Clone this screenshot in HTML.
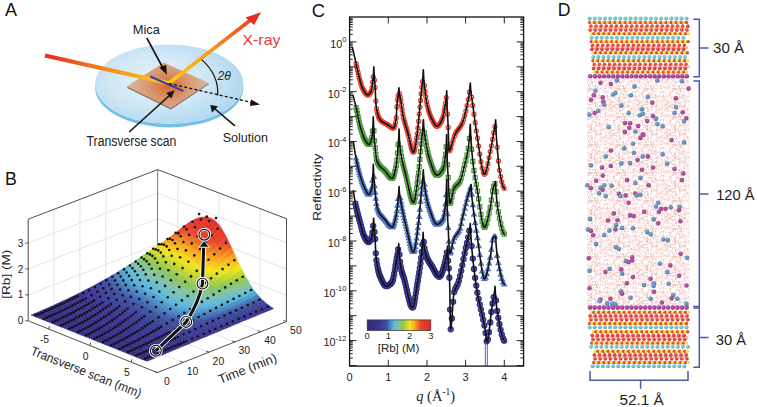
<!DOCTYPE html>
<html><head><meta charset="utf-8"><style>
html,body{margin:0;padding:0;background:#fff;width:757px;height:407px;overflow:hidden}
svg{display:block} .s path{fill:currentColor;stroke:currentColor}
text{font-family:"Liberation Sans",sans-serif}
</style></head><body>
<svg width="757" height="407" viewBox="0 0 757 407">
<rect width="757" height="407" fill="#fff"/>
<text x="5.0" y="16.2" font-size="18" fill="#111">A</text><defs>
<radialGradient id="discg" cx="0.42" cy="0.45" r="0.62">
<stop offset="0" stop-color="#e6f3fa"/><stop offset="0.55" stop-color="#cfe7f5"/><stop offset="1" stop-color="#acd6ef"/></radialGradient>
<radialGradient id="micag" gradientUnits="userSpaceOnUse" cx="168" cy="86" r="38" gradientTransform="translate(168 86) scale(1 0.75) translate(-168 -86)">
<stop offset="0" stop-color="#e0642c"/><stop offset="0.5" stop-color="#d8966e"/><stop offset="1" stop-color="#dcb49c"/></radialGradient>
<linearGradient id="beam1" gradientUnits="userSpaceOnUse" x1="45" y1="55" x2="169" y2="83">
<stop offset="0" stop-color="#e42b25"/><stop offset="0.55" stop-color="#f5921e"/><stop offset="1" stop-color="#fcd21a"/></linearGradient>
<linearGradient id="beam2" gradientUnits="userSpaceOnUse" x1="169" y1="83" x2="261" y2="12">
<stop offset="0" stop-color="#fcd21a"/><stop offset="0.5" stop-color="#f5921e"/><stop offset="1" stop-color="#e42b25"/></linearGradient>
</defs><ellipse cx="169.3" cy="87.4" rx="74.2" ry="40" fill="#78bfe8"/><ellipse cx="169.3" cy="84.5" rx="74" ry="39.6" fill="#d6ecf8"/><ellipse cx="169.3" cy="84" rx="74" ry="39.6" fill="url(#discg)"/><polygon points="126.8,86.6 163.6,62.5 209.1,82.9 171,108.2" fill="#7a6a62" transform="translate(0,1.2)"/><polygon points="126.8,86.6 163.6,62.5 209.1,82.9 171,108.2" fill="url(#micag)"/><line x1="45" y1="55.5" x2="169" y2="83.2" stroke="url(#beam1)" stroke-width="4.2"/><line x1="168" y1="84" x2="250" y2="20.5" stroke="url(#beam2)" stroke-width="3.6"/><polygon points="261,12.2 245.5,17.5 254,25" fill="#e42b25"/><line x1="150.2" y1="76.4" x2="183.4" y2="91.1" stroke="#3b3fa6" stroke-width="2.2"/><line x1="169" y1="83.5" x2="252" y2="102.5" stroke="#111" stroke-width="1.3" stroke-dasharray="3,2.2"/><polygon points="260,104.5 251,99.5 250,106" fill="#111"/><path d="M201.7,59.6 Q219,75 217.7,95.5" fill="none" stroke="#111" stroke-width="1.2"/><text x="217.5" y="80" font-size="12" font-style="italic" fill="#222" style="font-family:'Liberation Sans'">2θ</text><line x1="146.8" y1="38" x2="163.2" y2="68.5" stroke="#111" stroke-width="1.6"/><polygon points="166.8,74.8 159.3,67.6 166.2,64.8" fill="#111"/><line x1="129.2" y1="132" x2="170" y2="95" stroke="#111" stroke-width="1.6"/><polygon points="174.7,90.3 166.2,93 171.3,98.6" fill="#111"/><line x1="234.9" y1="125.9" x2="214.5" y2="108.5" stroke="#111" stroke-width="1.6"/><polygon points="210.3,105 212,112.6 218,106.2" fill="#111"/><text x="132.7" y="34.4" font-size="13.2" textLength="27.2" lengthAdjust="spacingAndGlyphs" fill="#222">Mica</text><text x="242.5" y="45.1" font-size="14.5" textLength="37.9" lengthAdjust="spacingAndGlyphs" fill="#e03a35">X-ray</text><text x="86.6" y="146" font-size="14" textLength="89.8" lengthAdjust="spacingAndGlyphs" fill="#222">Transverse scan</text><text x="222.7" y="142" font-size="13.6" textLength="45.4" lengthAdjust="spacingAndGlyphs" fill="#222">Solution</text><text x="5.0" y="184.9" font-size="17.8" fill="#111">B</text><line x1="54.0" y1="310.6" x2="54.1" y2="209.3" stroke="#dcdcdc" stroke-width="0.8"/><line x1="54.0" y1="310.6" x2="183.1" y2="362.4" stroke="#dcdcdc" stroke-width="0.8"/><line x1="79.8" y1="300.4" x2="80.0" y2="199.4" stroke="#dcdcdc" stroke-width="0.8"/><line x1="79.8" y1="300.4" x2="208.9" y2="352.2" stroke="#dcdcdc" stroke-width="0.8"/><line x1="105.7" y1="290.2" x2="105.9" y2="189.4" stroke="#dcdcdc" stroke-width="0.8"/><line x1="105.7" y1="290.2" x2="234.8" y2="342.0" stroke="#dcdcdc" stroke-width="0.8"/><line x1="131.5" y1="280.0" x2="131.8" y2="179.5" stroke="#dcdcdc" stroke-width="0.8"/><line x1="131.5" y1="280.0" x2="260.6" y2="331.8" stroke="#dcdcdc" stroke-width="0.8"/><polyline points="28.2,294.9 157.4,244.3 286.4,295.4" fill="none" stroke="#dcdcdc" stroke-width="0.8"/><polyline points="28.2,269.0 157.5,218.7 286.5,269.1" fill="none" stroke="#dcdcdc" stroke-width="0.8"/><polyline points="28.2,243.1 157.6,193.2 286.5,242.9" fill="none" stroke="#dcdcdc" stroke-width="0.8"/><line x1="177.6" y1="277.9" x2="177.9" y2="177.3" stroke="#dcdcdc" stroke-width="0.8"/><line x1="48.5" y1="328.9" x2="177.6" y2="277.9" stroke="#dcdcdc" stroke-width="0.8"/><line x1="218.8" y1="294.5" x2="219.1" y2="193.0" stroke="#dcdcdc" stroke-width="0.8"/><line x1="89.7" y1="345.5" x2="218.8" y2="294.5" stroke="#dcdcdc" stroke-width="0.8"/><line x1="260.0" y1="311.0" x2="260.2" y2="208.7" stroke="#dcdcdc" stroke-width="0.8"/><line x1="130.9" y1="362.0" x2="260.0" y2="311.0" stroke="#dcdcdc" stroke-width="0.8"/><polyline points="28.2,320.8 28.2,219.2 157.7,169.6 286.5,218.7 286.4,321.6" fill="none" stroke="#3a3a3a" stroke-width="0.9"/><polyline points="28.2,320.8 157.3,372.6 286.4,321.6" fill="none" stroke="#3a3a3a" stroke-width="0.9"/><line x1="157.3" y1="269.8" x2="157.7" y2="169.6" stroke="#555" stroke-width="0.8"/><g class="s" stroke-width="0.5" stroke-linejoin="round"><path color="#f6e01b" d="M154.5 247.5L157.2 246.2 160.3 243.7 157.7 245.1z"/><path color="#f6cd1c" d="M157.2 246.2L159.8 244.8 163.0 242.2 160.3 243.7z"/><path color="#dfdf23" d="M151.4 249.8L154.0 248.6 157.2 246.2 154.5 247.5z"/><path color="#f6ba1e" d="M159.8 244.8L162.4 243.2 165.6 240.4 163.0 242.2z"/><path color="#f6e41b" d="M154.0 248.6L156.6 247.3 159.8 244.8 157.2 246.2z"/><path color="#c5d82e" d="M148.2 252.0L150.8 251.0 154.0 248.6 151.4 249.8z"/><path color="#f6a81f" d="M162.4 243.2L165.1 241.5 168.2 238.6 165.6 240.4z"/><path color="#f6d21c" d="M156.6 247.3L159.3 245.8 162.4 243.2 159.8 244.8z"/><path color="#dade25" d="M150.8 251.0L153.5 249.8 156.6 247.3 154.0 248.6z"/><path color="#abd03f" d="M145.0 254.2L147.7 253.3 150.8 251.0 148.2 252.0z"/><path color="#f49321" d="M165.1 241.5L167.7 239.6 170.9 236.6 168.2 238.6z"/><path color="#f6c01d" d="M159.3 245.8L161.9 244.3 165.1 241.5 162.4 243.2z"/><path color="#f0e31d" d="M153.5 249.8L156.1 248.5 159.3 245.8 156.6 247.3z"/><path color="#c0d731" d="M147.7 253.3L150.3 252.2 153.5 249.8 150.8 251.0z"/><path color="#92c74f" d="M141.9 256.4L144.5 255.6 147.7 253.3 145.0 254.2z"/><path color="#f17e24" d="M167.7 239.6L170.3 237.7 173.5 234.6 170.9 236.6z"/><path color="#f6af1f" d="M161.9 244.3L164.5 242.6 167.7 239.6 165.1 241.5z"/><path color="#f6d81b" d="M156.1 248.5L158.7 247.0 161.9 244.3 159.3 245.8z"/><path color="#d5dc28" d="M150.3 252.2L152.9 251.1 156.1 248.5 153.5 249.8z"/><path color="#a6ce42" d="M144.5 255.6L147.1 254.7 150.3 252.2 147.7 253.3z"/><path color="#ee6926" d="M170.3 237.7L173.0 235.8 176.1 232.5 173.5 234.6z"/><path color="#89c46f" d="M138.7 258.6L141.3 257.9 144.5 255.6 141.9 256.4z"/><path color="#f59d20" d="M164.5 242.6L167.2 240.8 170.3 237.7 167.7 239.6z"/><path color="#f6c71d" d="M158.7 247.0L161.4 245.5 164.5 242.6 161.9 244.3z"/><path color="#e9e120" d="M152.9 251.1L155.6 249.7 158.7 247.0 156.1 248.5z"/><path color="#bad535" d="M147.1 254.7L149.8 253.6 152.9 251.1 150.3 252.2z"/><path color="#ec5628" d="M173.0 235.8L175.6 233.8 178.8 230.3 176.1 232.5z"/><path color="#8dc652" d="M141.3 257.9L144.0 257.0 147.1 254.7 144.5 255.6z"/><path color="#f38923" d="M167.2 240.8L169.8 239.0 173.0 235.8 170.3 237.7z"/><path color="#84c393" d="M135.5 260.7L138.2 260.1 141.3 257.9 138.7 258.6z"/><path color="#f6b71e" d="M161.4 245.5L164.0 243.8 167.2 240.8 164.5 242.6z"/><path color="#f6df1b" d="M155.6 249.7L158.2 248.3 161.4 245.5 158.7 247.0z"/><path color="#cedb2a" d="M149.8 253.6L152.4 252.4 155.6 249.7 152.9 251.1z"/><path color="#e9432a" d="M175.6 233.8L178.2 231.8 181.4 228.2 178.8 230.3z"/><path color="#a0cc46" d="M144.0 257.0L146.6 256.1 149.8 253.6 147.1 254.7z"/><path color="#f07625" d="M169.8 239.0L172.4 237.1 175.6 233.8 173.0 235.8z"/><path color="#88c477" d="M138.2 260.1L140.8 259.4 144.0 257.0 141.3 257.9z"/><path color="#f6a71f" d="M164.0 243.8L166.6 242.2 169.8 239.0 167.2 240.8z"/><path color="#7dc1ae" d="M132.4 262.8L135.0 262.3 138.2 260.1 135.5 260.7z"/><path color="#f6cf1c" d="M158.2 248.3L160.8 246.8 164.0 243.8 161.4 245.5z"/><path color="#e1df23" d="M152.4 252.4L155.0 251.1 158.2 248.3 155.6 249.7z"/><path color="#e83e2a" d="M178.2 231.8L180.9 229.9 184.0 226.2 181.4 228.2z"/><path color="#b3d239" d="M146.6 256.1L149.2 255.0 152.4 252.4 149.8 253.6z"/><path color="#ee6427" d="M172.4 237.1L175.1 235.3 178.2 231.8 175.6 233.8z"/><path color="#8bc55b" d="M140.8 259.4L143.4 258.5 146.6 256.1 144.0 257.0z"/><path color="#f49521" d="M166.6 242.2L169.3 240.4 172.4 237.1 169.8 239.0z"/><path color="#83c39a" d="M135.0 262.3L137.6 261.6 140.8 259.4 138.2 260.1z"/><path color="#f6c01d" d="M160.8 246.8L163.5 245.3 166.6 242.2 164.0 243.8z"/><path color="#71bebf" d="M129.2 264.8L131.8 264.4 135.0 262.3 132.4 262.8z"/><path color="#f3e41b" d="M155.0 251.1L157.7 249.7 160.8 246.8 158.2 248.3z"/><path color="#e73b2a" d="M180.9 229.9L183.5 228.0 186.7 224.2 184.0 226.2z"/><path color="#c5d82e" d="M149.2 255.0L151.9 253.8 155.0 251.1 152.4 252.4z"/><path color="#eb5328" d="M175.1 235.3L177.7 233.5 180.9 229.9 178.2 231.8z"/><path color="#99ca4a" d="M143.4 258.5L146.1 257.6 149.2 255.0 146.6 256.1z"/><path color="#f28423" d="M169.3 240.4L171.9 238.7 175.1 235.3 172.4 237.1z"/><path color="#87c47f" d="M137.6 261.6L140.3 260.9 143.4 258.5 140.8 259.4z"/><path color="#f6b11f" d="M163.5 245.3L166.1 243.7 169.3 240.4 166.6 242.2z"/><path color="#7ac1b2" d="M131.8 264.4L134.5 263.9 137.6 261.6 135.0 262.3z"/><path color="#f6d81c" d="M157.7 249.7L160.3 248.3 163.5 245.3 160.8 246.8z"/><path color="#65bbd0" d="M126.0 266.8L128.7 266.5 131.8 264.4 129.2 264.8z"/><path color="#e6392a" d="M183.5 228.0L186.1 226.3 189.3 222.4 186.7 224.2z"/><path color="#d7dd26" d="M151.9 253.8L154.5 252.6 157.7 249.7 155.0 251.1z"/><path color="#e9432a" d="M177.7 233.5L180.3 231.8 183.5 228.0 180.9 229.9z"/><path color="#abd03f" d="M146.1 257.6L148.7 256.5 151.9 253.8 149.2 255.0z"/><path color="#f07325" d="M171.9 238.7L174.5 237.0 177.7 233.5 175.1 235.3z"/><path color="#8ac565" d="M140.3 260.9L142.9 260.1 146.1 257.6 143.4 258.5z"/><path color="#f6a320" d="M166.1 243.7L168.7 242.1 171.9 238.7 169.3 240.4z"/><path color="#82c3a3" d="M134.5 263.9L137.1 263.3 140.3 260.9 137.6 261.6z"/><path color="#f6c91d" d="M160.3 248.3L162.9 246.8 166.1 243.7 163.5 245.3z"/><path color="#6ebec3" d="M128.7 266.5L131.3 266.1 134.5 263.9 131.8 264.4z"/><path color="#e5372a" d="M186.1 226.3L188.8 224.8 191.9 220.8 189.3 222.4z"/><path color="#e9e120" d="M154.5 252.6L157.1 251.3 160.3 248.3 157.7 249.7z"/><path color="#5ab9df" d="M122.9 268.8L125.5 268.6 128.7 266.5 126.0 266.8z"/><path color="#e83e2a" d="M180.3 231.8L183.0 230.2 186.1 226.3 183.5 228.0z"/><path color="#bcd533" d="M148.7 256.5L151.3 255.4 154.5 252.6 151.9 253.8z"/><path color="#ed6327" d="M174.5 237.0L177.2 235.4 180.3 231.8 177.7 233.5z"/><path color="#91c74f" d="M142.9 260.1L145.5 259.1 148.7 256.5 146.1 257.6z"/><path color="#f49321" d="M168.7 242.1L171.4 240.5 174.5 237.0 171.9 238.7z"/><path color="#85c48a" d="M137.1 263.3L139.7 262.5 142.9 260.1 140.3 260.9z"/><path color="#f6bc1e" d="M162.9 246.8L165.6 245.4 168.7 242.1 166.1 243.7z"/><path color="#77c0b7" d="M131.3 266.1L133.9 265.6 137.1 263.3 134.5 263.9z"/><path color="#e4352a" d="M188.8 224.8L191.4 223.5 194.6 219.4 191.9 220.8z"/><path color="#f6e11b" d="M157.1 251.3L159.8 250.0 162.9 246.8 160.3 248.3z"/><path color="#62bbd3" d="M125.5 268.6L128.1 268.2 131.3 266.1 128.7 266.5z"/><path color="#e73c2a" d="M183.0 230.2L185.6 228.7 188.8 224.8 186.1 226.3z"/><path color="#cdda2a" d="M151.3 255.4L154.0 254.2 157.1 251.3 154.5 252.6z"/><path color="#53a6d5" d="M119.7 270.7L122.3 270.6 125.5 268.6 122.9 268.8z"/><path color="#eb5528" d="M177.2 235.4L179.8 234.0 183.0 230.2 180.3 231.8z"/><path color="#a2cd44" d="M145.5 259.1L148.2 258.1 151.3 255.4 148.7 256.5z"/><path color="#f28323" d="M171.4 240.5L174.0 239.0 177.2 235.4 174.5 237.0z"/><path color="#89c471" d="M139.7 262.5L142.4 261.7 145.5 259.1 142.9 260.1z"/><path color="#f6af1f" d="M165.6 245.4L168.2 244.0 171.4 240.5 168.7 242.1z"/><path color="#7fc2aa" d="M133.9 265.6L136.6 264.9 139.7 262.5 137.1 263.3z"/><path color="#e4342a" d="M191.4 223.5L194.0 222.4 197.2 218.3 194.6 219.4z"/><path color="#f6d41c" d="M159.8 250.0L162.4 248.6 165.6 245.4 162.9 246.8z"/><path color="#6bbdc7" d="M128.1 268.2L130.8 267.8 133.9 265.6 131.3 266.1z"/><path color="#e63a2a" d="M185.6 228.7L188.2 227.5 191.4 223.5 188.8 224.8z"/><path color="#ddde24" d="M154.0 254.2L156.6 253.0 159.8 250.0 157.1 251.3z"/><path color="#58b4dd" d="M122.3 270.6L125.0 270.4 128.1 268.2 125.5 268.6z"/><path color="#ea482a" d="M179.8 234.0L182.4 232.6 185.6 228.7 183.0 230.2z"/><path color="#b2d23a" d="M148.2 258.1L150.8 257.1 154.0 254.2 151.3 255.4z"/><path color="#4c93cb" d="M116.5 272.7L119.2 272.6 122.3 270.6 119.7 270.7z"/><path color="#f07525" d="M174.0 239.0L176.6 237.7 179.8 234.0 177.2 235.4z"/><path color="#8cc558" d="M142.4 261.7L145.0 260.8 148.2 258.1 145.5 259.1z"/><path color="#f6a320" d="M168.2 244.0L170.8 242.6 174.0 239.0 171.4 240.5z"/><path color="#84c395" d="M136.6 264.9L139.2 264.2 142.4 261.7 139.7 262.5z"/><path color="#e3332a" d="M194.0 222.4L196.7 221.7 199.8 217.5 197.2 218.3z"/><path color="#f6c71d" d="M162.4 248.6L165.0 247.3 168.2 244.0 165.6 245.4z"/><path color="#73bfbc" d="M130.8 267.8L133.4 267.3 136.6 264.9 133.9 265.6z"/><path color="#e6392a" d="M188.2 227.5L190.9 226.5 194.0 222.4 191.4 223.5z"/><path color="#ede21e" d="M156.6 253.0L159.2 251.8 162.4 248.6 159.8 250.0z"/><path color="#5fbad8" d="M125.0 270.4L127.6 270.0 130.8 267.8 128.1 268.2z"/><path color="#e83f2a" d="M182.4 232.6L185.1 231.5 188.2 227.5 185.6 228.7z"/><path color="#c2d730" d="M150.8 257.1L153.4 256.0 156.6 253.0 154.0 254.2z"/><path color="#51a1d2" d="M119.2 272.6L121.8 272.5 125.0 270.4 122.3 270.6z"/><path color="#ee6826" d="M176.6 237.7L179.3 236.4 182.4 232.6 179.8 234.0z"/><path color="#98c94b" d="M145.0 260.8L147.6 259.9 150.8 257.1 148.2 258.1z"/><path color="#4781c0" d="M113.4 274.5L116.0 274.6 119.2 272.6 116.5 272.7z"/><path color="#f49521" d="M170.8 242.6L173.5 241.3 176.6 237.7 174.0 239.0z"/><path color="#87c47e" d="M139.2 264.2L141.8 263.5 145.0 260.8 142.4 261.7z"/><path color="#e3322a" d="M196.7 221.7L199.3 221.2 202.5 217.0 199.8 217.5z"/><path color="#f6bc1e" d="M165.0 247.3L167.7 246.1 170.8 242.6 168.2 244.0z"/><path color="#7bc1b0" d="M133.4 267.3L136.0 266.7 139.2 264.2 136.6 264.9z"/><path color="#e5372a" d="M190.9 226.5L193.5 225.8 196.7 221.7 194.0 222.4z"/><path color="#f6df1b" d="M159.2 251.8L161.9 250.6 165.0 247.3 162.4 248.6z"/><path color="#67bccc" d="M127.6 270.0L130.2 269.6 133.4 267.3 130.8 267.8z"/><path color="#e83d2a" d="M185.1 231.5L187.7 230.6 190.9 226.5 188.2 227.5z"/><path color="#d1db29" d="M153.4 256.0L156.1 254.9 159.2 251.8 156.6 253.0z"/><path color="#56aeda" d="M121.8 272.5L124.4 272.2 127.6 270.0 125.0 270.4z"/><path color="#ec5c27" d="M179.3 236.4L181.9 235.4 185.1 231.5 182.4 232.6z"/><path color="#a7ce41" d="M147.6 259.9L150.3 258.9 153.4 256.0 150.8 257.1z"/><path color="#4a8fc8" d="M116.0 274.6L118.6 274.5 121.8 272.5 119.2 272.6z"/><path color="#f38823" d="M173.5 241.3L176.1 240.2 179.3 236.4 176.6 237.7z"/><path color="#8ac567" d="M141.8 263.5L144.5 262.7 147.6 259.9 145.0 260.8z"/><path color="#436fb4" d="M110.2 276.4L112.8 276.5 116.0 274.6 113.4 274.5z"/><path color="#e2312a" d="M199.3 221.2L201.9 221.2 205.1 216.9 202.5 217.0z"/><path color="#f6b11f" d="M167.7 246.1L170.3 244.9 173.5 241.3 170.8 242.6z"/><path color="#82c3a2" d="M136.0 266.7L138.7 266.1 141.8 263.5 139.2 264.2z"/><path color="#e5362a" d="M193.5 225.8L196.1 225.4 199.3 221.2 196.7 221.7z"/><path color="#f6d41c" d="M161.9 250.6L164.5 249.5 167.7 246.1 165.0 247.3z"/><path color="#6fbec1" d="M130.2 269.6L132.9 269.2 136.0 266.7 133.4 267.3z"/><path color="#e73c2a" d="M187.7 230.6L190.3 229.9 193.5 225.8 190.9 226.5z"/><path color="#dfdf23" d="M156.1 254.9L158.7 253.8 161.9 250.6 159.2 251.8z"/><path color="#5bb9dd" d="M124.4 272.2L127.1 271.9 130.2 269.6 127.6 270.0z"/><path color="#eb5229" d="M181.9 235.4L184.5 234.5 187.7 230.6 185.1 231.5z"/><path color="#b6d338" d="M150.3 258.9L152.9 258.0 156.1 254.9 153.4 256.0z"/><path color="#4f9ccf" d="M118.6 274.5L121.3 274.4 124.4 272.2 121.8 272.5z"/><path color="#f17c24" d="M176.1 240.2L178.7 239.2 181.9 235.4 179.3 236.4z"/><path color="#8dc652" d="M144.5 262.7L147.1 261.8 150.3 258.9 147.6 259.9z"/><path color="#467cbc" d="M112.8 276.5L115.5 276.5 118.6 274.5 116.0 274.6z"/><path color="#e2302a" d="M201.9 221.2L204.6 221.4 207.7 217.2 205.1 216.9z"/><path color="#f6a71f" d="M170.3 244.9L172.9 243.8 176.1 240.2 173.5 241.3z"/><path color="#85c38c" d="M138.7 266.1L141.3 265.4 144.5 262.7 141.8 263.5z"/><path color="#405ea9" d="M107.0 278.2L109.7 278.4 112.8 276.5 110.2 276.4z"/><path color="#e4352a" d="M196.1 225.4L198.8 225.4 201.9 221.2 199.3 221.2z"/><path color="#f6c91d" d="M164.5 249.5L167.1 248.4 170.3 244.9 167.7 246.1z"/><path color="#77c0b7" d="M132.9 269.2L135.5 268.6 138.7 266.1 136.0 266.7z"/><path color="#e73b2a" d="M190.3 229.9L193.0 229.5 196.1 225.4 193.5 225.8z"/><path color="#ede21e" d="M158.7 253.8L161.3 252.8 164.5 249.5 161.9 250.6z"/><path color="#63bbd2" d="M127.1 271.9L129.7 271.5 132.9 269.2 130.2 269.6z"/><path color="#ea4929" d="M184.5 234.5L187.2 233.9 190.3 229.9 187.7 230.6z"/><path color="#c4d82f" d="M152.9 258.0L155.5 257.0 158.7 253.8 156.1 254.9z"/><path color="#53a8d6" d="M121.3 274.4L123.9 274.1 127.1 271.9 124.4 272.2z"/><path color="#ef7225" d="M178.7 239.2L181.4 238.4 184.5 234.5 181.9 235.4z"/><path color="#9bca49" d="M147.1 261.8L149.7 260.9 152.9 258.0 150.3 258.9z"/><path color="#4989c5" d="M115.5 276.5L118.1 276.5 121.3 274.4 118.6 274.5z"/><path color="#e2302a" d="M204.6 221.4L207.2 222.1 210.4 217.9 207.7 217.2z"/><path color="#f59c20" d="M172.9 243.8L175.6 242.9 178.7 239.2 176.1 240.2z"/><path color="#88c477" d="M141.3 265.4L143.9 264.6 147.1 261.8 144.5 262.7z"/><path color="#426ab1" d="M109.7 278.4L112.3 278.5 115.5 276.5 112.8 276.5z"/><path color="#e4352a" d="M198.8 225.4L201.4 225.6 204.6 221.4 201.9 221.2z"/><path color="#f6bf1d" d="M167.1 248.4L169.8 247.4 172.9 243.8 170.3 244.9z"/><path color="#7ec2ac" d="M135.5 268.6L138.1 268.0 141.3 265.4 138.7 266.1z"/><path color="#3c4e9f" d="M103.9 280.0L106.5 280.3 109.7 278.4 107.0 278.2z"/><path color="#e63a2a" d="M193.0 229.5L195.6 229.5 198.8 225.4 196.1 225.4z"/><path color="#f6e11b" d="M161.3 252.8L164.0 251.8 167.1 248.4 164.5 249.5z"/><path color="#6abdc8" d="M129.7 271.5L132.3 271.1 135.5 268.6 132.9 269.2z"/><path color="#e9412a" d="M187.2 233.9L189.8 233.6 193.0 229.5 190.3 229.9z"/><path color="#d1db29" d="M155.5 257.0L158.2 256.1 161.3 252.8 158.7 253.8z"/><path color="#58b5dd" d="M123.9 274.1L126.5 273.9 129.7 271.5 127.1 271.9z"/><path color="#ee6926" d="M181.4 238.4L184.0 237.9 187.2 233.9 184.5 234.5z"/><path color="#a9cf40" d="M149.7 260.9L152.4 260.1 155.5 257.0 152.9 258.0z"/><path color="#4c95cc" d="M118.1 276.5L120.7 276.3 123.9 274.1 121.3 274.4z"/><path color="#e2302a" d="M207.2 222.1L209.8 223.2 213.0 219.1 210.4 217.9z"/><path color="#f49122" d="M175.6 242.9L178.2 242.2 181.4 238.4 178.7 239.2z"/><path color="#8ac563" d="M143.9 264.6L146.6 263.9 149.7 260.9 147.1 261.8z"/><path color="#4576b9" d="M112.3 278.5L114.9 278.5 118.1 276.5 115.5 276.5z"/><path color="#e4342a" d="M201.4 225.6L204.0 226.3 207.2 222.1 204.6 221.4z"/><path color="#f6b61e" d="M169.8 247.4L172.4 246.6 175.6 242.9 172.9 243.8z"/><path color="#83c39c" d="M138.1 268.0L140.8 267.4 143.9 264.6 141.3 265.4z"/><path color="#3f58a6" d="M106.5 280.3L109.1 280.4 112.3 278.5 109.7 278.4z"/><path color="#e6392a" d="M195.6 229.5L198.2 229.8 201.4 225.6 198.8 225.4z"/><path color="#f6d71c" d="M164.0 251.8L166.6 251.0 169.8 247.4 167.1 248.4z"/><path color="#72bfbe" d="M132.3 271.1L135.0 270.6 138.1 268.0 135.5 268.6z"/><path color="#3c499d" d="M100.7 281.8L103.3 282.1 106.5 280.3 103.9 280.0z"/><path color="#e83f2a" d="M189.8 233.6L192.4 233.6 195.6 229.5 193.0 229.5z"/><path color="#ddde24" d="M158.2 256.1L160.8 255.2 164.0 251.8 161.3 252.8z"/><path color="#5ebad9" d="M126.5 273.9L129.2 273.5 132.3 271.1 129.7 271.5z"/><path color="#ed6127" d="M184.0 237.9L186.6 237.6 189.8 233.6 187.2 233.9z"/><path color="#b6d338" d="M152.4 260.1L155.0 259.3 158.2 256.1 155.5 257.0z"/><path color="#51a1d2" d="M120.7 276.3L123.4 276.1 126.5 273.9 123.9 274.1z"/><path color="#e2302a" d="M209.8 223.2L212.5 225.1 215.6 221.1 213.0 219.1z"/><path color="#f38823" d="M178.2 242.2L180.8 241.7 184.0 237.9 181.4 238.4z"/><path color="#8fc651" d="M146.6 263.9L149.2 263.1 152.4 260.1 149.7 260.9z"/><path color="#4782c0" d="M114.9 278.5L117.6 278.5 120.7 276.3 118.1 276.5z"/><path color="#e4342a" d="M204.0 226.3L206.7 227.3 209.8 223.2 207.2 222.1z"/><path color="#f6ae1f" d="M172.4 246.6L175.0 246.0 178.2 242.2 175.6 242.9z"/><path color="#85c489" d="M140.8 267.4L143.4 266.7 146.6 263.9 143.9 264.6z"/><path color="#4164ad" d="M109.1 280.4L111.8 280.5 114.9 278.5 112.3 278.5z"/><path color="#e6392a" d="M198.2 229.8L200.9 230.4 204.0 226.3 201.4 225.6z"/><path color="#f6ce1c" d="M166.6 251.0L169.2 250.2 172.4 246.6 169.8 247.4z"/><path color="#79c0b4" d="M135.0 270.6L137.6 270.1 140.8 267.4 138.1 268.0z"/><path color="#3c4d9f" d="M103.3 282.1L106.0 282.4 109.1 280.4 106.5 280.3z"/><path color="#e83e2a" d="M192.4 233.6L195.1 233.8 198.2 229.8 195.6 229.5z"/><path color="#e9e11f" d="M160.8 255.2L163.4 254.4 166.6 251.0 164.0 251.8z"/><path color="#65bbcf" d="M129.2 273.5L131.8 273.1 135.0 270.6 132.3 271.1z"/><path color="#3c459c" d="M97.5 283.5L100.2 283.9 103.3 282.1 100.7 281.8z"/><path color="#ec5a28" d="M186.6 237.6L189.3 237.6 192.4 233.6 189.8 233.6z"/><path color="#c2d730" d="M155.0 259.3L157.6 258.5 160.8 255.2 158.2 256.1z"/><path color="#55add9" d="M123.4 276.1L126.0 275.9 129.2 273.5 126.5 273.9z"/><path color="#e3312a" d="M212.5 225.1L215.1 227.8 218.3 223.9 215.6 221.1z"/><path color="#f18023" d="M180.8 241.7L183.5 241.5 186.6 237.6 184.0 237.9z"/><path color="#9bca49" d="M149.2 263.1L151.8 262.4 155.0 259.3 152.4 260.1z"/><path color="#4a8ec8" d="M117.6 278.5L120.2 278.4 123.4 276.1 120.7 276.3z"/><path color="#e4352a" d="M206.7 227.3L209.3 229.1 212.5 225.1 209.8 223.2z"/><path color="#f6a71f" d="M175.0 246.0L177.7 245.6 180.8 241.7 178.2 242.2z"/><path color="#88c476" d="M143.4 266.7L146.0 266.1 149.2 263.1 146.6 263.9z"/><path color="#4370b5" d="M111.8 280.5L114.4 280.6 117.6 278.5 114.9 278.5z"/><path color="#e6392a" d="M200.9 230.4L203.5 231.4 206.7 227.3 204.0 226.3z"/><path color="#f6c61d" d="M169.2 250.2L171.9 249.7 175.0 246.0 172.4 246.6z"/><path color="#7fc2ab" d="M137.6 270.1L140.2 269.5 143.4 266.7 140.8 267.4z"/><path color="#3d53a2" d="M106.0 282.4L108.6 282.5 111.8 280.5 109.1 280.4z"/><path color="#e83e2a" d="M195.1 233.8L197.7 234.5 200.9 230.4 198.2 229.8z"/><path color="#f4e41b" d="M163.4 254.4L166.1 253.8 169.2 250.2 166.6 251.0z"/><path color="#6cbdc5" d="M131.8 273.1L134.4 272.7 137.6 270.1 135.0 270.6z"/><path color="#3c489d" d="M100.2 283.9L102.8 284.2 106.0 282.4 103.3 282.1z"/><path color="#eb5528" d="M189.3 237.6L191.9 237.9 195.1 233.8 192.4 233.6z"/><path color="#cdda2b" d="M157.6 258.5L160.3 257.8 163.4 254.4 160.8 255.2z"/><path color="#59b8df" d="M126.0 275.9L128.6 275.6 131.8 273.1 129.2 273.5z"/><path color="#3c419a" d="M94.4 285.3L97.0 285.7 100.2 283.9 97.5 283.5z"/><path color="#e4332a" d="M215.1 227.8L217.7 231.2 220.9 227.5 218.3 223.9z"/><path color="#f17924" d="M183.5 241.5L186.1 241.5 189.3 237.6 186.6 237.6z"/><path color="#a7ce41" d="M151.8 262.4L154.5 261.7 157.6 258.5 155.0 259.3z"/><path color="#4e99ce" d="M120.2 278.4L122.8 278.2 126.0 275.9 123.4 276.1z"/><path color="#e4362a" d="M209.3 229.1L211.9 231.6 215.1 227.8 212.5 225.1z"/><path color="#f69f20" d="M177.7 245.6L180.3 245.3 183.5 241.5 180.8 241.7z"/><path color="#8ac564" d="M146.0 266.1L148.7 265.5 151.8 262.4 149.2 263.1z"/><path color="#467bbc" d="M114.4 280.6L117.0 280.6 120.2 278.4 117.6 278.5z"/><path color="#e6392a" d="M203.5 231.4L206.1 233.1 209.3 229.1 206.7 227.3z"/><path color="#f6bf1d" d="M171.9 249.7L174.5 249.3 177.7 245.6 175.0 246.0z"/><path color="#83c39b" d="M140.2 269.5L142.9 269.0 146.0 266.1 143.4 266.7z"/><path color="#405da9" d="M108.6 282.5L111.2 282.7 114.4 280.6 111.8 280.5z"/><path color="#e83d2a" d="M197.7 234.5L200.3 235.4 203.5 231.4 200.9 230.4z"/><path color="#f6de1b" d="M166.1 253.8L168.7 253.3 171.9 249.7 169.2 250.2z"/><path color="#73bfbc" d="M134.4 272.7L137.1 272.3 140.2 269.5 137.6 270.1z"/><path color="#3c4b9e" d="M102.8 284.2L105.4 284.5 108.6 282.5 106.0 282.4z"/><path color="#eb5129" d="M191.9 237.9L194.5 238.5 197.7 234.5 195.1 233.8z"/><path color="#d7dd26" d="M160.3 257.8L162.9 257.2 166.1 253.8 163.4 254.4z"/><path color="#60bad7" d="M128.6 275.6L131.3 275.3 134.4 272.7 131.8 273.1z"/><path color="#3c449b" d="M97.0 285.7L99.6 286.1 102.8 284.2 100.2 283.9z"/><path color="#e5362a" d="M217.7 231.2L220.4 235.2 223.5 231.8 220.9 227.5z"/><path color="#f07425" d="M186.1 241.5L188.7 241.8 191.9 237.9 189.3 237.6z"/><path color="#b2d23a" d="M154.5 261.7L157.1 261.1 160.3 257.8 157.6 258.5z"/><path color="#52a4d4" d="M122.8 278.2L125.5 278.0 128.6 275.6 126.0 275.9z"/><path color="#3c3d98" d="M91.2 287.0L93.8 287.4 97.0 285.7 94.4 285.3z"/><path color="#e5372a" d="M211.9 231.6L214.6 234.9 217.7 231.2 215.1 227.8z"/><path color="#f59821" d="M180.3 245.3L182.9 245.4 186.1 241.5 183.5 241.5z"/><path color="#8cc553" d="M148.7 265.5L151.3 264.9 154.5 261.7 151.8 262.4z"/><path color="#4886c3" d="M117.0 280.6L119.7 280.5 122.8 278.2 120.2 278.4z"/><path color="#e63a2a" d="M206.1 233.1L208.8 235.4 211.9 231.6 209.3 229.1z"/><path color="#f6b91e" d="M174.5 249.3L177.1 249.1 180.3 245.3 177.7 245.6z"/><path color="#85c48a" d="M142.9 269.0L145.5 268.5 148.7 265.5 146.0 266.1z"/><path color="#4268b0" d="M111.2 282.7L113.9 282.7 117.0 280.6 114.4 280.6z"/><path color="#e83d2a" d="M200.3 235.4L203.0 237.0 206.1 233.1 203.5 231.4z"/><path color="#f6d71c" d="M168.7 253.3L171.3 253.0 174.5 249.3 171.9 249.7z"/><path color="#79c0b4" d="M137.1 272.3L139.7 271.8 142.9 269.0 140.2 269.5z"/><path color="#3c4e9f" d="M105.4 284.5L108.1 284.7 111.2 282.7 108.6 282.5z"/><path color="#eb4f29" d="M194.5 238.5L197.2 239.4 200.3 235.4 197.7 234.5z"/><path color="#e1df23" d="M162.9 257.2L165.5 256.8 168.7 253.3 166.1 253.8z"/><path color="#66bcce" d="M131.3 275.3L133.9 274.9 137.1 272.3 134.4 272.7z"/><path color="#3c469c" d="M99.6 286.1L102.3 286.4 105.4 284.5 102.8 284.2z"/><path color="#e63a2a" d="M220.4 235.2L223.0 239.8 226.2 236.5 223.5 231.8z"/><path color="#ef7025" d="M188.7 241.8L191.4 242.4 194.5 238.5 191.9 237.9z"/><path color="#bcd534" d="M157.1 261.1L159.7 260.7 162.9 257.2 160.3 257.8z"/><path color="#56afda" d="M125.5 278.0L128.1 277.8 131.3 275.3 128.6 275.6z"/><path color="#3c3f99" d="M93.8 287.4L96.5 287.9 99.6 286.1 97.0 285.7z"/><path color="#e63a2a" d="M214.6 234.9L217.2 238.7 220.4 235.2 217.7 231.2z"/><path color="#f49321" d="M182.9 245.4L185.6 245.7 188.7 241.8 186.1 241.5z"/><path color="#97c94c" d="M151.3 264.9L153.9 264.4 157.1 261.1 154.5 261.7z"/><path color="#4b91c9" d="M119.7 280.5L122.3 280.4 125.5 278.0 122.8 278.2z"/><path color="#3c3997" d="M88.0 288.6L90.7 289.2 93.8 287.4 91.2 287.0z"/><path color="#e73b2a" d="M208.8 235.4L211.4 238.5 214.6 234.9 211.9 231.6z"/><path color="#f6b31e" d="M177.1 249.1L179.8 249.2 182.9 245.4 180.3 245.3z"/><path color="#87c479" d="M145.5 268.5L148.1 268.0 151.3 264.9 148.7 265.5z"/><path color="#4473b7" d="M113.9 282.7L116.5 282.8 119.7 280.5 117.0 280.6z"/><path color="#e83e2a" d="M203.0 237.0L205.6 239.2 208.8 235.4 206.1 233.1z"/><path color="#f6d11c" d="M171.3 253.0L174.0 252.8 177.1 249.1 174.5 249.3z"/><path color="#7fc2ab" d="M139.7 271.8L142.3 271.4 145.5 268.5 142.9 269.0z"/><path color="#3e56a4" d="M108.1 284.7L110.7 284.8 113.9 282.7 111.2 282.7z"/><path color="#eb4e29" d="M197.2 239.4L199.8 240.8 203.0 237.0 200.3 235.4z"/><path color="#eae21f" d="M165.5 256.8L168.2 256.6 171.3 253.0 168.7 253.3z"/><path color="#6cbdc5" d="M133.9 274.9L136.5 274.6 139.7 271.8 137.1 272.3z"/><path color="#3c499d" d="M102.3 286.4L104.9 286.7 108.1 284.7 105.4 284.5z"/><path color="#e83e2a" d="M223.0 239.8L225.6 244.8 228.8 241.8 226.2 236.5z"/><path color="#ef6e25" d="M191.4 242.4L194.0 243.3 197.2 239.4 194.5 238.5z"/><path color="#c5d82e" d="M159.7 260.7L162.4 260.3 165.5 256.8 162.9 257.2z"/><path color="#5ab9df" d="M128.1 277.8L130.7 277.6 133.9 274.9 131.3 275.3z"/><path color="#3c429b" d="M96.5 287.9L99.1 288.3 102.3 286.4 99.6 286.1z"/><path color="#e73d2a" d="M217.2 238.7L219.8 243.1 223.0 239.8 220.4 235.2z"/><path color="#f38f22" d="M185.6 245.7L188.2 246.3 191.4 242.4 188.7 241.8z"/><path color="#a1cc45" d="M153.9 264.4L156.6 264.0 159.7 260.7 157.1 261.1z"/><path color="#4f9bcf" d="M122.3 280.4L124.9 280.3 128.1 277.8 125.5 278.0z"/><path color="#3c3b98" d="M90.7 289.2L93.3 289.7 96.5 287.9 93.8 287.4z"/><path color="#e83d2a" d="M211.4 238.5L214.0 242.2 217.2 238.7 214.6 234.9z"/><path color="#f6af1f" d="M179.8 249.2L182.4 249.5 185.6 245.7 182.9 245.4z"/><path color="#89c56a" d="M148.1 268.0L150.8 267.6 153.9 264.4 151.3 264.9z"/><path color="#467dbd" d="M116.5 282.8L119.1 282.7 122.3 280.4 119.7 280.5z"/><path color="#3b3595" d="M84.9 290.3L87.5 290.9 90.7 289.2 88.0 288.6z"/><path color="#e83f2a" d="M205.6 239.2L208.2 242.1 211.4 238.5 208.8 235.4z"/><path color="#f6cb1c" d="M174.0 252.8L176.6 252.9 179.8 249.2 177.1 249.1z"/><path color="#83c39f" d="M142.3 271.4L145.0 271.0 148.1 268.0 145.5 268.5z"/><path color="#4060ab" d="M110.7 284.8L113.3 285.0 116.5 282.8 113.9 282.7z"/><path color="#eb5129" d="M199.8 240.8L202.4 243.0 205.6 239.2 203.0 237.0z"/><path color="#f1e31c" d="M168.2 256.6L170.8 256.5 174.0 252.8 171.3 253.0z"/><path color="#72bfbd" d="M136.5 274.6L139.2 274.3 142.3 271.4 139.7 271.8z"/><path color="#3c4c9e" d="M104.9 286.7L107.5 286.9 110.7 284.8 108.1 284.7z"/><path color="#eb5528" d="M225.6 244.8L228.3 250.1 231.4 247.3 228.8 241.8z"/><path color="#ef6d26" d="M194.0 243.3L196.6 244.7 199.8 240.8 197.2 239.4z"/><path color="#cedb2a" d="M162.4 260.3L165.0 260.1 168.2 256.6 165.5 256.8z"/><path color="#60bad7" d="M130.7 277.6L133.4 277.3 136.5 274.6 133.9 274.9z"/><path color="#3c459c" d="M99.1 288.3L101.7 288.6 104.9 286.7 102.3 286.4z"/><path color="#ea482a" d="M219.8 243.1L222.5 247.9 225.6 244.8 223.0 239.8z"/><path color="#f38c22" d="M188.2 246.3L190.8 247.1 194.0 243.3 191.4 242.4z"/><path color="#aacf3f" d="M156.6 264.0L159.2 263.7 162.4 260.3 159.7 260.7z"/><path color="#52a5d5" d="M124.9 280.3L127.6 280.1 130.7 277.6 128.1 277.8z"/><path color="#3c3e99" d="M93.3 289.7L95.9 290.1 99.1 288.3 96.5 287.9z"/><path color="#e9452a" d="M214.0 242.2L216.7 246.3 219.8 243.1 217.2 238.7z"/><path color="#f6ab1f" d="M182.4 249.5L185.0 250.1 188.2 246.3 185.6 245.7z"/><path color="#8bc55b" d="M150.8 267.6L153.4 267.2 156.6 264.0 153.9 264.4z"/><path color="#4888c4" d="M119.1 282.7L121.8 282.7 124.9 280.3 122.3 280.4z"/><path color="#3c3896" d="M87.5 290.9L90.1 291.4 93.3 289.7 90.7 289.2z"/><path color="#ea4a29" d="M208.2 242.1L210.9 245.6 214.0 242.2 211.4 238.5z"/><path color="#f6c71d" d="M176.6 252.9L179.2 253.3 182.4 249.5 179.8 249.2z"/><path color="#85c390" d="M145.0 271.0L147.6 270.7 150.8 267.6 148.1 268.0z"/><path color="#426ab1" d="M113.3 285.0L116.0 285.0 119.1 282.7 116.5 282.8z"/><path color="#3b3594" d="M81.7 291.9L84.3 292.5 87.5 290.9 84.9 290.3z"/><path color="#ec5728" d="M202.4 243.0L205.1 245.7 208.2 242.1 205.6 239.2z"/><path color="#f6e31b" d="M170.8 256.5L173.4 256.6 176.6 252.9 174.0 252.8z"/><path color="#77c0b6" d="M139.2 274.3L141.8 274.0 145.0 271.0 142.3 271.4z"/><path color="#3c4e9f" d="M107.5 286.9L110.2 287.1 113.3 285.0 110.7 284.8z"/><path color="#f17924" d="M228.3 250.1L230.9 255.6 234.1 252.9 231.4 247.3z"/><path color="#ef6d25" d="M196.6 244.7L199.3 246.7 202.4 243.0 199.8 240.8z"/><path color="#d5dc27" d="M165.0 260.1L167.6 260.1 170.8 256.5 168.2 256.6z"/><path color="#65bbcf" d="M133.4 277.3L136.0 277.1 139.2 274.3 136.5 274.6z"/><path color="#3c479d" d="M101.7 288.6L104.4 288.9 107.5 286.9 104.9 286.7z"/><path color="#ee6726" d="M222.5 247.9L225.1 253.0 228.3 250.1 225.6 244.8z"/><path color="#f38a22" d="M190.8 247.1L193.5 248.4 196.6 244.7 194.0 243.3z"/><path color="#b2d23a" d="M159.2 263.7L161.8 263.6 165.0 260.1 162.4 260.3z"/><path color="#56afda" d="M127.6 280.1L130.2 280.0 133.4 277.3 130.7 277.6z"/><path color="#3c409a" d="M95.9 290.1L98.6 290.5 101.7 288.6 99.1 288.3z"/><path color="#ed5d27" d="M216.7 246.3L219.3 250.9 222.5 247.9 219.8 243.1z"/><path color="#f6a91f" d="M185.0 250.1L187.7 250.9 190.8 247.1 188.2 246.3z"/><path color="#8fc651" d="M153.4 267.2L156.0 267.0 159.2 263.7 156.6 264.0z"/><path color="#4b91ca" d="M121.8 282.7L124.4 282.6 127.6 280.1 124.9 280.3z"/><path color="#3c3a97" d="M90.1 291.4L92.8 291.9 95.9 290.1 93.3 289.7z"/><path color="#ec5c27" d="M210.9 245.6L213.5 249.6 216.7 246.3 214.0 242.2z"/><path color="#f6c31d" d="M179.2 253.3L181.9 253.8 185.0 250.1 182.4 249.5z"/><path color="#86c482" d="M147.6 270.7L150.2 270.4 153.4 267.2 150.8 267.6z"/><path color="#4474b7" d="M116.0 285.0L118.6 285.1 121.8 282.7 119.1 282.7z"/><path color="#3b3595" d="M84.3 292.5L87.0 293.1 90.1 291.4 87.5 290.9z"/><path color="#ed6327" d="M205.1 245.7L207.7 249.0 210.9 245.6 208.2 242.1z"/><path color="#f6de1b" d="M173.4 256.6L176.1 257.0 179.2 253.3 176.6 252.9z"/><path color="#7cc1af" d="M141.8 274.0L144.4 273.7 147.6 270.7 145.0 271.0z"/><path color="#3e58a5" d="M110.2 287.1L112.8 287.3 116.0 285.0 113.3 285.0z"/><path color="#3a3492" d="M78.5 293.5L81.2 294.2 84.3 292.5 81.7 291.9z"/><path color="#f6a120" d="M230.9 255.6L233.5 261.0 236.7 258.6 234.1 252.9z"/><path color="#f07325" d="M199.3 246.7L201.9 249.3 205.1 245.7 202.4 243.0z"/><path color="#dcde25" d="M167.6 260.1L170.3 260.2 173.4 256.6 170.8 256.5z"/><path color="#6bbdc8" d="M136.0 277.1L138.6 276.9 141.8 274.0 139.2 274.3z"/><path color="#3c4a9e" d="M104.4 288.9L107.0 289.2 110.2 287.1 107.5 286.9z"/><path color="#f38922" d="M225.1 253.0L227.7 258.2 230.9 255.6 228.3 250.1z"/><path color="#f38b22" d="M193.5 248.4L196.1 250.3 199.3 246.7 196.6 244.7z"/><path color="#bad535" d="M161.8 263.6L164.5 263.6 167.6 260.1 165.0 260.1z"/><path color="#59b8df" d="M130.2 280.0L132.8 279.8 136.0 277.1 133.4 277.3z"/><path color="#3c439b" d="M98.6 290.5L101.2 290.9 104.4 288.9 101.7 288.6z"/><path color="#f17924" d="M219.3 250.9L221.9 255.8 225.1 253.0 222.5 247.9z"/><path color="#f6a71f" d="M187.7 250.9L190.3 252.2 193.5 248.4 190.8 247.1z"/><path color="#98c94b" d="M156.0 267.0L158.7 266.9 161.8 263.6 159.2 263.7z"/><path color="#4e9acf" d="M124.4 282.6L127.0 282.6 130.2 280.0 127.6 280.1z"/><path color="#3c3c98" d="M92.8 291.9L95.4 292.4 98.6 290.5 95.9 290.1z"/><path color="#f07225" d="M213.5 249.6L216.1 254.0 219.3 250.9 216.7 246.3z"/><path color="#f6c01d" d="M181.9 253.8L184.5 254.7 187.7 250.9 185.0 250.1z"/><path color="#88c475" d="M150.2 270.4L152.9 270.3 156.0 267.0 153.4 267.2z"/><path color="#467dbd" d="M118.6 285.1L121.2 285.1 124.4 282.6 121.8 282.7z"/><path color="#3c3696" d="M87.0 293.1L89.6 293.7 92.8 291.9 90.1 291.4z"/><path color="#f07325" d="M207.7 249.0L210.3 252.8 213.5 249.6 210.9 245.6z"/><path color="#f6da1b" d="M176.1 257.0L178.7 257.5 181.9 253.8 179.2 253.3z"/><path color="#81c2a8" d="M144.4 273.7L147.1 273.6 150.2 270.4 147.6 270.7z"/><path color="#4061ab" d="M112.8 287.3L115.4 287.4 118.6 285.1 116.0 285.0z"/><path color="#3b3493" d="M81.2 294.2L83.8 294.8 87.0 293.1 84.3 292.5z"/><path color="#f6c31d" d="M233.5 261.0L236.2 266.4 239.3 264.2 236.7 258.6z"/><path color="#f17d24" d="M201.9 249.3L204.5 252.4 207.7 249.0 205.1 245.7z"/><path color="#e1df23" d="M170.3 260.2L172.9 260.6 176.1 257.0 173.4 256.6z"/><path color="#70bec1" d="M138.6 276.9L141.3 276.7 144.4 273.7 141.8 274.0z"/><path color="#3c4c9f" d="M107.0 289.2L109.6 289.4 112.8 287.3 110.2 287.1z"/><path color="#3a3390" d="M75.4 295.1L78.0 295.8 81.2 294.2 78.5 293.5z"/><path color="#f6ac1f" d="M227.7 258.2L230.4 263.5 233.5 261.0 230.9 255.6z"/><path color="#f38e22" d="M196.1 250.3L198.7 252.8 201.9 249.3 199.3 246.7z"/><path color="#c0d731" d="M164.5 263.6L167.1 263.8 170.3 260.2 167.6 260.1z"/><path color="#5ebad9" d="M132.8 279.8L135.5 279.7 138.6 276.9 136.0 277.1z"/><path color="#3c459c" d="M101.2 290.9L103.8 291.3 107.0 289.2 104.4 288.9z"/><path color="#f59a21" d="M221.9 255.8L224.6 260.8 227.7 258.2 225.1 253.0z"/><path color="#f6a71f" d="M190.3 252.2L192.9 254.0 196.1 250.3 193.5 248.4z"/><path color="#9fcc47" d="M158.7 266.9L161.3 267.0 164.5 263.6 161.8 263.6z"/><path color="#52a3d4" d="M127.0 282.6L129.7 282.5 132.8 279.8 130.2 280.0z"/><path color="#3c3e99" d="M95.4 292.4L98.0 292.9 101.2 290.9 98.6 290.5z"/><path color="#f38c22" d="M216.1 254.0L218.8 258.6 221.9 255.8 219.3 250.9z"/><path color="#f6bf1d" d="M184.5 254.7L187.1 255.8 190.3 252.2 187.7 250.9z"/><path color="#8ac569" d="M152.9 270.3L155.5 270.3 158.7 266.9 156.0 267.0z"/><path color="#4886c3" d="M121.2 285.1L123.9 285.1 127.0 282.6 124.4 282.6z"/><path color="#3c3896" d="M89.6 293.7L92.2 294.2 95.4 292.4 92.8 291.9z"/><path color="#f38823" d="M210.3 252.8L213.0 257.0 216.1 254.0 213.5 249.6z"/><path color="#f6d81c" d="M178.7 257.5L181.3 258.4 184.5 254.7 181.9 253.8z"/><path color="#83c39b" d="M147.1 273.6L149.7 273.5 152.9 270.3 150.2 270.4z"/><path color="#426ab1" d="M115.4 287.4L118.1 287.5 121.2 285.1 118.6 285.1z"/><path color="#3b3594" d="M83.8 294.8L86.4 295.5 89.6 293.7 87.0 293.1z"/><path color="#f4e41b" d="M236.2 266.4L238.8 271.7 242.0 269.6 239.3 264.2z"/><path color="#f38b22" d="M204.5 252.4L207.2 256.0 210.3 252.8 207.7 249.0z"/><path color="#e6e121" d="M172.9 260.6L175.5 261.2 178.7 257.5 176.1 257.0z"/><path color="#74bfba" d="M141.3 276.7L143.9 276.6 147.1 273.6 144.4 273.7z"/><path color="#3c4e9f" d="M109.6 289.4L112.3 289.6 115.4 287.4 112.8 287.3z"/><path color="#3a3391" d="M78.0 295.8L80.6 296.5 83.8 294.8 81.2 294.2z"/><path color="#f6cc1c" d="M230.4 263.5L233.0 268.7 236.2 266.4 233.5 261.0z"/><path color="#f59721" d="M198.7 252.8L201.4 255.8 204.5 252.4 201.9 249.3z"/><path color="#c6d92d" d="M167.1 263.8L169.7 264.1 172.9 260.6 170.3 260.2z"/><path color="#63bbd2" d="M135.5 279.7L138.1 279.6 141.3 276.7 138.6 276.9z"/><path color="#3c479d" d="M103.8 291.3L106.5 291.6 109.6 289.4 107.0 289.2z"/><path color="#39328e" d="M72.2 296.6L74.8 297.4 78.0 295.8 75.4 295.1z"/><path color="#f6b81e" d="M224.6 260.8L227.2 265.9 230.4 263.5 227.7 258.2z"/><path color="#f6a91f" d="M192.9 254.0L195.6 256.3 198.7 252.8 196.1 250.3z"/><path color="#a5ce42" d="M161.3 267.0L163.9 267.2 167.1 263.8 164.5 263.6z"/><path color="#55abd8" d="M129.7 282.5L132.3 282.5 135.5 279.7 132.8 279.8z"/><path color="#3c409a" d="M98.0 292.9L100.7 293.3 103.8 291.3 101.2 290.9z"/><path color="#f6a91f" d="M218.8 258.6L221.4 263.5 224.6 260.8 221.9 255.8z"/><path color="#f6be1e" d="M187.1 255.8L189.8 257.5 192.9 254.0 190.3 252.2z"/><path color="#8bc55f" d="M155.5 270.3L158.1 270.4 161.3 267.0 158.7 266.9z"/><path color="#4a8fc8" d="M123.9 285.1L126.5 285.1 129.7 282.5 127.0 282.6z"/><path color="#3c3a97" d="M92.2 294.2L94.9 294.8 98.0 292.9 95.4 292.4z"/><path color="#f6a020" d="M213.0 257.0L215.6 261.5 218.8 258.6 216.1 254.0z"/><path color="#f6d61c" d="M181.3 258.4L184.0 259.5 187.1 255.8 184.5 254.7z"/><path color="#85c390" d="M149.7 273.5L152.3 273.5 155.5 270.3 152.9 270.3z"/><path color="#4472b6" d="M118.1 287.5L120.7 287.6 123.9 285.1 121.2 285.1z"/><path color="#3b3595" d="M86.4 295.5L89.1 296.1 92.2 294.2 89.6 293.7z"/><path color="#c8d92c" d="M238.8 271.7L241.5 276.6 244.6 274.7 242.0 269.6z"/><path color="#f69e20" d="M207.2 256.0L209.8 260.0 213.0 257.0 210.3 252.8z"/><path color="#e9e11f" d="M175.5 261.2L178.2 262.0 181.3 258.4 178.7 257.5z"/><path color="#79c0b4" d="M143.9 276.6L146.5 276.6 149.7 273.5 147.1 273.6z"/><path color="#3e57a5" d="M112.3 289.6L114.9 289.8 118.1 287.5 115.4 287.4z"/><path color="#3a3492" d="M80.6 296.5L83.3 297.2 86.4 295.5 83.8 294.8z"/><path color="#eae21f" d="M233.0 268.7L235.6 273.8 238.8 271.7 236.2 266.4z"/><path color="#f6a420" d="M201.4 255.8L204.0 259.2 207.2 256.0 204.5 252.4z"/><path color="#cada2c" d="M169.7 264.1L172.4 264.7 175.5 261.2 172.9 260.6z"/><path color="#67bccc" d="M138.1 279.6L140.7 279.6 143.9 276.6 141.3 276.7z"/><path color="#3c499d" d="M106.5 291.6L109.1 291.8 112.3 289.6 109.6 289.4z"/><path color="#39338f" d="M74.8 297.4L77.5 298.1 80.6 296.5 78.0 295.8z"/><path color="#f6d61c" d="M227.2 265.9L229.8 271.0 233.0 268.7 230.4 263.5z"/><path color="#f6af1f" d="M195.6 256.3L198.2 259.1 201.4 255.8 198.7 252.8z"/><path color="#abd03f" d="M163.9 267.2L166.6 267.6 169.7 264.1 167.1 263.8z"/><path color="#58b3dd" d="M132.3 282.5L134.9 282.5 138.1 279.6 135.5 279.7z"/><path color="#3c439b" d="M100.7 293.3L103.3 293.6 106.5 291.6 103.8 291.3z"/><path color="#39328d" d="M69.0 298.1L71.7 299.0 74.8 297.4 72.2 296.6z"/><path color="#f6c41d" d="M221.4 263.5L224.0 268.4 227.2 265.9 224.6 260.8z"/><path color="#f6bf1d" d="M189.8 257.5L192.4 259.8 195.6 256.3 192.9 254.0z"/><path color="#8cc555" d="M158.1 270.4L160.8 270.6 163.9 267.2 161.3 267.0z"/><path color="#4d97cd" d="M126.5 285.1L129.1 285.2 132.3 282.5 129.7 282.5z"/><path color="#3c3c98" d="M94.9 294.8L97.5 295.2 100.7 293.3 98.0 292.9z"/><path color="#f6b71e" d="M215.6 261.5L218.2 266.1 221.4 263.5 218.8 258.6z"/><path color="#f6d51c" d="M184.0 259.5L186.6 261.1 189.8 257.5 187.1 255.8z"/><path color="#86c485" d="M152.3 273.5L155.0 273.7 158.1 270.4 155.5 270.3z"/><path color="#467bbc" d="M120.7 287.6L123.3 287.7 126.5 285.1 123.9 285.1z"/><path color="#3c3696" d="M89.1 296.1L91.7 296.6 94.9 294.8 92.2 294.2z"/><path color="#9ccb48" d="M241.5 276.6L244.1 281.3 247.3 279.5 244.6 274.7z"/><path color="#f6b11f" d="M209.8 260.0L212.4 264.3 215.6 261.5 213.0 257.0z"/><path color="#ece21e" d="M178.2 262.0L180.8 263.1 184.0 259.5 181.3 258.4z"/><path color="#7dc1ae" d="M146.5 276.6L149.2 276.7 152.3 273.5 149.7 273.5z"/><path color="#405faa" d="M114.9 289.8L117.5 290.0 120.7 287.6 118.1 287.5z"/><path color="#3b3493" d="M83.3 297.2L85.9 297.8 89.1 296.1 86.4 295.5z"/><path color="#c1d731" d="M235.6 273.8L238.3 278.6 241.5 276.6 238.8 271.7z"/><path color="#f6b11f" d="M204.0 259.2L206.6 263.1 209.8 260.0 207.2 256.0z"/><path color="#cedb2a" d="M172.4 264.7L175.0 265.5 178.2 262.0 175.5 261.2z"/><path color="#6cbdc6" d="M140.7 279.6L143.4 279.7 146.5 276.6 143.9 276.6z"/><path color="#3c4c9e" d="M109.1 291.8L111.7 292.1 114.9 289.8 112.3 289.6z"/><path color="#3a3390" d="M77.5 298.1L80.1 298.9 83.3 297.2 80.6 296.5z"/><path color="#e1df23" d="M229.8 271.0L232.5 275.9 235.6 273.8 233.0 268.7z"/><path color="#f6b71e" d="M198.2 259.1L200.8 262.4 204.0 259.2 201.4 255.8z"/><path color="#afd13c" d="M166.6 267.6L169.2 268.2 172.4 264.7 169.7 264.1z"/><path color="#5bb9de" d="M134.9 282.5L137.6 282.5 140.7 279.6 138.1 279.6z"/><path color="#3c459c" d="M103.3 293.6L105.9 294.0 109.1 291.8 106.5 291.6z"/><path color="#39328e" d="M71.7 299.0L74.3 299.7 77.5 298.1 74.8 297.4z"/><path color="#f6e01b" d="M224.0 268.4L226.7 273.2 229.8 271.0 227.2 265.9z"/><path color="#f6c31d" d="M192.4 259.8L195.0 262.5 198.2 259.1 195.6 256.3z"/><path color="#90c750" d="M160.8 270.6L163.4 271.1 166.6 267.6 163.9 267.2z"/><path color="#509fd1" d="M129.1 285.2L131.8 285.3 134.9 282.5 132.3 282.5z"/><path color="#3c3e99" d="M97.5 295.2L100.1 295.7 103.3 293.6 100.7 293.3z"/><path color="#38318c" d="M65.9 299.7L68.5 300.5 71.7 299.0 69.0 298.1z"/><path color="#f6d01c" d="M218.2 266.1L220.9 270.8 224.0 268.4 221.4 263.5z"/><path color="#f6d51c" d="M186.6 261.1L189.2 263.2 192.4 259.8 189.8 257.5z"/><path color="#87c47c" d="M155.0 273.7L157.6 274.0 160.8 270.6 158.1 270.4z"/><path color="#4783c1" d="M123.3 287.7L126.0 287.8 129.1 285.2 126.5 285.1z"/><path color="#3c3896" d="M91.7 296.6L94.3 297.2 97.5 295.2 94.9 294.8z"/><path color="#87c47d" d="M244.1 281.3L246.7 285.7 249.9 284.0 247.3 279.5z"/><path color="#f6c61d" d="M212.4 264.3L215.1 268.8 218.2 266.1 215.6 261.5z"/><path color="#ede21e" d="M180.8 263.1L183.4 264.6 186.6 261.1 184.0 259.5z"/><path color="#80c2a9" d="M149.2 276.7L151.8 276.9 155.0 273.7 152.3 273.5z"/><path color="#4267af" d="M117.5 290.0L120.2 290.2 123.3 287.7 120.7 287.6z"/><path color="#3b3594" d="M85.9 297.8L88.5 298.4 91.7 296.6 89.1 296.1z"/><path color="#96c94c" d="M238.3 278.6L240.9 283.1 244.1 281.3 241.5 276.6z"/><path color="#f6c11d" d="M206.6 263.1L209.3 267.1 212.4 264.3 209.8 260.0z"/><path color="#d0db29" d="M175.0 265.5L177.6 266.6 180.8 263.1 178.2 262.0z"/><path color="#6fbec1" d="M143.4 279.7L146.0 279.8 149.2 276.7 146.5 276.6z"/><path color="#3c4e9f" d="M111.7 292.1L114.4 292.4 117.5 290.0 114.9 289.8z"/><path color="#3a3391" d="M80.1 298.9L82.7 299.6 85.9 297.8 83.3 297.2z"/><path color="#b9d436" d="M232.5 275.9L235.1 280.5 238.3 278.6 235.6 273.8z"/><path color="#f6c31d" d="M200.8 262.4L203.5 266.1 206.6 263.1 204.0 259.2z"/><path color="#b3d239" d="M169.2 268.2L171.8 269.0 175.0 265.5 172.4 264.7z"/><path color="#5fbad8" d="M137.6 282.5L140.2 282.7 143.4 279.7 140.7 279.6z"/><path color="#3c479c" d="M105.9 294.0L108.6 294.3 111.7 292.1 109.1 291.8z"/><path color="#39328f" d="M74.3 299.7L76.9 300.5 80.1 298.9 77.5 298.1z"/><path color="#d6dd27" d="M226.7 273.2L229.3 278.0 232.5 275.9 229.8 271.0z"/><path color="#f6cb1c" d="M195.0 262.5L197.7 265.6 200.8 262.4 198.2 259.1z"/><path color="#95c84d" d="M163.4 271.1L166.0 271.7 169.2 268.2 166.6 267.6z"/><path color="#53a6d5" d="M131.8 285.3L134.4 285.4 137.6 282.5 134.9 282.5z"/><path color="#3c409a" d="M100.1 295.7L102.8 296.1 105.9 294.0 103.3 293.6z"/><path color="#38318c" d="M68.5 300.5L71.1 301.3 74.3 299.7 71.7 299.0z"/><path color="#eee31e" d="M220.9 270.8L223.5 275.5 226.7 273.2 224.0 268.4z"/><path color="#f6d91b" d="M189.2 263.2L191.9 265.8 195.0 262.5 192.4 259.8z"/><path color="#88c474" d="M157.6 274.0L160.2 274.4 163.4 271.1 160.8 270.6z"/><path color="#498ac5" d="M126.0 287.8L128.6 288.0 131.8 285.3 129.1 285.2z"/><path color="#3c3a97" d="M94.3 297.2L97.0 297.7 100.1 295.7 97.5 295.2z"/><path color="#38308a" d="M62.7 301.1L65.3 302.0 68.5 300.5 65.9 299.7z"/><path color="#79c0b3" d="M246.7 285.7L249.4 289.6 252.5 288.0 249.9 284.0z"/><path color="#f6dd1b" d="M215.1 268.8L217.7 273.3 220.9 270.8 218.2 266.1z"/><path color="#ede21e" d="M183.4 264.6L186.1 266.6 189.2 263.2 186.6 261.1z"/><path color="#82c3a2" d="M151.8 276.9L154.4 277.2 157.6 274.0 155.0 273.7z"/><path color="#436eb4" d="M120.2 290.2L122.8 290.4 126.0 287.8 123.3 287.7z"/><path color="#3b3595" d="M88.5 298.4L91.2 299.0 94.3 297.2 91.7 296.6z"/><path color="#86c484" d="M240.9 283.1L243.6 287.4 246.7 285.7 244.1 281.3z"/><path color="#f6d51c" d="M209.3 267.1L211.9 271.4 215.1 268.8 212.4 264.3z"/><path color="#d2dc29" d="M177.6 266.6L180.3 268.0 183.4 264.6 180.8 263.1z"/><path color="#73bfbc" d="M146.0 279.8L148.6 280.1 151.8 276.9 149.2 276.7z"/><path color="#3e54a3" d="M114.4 292.4L117.0 292.6 120.2 290.2 117.5 290.0z"/><path color="#3a3492" d="M82.7 299.6L85.4 300.2 88.5 298.4 85.9 297.8z"/><path color="#90c750" d="M235.1 280.5L237.8 285.0 240.9 283.1 238.3 278.6z"/><path color="#f6d21c" d="M203.5 266.1L206.1 270.0 209.3 267.1 206.6 263.1z"/><path color="#b6d338" d="M171.8 269.0L174.5 270.0 177.6 266.6 175.0 265.5z"/><path color="#63bbd3" d="M140.2 282.7L142.8 282.9 146.0 279.8 143.4 279.7z"/><path color="#3c499d" d="M108.6 294.3L111.2 294.7 114.4 292.4 111.7 292.1z"/><path color="#39338f" d="M76.9 300.5L79.6 301.3 82.7 299.6 80.1 298.9z"/><path color="#b0d13b" d="M229.3 278.0L231.9 282.5 235.1 280.5 232.5 275.9z"/><path color="#f6d61c" d="M197.7 265.6L200.3 269.0 203.5 266.1 200.8 262.4z"/><path color="#99ca4b" d="M166.0 271.7L168.7 272.5 171.8 269.0 169.2 268.2z"/><path color="#55add9" d="M134.4 285.4L137.0 285.6 140.2 282.7 137.6 282.5z"/><path color="#3c429b" d="M102.8 296.1L105.4 296.5 108.6 294.3 105.9 294.0z"/><path color="#39328d" d="M71.1 301.3L73.8 302.1 76.9 300.5 74.3 299.7z"/><path color="#cbda2b" d="M223.5 275.5L226.1 280.1 229.3 278.0 226.7 273.2z"/><path color="#f6df1b" d="M191.9 265.8L194.5 268.7 197.7 265.6 195.0 262.5z"/><path color="#89c56d" d="M160.2 274.4L162.9 275.1 166.0 271.7 163.4 271.1z"/><path color="#4b91ca" d="M128.6 288.0L131.2 288.2 134.4 285.4 131.8 285.3z"/><path color="#3c3c98" d="M97.0 297.7L99.6 298.2 102.8 296.1 100.1 295.7z"/><path color="#38318b" d="M65.3 302.0L68.0 302.9 71.1 301.3 68.5 300.5z"/><path color="#62bbd4" d="M249.4 289.6L252.0 293.2 255.2 291.7 252.5 288.0z"/><path color="#e0df23" d="M217.7 273.3L220.3 277.8 223.5 275.5 220.9 270.8z"/><path color="#eae21f" d="M186.1 266.6L188.7 269.0 191.9 265.8 189.2 263.2z"/><path color="#83c39a" d="M154.4 277.2L157.1 277.7 160.2 274.4 157.6 274.0z"/><path color="#4576b8" d="M122.8 290.4L125.4 290.6 128.6 288.0 126.0 287.8z"/><path color="#3c3696" d="M91.2 299.0L93.8 299.6 97.0 297.7 94.3 297.2z"/><path color="#373089" d="M59.5 302.6L62.2 303.5 65.3 302.0 62.7 301.1z"/><path color="#78c0b5" d="M243.6 287.4L246.2 291.2 249.4 289.6 246.7 285.7z"/><path color="#efe31d" d="M211.9 271.4L214.5 275.7 217.7 273.3 215.1 268.8z"/><path color="#d3dc28" d="M180.3 268.0L182.9 269.9 186.1 266.6 183.4 264.6z"/><path color="#76c0b7" d="M148.6 280.1L151.3 280.4 154.4 277.2 151.8 276.9z"/><path color="#3f5ba7" d="M117.0 292.6L119.6 292.9 122.8 290.4 120.2 290.2z"/><path color="#3b3493" d="M85.4 300.2L88.0 300.9 91.2 299.0 88.5 298.4z"/><path color="#85c48b" d="M237.8 285.0L240.4 289.1 243.6 287.4 240.9 283.1z"/><path color="#f6e41b" d="M206.1 270.0L208.7 274.0 211.9 271.4 209.3 267.1z"/><path color="#b8d437" d="M174.5 270.0L177.1 271.4 180.3 268.0 177.6 266.6z"/><path color="#66bcce" d="M142.8 282.9L145.5 283.2 148.6 280.1 146.0 279.8z"/><path color="#3c4b9e" d="M111.2 294.7L113.8 295.0 117.0 292.6 114.4 292.4z"/><path color="#3a3390" d="M79.6 301.3L82.2 302.0 85.4 300.2 82.7 299.6z"/><path color="#8cc557" d="M231.9 282.5L234.6 286.8 237.8 285.0 235.1 280.5z"/><path color="#f6e31b" d="M200.3 269.0L202.9 272.8 206.1 270.0 203.5 266.1z"/><path color="#9ccb49" d="M168.7 272.5L171.3 273.5 174.5 270.0 171.8 269.0z"/><path color="#57b3dc" d="M137.0 285.6L139.7 285.8 142.8 282.9 140.2 282.7z"/><path color="#3c449b" d="M105.4 296.5L108.0 296.9 111.2 294.7 108.6 294.3z"/><path color="#39328e" d="M73.8 302.1L76.4 302.9 79.6 301.3 76.9 300.5z"/><path color="#a7ce41" d="M226.1 280.1L228.8 284.5 231.9 282.5 229.3 278.0z"/><path color="#f1e31c" d="M194.5 268.7L197.1 272.0 200.3 269.0 197.7 265.6z"/><path color="#8ac567" d="M162.9 275.1L165.5 275.8 168.7 272.5 166.0 271.7z"/><path color="#4d98cd" d="M131.2 288.2L133.9 288.4 137.0 285.6 134.4 285.4z"/><path color="#3c3d99" d="M99.6 298.2L102.2 298.6 105.4 296.5 102.8 296.1z"/><path color="#38318b" d="M68.0 302.9L70.6 303.7 73.8 302.1 71.1 301.3z"/><path color="#50a0d2" d="M252.0 293.2L254.6 296.5 257.8 295.0 255.2 291.7z"/><path color="#bfd632" d="M220.3 277.8L223.0 282.2 226.1 280.1 223.5 275.5z"/><path color="#e4e021" d="M188.7 269.0L191.3 271.8 194.5 268.7 191.9 265.8z"/><path color="#84c393" d="M157.1 277.7L159.7 278.4 162.9 275.1 160.2 274.4z"/><path color="#467dbd" d="M125.4 290.6L128.1 290.9 131.2 288.2 128.6 288.0z"/><path color="#3c3796" d="M93.8 299.6L96.4 300.2 99.6 298.2 97.0 297.7z"/><path color="#37308a" d="M62.2 303.5L64.8 304.4 68.0 302.9 65.3 302.0z"/><path color="#61bad5" d="M246.2 291.2L248.8 294.8 252.0 293.2 249.4 289.6z"/><path color="#d2dc29" d="M214.5 275.7L217.2 280.1 220.3 277.8 217.7 273.3z"/><path color="#d1db29" d="M182.9 269.9L185.5 272.2 188.7 269.0 186.1 266.6z"/><path color="#79c0b3" d="M151.3 280.4L153.9 281.0 157.1 277.7 154.4 277.2z"/><path color="#4062ac" d="M119.6 292.9L122.3 293.2 125.4 290.6 122.8 290.4z"/><path color="#3b3594" d="M88.0 300.9L90.6 301.5 93.8 299.6 91.2 299.0z"/><path color="#372f88" d="M56.4 304.1L59.0 305.0 62.2 303.5 59.5 302.6z"/><path color="#76c0b8" d="M240.4 289.1L243.0 292.8 246.2 291.2 243.6 287.4z"/><path color="#dedf24" d="M208.7 274.0L211.4 278.2 214.5 275.7 211.9 271.4z"/><path color="#b8d436" d="M177.1 271.4L179.7 273.2 182.9 269.9 180.3 268.0z"/><path color="#69bcca" d="M145.5 283.2L148.1 283.6 151.3 280.4 148.6 280.1z"/><path color="#3c4d9f" d="M113.8 295.0L116.5 295.4 119.6 292.9 117.0 292.6z"/><path color="#3a3391" d="M82.2 302.0L84.8 302.7 88.0 300.9 85.4 300.2z"/><path color="#84c393" d="M234.6 286.8L237.2 290.8 240.4 289.1 237.8 285.0z"/><path color="#e4e022" d="M202.9 272.8L205.6 276.7 208.7 274.0 206.1 270.0z"/><path color="#9dcb47" d="M171.3 273.5L173.9 274.8 177.1 271.4 174.5 270.0z"/><path color="#59b8df" d="M139.7 285.8L142.3 286.2 145.5 283.2 142.8 282.9z"/><path color="#3c469c" d="M108.0 296.9L110.7 297.3 113.8 295.0 111.2 294.7z"/><path color="#39328e" d="M76.4 302.9L79.0 303.7 82.2 302.0 79.6 301.3z"/><path color="#8ac563" d="M228.8 284.5L231.4 288.6 234.6 286.8 231.9 282.5z"/><path color="#e2e022" d="M197.1 272.0L199.8 275.6 202.9 272.8 200.3 269.0z"/><path color="#8ac563" d="M165.5 275.8L168.1 276.8 171.3 273.5 168.7 272.5z"/><path color="#509ed1" d="M133.9 288.4L136.5 288.7 139.7 285.8 137.0 285.6z"/><path color="#3c3f99" d="M102.2 298.6L104.9 299.1 108.0 296.9 105.4 296.5z"/><path color="#38318c" d="M70.6 303.7L73.2 304.6 76.4 302.9 73.8 302.1z"/><path color="#4579ba" d="M254.6 296.5L257.3 299.4 260.4 297.9 257.8 295.0z"/><path color="#9dcb48" d="M223.0 282.2L225.6 286.5 228.8 284.5 226.1 280.1z"/><path color="#dade25" d="M191.3 271.8L194.0 275.0 197.1 272.0 194.5 268.7z"/><path color="#85c38d" d="M159.7 278.4L162.3 279.2 165.5 275.8 162.9 275.1z"/><path color="#4783c1" d="M128.1 290.9L130.7 291.2 133.9 288.4 131.2 288.2z"/><path color="#3c3997" d="M96.4 300.2L99.1 300.7 102.2 298.6 99.6 298.2z"/><path color="#38308a" d="M64.8 304.4L67.4 305.3 70.6 303.7 68.0 302.9z"/><path color="#50a0d2" d="M248.8 294.8L251.5 297.9 254.6 296.5 252.0 293.2z"/><path color="#b3d23a" d="M217.2 280.1L219.8 284.3 223.0 282.2 220.3 277.8z"/><path color="#ccda2b" d="M185.5 272.2L188.2 274.9 191.3 271.8 188.7 269.0z"/><path color="#7bc1b0" d="M153.9 281.0L156.5 281.6 159.7 278.4 157.1 277.7z"/><path color="#4268b0" d="M122.3 293.2L124.9 293.5 128.1 290.9 125.4 290.6z"/><path color="#3b3594" d="M90.6 301.5L93.3 302.1 96.4 300.2 93.8 299.6z"/><path color="#372f88" d="M59.0 305.0L61.6 305.9 64.8 304.4 62.2 303.5z"/><path color="#60bad6" d="M243.0 292.8L245.7 296.3 248.8 294.8 246.2 291.2z"/><path color="#c3d82f" d="M211.4 278.2L214.0 282.4 217.2 280.1 214.5 275.7z"/><path color="#b8d437" d="M179.7 273.2L182.4 275.4 185.5 272.2 182.9 269.9z"/><path color="#6cbdc6" d="M148.1 283.6L150.7 284.1 153.9 281.0 151.3 280.4z"/><path color="#3c4e9f" d="M116.5 295.4L119.1 295.7 122.3 293.2 119.6 292.9z"/><path color="#3a3492" d="M84.8 302.7L87.5 303.4 90.6 301.5 88.0 300.9z"/><path color="#362f87" d="M53.2 305.5L55.8 306.4 59.0 305.0 56.4 304.1z"/><path color="#74bfbb" d="M237.2 290.8L239.9 294.5 243.0 292.8 240.4 289.1z"/><path color="#cdda2b" d="M205.6 276.7L208.2 280.7 211.4 278.2 208.7 274.0z"/><path color="#9ecb47" d="M173.9 274.8L176.6 276.5 179.7 273.2 177.1 271.4z"/><path color="#5db9db" d="M142.3 286.2L144.9 286.6 148.1 283.6 145.5 283.2z"/><path color="#3c489d" d="M110.7 297.3L113.3 297.7 116.5 295.4 113.8 295.0z"/><path color="#39338f" d="M79.0 303.7L81.7 304.4 84.8 302.7 82.2 302.0z"/><path color="#83c39c" d="M231.4 288.6L234.1 292.5 237.2 290.8 234.6 286.8z"/><path color="#d0db29" d="M199.8 275.6L202.4 279.3 205.6 276.7 202.9 272.8z"/><path color="#8bc560" d="M168.1 276.8L170.8 278.1 173.9 274.8 171.3 273.5z"/><path color="#52a3d4" d="M136.5 288.7L139.1 289.1 142.3 286.2 139.7 285.8z"/><path color="#3c419a" d="M104.9 299.1L107.5 299.6 110.7 297.3 108.0 296.9z"/><path color="#38318d" d="M73.2 304.6L75.9 305.4 79.0 303.7 76.4 302.9z"/><path color="#3d53a2" d="M257.3 299.4L259.9 301.9 263.1 300.6 260.4 297.9z"/><path color="#89c46f" d="M225.6 286.5L228.2 290.5 231.4 288.6 228.8 284.5z"/><path color="#cdda2b" d="M194.0 275.0L196.6 278.4 199.8 275.6 197.1 272.0z"/><path color="#85c489" d="M162.3 279.2L165.0 280.1 168.1 276.8 165.5 275.8z"/><path color="#4989c5" d="M130.7 291.2L133.3 291.6 136.5 288.7 133.9 288.4z"/><path color="#3c3b98" d="M99.1 300.7L101.7 301.3 104.9 299.1 102.2 298.6z"/><path color="#38308b" d="M67.4 305.3L70.1 306.2 73.2 304.6 70.6 303.7z"/><path color="#457abb" d="M251.5 297.9L254.1 300.8 257.3 299.4 254.6 296.5z"/><path color="#92c74f" d="M219.8 284.3L222.4 288.4 225.6 286.5 223.0 282.2z"/><path color="#c3d82f" d="M188.2 274.9L190.8 277.9 194.0 275.0 191.3 271.8z"/><path color="#7dc1ad" d="M156.5 281.6L159.2 282.4 162.3 279.2 159.7 278.4z"/><path color="#436eb4" d="M124.9 293.5L127.5 293.9 130.7 291.2 128.1 290.9z"/><path color="#3b3595" d="M93.3 302.1L95.9 302.7 99.1 300.7 96.4 300.2z"/><path color="#373089" d="M61.6 305.9L64.3 306.8 67.4 305.3 64.8 304.4z"/><path color="#509fd1" d="M245.7 296.3L248.3 299.4 251.5 297.9 248.8 294.8z"/><path color="#a6ce42" d="M214.0 282.4L216.6 286.5 219.8 284.3 217.2 280.1z"/><path color="#b4d339" d="M182.4 275.4L185.0 278.0 188.2 274.9 185.5 272.2z"/><path color="#6ebec2" d="M150.7 284.1L153.4 284.8 156.5 281.6 153.9 281.0z"/><path color="#3e54a3" d="M119.1 295.7L121.7 296.1 124.9 293.5 122.3 293.2z"/><path color="#3a3492" d="M87.5 303.4L90.1 304.0 93.3 302.1 90.6 301.5z"/><path color="#372f87" d="M55.8 306.4L58.5 307.4 61.6 305.9 59.0 305.0z"/><path color="#5fbad8" d="M239.9 294.5L242.5 297.8 245.7 296.3 243.0 292.8z"/><path color="#b4d339" d="M208.2 280.7L210.8 284.7 214.0 282.4 211.4 278.2z"/><path color="#9ecb47" d="M176.6 276.5L179.2 278.6 182.4 275.4 179.7 273.2z"/><path color="#5fbad8" d="M144.9 286.6L147.6 287.2 150.7 284.1 148.1 283.6z"/><path color="#3c499d" d="M113.3 297.7L115.9 298.2 119.1 295.7 116.5 295.4z"/><path color="#393390" d="M81.7 304.4L84.3 305.2 87.5 303.4 84.8 302.7z"/><path color="#362e86" d="M50.0 306.9L52.7 307.9 55.8 306.4 53.2 305.5z"/><path color="#71bebe" d="M234.1 292.5L236.7 296.1 239.9 294.5 237.2 290.8z"/><path color="#bcd534" d="M202.4 279.3L205.0 283.1 208.2 280.7 205.6 276.7z"/><path color="#8bc55e" d="M170.8 278.1L173.4 279.7 176.6 276.5 173.9 274.8z"/><path color="#53a8d6" d="M139.1 289.1L141.8 289.6 144.9 286.6 142.3 286.2z"/><path color="#3c439b" d="M107.5 299.6L110.1 300.1 113.3 297.7 110.7 297.3z"/><path color="#39328d" d="M75.9 305.4L78.5 306.2 81.7 304.4 79.0 303.7z"/><path color="#3c459c" d="M259.9 301.9L262.5 304.3 265.7 302.9 263.1 300.6z"/><path color="#82c3a6" d="M228.2 290.5L230.9 294.3 234.1 292.5 231.4 288.6z"/><path color="#bdd633" d="M196.6 278.4L199.2 281.9 202.4 279.3 199.8 275.6z"/><path color="#86c486" d="M165.0 280.1L167.6 281.3 170.8 278.1 168.1 276.8z"/><path color="#4a8fc8" d="M133.3 291.6L136.0 292.0 139.1 289.1 136.5 288.7z"/><path color="#3c3c98" d="M101.7 301.3L104.3 301.8 107.5 299.6 104.9 299.1z"/><path color="#38318b" d="M70.1 306.2L72.7 307.0 75.9 305.4 73.2 304.6z"/><path color="#3e54a3" d="M254.1 300.8L256.7 303.3 259.9 301.9 257.3 299.4z"/><path color="#87c47c" d="M222.4 288.4L225.1 292.3 228.2 290.5 225.6 286.5z"/><path color="#b8d436" d="M190.8 277.9L193.4 281.1 196.6 278.4 194.0 275.0z"/><path color="#7fc2ab" d="M159.2 282.4L161.8 283.3 165.0 280.1 162.3 279.2z"/><path color="#4474b7" d="M127.5 293.9L130.2 294.3 133.3 291.6 130.7 291.2z"/><path color="#3c3696" d="M95.9 302.7L98.5 303.3 101.7 301.3 99.1 300.7z"/><path color="#373089" d="M64.3 306.8L66.9 307.7 70.1 306.2 67.4 305.3z"/><path color="#457abb" d="M248.3 299.4L250.9 302.2 254.1 300.8 251.5 297.9z"/><path color="#8bc55a" d="M216.6 286.5L219.3 290.4 222.4 288.4 219.8 284.3z"/><path color="#acd03e" d="M185.0 278.0L187.6 280.8 190.8 277.9 188.2 274.9z"/><path color="#70bebf" d="M153.4 284.8L156.0 285.6 159.2 282.4 156.5 281.6z"/><path color="#3f5aa7" d="M121.7 296.1L124.4 296.5 127.5 293.9 124.9 293.5z"/><path color="#3b3493" d="M90.1 304.0L92.7 304.7 95.9 302.7 93.3 302.1z"/><path color="#372f88" d="M58.5 307.4L61.1 308.3 64.3 306.8 61.6 305.9z"/><path color="#4f9dd0" d="M242.5 297.8L245.1 300.9 248.3 299.4 245.7 296.3z"/><path color="#99ca4b" d="M210.8 284.7L213.5 288.6 216.6 286.5 214.0 282.4z"/><path color="#9bca49" d="M179.2 278.6L181.8 281.0 185.0 278.0 182.4 275.4z"/><path color="#62bbd4" d="M147.6 287.2L150.2 287.9 153.4 284.8 150.7 284.1z"/><path color="#3c4b9e" d="M115.9 298.2L118.6 298.6 121.7 296.1 119.1 295.7z"/><path color="#3a3390" d="M84.3 305.2L86.9 305.9 90.1 304.0 87.5 303.4z"/><path color="#362e86" d="M52.7 307.9L55.3 308.9 58.5 307.4 55.8 306.4z"/><path color="#5db9db" d="M236.7 296.1L239.3 299.4 242.5 297.8 239.9 294.5z"/><path color="#a4cd43" d="M205.0 283.1L207.7 287.0 210.8 284.7 208.2 280.7z"/><path color="#8bc55d" d="M173.4 279.7L176.0 281.7 179.2 278.6 176.6 276.5z"/><path color="#55add9" d="M141.8 289.6L144.4 290.2 147.6 287.2 144.9 286.6z"/><path color="#3c449b" d="M110.1 300.1L112.8 300.6 115.9 298.2 113.3 297.7z"/><path color="#39328e" d="M78.5 306.2L81.1 306.9 84.3 305.2 81.7 304.4z"/><path color="#362e85" d="M46.9 308.3L49.5 309.3 52.7 307.9 50.0 306.9z"/><path color="#3c3c98" d="M262.5 304.3L265.2 306.3 268.3 305.0 265.7 302.9z"/><path color="#6fbec2" d="M230.9 294.3L233.5 297.8 236.7 296.1 234.1 292.5z"/><path color="#aacf3f" d="M199.2 281.9L201.9 285.6 205.0 283.1 202.4 279.3z"/><path color="#86c483" d="M167.6 281.3L170.2 282.9 173.4 279.7 170.8 278.1z"/><path color="#4c93cb" d="M136.0 292.0L138.6 292.5 141.8 289.6 139.1 289.1z"/><path color="#3c3e99" d="M104.3 301.8L107.0 302.3 110.1 300.1 107.5 299.6z"/><path color="#38318c" d="M72.7 307.0L75.3 307.8 78.5 306.2 75.9 305.4z"/><path color="#3c469c" d="M256.7 303.3L259.4 305.6 262.5 304.3 259.9 301.9z"/><path color="#7ec2ac" d="M225.1 292.3L227.7 296.0 230.9 294.3 228.2 290.5z"/><path color="#a9cf40" d="M193.4 281.1L196.1 284.5 199.2 281.9 196.6 278.4z"/><path color="#80c2a9" d="M161.8 283.3L164.4 284.5 167.6 281.3 165.0 280.1z"/><path color="#4579bb" d="M130.2 294.3L132.8 294.8 136.0 292.0 133.3 291.6z"/><path color="#3c3896" d="M98.5 303.3L101.2 303.9 104.3 301.8 101.7 301.3z"/><path color="#37308a" d="M66.9 307.7L69.5 308.6 72.7 307.0 70.1 306.2z"/><path color="#3e55a4" d="M250.9 302.2L253.6 304.7 256.7 303.3 254.1 300.8z"/><path color="#85c48b" d="M219.3 290.4L221.9 294.2 225.1 292.3 222.4 288.4z"/><path color="#a2cd44" d="M187.6 280.8L190.3 283.9 193.4 281.1 190.8 277.9z"/><path color="#72bfbd" d="M156.0 285.6L158.6 286.5 161.8 283.3 159.2 282.4z"/><path color="#4060aa" d="M124.4 296.5L127.0 297.0 130.2 294.3 127.5 293.9z"/><path color="#3b3594" d="M92.7 304.7L95.4 305.4 98.5 303.3 95.9 302.7z"/><path color="#372f88" d="M61.1 308.3L63.7 309.3 66.9 307.7 64.3 306.8z"/><path color="#4579bb" d="M245.1 300.9L247.8 303.6 250.9 302.2 248.3 299.4z"/><path color="#89c56c" d="M213.5 288.6L216.1 292.4 219.3 290.4 216.6 286.5z"/><path color="#95c84d" d="M181.8 281.0L184.5 283.7 187.6 280.8 185.0 278.0z"/><path color="#64bbd1" d="M150.2 287.9L152.8 288.7 156.0 285.6 153.4 284.8z"/><path color="#3c4c9f" d="M118.6 298.6L121.2 299.1 124.4 296.5 121.7 296.1z"/><path color="#3a3391" d="M86.9 305.9L89.6 306.6 92.7 304.7 90.1 304.0z"/><path color="#362f87" d="M55.3 308.9L57.9 309.8 61.1 308.3 58.5 307.4z"/><path color="#4f9ccf" d="M239.3 299.4L242.0 302.4 245.1 300.9 242.5 297.8z"/><path color="#8cc555" d="M207.7 287.0L210.3 290.8 213.5 288.6 210.8 284.7z"/><path color="#8bc560" d="M176.0 281.7L178.7 284.0 181.8 281.0 179.2 278.6z"/><path color="#57b1db" d="M144.4 290.2L147.0 290.9 150.2 287.9 147.6 287.2z"/><path color="#3c469c" d="M112.8 300.6L115.4 301.1 118.6 298.6 115.9 298.2z"/><path color="#39328f" d="M81.1 306.9L83.8 307.7 86.9 305.9 84.3 305.2z"/><path color="#362e85" d="M49.5 309.3L52.1 310.3 55.3 308.9 52.7 307.9z"/><path color="#3b3594" d="M265.2 306.3L267.8 308.2 271.0 306.9 268.3 305.0z"/><path color="#5bb9de" d="M233.5 297.8L236.2 301.0 239.3 299.4 236.7 296.1z"/><path color="#94c84e" d="M201.9 285.6L204.5 289.3 207.7 287.0 205.0 283.1z"/><path color="#86c483" d="M170.2 282.9L172.9 284.8 176.0 281.7 173.4 279.7z"/><path color="#4d98cd" d="M138.6 292.5L141.2 293.2 144.4 290.2 141.8 289.6z"/><path color="#3c3f99" d="M107.0 302.3L109.6 302.9 112.8 300.6 110.1 300.1z"/><path color="#38318c" d="M75.3 307.8L78.0 308.7 81.1 306.9 78.5 306.2z"/><path color="#362e84" d="M43.7 309.7L46.3 310.7 49.5 309.3 46.9 308.3z"/><path color="#3c3d98" d="M259.4 305.6L262.0 307.6 265.2 306.3 262.5 304.3z"/><path color="#6bbdc6" d="M227.7 296.0L230.4 299.4 233.5 297.8 230.9 294.3z"/><path color="#98c94b" d="M196.1 284.5L198.7 288.0 201.9 285.6 199.2 281.9z"/><path color="#81c2a8" d="M164.4 284.5L167.1 286.0 170.2 282.9 167.6 281.3z"/><path color="#467ebe" d="M132.8 294.8L135.4 295.4 138.6 292.5 136.0 292.0z"/><path color="#3c3997" d="M101.2 303.9L103.8 304.5 107.0 302.3 104.3 301.8z"/><path color="#38308a" d="M69.5 308.6L72.2 309.5 75.3 307.8 72.7 307.0z"/><path color="#3c479c" d="M253.6 304.7L256.2 307.0 259.4 305.6 256.7 303.3z"/><path color="#7ac1b2" d="M221.9 294.2L224.5 297.8 227.7 296.0 225.1 292.3z"/><path color="#95c84d" d="M190.3 283.9L192.9 287.1 196.1 284.5 193.4 281.1z"/><path color="#73bfbb" d="M158.6 286.5L161.3 287.6 164.4 284.5 161.8 283.3z"/><path color="#4165ae" d="M127.0 297.0L129.6 297.6 132.8 294.8 130.2 294.3z"/><path color="#3b3594" d="M95.4 305.4L98.0 306.0 101.2 303.9 98.5 303.3z"/><path color="#372f88" d="M63.7 309.3L66.4 310.2 69.5 308.6 66.9 307.7z"/><path color="#3e56a4" d="M247.8 303.6L250.4 306.1 253.6 304.7 250.9 302.2z"/><path color="#83c39a" d="M216.1 292.4L218.7 296.1 221.9 294.2 219.3 290.4z"/><path color="#8cc553" d="M184.5 283.7L187.1 286.6 190.3 283.9 187.6 280.8z"/><path color="#65bbcf" d="M152.8 288.7L155.5 289.6 158.6 286.5 156.0 285.6z"/><path color="#3c4e9f" d="M121.2 299.1L123.8 299.6 127.0 297.0 124.4 296.5z"/><path color="#3a3492" d="M89.6 306.6L92.2 307.3 95.4 305.4 92.7 304.7z"/><path color="#362f87" d="M57.9 309.8L60.6 310.8 63.7 309.3 61.1 308.3z"/><path color="#4579ba" d="M242.0 302.4L244.6 305.1 247.8 303.6 245.1 300.9z"/><path color="#87c47e" d="M210.3 290.8L212.9 294.4 216.1 292.4 213.5 288.6z"/><path color="#8ac568" d="M178.7 284.0L181.3 286.6 184.5 283.7 181.8 281.0z"/><path color="#58b4dd" d="M147.0 290.9L149.7 291.7 152.8 288.7 150.2 287.9z"/><path color="#3c479d" d="M115.4 301.1L118.0 301.6 121.2 299.1 118.6 298.6z"/><path color="#39338f" d="M83.8 307.7L86.4 308.5 89.6 306.6 86.9 305.9z"/><path color="#362e86" d="M52.1 310.3L54.8 311.3 57.9 309.8 55.3 308.9z"/><path color="#393390" d="M267.8 308.2L270.4 309.9 273.6 308.6 271.0 306.9z"/><path color="#4e99ce" d="M236.2 301.0L238.8 303.9 242.0 302.4 239.3 299.4z"/><path color="#89c56b" d="M204.5 289.3L207.1 292.9 210.3 290.8 207.7 287.0z"/><path color="#86c484" d="M172.9 284.8L175.5 286.9 178.7 284.0 176.0 281.7z"/><path color="#4f9ccf" d="M141.2 293.2L143.9 293.9 147.0 290.9 144.4 290.2z"/><path color="#3c419a" d="M109.6 302.9L112.2 303.5 115.4 301.1 112.8 300.6z"/><path color="#38318d" d="M78.0 308.7L80.6 309.5 83.8 307.7 81.1 306.9z"/><path color="#362e84" d="M46.3 310.7L49.0 311.7 52.1 310.3 49.5 309.3z"/><path color="#3b3595" d="M262.0 307.6L264.6 309.5 267.8 308.2 265.2 306.3z"/><path color="#59b7df" d="M230.4 299.4L233.0 302.5 236.2 301.0 233.5 297.8z"/><path color="#8bc560" d="M198.7 288.0L201.3 291.6 204.5 289.3 201.9 285.6z"/><path color="#81c2a8" d="M167.1 286.0L169.7 287.8 172.9 284.8 170.2 282.9z"/><path color="#4783c1" d="M135.4 295.4L138.1 296.0 141.2 293.2 138.6 292.5z"/><path color="#3c3b98" d="M103.8 304.5L106.4 305.1 109.6 302.9 107.0 302.3z"/><path color="#38318b" d="M72.2 309.5L74.8 310.4 78.0 308.7 75.3 307.8z"/><path color="#352d84" d="M40.5 311.0L43.2 312.1 46.3 310.7 43.7 309.7z"/><path color="#3c3d99" d="M256.2 307.0L258.8 309.0 262.0 307.6 259.4 305.6z"/><path color="#68bccb" d="M224.5 297.8L227.2 301.1 230.4 299.4 227.7 296.0z"/><path color="#8bc55e" d="M192.9 287.1L195.5 290.5 198.7 288.0 196.1 284.5z"/><path color="#74bfba" d="M161.3 287.6L163.9 289.1 167.1 286.0 164.4 284.5z"/><path color="#4269b1" d="M129.6 297.6L132.3 298.2 135.4 295.4 132.8 294.8z"/><path color="#3b3595" d="M98.0 306.0L100.6 306.7 103.8 304.5 101.2 303.9z"/><path color="#373089" d="M66.4 310.2L69.0 311.1 72.2 309.5 69.5 308.6z"/><path color="#3c479c" d="M250.4 306.1L253.0 308.3 256.2 307.0 253.6 304.7z"/><path color="#76c0b8" d="M218.7 296.1L221.4 299.5 224.5 297.8 221.9 294.2z"/><path color="#8ac564" d="M187.1 286.6L189.7 289.7 192.9 287.1 190.3 283.9z"/><path color="#67bccd" d="M155.5 289.6L158.1 290.7 161.3 287.6 158.6 286.5z"/><path color="#3d51a1" d="M123.8 299.6L126.5 300.2 129.6 297.6 127.0 297.0z"/><path color="#3a3492" d="M92.2 307.3L94.8 308.0 98.0 306.0 95.4 305.4z"/><path color="#372f87" d="M60.6 310.8L63.2 311.7 66.4 310.2 63.7 309.3z"/><path color="#3e56a4" d="M244.6 305.1L247.2 307.5 250.4 306.1 247.8 303.6z"/><path color="#81c2a8" d="M212.9 294.4L215.6 298.0 218.7 296.1 216.1 292.4z"/><path color="#88c473" d="M181.3 286.6L183.9 289.3 187.1 286.6 184.5 283.7z"/><path color="#59b7df" d="M149.7 291.7L152.3 292.7 155.5 289.6 152.8 288.7z"/><path color="#3c489d" d="M118.0 301.6L120.7 302.2 123.8 299.6 121.2 299.1z"/><path color="#3a3390" d="M86.4 308.5L89.0 309.3 92.2 307.3 89.6 306.6z"/><path color="#362e86" d="M54.8 311.3L57.4 312.3 60.6 310.8 57.9 309.8z"/><path color="#4577b9" d="M238.8 303.9L241.4 306.5 244.6 305.1 242.0 302.4z"/><path color="#84c391" d="M207.1 292.9L209.8 296.4 212.9 294.4 210.3 290.8z"/><path color="#85c48a" d="M175.5 286.9L178.1 289.4 181.3 286.6 178.7 284.0z"/><path color="#509fd1" d="M143.9 293.9L146.5 294.7 149.7 291.7 147.0 290.9z"/><path color="#3c429b" d="M112.2 303.5L114.9 304.1 118.0 301.6 115.4 301.1z"/><path color="#39328d" d="M80.6 309.5L83.2 310.3 86.4 308.5 83.8 307.7z"/><path color="#362e85" d="M49.0 311.7L51.6 312.7 54.8 311.3 52.1 310.3z"/><path color="#3a3390" d="M264.6 309.5L267.3 311.2 270.4 309.9 267.8 308.2z"/><path color="#4d96cc" d="M233.0 302.5L235.6 305.4 238.8 303.9 236.2 301.0z"/><path color="#86c481" d="M201.3 291.6L204.0 295.1 207.1 292.9 204.5 289.3z"/><path color="#81c2a8" d="M169.7 287.8L172.3 289.9 175.5 286.9 172.9 284.8z"/><path color="#4887c3" d="M138.1 296.0L140.7 296.8 143.9 293.9 141.2 293.2z"/><path color="#3c3c98" d="M106.4 305.1L109.1 305.8 112.2 303.5 109.6 302.9z"/><path color="#38318b" d="M74.8 310.4L77.4 311.2 80.6 309.5 78.0 308.7z"/><path color="#352d84" d="M43.2 312.1L45.8 313.1 49.0 311.7 46.3 310.7z"/><path color="#3b3595" d="M258.8 309.0L261.5 310.8 264.6 309.5 262.0 307.6z"/><path color="#57b2dc" d="M227.2 301.1L229.8 304.1 233.0 302.5 230.4 299.4z"/><path color="#88c479" d="M195.5 290.5L198.2 293.8 201.3 291.6 198.7 288.0z"/><path color="#75bfb9" d="M163.9 289.1L166.5 290.8 169.7 287.8 167.1 286.0z"/><path color="#436eb3" d="M132.3 298.2L134.9 298.8 138.1 296.0 135.4 295.4z"/><path color="#3c3696" d="M100.6 306.7L103.3 307.3 106.4 305.1 103.8 304.5z"/><path color="#373089" d="M69.0 311.1L71.6 312.0 74.8 310.4 72.2 309.5z"/><path color="#352d83" d="M37.4 312.4L40.0 313.4 43.2 312.1 40.5 311.0z"/><path color="#3c3e99" d="M253.0 308.3L255.7 310.3 258.8 309.0 256.2 307.0z"/><path color="#64bbd0" d="M221.4 299.5L224.0 302.7 227.2 301.1 224.5 297.8z"/><path color="#87c47a" d="M189.7 289.7L192.4 292.9 195.5 290.5 192.9 287.1z"/><path color="#67bccc" d="M158.1 290.7L160.7 292.1 163.9 289.1 161.3 287.6z"/><path color="#3e55a4" d="M126.5 300.2L129.1 300.9 132.3 298.2 129.6 297.6z"/><path color="#3b3493" d="M94.8 308.0L97.5 308.8 100.6 306.7 98.0 306.0z"/><path color="#372f88" d="M63.2 311.7L65.8 312.7 69.0 311.1 66.4 310.2z"/><path color="#3c479d" d="M247.2 307.5L249.9 309.7 253.0 308.3 250.4 306.1z"/><path color="#71bebf" d="M215.6 298.0L218.2 301.3 221.4 299.5 218.7 296.1z"/><path color="#86c483" d="M183.9 289.3L186.6 292.3 189.7 289.7 187.1 286.6z"/><path color="#5ab9df" d="M152.3 292.7L154.9 293.7 158.1 290.7 155.5 289.6z"/><path color="#3c4a9e" d="M120.7 302.2L123.3 302.8 126.5 300.2 123.8 299.6z"/><path color="#3a3390" d="M89.0 309.3L91.7 310.0 94.8 308.0 92.2 307.3z"/><path color="#362e86" d="M57.4 312.3L60.0 313.2 63.2 311.7 60.6 310.8z"/><path color="#3e55a4" d="M241.4 306.5L244.1 308.9 247.2 307.5 244.6 305.1z"/><path color="#7bc1b1" d="M209.8 296.4L212.4 299.8 215.6 298.0 212.9 294.4z"/><path color="#84c394" d="M178.1 289.4L180.8 292.0 183.9 289.3 181.3 286.6z"/><path color="#51a2d3" d="M146.5 294.7L149.1 295.6 152.3 292.7 149.7 291.7z"/><path color="#3c439b" d="M114.9 304.1L117.5 304.7 120.7 302.2 118.0 301.6z"/><path color="#39328e" d="M83.2 310.3L85.9 311.1 89.0 309.3 86.4 308.5z"/><path color="#362e85" d="M51.6 312.7L54.2 313.7 57.4 312.3 54.8 311.3z"/><path color="#4575b8" d="M235.6 305.4L238.3 308.0 241.4 306.5 238.8 303.9z"/><path color="#82c3a5" d="M204.0 295.1L206.6 298.5 209.8 296.4 207.1 292.9z"/><path color="#80c2aa" d="M172.3 289.9L175.0 292.2 178.1 289.4 175.5 286.9z"/><path color="#498ac5" d="M140.7 296.8L143.3 297.6 146.5 294.7 143.9 293.9z"/><path color="#3c3d99" d="M109.1 305.8L111.7 306.4 114.9 304.1 112.2 303.5z"/><path color="#38318c" d="M77.4 311.2L80.1 312.1 83.2 310.3 80.6 309.5z"/><path color="#352d84" d="M45.8 313.1L48.4 314.1 51.6 312.7 49.0 311.7z"/><path color="#3a3391" d="M261.5 310.8L264.1 312.5 267.3 311.2 264.6 309.5z"/><path color="#4c93cb" d="M229.8 304.1L232.5 306.9 235.6 305.4 233.0 302.5z"/><path color="#84c398" d="M198.2 293.8L200.8 297.2 204.0 295.1 201.3 291.6z"/><path color="#75bfb9" d="M166.5 290.8L169.2 292.8 172.3 289.9 169.7 287.8z"/><path color="#4471b6" d="M134.9 298.8L137.5 299.6 140.7 296.8 138.1 296.0z"/><path color="#3c3796" d="M103.3 307.3L105.9 308.0 109.1 305.8 106.4 305.1z"/><path color="#37308a" d="M71.6 312.0L74.3 312.9 77.4 311.2 74.8 310.4z"/><path color="#352d83" d="M40.0 313.4L42.6 314.4 45.8 313.1 43.2 312.1z"/><path color="#3b3595" d="M255.7 310.3L258.3 312.1 261.5 310.8 258.8 309.0z"/><path color="#55add9" d="M224.0 302.7L226.7 305.7 229.8 304.1 227.2 301.1z"/><path color="#84c393" d="M192.4 292.9L195.0 296.1 198.2 293.8 195.5 290.5z"/><path color="#68bccb" d="M160.7 292.1L163.4 293.7 166.5 290.8 163.9 289.1z"/><path color="#3f59a6" d="M129.1 300.9L131.7 301.6 134.9 298.8 132.3 298.2z"/><path color="#3b3594" d="M97.5 308.8L100.1 309.5 103.3 307.3 100.6 306.7z"/><path color="#372f88" d="M65.8 312.7L68.5 313.6 71.6 312.0 69.0 311.1z"/><path color="#352d83" d="M34.2 313.7L36.8 314.7 40.0 313.4 37.4 312.4z"/><path color="#3c3e99" d="M249.9 309.7L252.5 311.6 255.7 310.3 253.0 308.3z"/><path color="#60bad6" d="M218.2 301.3L220.8 304.4 224.0 302.7 221.4 299.5z"/><path color="#84c396" d="M186.6 292.3L189.2 295.3 192.4 292.9 189.7 289.7z"/><path color="#5bb9de" d="M154.9 293.7L157.6 295.1 160.7 292.1 158.1 290.7z"/><path color="#3c4b9e" d="M123.3 302.8L125.9 303.5 129.1 300.9 126.5 300.2z"/><path color="#3a3391" d="M91.7 310.0L94.3 310.8 97.5 308.8 94.8 308.0z"/><path color="#362f86" d="M60.0 313.2L62.7 314.2 65.8 312.7 63.2 311.7z"/><path color="#3c479d" d="M244.1 308.9L246.7 311.0 249.9 309.7 247.2 307.5z"/><path color="#6cbdc6" d="M212.4 299.8L215.0 303.1 218.2 301.3 215.6 298.0z"/><path color="#82c3a2" d="M180.8 292.0L183.4 294.8 186.6 292.3 183.9 289.3z"/><path color="#52a4d4" d="M149.1 295.6L151.8 296.7 154.9 293.7 152.3 292.7z"/><path color="#3c449b" d="M117.5 304.7L120.1 305.4 123.3 302.8 120.7 302.2z"/><path color="#39328e" d="M85.9 311.1L88.5 311.9 91.7 310.0 89.0 309.3z"/><path color="#362e85" d="M54.2 313.7L56.9 314.7 60.0 313.2 57.4 312.3z"/><path color="#3e55a3" d="M238.3 308.0L240.9 310.3 244.1 308.9 241.4 306.5z"/><path color="#75bfb9" d="M206.6 298.5L209.2 301.7 212.4 299.8 209.8 296.4z"/><path color="#7dc1ae" d="M175.0 292.2L177.6 294.7 180.8 292.0 178.1 289.4z"/><path color="#498dc7" d="M143.3 297.6L146.0 298.5 149.1 295.6 146.5 294.7z"/><path color="#3c3e99" d="M111.7 306.4L114.3 307.1 117.5 304.7 114.9 304.1z"/><path color="#38318c" d="M80.1 312.1L82.7 312.9 85.9 311.1 83.2 310.3z"/><path color="#352d84" d="M48.4 314.1L51.1 315.1 54.2 313.7 51.6 312.7z"/><path color="#4473b7" d="M232.5 306.9L235.1 309.4 238.3 308.0 235.6 305.4z"/><path color="#7bc1b1" d="M200.8 297.2L203.4 300.5 206.6 298.5 204.0 295.1z"/><path color="#74bfbb" d="M169.2 292.8L171.8 295.0 175.0 292.2 172.3 289.9z"/><path color="#4475b8" d="M137.5 299.6L140.2 300.4 143.3 297.6 140.7 296.8z"/><path color="#3c3897" d="M105.9 308.0L108.5 308.7 111.7 306.4 109.1 305.8z"/><path color="#38308a" d="M74.3 312.9L76.9 313.8 80.1 312.1 77.4 311.2z"/><path color="#352d83" d="M42.6 314.4L45.3 315.5 48.4 314.1 45.8 313.1z"/><path color="#3a3391" d="M258.3 312.1L260.9 313.8 264.1 312.5 261.5 310.8z"/><path color="#4a8fc8" d="M226.7 305.7L229.3 308.4 232.5 306.9 229.8 304.1z"/><path color="#7fc2ab" d="M195.0 296.1L197.6 299.3 200.8 297.2 198.2 293.8z"/><path color="#68bccb" d="M163.4 293.7L166.0 295.6 169.2 292.8 166.5 290.8z"/><path color="#3f5da9" d="M131.7 301.6L134.4 302.4 137.5 299.6 134.9 298.8z"/><path color="#3b3594" d="M100.1 309.5L102.7 310.2 105.9 308.0 103.3 307.3z"/><path color="#372f88" d="M68.5 313.6L71.1 314.5 74.3 312.9 71.6 312.0z"/><path color="#352d83" d="M36.8 314.7L39.5 315.8 42.6 314.4 40.0 313.4z"/><path color="#3c3696" d="M252.5 311.6L255.1 313.4 258.3 312.1 255.7 310.3z"/><path color="#53a8d6" d="M220.8 304.4L223.5 307.3 226.7 305.7 224.0 302.7z"/><path color="#7fc2aa" d="M189.2 295.3L191.8 298.4 195.0 296.1 192.4 292.9z"/><path color="#5cb9dd" d="M157.6 295.1L160.2 296.6 163.4 293.7 160.7 292.1z"/><path color="#3c4c9e" d="M125.9 303.5L128.6 304.2 131.7 301.6 129.1 300.9z"/><path color="#3a3491" d="M94.3 310.8L96.9 311.5 100.1 309.5 97.5 308.8z"/><path color="#362f87" d="M62.7 314.2L65.3 315.2 68.5 313.6 65.8 312.7z"/><path color="#352d82" d="M31.0 315.0L33.7 316.0 36.8 314.7 34.2 313.7z"/><path color="#3c3f99" d="M246.7 311.0L249.3 313.0 252.5 311.6 249.9 309.7z"/><path color="#5cb9dc" d="M215.0 303.1L217.7 306.1 220.8 304.4 218.2 301.3z"/><path color="#7dc1ad" d="M183.4 294.8L186.0 297.7 189.2 295.3 186.6 292.3z"/><path color="#53a6d5" d="M151.8 296.7L154.4 298.0 157.6 295.1 154.9 293.7z"/><path color="#3c469c" d="M120.1 305.4L122.8 306.1 125.9 303.5 123.3 302.8z"/><path color="#39328f" d="M88.5 311.9L91.1 312.7 94.3 310.8 91.7 310.0z"/><path color="#362e85" d="M56.9 314.7L59.5 315.7 62.7 314.2 60.0 313.2z"/><path color="#3c479d" d="M240.9 310.3L243.5 312.4 246.7 311.0 244.1 308.9z"/><path color="#66bccd" d="M209.2 301.7L211.9 304.8 215.0 303.1 212.4 299.8z"/><path color="#79c0b4" d="M177.6 294.7L180.2 297.4 183.4 294.8 180.8 292.0z"/><path color="#4a8fc8" d="M146.0 298.5L148.6 299.6 151.8 296.7 149.1 295.6z"/><path color="#3c3f99" d="M114.3 307.1L117.0 307.8 120.1 305.4 117.5 304.7z"/><path color="#38318d" d="M82.7 312.9L85.3 313.8 88.5 311.9 85.9 311.1z"/><path color="#362e84" d="M51.1 315.1L53.7 316.1 56.9 314.7 54.2 313.7z"/><path color="#3d53a3" d="M235.1 309.4L237.7 311.7 240.9 310.3 238.3 308.0z"/><path color="#6ebec2" d="M203.4 300.5L206.1 303.6 209.2 301.7 206.6 298.5z"/><path color="#71bebe" d="M171.8 295.0L174.4 297.3 177.6 294.7 175.0 292.2z"/><path color="#4578ba" d="M140.2 300.4L142.8 301.4 146.0 298.5 143.3 297.6z"/><path color="#3c3a97" d="M108.5 308.7L111.2 309.4 114.3 307.1 111.7 306.4z"/><path color="#38308a" d="M76.9 313.8L79.5 314.7 82.7 312.9 80.1 312.1z"/><path color="#352d83" d="M45.3 315.5L47.9 316.5 51.1 315.1 48.4 314.1z"/><path color="#4370b5" d="M229.3 308.4L231.9 310.9 235.1 309.4 232.5 306.9z"/><path color="#74bfbb" d="M197.6 299.3L200.3 302.5 203.4 300.5 200.8 297.2z"/><path color="#68bccc" d="M166.0 295.6L168.6 297.7 171.8 295.0 169.2 292.8z"/><path color="#4060ab" d="M134.4 302.4L137.0 303.2 140.2 300.4 137.5 299.6z"/><path color="#3b3595" d="M102.7 310.2L105.4 310.9 108.5 308.7 105.9 308.0z"/><path color="#373089" d="M71.1 314.5L73.7 315.5 76.9 313.8 74.3 312.9z"/><path color="#352d83" d="M39.5 315.8L42.1 316.8 45.3 315.5 42.6 314.4z"/><path color="#3a3492" d="M255.1 313.4L257.8 315.1 260.9 313.8 258.3 312.1z"/><path color="#498bc6" d="M223.5 307.3L226.1 309.9 229.3 308.4 226.7 305.7z"/><path color="#76c0b7" d="M191.8 298.4L194.5 301.5 197.6 299.3 195.0 296.1z"/><path color="#5cb9dc" d="M160.2 296.6L162.8 298.4 166.0 295.6 163.4 293.7z"/><path color="#3c4d9f" d="M128.6 304.2L131.2 305.0 134.4 302.4 131.7 301.6z"/><path color="#3a3492" d="M96.9 311.5L99.6 312.3 102.7 310.2 100.1 309.5z"/><path color="#362f87" d="M65.3 315.2L67.9 316.1 71.1 314.5 68.5 313.6z"/><path color="#352d82" d="M33.7 316.0L36.3 317.1 39.5 315.8 36.8 314.7z"/><path color="#3c3696" d="M249.3 313.0L252.0 314.8 255.1 313.4 252.5 311.6z"/><path color="#51a2d3" d="M217.7 306.1L220.3 308.9 223.5 307.3 220.8 304.4z"/><path color="#76c0b8" d="M186.0 297.7L188.7 300.7 191.8 298.4 189.2 295.3z"/><path color="#53a7d6" d="M154.4 298.0L157.0 299.5 160.2 296.6 157.6 295.1z"/><path color="#3c479c" d="M122.8 306.1L125.4 306.8 128.6 304.2 125.9 303.5z"/><path color="#39338f" d="M91.1 312.7L93.8 313.5 96.9 311.5 94.3 310.8z"/><path color="#362e86" d="M59.5 315.7L62.1 316.7 65.3 315.2 62.7 314.2z"/><path color="#3c3f99" d="M243.5 312.4L246.2 314.3 249.3 313.0 246.7 311.0z"/><path color="#58b5de" d="M211.9 304.8L214.5 307.7 217.7 306.1 215.0 303.1z"/><path color="#73bfbc" d="M180.2 297.4L182.9 300.1 186.0 297.7 183.4 294.8z"/><path color="#4b91c9" d="M148.6 299.6L151.2 300.8 154.4 298.0 151.8 296.7z"/><path color="#3c409a" d="M117.0 307.8L119.6 308.6 122.8 306.1 120.1 305.4z"/><path color="#39328d" d="M85.3 313.8L88.0 314.6 91.1 312.7 88.5 311.9z"/><path color="#362e84" d="M53.7 316.1L56.3 317.2 59.5 315.7 56.9 314.7z"/><path color="#3c479d" d="M237.7 311.7L240.4 313.8 243.5 312.4 240.9 310.3z"/><path color="#61bad5" d="M206.1 303.6L208.7 306.6 211.9 304.8 209.2 301.7z"/><path color="#6ebec3" d="M174.4 297.3L177.1 299.9 180.2 297.4 177.6 294.7z"/><path color="#457abb" d="M142.8 301.4L145.4 302.4 148.6 299.6 146.0 298.5z"/><path color="#3c3b98" d="M111.2 309.4L113.8 310.2 117.0 307.8 114.3 307.1z"/><path color="#38318b" d="M79.5 314.7L82.2 315.6 85.3 313.8 82.7 312.9z"/><path color="#352d83" d="M47.9 316.5L50.5 317.5 53.7 316.1 51.1 315.1z"/><path color="#3d51a1" d="M231.9 310.9L234.6 313.1 237.7 311.7 235.1 309.4z"/><path color="#68bccc" d="M200.3 302.5L202.9 305.5 206.1 303.6 203.4 300.5z"/><path color="#66bccf" d="M168.6 297.7L171.3 300.0 174.4 297.3 171.8 295.0z"/><path color="#4163ac" d="M137.0 303.2L139.6 304.2 142.8 301.4 140.2 300.4z"/><path color="#3b3595" d="M105.4 310.9L108.0 311.7 111.2 309.4 108.5 308.7z"/><path color="#373089" d="M73.7 315.5L76.4 316.4 79.5 314.7 76.9 313.8z"/><path color="#352d83" d="M42.1 316.8L44.7 317.9 47.9 316.5 45.3 315.5z"/><path color="#436db3" d="M226.1 309.9L228.8 312.3 231.9 310.9 229.3 308.4z"/><path color="#6cbdc6" d="M194.5 301.5L197.1 304.5 200.3 302.5 197.6 299.3z"/><path color="#5bb9dd" d="M162.8 298.4L165.5 300.4 168.6 297.7 166.0 295.6z"/><path color="#3c4e9f" d="M131.2 305.0L133.8 305.9 137.0 303.2 134.4 302.4z"/><path color="#3a3492" d="M99.6 312.3L102.2 313.1 105.4 310.9 102.7 310.2z"/><path color="#372f87" d="M67.9 316.1L70.6 317.1 73.7 315.5 71.1 314.5z"/><path color="#352d82" d="M36.3 317.1L38.9 318.1 42.1 316.8 39.5 315.8z"/><path color="#3a3492" d="M252.0 314.8L254.6 316.4 257.8 315.1 255.1 313.4z"/><path color="#4886c3" d="M220.3 308.9L223.0 311.4 226.1 309.9 223.5 307.3z"/><path color="#6dbdc4" d="M188.7 300.7L191.3 303.6 194.5 301.5 191.8 298.4z"/><path color="#53a8d6" d="M157.0 299.5L159.7 301.2 162.8 298.4 160.2 296.6z"/><path color="#3c489d" d="M125.4 306.8L128.0 307.7 131.2 305.0 128.6 304.2z"/><path color="#3a3390" d="M93.8 313.5L96.4 314.4 99.6 312.3 96.9 311.5z"/><path color="#362e86" d="M62.1 316.7L64.8 317.7 67.9 316.1 65.3 315.2z"/><path color="#3c3796" d="M246.2 314.3L248.8 316.1 252.0 314.8 249.3 313.0z"/><path color="#4f9bcf" d="M214.5 307.7L217.1 310.5 220.3 308.9 217.7 306.1z"/><path color="#6cbdc5" d="M182.9 300.1L185.5 302.9 188.7 300.7 186.0 297.7z"/><path color="#4b92ca" d="M151.2 300.8L153.9 302.2 157.0 299.5 154.4 298.0z"/><path color="#3c419a" d="M119.6 308.6L122.2 309.3 125.4 306.8 122.8 306.1z"/><path color="#39328d" d="M88.0 314.6L90.6 315.5 93.8 313.5 91.1 312.7z"/><path color="#362e85" d="M56.3 317.2L59.0 318.2 62.1 316.7 59.5 315.7z"/><path color="#3c3f99" d="M240.4 313.8L243.0 315.7 246.2 314.3 243.5 312.4z"/><path color="#55add9" d="M208.7 306.6L211.3 309.4 214.5 307.7 211.9 304.8z"/><path color="#69bcca" d="M177.1 299.9L179.7 302.5 182.9 300.1 180.2 297.4z"/><path color="#467cbc" d="M145.4 302.4L148.1 303.6 151.2 300.8 148.6 299.6z"/><path color="#3c3b98" d="M113.8 310.2L116.4 311.0 119.6 308.6 117.0 307.8z"/><path color="#38318b" d="M82.2 315.6L84.8 316.5 88.0 314.6 85.3 313.8z"/><path color="#352d84" d="M50.5 317.5L53.2 318.6 56.3 317.2 53.7 316.1z"/><path color="#3c479d" d="M234.6 313.1L237.2 315.2 240.4 313.8 237.7 311.7z"/><path color="#5bb9de" d="M202.9 305.5L205.5 308.4 208.7 306.6 206.1 303.6z"/><path color="#62bbd3" d="M171.3 300.0L173.9 302.4 177.1 299.9 174.4 297.3z"/><path color="#4165ae" d="M139.6 304.2L142.3 305.2 145.4 302.4 142.8 301.4z"/><path color="#3c3696" d="M108.0 311.7L110.6 312.5 113.8 310.2 111.2 309.4z"/><path color="#373089" d="M76.4 316.4L79.0 317.3 82.2 315.6 79.5 314.7z"/><path color="#352d83" d="M44.7 317.9L47.4 318.9 50.5 317.5 47.9 316.5z"/><path color="#3d4fa0" d="M228.8 312.3L231.4 314.5 234.6 313.1 231.9 310.9z"/><path color="#61bad6" d="M197.1 304.5L199.7 307.4 202.9 305.5 200.3 302.5z"/><path color="#5ab9df" d="M165.5 300.4L168.1 302.6 171.3 300.0 168.6 297.7z"/><path color="#3d4fa0" d="M133.8 305.9L136.5 306.9 139.6 304.2 137.0 303.2z"/><path color="#3b3493" d="M102.2 313.1L104.8 313.9 108.0 311.7 105.4 310.9z"/><path color="#372f88" d="M70.6 317.1L73.2 318.0 76.4 316.4 73.7 315.5z"/><path color="#352d82" d="M38.9 318.1L41.6 319.2 44.7 317.9 42.1 316.8z"/><path color="#4269b0" d="M223.0 311.4L225.6 313.8 228.8 312.3 226.1 309.9z"/><path color="#64bbd1" d="M191.3 303.6L193.9 306.5 197.1 304.5 194.5 301.5z"/><path color="#53a7d6" d="M159.7 301.2L162.3 303.1 165.5 300.4 162.8 298.4z"/><path color="#3c489d" d="M128.0 307.7L130.7 308.5 133.8 305.9 131.2 305.0z"/><path color="#3a3390" d="M96.4 314.4L99.0 315.2 102.2 313.1 99.6 312.3z"/><path color="#362e86" d="M64.8 317.7L67.4 318.7 70.6 317.1 67.9 316.1z"/><path color="#3a3492" d="M248.8 316.1L251.4 317.7 254.6 316.4 252.0 314.8z"/><path color="#4780bf" d="M217.1 310.5L219.8 313.0 223.0 311.4 220.3 308.9z"/><path color="#64bbd0" d="M185.5 302.9L188.1 305.7 191.3 303.6 188.7 300.7z"/><path color="#4c93cb" d="M153.9 302.2L156.5 303.9 159.7 301.2 157.0 299.5z"/><path color="#3c429b" d="M122.2 309.3L124.9 310.2 128.0 307.7 125.4 306.8z"/><path color="#39328e" d="M90.6 315.5L93.2 316.3 96.4 314.4 93.8 313.5z"/><path color="#362e85" d="M59.0 318.2L61.6 319.2 64.8 317.7 62.1 316.7z"/><path color="#3c3796" d="M243.0 315.7L245.6 317.4 248.8 316.1 246.2 314.3z"/><path color="#4c94cb" d="M211.3 309.4L214.0 312.1 217.1 310.5 214.5 307.7z"/><path color="#63bbd3" d="M179.7 302.5L182.3 305.2 185.5 302.9 182.9 300.1z"/><path color="#467dbd" d="M148.1 303.6L150.7 305.0 153.9 302.2 151.2 300.8z"/><path color="#3c3c98" d="M116.4 311.0L119.1 311.8 122.2 309.3 119.6 308.6z"/><path color="#38318c" d="M84.8 316.5L87.4 317.3 90.6 315.5 88.0 314.6z"/><path color="#352d84" d="M53.2 318.6L55.8 319.6 59.0 318.2 56.3 317.2z"/><path color="#3c3f99" d="M237.2 315.2L239.8 317.0 243.0 315.7 240.4 313.8z"/><path color="#52a4d4" d="M205.5 308.4L208.2 311.1 211.3 309.4 208.7 306.6z"/><path color="#5ebad9" d="M173.9 302.4L176.5 304.9 179.7 302.5 177.1 299.9z"/><path color="#4267af" d="M142.3 305.2L144.9 306.3 148.1 303.6 145.4 302.4z"/><path color="#3c3796" d="M110.6 312.5L113.3 313.3 116.4 311.0 113.8 310.2z"/><path color="#37308a" d="M79.0 317.3L81.6 318.2 84.8 316.5 82.2 315.6z"/><path color="#352d83" d="M47.4 318.9L50.0 320.0 53.2 318.6 50.5 317.5z"/><path color="#3c479c" d="M231.4 314.5L234.0 316.5 237.2 315.2 234.6 313.1z"/><path color="#56b0db" d="M199.7 307.4L202.4 310.2 205.5 308.4 202.9 305.5z"/><path color="#58b5dd" d="M168.1 302.6L170.7 304.8 173.9 302.4 171.3 300.0z"/><path color="#3d51a1" d="M136.5 306.9L139.1 307.9 142.3 305.2 139.6 304.2z"/><path color="#3b3593" d="M104.8 313.9L107.5 314.7 110.6 312.5 108.0 311.7z"/><path color="#372f88" d="M73.2 318.0L75.8 319.0 79.0 317.3 76.4 316.4z"/><path color="#352d82" d="M41.6 319.2L44.2 320.2 47.4 318.9 44.7 317.9z"/><path color="#3c4e9f" d="M225.6 313.8L228.2 316.0 231.4 314.5 228.8 312.3z"/><path color="#59b8df" d="M193.9 306.5L196.6 309.3 199.7 307.4 197.1 304.5z"/><path color="#52a6d5" d="M162.3 303.1L164.9 305.1 168.1 302.6 165.5 300.4z"/><path color="#3c499d" d="M130.7 308.5L133.3 309.5 136.5 306.9 133.8 305.9z"/><path color="#3a3391" d="M99.0 315.2L101.7 316.0 104.8 313.9 102.2 313.1z"/><path color="#362e86" d="M67.4 318.7L70.0 319.6 73.2 318.0 70.6 317.1z"/><path color="#4164ad" d="M219.8 313.0L222.4 315.3 225.6 313.8 223.0 311.4z"/><path color="#5cb9dc" d="M188.1 305.7L190.8 308.5 193.9 306.5 191.3 303.6z"/><path color="#4c93cb" d="M156.5 303.9L159.1 305.7 162.3 303.1 159.7 301.2z"/><path color="#3c439b" d="M124.9 310.2L127.5 311.1 130.7 308.5 128.0 307.7z"/><path color="#39328e" d="M93.2 316.3L95.9 317.2 99.0 315.2 96.4 314.4z"/><path color="#362e85" d="M61.6 319.2L64.2 320.2 67.4 318.7 64.8 317.7z"/><path color="#3a3492" d="M245.6 317.4L248.3 319.0 251.4 317.7 248.8 316.1z"/><path color="#457abb" d="M214.0 312.1L216.6 314.5 219.8 313.0 217.1 310.5z"/><path color="#5bb9dd" d="M182.3 305.2L185.0 307.9 188.1 305.7 185.5 302.9z"/><path color="#467ebe" d="M150.7 305.0L153.3 306.5 156.5 303.9 153.9 302.2z"/><path color="#3c3d99" d="M119.1 311.8L121.7 312.7 124.9 310.2 122.2 309.3z"/><path color="#38318c" d="M87.4 317.3L90.1 318.2 93.2 316.3 90.6 315.5z"/><path color="#352d84" d="M55.8 319.6L58.4 320.6 61.6 319.2 59.0 318.2z"/><path color="#3c3796" d="M239.8 317.0L242.5 318.7 245.6 317.4 243.0 315.7z"/><path color="#498cc7" d="M208.2 311.1L210.8 313.7 214.0 312.1 211.3 309.4z"/><path color="#59b7df" d="M176.5 304.9L179.2 307.4 182.3 305.2 179.7 302.5z"/><path color="#4268b0" d="M144.9 306.3L147.5 307.7 150.7 305.0 148.1 303.6z"/><path color="#3c3896" d="M113.3 313.3L115.9 314.2 119.1 311.8 116.4 311.0z"/><path color="#37308a" d="M81.6 318.2L84.3 319.2 87.4 317.3 84.8 316.5z"/><path color="#352d83" d="M50.0 320.0L52.6 321.0 55.8 319.6 53.2 318.6z"/><path color="#3c3f99" d="M234.0 316.5L236.7 318.4 239.8 317.0 237.2 315.2z"/><path color="#4e9bcf" d="M202.4 310.2L205.0 312.8 208.2 311.1 205.5 308.4z"/><path color="#56aeda" d="M170.7 304.8L173.4 307.2 176.5 304.9 173.9 302.4z"/><path color="#3d53a2" d="M139.1 307.9L141.7 309.0 144.9 306.3 142.3 305.2z"/><path color="#3b3594" d="M107.5 314.7L110.1 315.6 113.3 313.3 110.6 312.5z"/><path color="#372f88" d="M75.8 319.0L78.5 320.0 81.6 318.2 79.0 317.3z"/><path color="#352d82" d="M44.2 320.2L46.8 321.3 50.0 320.0 47.4 318.9z"/><path color="#3c469c" d="M228.2 316.0L230.9 317.9 234.0 316.5 231.4 314.5z"/><path color="#52a5d5" d="M196.6 309.3L199.2 312.0 202.4 310.2 199.7 307.4z"/><path color="#51a2d3" d="M164.9 305.1L167.6 307.3 170.7 304.8 168.1 302.6z"/><path color="#3c4a9e" d="M133.3 309.5L135.9 310.5 139.1 307.9 136.5 306.9z"/><path color="#3a3391" d="M101.7 316.0L104.3 316.9 107.5 314.7 104.8 313.9z"/><path color="#362f86" d="M70.0 319.6L72.7 320.6 75.8 319.0 73.2 318.0z"/><path color="#3c4d9f" d="M222.4 315.3L225.1 317.4 228.2 316.0 225.6 313.8z"/><path color="#55acd8" d="M190.8 308.5L193.4 311.2 196.6 309.3 193.9 306.5z"/><path color="#4b92ca" d="M159.1 305.7L161.8 307.6 164.9 305.1 162.3 303.1z"/><path color="#3c449b" d="M127.5 311.1L130.1 312.0 133.3 309.5 130.7 308.5z"/><path color="#39328f" d="M95.9 317.2L98.5 318.1 101.7 316.0 99.0 315.2z"/><path color="#362e85" d="M64.2 320.2L66.9 321.2 70.0 319.6 67.4 318.7z"/><path color="#4060aa" d="M216.6 314.5L219.3 316.7 222.4 315.3 219.8 313.0z"/><path color="#56aeda" d="M185.0 307.9L187.6 310.5 190.8 308.5 188.1 305.7z"/><path color="#467ebe" d="M153.3 306.5L156.0 308.3 159.1 305.7 156.5 303.9z"/><path color="#3c3e99" d="M121.7 312.7L124.3 313.6 127.5 311.1 124.9 310.2z"/><path color="#38318c" d="M90.1 318.2L92.7 319.1 95.9 317.2 93.2 316.3z"/><path color="#352d84" d="M58.4 320.6L61.1 321.7 64.2 320.2 61.6 319.2z"/><path color="#3b3493" d="M242.5 318.7L245.1 320.3 248.3 319.0 245.6 317.4z"/><path color="#4473b7" d="M210.8 313.7L213.4 316.0 216.6 314.5 214.0 312.1z"/><path color="#55acd9" d="M179.2 307.4L181.8 310.0 185.0 307.9 182.3 305.2z"/><path color="#4269b1" d="M147.5 307.7L150.2 309.2 153.3 306.5 150.7 305.0z"/><path color="#3c3897" d="M115.9 314.2L118.5 315.0 121.7 312.7 119.1 311.8z"/><path color="#38308a" d="M84.3 319.2L86.9 320.1 90.1 318.2 87.4 317.3z"/><path color="#352d83" d="M52.6 321.0L55.3 322.0 58.4 320.6 55.8 319.6z"/><path color="#3c3796" d="M236.7 318.4L239.3 320.1 242.5 318.7 239.8 317.0z"/><path color="#4884c1" d="M205.0 312.8L207.6 315.3 210.8 313.7 208.2 311.1z"/><path color="#53a6d5" d="M173.4 307.2L176.0 309.6 179.2 307.4 176.5 304.9z"/><path color="#3e54a3" d="M141.7 309.0L144.4 310.3 147.5 307.7 144.9 306.3z"/><path color="#3b3594" d="M110.1 315.6L112.7 316.4 115.9 314.2 113.3 313.3z"/><path color="#372f88" d="M78.5 320.0L81.1 320.9 84.3 319.2 81.6 318.2z"/><path color="#352d82" d="M46.8 321.3L49.5 322.3 52.6 321.0 50.0 320.0z"/><path color="#3c3f99" d="M230.9 317.9L233.5 319.7 236.7 318.4 234.0 316.5z"/><path color="#4b91c9" d="M199.2 312.0L201.8 314.5 205.0 312.8 202.4 310.2z"/><path color="#4f9cd0" d="M167.6 307.3L170.2 309.5 173.4 307.2 170.7 304.8z"/><path color="#3c4a9e" d="M135.9 310.5L138.6 311.6 141.7 309.0 139.1 307.9z"/><path color="#3a3491" d="M104.3 316.9L106.9 317.8 110.1 315.6 107.5 314.7z"/><path color="#362f87" d="M72.7 320.6L75.3 321.6 78.5 320.0 75.8 319.0z"/><path color="#3c469c" d="M225.1 317.4L227.7 319.3 230.9 317.9 228.2 316.0z"/><path color="#4e9ace" d="M193.4 311.2L196.0 313.7 199.2 312.0 196.6 309.3z"/><path color="#4a8fc8" d="M161.8 307.6L164.4 309.7 167.6 307.3 164.9 305.1z"/><path color="#3c449b" d="M130.1 312.0L132.8 313.1 135.9 310.5 133.3 309.5z"/><path color="#39328f" d="M98.5 318.1L101.1 319.0 104.3 316.9 101.7 316.0z"/><path color="#362e85" d="M66.9 321.2L69.5 322.2 72.7 320.6 70.0 319.6z"/><path color="#3c4c9e" d="M219.3 316.7L221.9 318.8 225.1 317.4 222.4 315.3z"/><path color="#509fd1" d="M187.6 310.5L190.2 313.1 193.4 311.2 190.8 308.5z"/><path color="#467ebd" d="M156.0 308.3L158.6 310.1 161.8 307.6 159.1 305.7z"/><path color="#3c3f99" d="M124.3 313.6L127.0 314.5 130.1 312.0 127.5 311.1z"/><path color="#38318d" d="M92.7 319.1L95.3 320.1 98.5 318.1 95.9 317.2z"/><path color="#352d84" d="M61.1 321.7L63.7 322.7 66.9 321.2 64.2 320.2z"/><path color="#3f5aa7" d="M213.4 316.0L216.1 318.2 219.3 316.7 216.6 314.5z"/><path color="#509fd1" d="M181.8 310.0L184.4 312.5 187.6 310.5 185.0 307.9z"/><path color="#426ab1" d="M150.2 309.2L152.8 310.8 156.0 308.3 153.3 306.5z"/><path color="#3c3997" d="M118.5 315.0L121.2 316.0 124.3 313.6 121.7 312.7z"/><path color="#38308b" d="M86.9 320.1L89.5 321.0 92.7 319.1 90.1 318.2z"/><path color="#352d83" d="M55.3 322.0L57.9 323.1 61.1 321.7 58.4 320.6z"/><path color="#3b3493" d="M239.3 320.1L241.9 321.6 245.1 320.3 242.5 318.7z"/><path color="#436cb2" d="M207.6 315.3L210.3 317.6 213.4 316.0 210.8 313.7z"/><path color="#4f9cd0" d="M176.0 309.6L178.6 312.1 181.8 310.0 179.2 307.4z"/><path color="#3e55a4" d="M144.4 310.3L147.0 311.7 150.2 309.2 147.5 307.7z"/><path color="#3b3594" d="M112.7 316.4L115.4 317.4 118.5 315.0 115.9 314.2z"/><path color="#373089" d="M81.1 320.9L83.7 321.9 86.9 320.1 84.3 319.2z"/><path color="#352d83" d="M49.5 322.3L52.1 323.4 55.3 322.0 52.6 321.0z"/><path color="#3c3796" d="M233.5 319.7L236.1 321.4 239.3 320.1 236.7 318.4z"/><path color="#467bbc" d="M201.8 314.5L204.5 316.9 207.6 315.3 205.0 312.8z"/><path color="#4c95cc" d="M170.2 309.5L172.8 311.8 176.0 309.6 173.4 307.2z"/><path color="#3c4b9e" d="M138.6 311.6L141.2 312.9 144.4 310.3 141.7 309.0z"/><path color="#3a3492" d="M106.9 317.8L109.6 318.7 112.7 316.4 110.1 315.6z"/><path color="#362f87" d="M75.3 321.6L77.9 322.6 81.1 320.9 78.5 320.0z"/><path color="#3c3e99" d="M227.7 319.3L230.3 321.1 233.5 319.7 230.9 317.9z"/><path color="#4887c3" d="M196.0 313.7L198.7 316.2 201.8 314.5 199.2 312.0z"/><path color="#498ac5" d="M164.4 309.7L167.0 311.8 170.2 309.5 167.6 307.3z"/><path color="#3c459c" d="M132.8 313.1L135.4 314.1 138.6 311.6 135.9 310.5z"/><path color="#39338f" d="M101.1 319.0L103.8 319.9 106.9 317.8 104.3 316.9z"/><path color="#362e85" d="M69.5 322.2L72.1 323.2 75.3 321.6 72.7 320.6z"/><path color="#3c459c" d="M221.9 318.8L224.5 320.7 227.7 319.3 225.1 317.4z"/><path color="#4a8ec8" d="M190.2 313.1L192.9 315.5 196.0 313.7 193.4 311.2z"/><path color="#467bbc" d="M158.6 310.1L161.2 312.1 164.4 309.7 161.8 307.6z"/><path color="#3c3f99" d="M127.0 314.5L129.6 315.5 132.8 313.1 130.1 312.0z"/><path color="#39328d" d="M95.3 320.1L98.0 321.0 101.1 319.0 98.5 318.1z"/><path color="#362e84" d="M63.7 322.7L66.3 323.7 69.5 322.2 66.9 321.2z"/><path color="#3c4b9e" d="M216.1 318.2L218.7 320.2 221.9 318.8 219.3 316.7z"/><path color="#4b91ca" d="M184.4 312.5L187.1 314.9 190.2 313.1 187.6 310.5z"/><path color="#4269b1" d="M152.8 310.8L155.4 312.6 158.6 310.1 156.0 308.3z"/><path color="#3c3a97" d="M121.2 316.0L123.8 316.9 127.0 314.5 124.3 313.6z"/><path color="#38318b" d="M89.5 321.0L92.2 322.0 95.3 320.1 92.7 319.1z"/><path color="#352d83" d="M57.9 323.1L60.5 324.1 63.7 322.7 61.1 321.7z"/><path color="#3e54a3" d="M210.3 317.6L212.9 319.7 216.1 318.2 213.4 316.0z"/><path color="#4b91c9" d="M178.6 312.1L181.3 314.5 184.4 312.5 181.8 310.0z"/><path color="#3e56a4" d="M147.0 311.7L149.6 313.3 152.8 310.8 150.2 309.2z"/><path color="#3b3595" d="M115.4 317.4L118.0 318.3 121.2 316.0 118.5 315.0z"/><path color="#373089" d="M83.7 321.9L86.4 322.8 89.5 321.0 86.9 320.1z"/><path color="#352d83" d="M52.1 323.4L54.7 324.4 57.9 323.1 55.3 322.0z"/><path color="#3b3493" d="M236.1 321.4L238.8 322.9 241.9 321.6 239.3 320.1z"/><path color="#4165ae" d="M204.5 316.9L207.1 319.1 210.3 317.6 207.6 315.3z"/><path color="#498cc6" d="M172.8 311.8L175.5 314.1 178.6 312.1 176.0 309.6z"/><path color="#3c4b9e" d="M141.2 312.9L143.8 314.2 147.0 311.7 144.4 310.3z"/><path color="#3a3492" d="M109.6 318.7L112.2 319.6 115.4 317.4 112.7 316.4z"/><path color="#372f87" d="M77.9 322.6L80.6 323.6 83.7 321.9 81.1 320.9z"/><path color="#3c3796" d="M230.3 321.1L233.0 322.7 236.1 321.4 233.5 319.7z"/><path color="#4472b6" d="M198.7 316.2L201.3 318.5 204.5 316.9 201.8 314.5z"/><path color="#4783c1" d="M167.0 311.8L169.7 314.0 172.8 311.8 170.2 309.5z"/><path color="#3c459c" d="M135.4 314.1L138.0 315.4 141.2 312.9 138.6 311.6z"/><path color="#393390" d="M103.8 319.9L106.4 320.8 109.6 318.7 106.9 317.8z"/><path color="#362e86" d="M72.1 323.2L74.8 324.2 77.9 322.6 75.3 321.6z"/><path color="#3c3e99" d="M224.5 320.7L227.2 322.4 230.3 321.1 227.7 319.3z"/><path color="#467cbc" d="M192.9 315.5L195.5 317.9 198.7 316.2 196.0 313.7z"/><path color="#4577b9" d="M161.2 312.1L163.9 314.1 167.0 311.8 164.4 309.7z"/><path color="#3c409a" d="M129.6 315.5L132.2 316.6 135.4 314.1 132.8 313.1z"/><path color="#39328d" d="M98.0 321.0L100.6 321.9 103.8 319.9 101.1 319.0z"/><path color="#362e84" d="M66.3 323.7L69.0 324.7 72.1 323.2 69.5 322.2z"/><path color="#3c449b" d="M218.7 320.2L221.4 322.1 224.5 320.7 221.9 318.8z"/><path color="#4781c0" d="M187.1 314.9L189.7 317.3 192.9 315.5 190.2 313.1z"/><path color="#4268af" d="M155.4 312.6L158.1 314.4 161.2 312.1 158.6 310.1z"/><path color="#3c3a97" d="M123.8 316.9L126.4 317.9 129.6 315.5 127.0 314.5z"/><path color="#38318b" d="M92.2 322.0L94.8 322.9 98.0 321.0 95.3 320.1z"/><path color="#352d83" d="M60.5 324.1L63.2 325.2 66.3 323.7 63.7 322.7z"/><path color="#3c499d" d="M212.9 319.7L215.6 321.7 218.7 320.2 216.1 318.2z"/><path color="#4783c1" d="M181.3 314.5L183.9 316.8 187.1 314.9 184.4 312.5z"/><path color="#3e56a4" d="M149.6 313.3L152.3 315.0 155.4 312.6 152.8 310.8z"/><path color="#3b3595" d="M118.0 318.3L120.6 319.3 123.8 316.9 121.2 316.0z"/><path color="#373089" d="M86.4 322.8L89.0 323.8 92.2 322.0 89.5 321.0z"/><path color="#352d83" d="M54.7 324.4L57.4 325.5 60.5 324.1 57.9 323.1z"/><path color="#3c4e9f" d="M207.1 319.1L209.7 321.2 212.9 319.7 210.3 317.6z"/><path color="#4781c0" d="M175.5 314.1L178.1 316.4 181.3 314.5 178.6 312.1z"/><path color="#3c4b9e" d="M143.8 314.2L146.5 315.7 149.6 313.3 147.0 311.7z"/><path color="#3a3492" d="M112.2 319.6L114.8 320.5 118.0 318.3 115.4 317.4z"/><path color="#372f87" d="M80.6 323.6L83.2 324.6 86.4 322.8 83.7 321.9z"/><path color="#3b3493" d="M233.0 322.7L235.6 324.2 238.8 322.9 236.1 321.4z"/><path color="#3f5da9" d="M201.3 318.5L203.9 320.7 207.1 319.1 204.5 316.9z"/><path color="#467bbc" d="M169.7 314.0L172.3 316.2 175.5 314.1 172.8 311.8z"/><path color="#3c459c" d="M138.0 315.4L140.7 316.7 143.8 314.2 141.2 312.9z"/><path color="#3a3390" d="M106.4 320.8L109.0 321.7 112.2 319.6 109.6 318.7z"/><path color="#362e86" d="M74.8 324.2L77.4 325.2 80.6 323.6 77.9 322.6z"/><path color="#3c3796" d="M227.2 322.4L229.8 324.1 233.0 322.7 230.3 321.1z"/><path color="#4268b0" d="M195.5 317.9L198.1 320.1 201.3 318.5 198.7 316.2z"/><path color="#4471b6" d="M163.9 314.1L166.5 316.2 169.7 314.0 167.0 311.8z"/><path color="#3c409a" d="M132.2 316.6L134.9 317.8 138.0 315.4 135.4 314.1z"/><path color="#39328e" d="M100.6 321.9L103.2 322.9 106.4 320.8 103.8 319.9z"/><path color="#362e84" d="M69.0 324.7L71.6 325.8 74.8 324.2 72.1 323.2z"/><path color="#3c3d99" d="M221.4 322.1L224.0 323.8 227.2 322.4 224.5 320.7z"/><path color="#4370b5" d="M189.7 317.3L192.3 319.6 195.5 317.9 192.9 315.5z"/><path color="#4164ad" d="M158.1 314.4L160.7 316.3 163.9 314.1 161.2 312.1z"/><path color="#3c3b98" d="M126.4 317.9L129.1 319.0 132.2 316.6 129.6 315.5z"/><path color="#38318b" d="M94.8 322.9L97.4 323.9 100.6 321.9 98.0 321.0z"/><path color="#352d83" d="M63.2 325.2L65.8 326.2 69.0 324.7 66.3 323.7z"/><path color="#3c439b" d="M215.6 321.7L218.2 323.5 221.4 322.1 218.7 320.2z"/><path color="#4474b8" d="M183.9 316.8L186.5 319.1 189.7 317.3 187.1 314.9z"/><path color="#3e54a3" d="M152.3 315.0L154.9 316.7 158.1 314.4 155.4 312.6z"/><path color="#3b3595" d="M120.6 319.3L123.3 320.3 126.4 317.9 123.8 316.9z"/><path color="#373089" d="M89.0 323.8L91.6 324.8 94.8 322.9 92.2 322.0z"/><path color="#352d83" d="M57.4 325.5L60.0 326.5 63.2 325.2 60.5 324.1z"/><path color="#3c489d" d="M209.7 321.2L212.4 323.1 215.6 321.7 212.9 319.7z"/><path color="#4475b8" d="M178.1 316.4L180.7 318.7 183.9 316.8 181.3 314.5z"/><path color="#3c4b9e" d="M146.5 315.7L149.1 317.3 152.3 315.0 149.6 313.3z"/><path color="#3b3493" d="M114.8 320.5L117.5 321.5 120.6 319.3 118.0 318.3z"/><path color="#372f87" d="M83.2 324.6L85.8 325.6 89.0 323.8 86.4 322.8z"/><path color="#3c4c9f" d="M203.9 320.7L206.6 322.7 209.7 321.2 207.1 319.1z"/><path color="#4471b5" d="M172.3 316.2L174.9 318.4 178.1 316.4 175.5 314.1z"/><path color="#3c469c" d="M140.7 316.7L143.3 318.1 146.5 315.7 143.8 314.2z"/><path color="#3a3390" d="M109.0 321.7L111.7 322.7 114.8 320.5 112.2 319.6z"/><path color="#362e86" d="M77.4 325.2L80.0 326.2 83.2 324.6 80.6 323.6z"/><path color="#3b3493" d="M229.8 324.1L232.4 325.6 235.6 324.2 233.0 322.7z"/><path color="#3e54a3" d="M198.1 320.1L200.8 322.2 203.9 320.7 201.3 318.5z"/><path color="#426ab1" d="M166.5 316.2L169.1 318.3 172.3 316.2 169.7 314.0z"/><path color="#3c409a" d="M134.9 317.8L137.5 319.1 140.7 316.7 138.0 315.4z"/><path color="#39328e" d="M103.2 322.9L105.9 323.8 109.0 321.7 106.4 320.8z"/><path color="#362e85" d="M71.6 325.8L74.2 326.8 77.4 325.2 74.8 324.2z"/><path color="#3c3796" d="M224.0 323.8L226.6 325.4 229.8 324.1 227.2 322.4z"/><path color="#405ea9" d="M192.3 319.6L195.0 321.7 198.1 320.1 195.5 317.9z"/><path color="#405faa" d="M160.7 316.3L163.3 318.3 166.5 316.2 163.9 314.1z"/><path color="#3c3b98" d="M129.1 319.0L131.7 320.2 134.9 317.8 132.2 316.6z"/><path color="#38318c" d="M97.4 323.9L100.1 324.8 103.2 322.9 100.6 321.9z"/><path color="#352d83" d="M65.8 326.2L68.4 327.2 71.6 325.8 69.0 324.7z"/><path color="#3c3c98" d="M218.2 323.5L220.8 325.2 224.0 323.8 221.4 322.1z"/><path color="#4164ad" d="M186.5 319.1L189.2 321.3 192.3 319.6 189.7 317.3z"/><path color="#3d51a1" d="M154.9 316.7L157.5 318.6 160.7 316.3 158.1 314.4z"/><path color="#3c3696" d="M123.3 320.3L125.9 321.3 129.1 319.0 126.4 317.9z"/><path color="#373089" d="M91.6 324.8L94.3 325.7 97.4 323.9 94.8 322.9z"/><path color="#352d83" d="M60.0 326.5L62.6 327.6 65.8 326.2 63.2 325.2z"/><path color="#3c429a" d="M212.4 323.1L215.0 324.9 218.2 323.5 215.6 321.7z"/><path color="#4267af" d="M180.7 318.7L183.4 320.9 186.5 319.1 183.9 316.8z"/><path color="#3c4b9e" d="M149.1 317.3L151.7 319.0 154.9 316.7 152.3 315.0z"/><path color="#3b3493" d="M117.5 321.5L120.1 322.5 123.3 320.3 120.6 319.3z"/><path color="#372f88" d="M85.8 325.6L88.5 326.5 91.6 324.8 89.0 323.8z"/><path color="#3c469c" d="M206.6 322.7L209.2 324.5 212.4 323.1 209.7 321.2z"/><path color="#4166ae" d="M174.9 318.4L177.6 320.6 180.7 318.7 178.1 316.4z"/><path color="#3c469c" d="M143.3 318.1L145.9 319.6 149.1 317.3 146.5 315.7z"/><path color="#3a3390" d="M111.7 322.7L114.3 323.7 117.5 321.5 114.8 320.5z"/><path color="#362e86" d="M80.0 326.2L82.7 327.2 85.8 325.6 83.2 324.6z"/><path color="#3c4a9e" d="M200.8 322.2L203.4 324.2 206.6 322.7 203.9 320.7z"/><path color="#4061ab" d="M169.1 318.3L171.8 320.4 174.9 318.4 172.3 316.2z"/><path color="#3c409a" d="M137.5 319.1L140.1 320.4 143.3 318.1 140.7 316.7z"/><path color="#39328e" d="M105.9 323.8L108.5 324.8 111.7 322.7 109.0 321.7z"/><path color="#362e85" d="M74.2 326.8L76.9 327.8 80.0 326.2 77.4 325.2z"/><path color="#3b3493" d="M226.6 325.4L229.3 326.9 232.4 325.6 229.8 324.1z"/><path color="#3c4e9f" d="M195.0 321.7L197.6 323.8 200.8 322.2 198.1 320.1z"/><path color="#3f59a6" d="M163.3 318.3L166.0 320.3 169.1 318.3 166.5 316.2z"/><path color="#3c3b98" d="M131.7 320.2L134.3 321.4 137.5 319.1 134.9 317.8z"/><path color="#38318c" d="M100.1 324.8L102.7 325.8 105.9 323.8 103.2 322.9z"/><path color="#352d84" d="M68.4 327.2L71.1 328.3 74.2 326.8 71.6 325.8z"/><path color="#3c3696" d="M220.8 325.2L223.5 326.7 226.6 325.4 224.0 323.8z"/><path color="#3e54a3" d="M189.2 321.3L191.8 323.3 195.0 321.7 192.3 319.6z"/><path color="#3c4e9f" d="M157.5 318.6L160.2 320.4 163.3 318.3 160.7 316.3z"/><path color="#3c3696" d="M125.9 321.3L128.5 322.5 131.7 320.2 129.1 319.0z"/><path color="#37308a" d="M94.3 325.7L96.9 326.7 100.1 324.8 97.4 323.9z"/><path color="#352d83" d="M62.6 327.6L65.3 328.6 68.4 327.2 65.8 326.2z"/><path color="#3c3c98" d="M215.0 324.9L217.7 326.5 220.8 325.2 218.2 323.5z"/><path color="#3f58a6" d="M183.4 320.9L186.0 323.0 189.2 321.3 186.5 319.1z"/><path color="#3c4a9e" d="M151.7 319.0L154.4 320.7 157.5 318.6 154.9 316.7z"/><path color="#3b3493" d="M120.1 322.5L122.7 323.6 125.9 321.3 123.3 320.3z"/><path color="#372f88" d="M88.5 326.5L91.1 327.5 94.3 325.7 91.6 324.8z"/><path color="#3c419a" d="M209.2 324.5L211.9 326.3 215.0 324.9 212.4 323.1z"/><path color="#3f59a6" d="M177.6 320.6L180.2 322.6 183.4 320.9 180.7 318.7z"/><path color="#3c469c" d="M145.9 319.6L148.6 321.2 151.7 319.0 149.1 317.3z"/><path color="#3a3391" d="M114.3 323.7L116.9 324.7 120.1 322.5 117.5 321.5z"/><path color="#362e86" d="M82.7 327.2L85.3 328.2 88.5 326.5 85.8 325.6z"/><path color="#3c459c" d="M203.4 324.2L206.0 326.0 209.2 324.5 206.6 322.7z"/><path color="#3e57a5" d="M171.8 320.4L174.4 322.4 177.6 320.6 174.9 318.4z"/><path color="#3c419a" d="M140.1 320.4L142.8 321.9 145.9 319.6 143.3 318.1z"/><path color="#39328e" d="M108.5 324.8L111.1 325.8 114.3 323.7 111.7 322.7z"/><path color="#362e85" d="M76.9 327.8L79.5 328.8 82.7 327.2 80.0 326.2z"/><path color="#3c489d" d="M197.6 323.8L200.2 325.7 203.4 324.2 200.8 322.2z"/><path color="#3d51a1" d="M166.0 320.3L168.6 322.3 171.8 320.4 169.1 318.3z"/><path color="#3c3b98" d="M134.3 321.4L137.0 322.7 140.1 320.4 137.5 319.1z"/><path color="#38318c" d="M102.7 325.8L105.3 326.8 108.5 324.8 105.9 323.8z"/><path color="#352d84" d="M71.1 328.3L73.7 329.3 76.9 327.8 74.2 326.8z"/><path color="#3b3493" d="M223.5 326.7L226.1 328.2 229.3 326.9 226.6 325.4z"/><path color="#3c4b9e" d="M191.8 323.3L194.4 325.3 197.6 323.8 195.0 321.7z"/><path color="#3c4d9f" d="M160.2 320.4L162.8 322.3 166.0 320.3 163.3 318.3z"/><path color="#3c3696" d="M128.5 322.5L131.2 323.7 134.3 321.4 131.7 320.2z"/><path color="#37308a" d="M96.9 326.7L99.5 327.7 102.7 325.8 100.1 324.8z"/><path color="#352d83" d="M65.3 328.6L67.9 329.7 71.1 328.3 68.4 327.2z"/><path color="#3c3696" d="M217.7 326.5L220.3 328.1 223.5 326.7 220.8 325.2z"/><path color="#3c4d9f" d="M186.0 323.0L188.6 325.0 191.8 323.3 189.2 321.3z"/><path color="#3c499d" d="M154.4 320.7L157.0 322.5 160.2 320.4 157.5 318.6z"/><path color="#3b3493" d="M122.7 323.6L125.4 324.7 128.5 322.5 125.9 321.3z"/><path color="#372f88" d="M91.1 327.5L93.7 328.6 96.9 326.7 94.3 325.7z"/><path color="#3c3b98" d="M211.9 326.3L214.5 327.9 217.7 326.5 215.0 324.9z"/><path color="#3c4e9f" d="M180.2 322.6L182.8 324.6 186.0 323.0 183.4 320.9z"/><path color="#3c459c" d="M148.6 321.2L151.2 322.9 154.4 320.7 151.7 319.0z"/><path color="#3a3391" d="M116.9 324.7L119.6 325.8 122.7 323.6 120.1 322.5z"/><path color="#362e86" d="M85.3 328.2L87.9 329.3 91.1 327.5 88.5 326.5z"/><path color="#3c3f99" d="M206.0 326.0L208.7 327.7 211.9 326.3 209.2 324.5z"/><path color="#3c4e9f" d="M174.4 322.4L177.0 324.4 180.2 322.6 177.6 320.6z"/><path color="#3c409a" d="M142.8 321.9L145.4 323.4 148.6 321.2 145.9 319.6z"/><path color="#39328e" d="M111.1 325.8L113.8 326.8 116.9 324.7 114.3 323.7z"/><path color="#362e85" d="M79.5 328.8L82.1 329.9 85.3 328.2 82.7 327.2z"/><path color="#3c439b" d="M200.2 325.7L202.9 327.4 206.0 326.0 203.4 324.2z"/><path color="#3c4d9f" d="M168.6 322.3L171.2 324.3 174.4 322.4 171.8 320.4z"/><path color="#3c3b98" d="M137.0 322.7L139.6 324.1 142.8 321.9 140.1 320.4z"/><path color="#38318c" d="M105.3 326.8L108.0 327.8 111.1 325.8 108.5 324.8z"/><path color="#352d84" d="M73.7 329.3L76.3 330.3 79.5 328.8 76.9 327.8z"/><path color="#3c469c" d="M194.4 325.3L197.1 327.1 200.2 325.7 197.6 323.8z"/><path color="#3c4b9e" d="M162.8 322.3L165.4 324.2 168.6 322.3 166.0 320.3z"/><path color="#3c3696" d="M131.2 323.7L133.8 325.0 137.0 322.7 134.3 321.4z"/><path color="#38308a" d="M99.5 327.7L102.2 328.7 105.3 326.8 102.7 325.8z"/><path color="#352d83" d="M67.9 329.7L70.5 330.7 73.7 329.3 71.1 328.3z"/><path color="#3a3493" d="M220.3 328.1L222.9 329.5 226.1 328.2 223.5 326.7z"/><path color="#3c489d" d="M188.6 325.0L191.3 326.9 194.4 325.3 191.8 323.3z"/><path color="#3c489d" d="M157.0 322.5L159.6 324.3 162.8 322.3 160.2 320.4z"/><path color="#3b3593" d="M125.4 324.7L128.0 325.9 131.2 323.7 128.5 322.5z"/><path color="#372f88" d="M93.7 328.6L96.4 329.6 99.5 327.7 96.9 326.7z"/><path color="#3b3595" d="M214.5 327.9L217.1 329.4 220.3 328.1 217.7 326.5z"/><path color="#3c4a9e" d="M182.8 324.6L185.5 326.6 188.6 325.0 186.0 323.0z"/><path color="#3c449b" d="M151.2 322.9L153.8 324.6 157.0 322.5 154.4 320.7z"/><path color="#3a3391" d="M119.6 325.8L122.2 326.9 125.4 324.7 122.7 323.6z"/><path color="#362f86" d="M87.9 329.3L90.6 330.3 93.7 328.6 91.1 327.5z"/><path color="#3c3a97" d="M208.7 327.7L211.3 329.3 214.5 327.9 211.9 326.3z"/><path color="#3c4a9e" d="M177.0 324.4L179.7 326.3 182.8 324.6 180.2 322.6z"/><path color="#3c409a" d="M145.4 323.4L148.0 325.0 151.2 322.9 148.6 321.2z"/><path color="#39328f" d="M113.8 326.8L116.4 327.9 119.6 325.8 116.9 324.7z"/><path color="#362e85" d="M82.1 329.9L84.8 330.9 87.9 329.3 85.3 328.2z"/><path color="#3c3e99" d="M202.9 327.4L205.5 329.1 208.7 327.7 206.0 326.0z"/><path color="#3c4a9e" d="M171.2 324.3L173.9 326.2 177.0 324.4 174.4 322.4z"/><path color="#3c3b98" d="M139.6 324.1L142.2 325.6 145.4 323.4 142.8 321.9z"/><path color="#38318c" d="M108.0 327.8L110.6 328.9 113.8 326.8 111.1 325.8z"/><path color="#352d84" d="M76.3 330.3L79.0 331.4 82.1 329.9 79.5 328.8z"/><path color="#3c419a" d="M197.1 327.1L199.7 328.9 202.9 327.4 200.2 325.7z"/><path color="#3c489d" d="M165.4 324.2L168.1 326.1 171.2 324.3 168.6 322.3z"/><path color="#3c3796" d="M133.8 325.0L136.4 326.3 139.6 324.1 137.0 322.7z"/><path color="#38308a" d="M102.2 328.7L104.8 329.8 108.0 327.8 105.3 326.8z"/><path color="#352d83" d="M70.5 330.7L73.2 331.8 76.3 330.3 73.7 329.3z"/><path color="#3c449b" d="M191.3 326.9L193.9 328.6 197.1 327.1 194.4 325.3z"/><path color="#3c469c" d="M159.6 324.3L162.3 326.1 165.4 324.2 162.8 322.3z"/><path color="#3b3594" d="M128.0 325.9L130.6 327.1 133.8 325.0 131.2 323.7z"/><path color="#372f88" d="M96.4 329.6L99.0 330.6 102.2 328.7 99.5 327.7z"/><path color="#3a3492" d="M217.1 329.4L219.8 330.9 222.9 329.5 220.3 328.1z"/><path color="#3c469c" d="M185.5 326.6L188.1 328.4 191.3 326.9 188.6 325.0z"/><path color="#3c439b" d="M153.8 324.6L156.5 326.3 159.6 324.3 157.0 322.5z"/><path color="#3a3391" d="M122.2 326.9L124.8 328.0 128.0 325.9 125.4 324.7z"/><path color="#362f87" d="M90.6 330.3L93.2 331.3 96.4 329.6 93.7 328.6z"/><path color="#3b3595" d="M211.3 329.3L214.0 330.8 217.1 329.4 214.5 327.9z"/><path color="#3c479c" d="M179.7 326.3L182.3 328.2 185.5 326.6 182.8 324.6z"/><path color="#3c409a" d="M148.0 325.0L150.7 326.6 153.8 324.6 151.2 322.9z"/><path color="#39328f" d="M116.4 327.9L119.0 329.0 122.2 326.9 119.6 325.8z"/><path color="#362e85" d="M84.8 330.9L87.4 331.9 90.6 330.3 87.9 329.3z"/><path color="#3c3897" d="M205.5 329.1L208.2 330.7 211.3 329.3 208.7 327.7z"/><path color="#3c479c" d="M173.9 326.2L176.5 328.0 179.7 326.3 177.0 324.4z"/><path color="#3c3b98" d="M142.2 325.6L144.9 327.1 148.0 325.0 145.4 323.4z"/><path color="#38318c" d="M110.6 328.9L113.2 329.9 116.4 327.9 113.8 326.8z"/><path color="#352d84" d="M79.0 331.4L81.6 332.4 84.8 330.9 82.1 329.9z"/><path color="#3c3c98" d="M199.7 328.9L202.3 330.5 205.5 329.1 202.9 327.4z"/><path color="#3c469c" d="M168.1 326.1L170.7 327.9 173.9 326.2 171.2 324.3z"/><path color="#3c3796" d="M136.4 326.3L139.1 327.7 142.2 325.6 139.6 324.1z"/><path color="#38308a" d="M104.8 329.8L107.4 330.8 110.6 328.9 108.0 327.8z"/><path color="#352d83" d="M73.2 331.8L75.8 332.8 79.0 331.4 76.3 330.3z"/><path color="#3c3f99" d="M193.9 328.6L196.5 330.3 199.7 328.9 197.1 327.1z"/><path color="#3c449b" d="M162.3 326.1L164.9 327.9 168.1 326.1 165.4 324.2z"/><path color="#3b3594" d="M130.6 327.1L133.3 328.4 136.4 326.3 133.8 325.0z"/><path color="#372f88" d="M99.0 330.6L101.6 331.6 104.8 329.8 102.2 328.7z"/><path color="#3c419a" d="M188.1 328.4L190.7 330.1 193.9 328.6 191.3 326.9z"/><path color="#3c429a" d="M156.5 326.3L159.1 328.0 162.3 326.1 159.6 324.3z"/><path color="#3a3491" d="M124.8 328.0L127.5 329.2 130.6 327.1 128.0 325.9z"/><path color="#362f87" d="M93.2 331.3L95.8 332.3 99.0 330.6 96.4 329.6z"/><path color="#3a3492" d="M214.0 330.8L216.6 332.2 219.8 330.9 217.1 329.4z"/><path color="#3c439b" d="M182.3 328.2L184.9 329.9 188.1 328.4 185.5 326.6z"/><path color="#3c3f99" d="M150.7 326.6L153.3 328.2 156.5 326.3 153.8 324.6z"/><path color="#39328f" d="M119.0 329.0L121.7 330.1 124.8 328.0 122.2 326.9z"/><path color="#362e85" d="M87.4 331.9L90.0 333.0 93.2 331.3 90.6 330.3z"/><path color="#3b3594" d="M208.2 330.7L210.8 332.1 214.0 330.8 211.3 329.3z"/><path color="#3c439b" d="M176.5 328.0L179.1 329.8 182.3 328.2 179.7 326.3z"/><path color="#3c3b98" d="M144.9 327.1L147.5 328.6 150.7 326.6 148.0 325.0z"/><path color="#38318d" d="M113.2 329.9L115.9 331.0 119.0 329.0 116.4 327.9z"/><path color="#352d84" d="M81.6 332.4L84.2 333.5 87.4 331.9 84.8 330.9z"/><path color="#3c3796" d="M202.3 330.5L205.0 332.0 208.2 330.7 205.5 329.1z"/><path color="#3c439b" d="M170.7 327.9L173.3 329.7 176.5 328.0 173.9 326.2z"/><path color="#3c3696" d="M139.1 327.7L141.7 329.1 144.9 327.1 142.2 325.6z"/><path color="#38308a" d="M107.4 330.8L110.1 331.8 113.2 329.9 110.6 328.9z"/><path color="#352d83" d="M75.8 332.8L78.4 333.9 81.6 332.4 79.0 331.4z"/><path color="#3c3a97" d="M196.5 330.3L199.2 331.9 202.3 330.5 199.7 328.9z"/><path color="#3c429a" d="M164.9 327.9L167.5 329.6 170.7 327.9 168.1 326.1z"/><path color="#3b3594" d="M133.3 328.4L135.9 329.7 139.1 327.7 136.4 326.3z"/><path color="#373089" d="M101.6 331.6L104.3 332.6 107.4 330.8 104.8 329.8z"/><path color="#3c3d98" d="M190.7 330.1L193.4 331.8 196.5 330.3 193.9 328.6z"/><path color="#3c409a" d="M159.1 328.0L161.7 329.7 164.9 327.9 162.3 326.1z"/><path color="#3a3491" d="M127.5 329.2L130.1 330.5 133.3 328.4 130.6 327.1z"/><path color="#362f87" d="M95.8 332.3L98.5 333.4 101.6 331.6 99.0 330.6z"/><path color="#3c3f99" d="M184.9 329.9L187.6 331.6 190.7 330.1 188.1 328.4z"/><path color="#3c3d99" d="M153.3 328.2L155.9 329.9 159.1 328.0 156.5 326.3z"/><path color="#39328f" d="M121.7 330.1L124.3 331.2 127.5 329.2 124.8 328.0z"/><path color="#362e85" d="M90.0 333.0L92.7 334.0 95.8 332.3 93.2 331.3z"/><path color="#3a3492" d="M210.8 332.1L213.4 333.5 216.6 332.2 214.0 330.8z"/><path color="#3c409a" d="M179.1 329.8L181.8 331.5 184.9 329.9 182.3 328.2z"/><path color="#3c3a97" d="M147.5 328.6L150.1 330.2 153.3 328.2 150.7 326.6z"/><path color="#38318d" d="M115.9 331.0L118.5 332.1 121.7 330.1 119.0 329.0z"/><path color="#352d84" d="M84.2 333.5L86.9 334.5 90.0 333.0 87.4 331.9z"/><path color="#3b3594" d="M205.0 332.0L207.6 333.5 210.8 332.1 208.2 330.7z"/><path color="#3c409a" d="M173.3 329.7L176.0 331.4 179.1 329.8 176.5 328.0z"/><path color="#3c3696" d="M141.7 329.1L144.3 330.6 147.5 328.6 144.9 327.1z"/><path color="#38308b" d="M110.1 331.8L112.7 332.9 115.9 331.0 113.2 329.9z"/><path color="#352d83" d="M78.4 333.9L81.1 334.9 84.2 333.5 81.6 332.4z"/><path color="#3c3696" d="M199.2 331.9L201.8 333.4 205.0 332.0 202.3 330.5z"/><path color="#3c3f99" d="M167.5 329.6L170.2 331.3 173.3 329.7 170.7 327.9z"/><path color="#3b3594" d="M135.9 329.7L138.5 331.1 141.7 329.1 139.1 327.7z"/><path color="#373089" d="M104.3 332.6L106.9 333.7 110.1 331.8 107.4 330.8z"/><path color="#3c3997" d="M193.4 331.8L196.0 333.3 199.2 331.9 196.5 330.3z"/><path color="#3c3e99" d="M161.7 329.7L164.4 331.4 167.5 329.6 164.9 327.9z"/><path color="#3a3491" d="M130.1 330.5L132.7 331.7 135.9 329.7 133.3 328.4z"/><path color="#362f87" d="M98.5 333.4L101.1 334.4 104.3 332.6 101.6 331.6z"/><path color="#3c3b98" d="M187.6 331.6L190.2 333.2 193.4 331.8 190.7 330.1z"/><path color="#3c3c98" d="M155.9 329.9L158.6 331.5 161.7 329.7 159.1 328.0z"/><path color="#39328f" d="M124.3 331.2L126.9 332.5 130.1 330.5 127.5 329.2z"/><path color="#362e85" d="M92.7 334.0L95.3 335.0 98.5 333.4 95.8 332.3z"/><path color="#3c3c98" d="M181.8 331.5L184.4 333.1 187.6 331.6 184.9 329.9z"/><path color="#3c3997" d="M150.1 330.2L152.8 331.7 155.9 329.9 153.3 328.2z"/><path color="#38318d" d="M118.5 332.1L121.1 333.2 124.3 331.2 121.7 330.1z"/><path color="#352d84" d="M86.9 334.5L89.5 335.6 92.7 334.0 90.0 333.0z"/><path color="#3a3491" d="M207.6 333.5L210.3 334.8 213.4 333.5 210.8 332.1z"/><path color="#3c3d98" d="M176.0 331.4L178.6 333.0 181.8 331.5 179.1 329.8z"/><path color="#3b3595" d="M144.3 330.6L147.0 332.0 150.1 330.2 147.5 328.6z"/><path color="#38318b" d="M112.7 332.9L115.3 334.0 118.5 332.1 115.9 331.0z"/><path color="#352d83" d="M81.1 334.9L83.7 336.0 86.9 334.5 84.2 333.5z"/><path color="#3b3493" d="M201.8 333.4L204.5 334.8 207.6 333.5 205.0 332.0z"/><path color="#3c3d98" d="M170.2 331.3L172.8 333.0 176.0 331.4 173.3 329.7z"/><path color="#3b3593" d="M138.5 331.1L141.2 332.5 144.3 330.6 141.7 329.1z"/><path color="#373089" d="M106.9 333.7L109.5 334.8 112.7 332.9 110.1 331.8z"/><path color="#3b3595" d="M196.0 333.3L198.6 334.8 201.8 333.4 199.2 331.9z"/><path color="#3c3c98" d="M164.4 331.4L167.0 333.0 170.2 331.3 167.5 329.6z"/><path color="#3a3491" d="M132.7 331.7L135.4 333.0 138.5 331.1 135.9 329.7z"/><path color="#362f87" d="M101.1 334.4L103.7 335.5 106.9 333.7 104.3 332.6z"/><path color="#3c3796" d="M190.2 333.2L192.8 334.7 196.0 333.3 193.4 331.8z"/><path color="#3c3a97" d="M158.6 331.5L161.2 333.1 164.4 331.4 161.7 329.7z"/><path color="#39338f" d="M126.9 332.5L129.6 333.7 132.7 331.7 130.1 330.5z"/><path color="#362e85" d="M95.3 335.0L97.9 336.1 101.1 334.4 98.5 333.4z"/><path color="#3c3897" d="M184.4 333.1L187.0 334.7 190.2 333.2 187.6 331.6z"/><path color="#3c3896" d="M152.8 331.7L155.4 333.3 158.6 331.5 155.9 329.9z"/><path color="#38318d" d="M121.1 333.2L123.8 334.4 126.9 332.5 124.3 331.2z"/><path color="#352d84" d="M89.5 335.6L92.1 336.6 95.3 335.0 92.7 334.0z"/><path color="#3c3a97" d="M178.6 333.0L181.2 334.6 184.4 333.1 181.8 331.5z"/><path color="#3b3595" d="M147.0 332.0L149.6 333.5 152.8 331.7 150.1 330.2z"/><path color="#38318b" d="M115.3 334.0L118.0 335.1 121.1 333.2 118.5 332.1z"/><path color="#352d83" d="M83.7 336.0L86.3 337.0 89.5 335.6 86.9 334.5z"/><path color="#3a3391" d="M204.5 334.8L207.1 336.2 210.3 334.8 207.6 333.5z"/><path color="#3c3a97" d="M172.8 333.0L175.4 334.6 178.6 333.0 176.0 331.4z"/><path color="#3b3493" d="M141.2 332.5L143.8 333.9 147.0 332.0 144.3 330.6z"/><path color="#373089" d="M109.5 334.8L112.2 335.8 115.3 334.0 112.7 332.9z"/><path color="#3a3493" d="M198.6 334.8L201.3 336.2 204.5 334.8 201.8 333.4z"/><path color="#3c3997" d="M167.0 333.0L169.6 334.6 172.8 333.0 170.2 331.3z"/><path color="#3a3491" d="M135.4 333.0L138.0 334.4 141.2 332.5 138.5 331.1z"/><path color="#362f87" d="M103.7 335.5L106.4 336.5 109.5 334.8 106.9 333.7z"/><path color="#3b3594" d="M192.8 334.7L195.5 336.2 198.6 334.8 196.0 333.3z"/><path color="#3c3897" d="M161.2 333.1L163.8 334.6 167.0 333.0 164.4 331.4z"/><path color="#39338f" d="M129.6 333.7L132.2 334.9 135.4 333.0 132.7 331.7z"/><path color="#362e85" d="M97.9 336.1L100.6 337.1 103.7 335.5 101.1 334.4z"/><path color="#3b3595" d="M187.0 334.7L189.7 336.1 192.8 334.7 190.2 333.2z"/><path color="#3c3696" d="M155.4 333.3L158.0 334.8 161.2 333.1 158.6 331.5z"/><path color="#39328d" d="M123.8 334.4L126.4 335.6 129.6 333.7 126.9 332.5z"/><path color="#352d84" d="M92.1 336.6L94.8 337.7 97.9 336.1 95.3 335.0z"/><path color="#3c3696" d="M181.2 334.6L183.9 336.1 187.0 334.7 184.4 333.1z"/><path color="#3b3594" d="M149.6 333.5L152.2 335.0 155.4 333.3 152.8 331.7z"/><path color="#38318b" d="M118.0 335.1L120.6 336.2 123.8 334.4 121.1 333.2z"/><path color="#352d83" d="M86.3 337.0L89.0 338.1 92.1 336.6 89.5 335.6z"/><path color="#3c3796" d="M175.4 334.6L178.1 336.1 181.2 334.6 178.6 333.0z"/><path color="#3b3493" d="M143.8 333.9L146.4 335.3 149.6 333.5 147.0 332.0z"/><path color="#373089" d="M112.2 335.8L114.8 336.9 118.0 335.1 115.3 334.0z"/><path color="#3a3390" d="M201.3 336.2L203.9 337.5 207.1 336.2 204.5 334.8z"/><path color="#3c3796" d="M169.6 334.6L172.3 336.1 175.4 334.6 172.8 333.0z"/><path color="#3a3391" d="M138.0 334.4L140.6 335.7 143.8 333.9 141.2 332.5z"/><path color="#362f87" d="M106.4 336.5L109.0 337.6 112.2 335.8 109.5 334.8z"/><path color="#3a3492" d="M195.5 336.2L198.1 337.5 201.3 336.2 198.6 334.8z"/><path color="#3c3696" d="M163.8 334.6L166.5 336.2 169.6 334.6 167.0 333.0z"/><path color="#39328f" d="M132.2 334.9L134.8 336.2 138.0 334.4 135.4 333.0z"/><path color="#362e85" d="M100.6 337.1L103.2 338.2 106.4 336.5 103.7 335.5z"/><path color="#3b3493" d="M189.7 336.1L192.3 337.5 195.5 336.2 192.8 334.7z"/><path color="#3b3595" d="M158.0 334.8L160.7 336.3 163.8 334.6 161.2 333.1z"/><path color="#39328d" d="M126.4 335.6L129.0 336.8 132.2 334.9 129.6 333.7z"/><path color="#352d84" d="M94.8 337.7L97.4 338.7 100.6 337.1 97.9 336.1z"/><path color="#3b3594" d="M183.9 336.1L186.5 337.5 189.7 336.1 187.0 334.7z"/><path color="#3b3594" d="M152.2 335.0L154.9 336.5 158.0 334.8 155.4 333.3z"/><path color="#38318b" d="M120.6 336.2L123.2 337.4 126.4 335.6 123.8 334.4z"/><path color="#352d83" d="M89.0 338.1L91.6 339.1 94.8 337.7 92.1 336.6z"/><path color="#3b3595" d="M178.1 336.1L180.7 337.5 183.9 336.1 181.2 334.6z"/><path color="#3a3492" d="M146.4 335.3L149.1 336.7 152.2 335.0 149.6 333.5z"/><path color="#373089" d="M114.8 336.9L117.4 338.0 120.6 336.2 118.0 335.1z"/><path color="#3b3595" d="M172.3 336.1L174.9 337.6 178.1 336.1 175.4 334.6z"/><path color="#3a3391" d="M140.6 335.7L143.3 337.1 146.4 335.3 143.8 333.9z"/><path color="#372f87" d="M109.0 337.6L111.6 338.7 114.8 336.9 112.2 335.8z"/><path color="#3a3390" d="M198.1 337.5L200.8 338.8 203.9 337.5 201.3 336.2z"/><path color="#3b3595" d="M166.5 336.2L169.1 337.6 172.3 336.1 169.6 334.6z"/><path color="#39328f" d="M134.8 336.2L137.5 337.5 140.6 335.7 138.0 334.4z"/><path color="#362e85" d="M103.2 338.2L105.8 339.2 109.0 337.6 106.4 336.5z"/><path color="#3a3391" d="M192.3 337.5L194.9 338.9 198.1 337.5 195.5 336.2z"/><path color="#3b3594" d="M160.7 336.3L163.3 337.7 166.5 336.2 163.8 334.6z"/><path color="#39328d" d="M129.0 336.8L131.7 338.0 134.8 336.2 132.2 334.9z"/><path color="#352d84" d="M97.4 338.7L100.0 339.8 103.2 338.2 100.6 337.1z"/><path color="#3a3492" d="M186.5 337.5L189.1 338.9 192.3 337.5 189.7 336.1z"/><path color="#3b3493" d="M154.9 336.5L157.5 337.9 160.7 336.3 158.0 334.8z"/><path color="#38318b" d="M123.2 337.4L125.9 338.6 129.0 336.8 126.4 335.6z"/><path color="#352d83" d="M91.6 339.1L94.2 340.2 97.4 338.7 94.8 337.7z"/><path color="#3b3493" d="M180.7 337.5L183.3 338.9 186.5 337.5 183.9 336.1z"/><path color="#3a3492" d="M149.1 336.7L151.7 338.1 154.9 336.5 152.2 335.0z"/><path color="#373089" d="M117.4 338.0L120.1 339.2 123.2 337.4 120.6 336.2z"/><path color="#3b3493" d="M174.9 337.6L177.5 339.0 180.7 337.5 178.1 336.1z"/><path color="#3a3390" d="M143.3 337.1L145.9 338.4 149.1 336.7 146.4 335.3z"/><path color="#372f87" d="M111.6 338.7L114.3 339.8 117.4 338.0 114.8 336.9z"/><path color="#3b3493" d="M169.1 337.6L171.7 339.0 174.9 337.6 172.3 336.1z"/><path color="#39328f" d="M137.5 337.5L140.1 338.8 143.3 337.1 140.6 335.7z"/><path color="#362e86" d="M105.8 339.2L108.5 340.3 111.6 338.7 109.0 337.6z"/><path color="#39338f" d="M194.9 338.9L197.6 340.2 200.8 338.8 198.1 337.5z"/><path color="#3b3493" d="M163.3 337.7L165.9 339.1 169.1 337.6 166.5 336.2z"/><path color="#38318d" d="M131.7 338.0L134.3 339.2 137.5 337.5 134.8 336.2z"/><path color="#352d84" d="M100.0 339.8L102.7 340.8 105.8 339.2 103.2 338.2z"/><path color="#3a3390" d="M189.1 338.9L191.8 340.2 194.9 338.9 192.3 337.5z"/><path color="#3a3492" d="M157.5 337.9L160.1 339.3 163.3 337.7 160.7 336.3z"/><path color="#38318b" d="M125.9 338.6L128.5 339.8 131.7 338.0 129.0 336.8z"/><path color="#352d83" d="M94.2 340.2L96.9 341.2 100.0 339.8 97.4 338.7z"/><path color="#3a3391" d="M183.3 338.9L186.0 340.3 189.1 338.9 186.5 337.5z"/><path color="#3a3391" d="M151.7 338.1L154.3 339.5 157.5 337.9 154.9 336.5z"/><path color="#373089" d="M120.1 339.2L122.7 340.3 125.9 338.6 123.2 337.4z"/><path color="#3a3492" d="M177.5 339.0L180.2 340.3 183.3 338.9 180.7 337.5z"/><path color="#3a3390" d="M145.9 338.4L148.5 339.7 151.7 338.1 149.1 336.7z"/><path color="#372f87" d="M114.3 339.8L116.9 340.9 120.1 339.2 117.4 338.0z"/><path color="#3a3492" d="M171.7 339.0L174.4 340.4 177.5 339.0 174.9 337.6z"/><path color="#39328e" d="M140.1 338.8L142.7 340.1 145.9 338.4 143.3 337.1z"/><path color="#362e86" d="M108.5 340.3L111.1 341.4 114.3 339.8 111.6 338.7z"/><path color="#3a3492" d="M165.9 339.1L168.6 340.5 171.7 339.0 169.1 337.6z"/><path color="#38318d" d="M134.3 339.2L136.9 340.5 140.1 338.8 137.5 337.5z"/><path color="#352d84" d="M102.7 340.8L105.3 341.9 108.5 340.3 105.8 339.2z"/><path color="#39328e" d="M191.8 340.2L194.4 341.5 197.6 340.2 194.9 338.9z"/><path color="#3a3491" d="M160.1 339.3L162.8 340.7 165.9 339.1 163.3 337.7z"/><path color="#38318b" d="M128.5 339.8L131.1 340.9 134.3 339.2 131.7 338.0z"/><path color="#352d83" d="M96.9 341.2L99.5 342.3 102.7 340.8 100.0 339.8z"/><path color="#39338f" d="M186.0 340.3L188.6 341.6 191.8 340.2 189.1 338.9z"/><path color="#3a3390" d="M154.3 339.5L157.0 340.8 160.1 339.3 157.5 337.9z"/><path color="#373089" d="M122.7 340.3L125.3 341.4 128.5 339.8 125.9 338.6z"/><path color="#3a3390" d="M180.2 340.3L182.8 341.7 186.0 340.3 183.3 338.9z"/><path color="#39338f" d="M148.5 339.7L151.2 341.1 154.3 339.5 151.7 338.1z"/><path color="#372f87" d="M116.9 340.9L119.5 342.0 122.7 340.3 120.1 339.2z"/><path color="#3a3391" d="M174.4 340.4L177.0 341.7 180.2 340.3 177.5 339.0z"/><path color="#39328e" d="M142.7 340.1L145.4 341.4 148.5 339.7 145.9 338.4z"/><path color="#362e86" d="M111.1 341.4L113.7 342.5 116.9 340.9 114.3 339.8z"/><path color="#3a3391" d="M168.6 340.5L171.2 341.9 174.4 340.4 171.7 339.0z"/><path color="#38318c" d="M136.9 340.5L139.6 341.7 142.7 340.1 140.1 338.8z"/><path color="#362e84" d="M105.3 341.9L107.9 342.9 111.1 341.4 108.5 340.3z"/><path color="#3a3390" d="M162.8 340.7L165.4 342.0 168.6 340.5 165.9 339.1z"/><path color="#38308b" d="M131.1 340.9L133.8 342.1 136.9 340.5 134.3 339.2z"/><path color="#352d83" d="M99.5 342.3L102.1 343.3 105.3 341.9 102.7 340.8z"/><path color="#39328e" d="M188.6 341.6L191.2 342.8 194.4 341.5 191.8 340.2z"/><path color="#393390" d="M157.0 340.8L159.6 342.2 162.8 340.7 160.1 339.3z"/><path color="#373089" d="M125.3 341.4L128.0 342.6 131.1 340.9 128.5 339.8z"/><path color="#39328f" d="M182.8 341.7L185.4 342.9 188.6 341.6 186.0 340.3z"/><path color="#39328f" d="M151.2 341.1L153.8 342.4 157.0 340.8 154.3 339.5z"/><path color="#372f87" d="M119.5 342.0L122.2 343.1 125.3 341.4 122.7 340.3z"/><path color="#39338f" d="M177.0 341.7L179.6 343.0 182.8 341.7 180.2 340.3z"/><path color="#39328d" d="M145.4 341.4L148.0 342.6 151.2 341.1 148.5 339.7z"/><path color="#362e86" d="M113.7 342.5L116.4 343.5 119.5 342.0 116.9 340.9z"/><path color="#39338f" d="M171.2 341.9L173.8 343.1 177.0 341.7 174.4 340.4z"/><path color="#38318c" d="M139.6 341.7L142.2 343.0 145.4 341.4 142.7 340.1z"/><path color="#362e84" d="M107.9 342.9L110.6 344.0 113.7 342.5 111.1 341.4z"/><path color="#39338f" d="M165.4 342.0L168.0 343.3 171.2 341.9 168.6 340.5z"/><path color="#38308a" d="M133.8 342.1L136.4 343.3 139.6 341.7 136.9 340.5z"/><path color="#352d83" d="M102.1 343.3L104.8 344.4 107.9 342.9 105.3 341.9z"/><path color="#39328f" d="M159.6 342.2L162.2 343.4 165.4 342.0 162.8 340.7z"/><path color="#373089" d="M128.0 342.6L130.6 343.7 133.8 342.1 131.1 340.9z"/><path color="#39328d" d="M185.4 342.9L188.1 344.2 191.2 342.8 188.6 341.6z"/><path color="#39328e" d="M153.8 342.4L156.4 343.6 159.6 342.2 157.0 340.8z"/><path color="#372f87" d="M122.2 343.1L124.8 344.2 128.0 342.6 125.3 341.4z"/><path color="#39328e" d="M179.6 343.0L182.3 344.3 185.4 342.9 182.8 341.7z"/><path color="#39328d" d="M148.0 342.6L150.6 343.9 153.8 342.4 151.2 341.1z"/><path color="#362e86" d="M116.4 343.5L119.0 344.6 122.2 343.1 119.5 342.0z"/><path color="#39328e" d="M173.8 343.1L176.5 344.4 179.6 343.0 177.0 341.7z"/><path color="#38318c" d="M142.2 343.0L144.8 344.2 148.0 342.6 145.4 341.4z"/><path color="#362e84" d="M110.6 344.0L113.2 345.1 116.4 343.5 113.7 342.5z"/><path color="#39328e" d="M168.0 343.3L170.7 344.5 173.8 343.1 171.2 341.9z"/><path color="#38308a" d="M136.4 343.3L139.0 344.5 142.2 343.0 139.6 341.7z"/><path color="#352d83" d="M104.8 344.4L107.4 345.4 110.6 344.0 107.9 342.9z"/><path color="#39328e" d="M162.2 343.4L164.9 344.7 168.0 343.3 165.4 342.0z"/><path color="#373089" d="M130.6 343.7L133.2 344.9 136.4 343.3 133.8 342.1z"/><path color="#39328d" d="M156.4 343.6L159.1 344.9 162.2 343.4 159.6 342.2z"/><path color="#372f87" d="M124.8 344.2L127.4 345.3 130.6 343.7 128.0 342.6z"/><path color="#38318c" d="M182.3 344.3L184.9 345.5 188.1 344.2 185.4 342.9z"/><path color="#38318c" d="M150.6 343.9L153.3 345.1 156.4 343.6 153.8 342.4z"/><path color="#362e86" d="M119.0 344.6L121.6 345.7 124.8 344.2 122.2 343.1z"/><path color="#38318d" d="M176.5 344.4L179.1 345.6 182.3 344.3 179.6 343.0z"/><path color="#38318b" d="M144.8 344.2L147.5 345.4 150.6 343.9 148.0 342.6z"/><path color="#362e84" d="M113.2 345.1L115.8 346.1 119.0 344.6 116.4 343.5z"/><path color="#39328d" d="M170.7 344.5L173.3 345.8 176.5 344.4 173.8 343.1z"/><path color="#37308a" d="M139.0 344.5L141.7 345.7 144.8 344.2 142.2 343.0z"/><path color="#352d83" d="M107.4 345.4L110.0 346.5 113.2 345.1 110.6 344.0z"/><path color="#38318d" d="M164.9 344.7L167.5 345.9 170.7 344.5 168.0 343.3z"/><path color="#373089" d="M133.2 344.9L135.9 346.0 139.0 344.5 136.4 343.3z"/><path color="#38318c" d="M159.1 344.9L161.7 346.1 164.9 344.7 162.2 343.4z"/><path color="#362f87" d="M127.4 345.3L130.1 346.4 133.2 344.9 130.6 343.7z"/><path color="#38318c" d="M153.3 345.1L155.9 346.3 159.1 344.9 156.4 343.6z"/><path color="#362e86" d="M121.6 345.7L124.3 346.8 127.4 345.3 124.8 344.2z"/><path color="#38318b" d="M179.1 345.6L181.7 346.8 184.9 345.5 182.3 344.3z"/><path color="#38318b" d="M147.5 345.4L150.1 346.6 153.3 345.1 150.6 343.9z"/><path color="#362e84" d="M115.8 346.1L118.5 347.2 121.6 345.7 119.0 344.6z"/><path color="#38318c" d="M173.3 345.8L175.9 347.0 179.1 345.6 176.5 344.4z"/><path color="#37308a" d="M141.7 345.7L144.3 346.9 147.5 345.4 144.8 344.2z"/><path color="#352d83" d="M110.0 346.5L112.7 347.6 115.8 346.1 113.2 345.1z"/><path color="#38318c" d="M167.5 345.9L170.1 347.1 173.3 345.8 170.7 344.5z"/><path color="#372f88" d="M135.9 346.0L138.5 347.2 141.7 345.7 139.0 344.5z"/><path color="#38318c" d="M161.7 346.1L164.3 347.3 167.5 345.9 164.9 344.7z"/><path color="#362f87" d="M130.1 346.4L132.7 347.5 135.9 346.0 133.2 344.9z"/><path color="#38318b" d="M155.9 346.3L158.5 347.5 161.7 346.1 159.1 344.9z"/><path color="#362e86" d="M124.3 346.8L126.9 347.9 130.1 346.4 127.4 345.3z"/><path color="#38308a" d="M150.1 346.6L152.7 347.8 155.9 346.3 153.3 345.1z"/><path color="#362e84" d="M118.5 347.2L121.1 348.3 124.3 346.8 121.6 345.7z"/><path color="#38308b" d="M175.9 347.0L178.6 348.1 181.7 346.8 179.1 345.6z"/><path color="#373089" d="M144.3 346.9L146.9 348.0 150.1 346.6 147.5 345.4z"/><path color="#352d83" d="M112.7 347.6L115.3 348.6 118.5 347.2 115.8 346.1z"/><path color="#38318b" d="M170.1 347.1L172.8 348.3 175.9 347.0 173.3 345.8z"/><path color="#372f88" d="M138.5 347.2L141.1 348.3 144.3 346.9 141.7 345.7z"/><path color="#38318b" d="M164.3 347.3L167.0 348.5 170.1 347.1 167.5 345.9z"/><path color="#362f87" d="M132.7 347.5L135.3 348.7 138.5 347.2 135.9 346.0z"/><path color="#38308a" d="M158.5 347.5L161.2 348.7 164.3 347.3 161.7 346.1z"/><path color="#362e85" d="M126.9 347.9L129.5 349.0 132.7 347.5 130.1 346.4z"/><path color="#37308a" d="M152.7 347.8L155.4 348.9 158.5 347.5 155.9 346.3z"/><path color="#352d84" d="M121.1 348.3L123.7 349.3 126.9 347.9 124.3 346.8z"/><path color="#373089" d="M146.9 348.0L149.6 349.2 152.7 347.8 150.1 346.6z"/><path color="#352d83" d="M115.3 348.6L117.9 349.7 121.1 348.3 118.5 347.2z"/><path color="#37308a" d="M172.8 348.3L175.4 349.5 178.6 348.1 175.9 347.0z"/><path color="#372f88" d="M141.1 348.3L143.8 349.5 146.9 348.0 144.3 346.9z"/><path color="#37308a" d="M167.0 348.5L169.6 349.7 172.8 348.3 170.1 347.1z"/><path color="#362f87" d="M135.3 348.7L138.0 349.8 141.1 348.3 138.5 347.2z"/><path color="#37308a" d="M161.2 348.7L163.8 349.9 167.0 348.5 164.3 347.3z"/><path color="#362e85" d="M129.5 349.0L132.2 350.1 135.3 348.7 132.7 347.5z"/><path color="#373089" d="M155.4 348.9L158.0 350.1 161.2 348.7 158.5 347.5z"/><path color="#352d84" d="M123.7 349.3L126.4 350.4 129.5 349.0 126.9 347.9z"/><path color="#372f88" d="M149.6 349.2L152.2 350.3 155.4 348.9 152.7 347.8z"/><path color="#352d83" d="M117.9 349.7L120.6 350.7 123.7 349.3 121.1 348.3z"/><path color="#372f87" d="M143.8 349.5L146.4 350.6 149.6 349.2 146.9 348.0z"/><path color="#373089" d="M169.6 349.7L172.2 350.8 175.4 349.5 172.8 348.3z"/><path color="#362e86" d="M138.0 349.8L140.6 350.9 143.8 349.5 141.1 348.3z"/><path color="#373089" d="M163.8 349.9L166.4 351.0 169.6 349.7 167.0 348.5z"/><path color="#362e85" d="M132.2 350.1L134.8 351.2 138.0 349.8 135.3 348.7z"/><path color="#372f88" d="M158.0 350.1L160.6 351.2 163.8 349.9 161.2 348.7z"/><path color="#352d84" d="M126.4 350.4L129.0 351.5 132.2 350.1 129.5 349.0z"/><path color="#372f88" d="M152.2 350.3L154.8 351.4 158.0 350.1 155.4 348.9z"/><path color="#352d83" d="M120.6 350.7L123.2 351.8 126.4 350.4 123.7 349.3z"/><path color="#362f87" d="M146.4 350.6L149.0 351.7 152.2 350.3 149.6 349.2z"/><path color="#362e86" d="M140.6 350.9L143.2 352.0 146.4 350.6 143.8 349.5z"/><path color="#372f88" d="M166.4 351.0L169.1 352.1 172.2 350.8 169.6 349.7z"/><path color="#362e85" d="M134.8 351.2L137.4 352.3 140.6 350.9 138.0 349.8z"/><path color="#372f88" d="M160.6 351.2L163.3 352.3 166.4 351.0 163.8 349.9z"/><path color="#352d84" d="M129.0 351.5L131.6 352.5 134.8 351.2 132.2 350.1z"/><path color="#372f87" d="M154.8 351.4L157.5 352.6 160.6 351.2 158.0 350.1z"/><path color="#352d83" d="M123.2 351.8L125.8 352.8 129.0 351.5 126.4 350.4z"/><path color="#362f87" d="M149.0 351.7L151.7 352.8 154.8 351.4 152.2 350.3z"/><path color="#362e86" d="M143.2 352.0L145.9 353.1 149.0 351.7 146.4 350.6z"/><path color="#362e85" d="M137.4 352.3L140.1 353.3 143.2 352.0 140.6 350.9z"/><path color="#372f87" d="M163.3 352.3L165.9 353.4 169.1 352.1 166.4 351.0z"/><path color="#352d84" d="M131.6 352.5L134.3 353.6 137.4 352.3 134.8 351.2z"/><path color="#362f87" d="M157.5 352.6L160.1 353.7 163.3 352.3 160.6 351.2z"/><path color="#352d83" d="M125.8 352.8L128.5 353.9 131.6 352.5 129.0 351.5z"/><path color="#362e86" d="M151.7 352.8L154.3 353.9 157.5 352.6 154.8 351.4z"/><path color="#362e86" d="M145.9 353.1L148.5 354.1 151.7 352.8 149.0 351.7z"/><path color="#362e85" d="M140.1 353.3L142.7 354.4 145.9 353.1 143.2 352.0z"/><path color="#352d84" d="M134.3 353.6L136.9 354.7 140.1 353.3 137.4 352.3z"/><path color="#362e86" d="M160.1 353.7L162.7 354.8 165.9 353.4 163.3 352.3z"/><path color="#352d83" d="M128.5 353.9L131.1 354.9 134.3 353.6 131.6 352.5z"/><path color="#362e86" d="M154.3 353.9L156.9 355.0 160.1 353.7 157.5 352.6z"/><path color="#362e85" d="M148.5 354.1L151.1 355.2 154.3 353.9 151.7 352.8z"/><path color="#362e84" d="M142.7 354.4L145.3 355.5 148.5 354.1 145.9 353.1z"/><path color="#352d84" d="M136.9 354.7L139.5 355.7 142.7 354.4 140.1 353.3z"/><path color="#352d83" d="M131.1 354.9L133.7 356.0 136.9 354.7 134.3 353.6z"/><path color="#362e85" d="M156.9 355.0L159.6 356.1 162.7 354.8 160.1 353.7z"/><path color="#362e85" d="M151.1 355.2L153.8 356.3 156.9 355.0 154.3 353.9z"/><path color="#362e84" d="M145.3 355.5L148.0 356.6 151.1 355.2 148.5 354.1z"/><path color="#352d84" d="M139.5 355.7L142.2 356.8 145.3 355.5 142.7 354.4z"/><path color="#352d83" d="M133.7 356.0L136.4 357.1 139.5 355.7 136.9 354.7z"/><path color="#362e85" d="M153.8 356.3L156.4 357.4 159.6 356.1 156.9 355.0z"/><path color="#352d84" d="M148.0 356.6L150.6 357.6 153.8 356.3 151.1 355.2z"/><path color="#352d83" d="M142.2 356.8L144.8 357.9 148.0 356.6 145.3 355.5z"/><path color="#352d83" d="M136.4 357.1L139.0 358.1 142.2 356.8 139.5 355.7z"/><path color="#352d84" d="M150.6 357.6L153.2 358.7 156.4 357.4 153.8 356.3z"/><path color="#352d83" d="M144.8 357.9L147.4 358.9 150.6 357.6 148.0 356.6z"/><path color="#352d83" d="M139.0 358.1L141.6 359.2 144.8 357.9 142.2 356.8z"/><path color="#352d83" d="M147.4 358.9L150.1 360.0 153.2 358.7 150.6 357.6z"/><path color="#352d83" d="M141.6 359.2L144.3 360.2 147.4 358.9 144.8 357.9z"/><path color="#352d83" d="M144.3 360.2L146.9 361.3 150.1 360.0 147.4 358.9z"/></g><g fill="#111"><circle cx="36.0" cy="315.3" r="1.3"/><circle cx="38.6" cy="314.3" r="1.3"/><circle cx="41.2" cy="313.2" r="1.3"/><circle cx="43.7" cy="312.1" r="1.3"/><circle cx="46.3" cy="310.9" r="1.3"/><circle cx="48.9" cy="309.8" r="1.3"/><circle cx="51.5" cy="308.6" r="1.3"/><circle cx="54.1" cy="307.5" r="1.3"/><circle cx="56.7" cy="306.3" r="1.3"/><circle cx="59.3" cy="305.1" r="1.3"/><circle cx="61.9" cy="303.9" r="1.3"/><circle cx="64.5" cy="302.7" r="1.3"/><circle cx="67.1" cy="301.4" r="1.3"/><circle cx="69.6" cy="300.2" r="1.3"/><circle cx="72.2" cy="298.9" r="1.3"/><circle cx="74.8" cy="297.6" r="1.3"/><circle cx="77.4" cy="296.3" r="1.3"/><circle cx="83.2" cy="293.3" r="1.3"/><circle cx="89.1" cy="290.2" r="1.3"/><circle cx="94.9" cy="287.0" r="1.3"/><circle cx="100.7" cy="283.7" r="1.3"/><circle cx="106.5" cy="280.3" r="1.3"/><circle cx="112.4" cy="276.8" r="1.3"/><circle cx="118.2" cy="273.2" r="1.3"/><circle cx="124.0" cy="269.4" r="1.3"/><circle cx="129.9" cy="265.6" r="1.3"/><circle cx="135.7" cy="261.6" r="1.3"/><circle cx="141.5" cy="257.5" r="1.3"/><circle cx="147.3" cy="253.2" r="1.3"/><circle cx="153.2" cy="248.8" r="1.3"/><circle cx="159.0" cy="244.3" r="1.3"/><circle cx="44.3" cy="318.7" r="1.3"/><circle cx="46.9" cy="317.6" r="1.3"/><circle cx="49.5" cy="316.4" r="1.3"/><circle cx="52.1" cy="315.3" r="1.3"/><circle cx="54.7" cy="314.1" r="1.3"/><circle cx="57.3" cy="313.0" r="1.3"/><circle cx="59.9" cy="311.8" r="1.3"/><circle cx="62.5" cy="310.5" r="1.3"/><circle cx="65.1" cy="309.3" r="1.3"/><circle cx="67.6" cy="308.0" r="1.3"/><circle cx="70.2" cy="306.7" r="1.3"/><circle cx="72.8" cy="305.4" r="1.3"/><circle cx="75.4" cy="304.1" r="1.3"/><circle cx="78.0" cy="302.7" r="1.3"/><circle cx="80.6" cy="301.3" r="1.3"/><circle cx="83.2" cy="299.9" r="1.3"/><circle cx="85.8" cy="298.5" r="1.3"/><circle cx="91.6" cy="295.2" r="1.3"/><circle cx="97.4" cy="291.7" r="1.3"/><circle cx="103.3" cy="288.2" r="1.3"/><circle cx="109.1" cy="284.5" r="1.3"/><circle cx="114.9" cy="280.6" r="1.3"/><circle cx="120.7" cy="276.6" r="1.3"/><circle cx="126.6" cy="272.5" r="1.3"/><circle cx="132.4" cy="268.2" r="1.3"/><circle cx="138.2" cy="263.8" r="1.3"/><circle cx="144.1" cy="259.2" r="1.3"/><circle cx="149.9" cy="254.4" r="1.3"/><circle cx="155.7" cy="249.4" r="1.3"/><circle cx="161.5" cy="244.3" r="1.3"/><circle cx="167.4" cy="239.0" r="1.3"/><circle cx="52.7" cy="322.0" r="1.3"/><circle cx="55.3" cy="320.9" r="1.3"/><circle cx="57.9" cy="319.7" r="1.3"/><circle cx="60.5" cy="318.5" r="1.3"/><circle cx="63.1" cy="317.3" r="1.3"/><circle cx="65.7" cy="316.1" r="1.3"/><circle cx="68.2" cy="314.8" r="1.3"/><circle cx="70.8" cy="313.5" r="1.3"/><circle cx="73.4" cy="312.2" r="1.3"/><circle cx="76.0" cy="310.8" r="1.3"/><circle cx="78.6" cy="309.4" r="1.3"/><circle cx="81.2" cy="308.0" r="1.3"/><circle cx="83.8" cy="306.5" r="1.3"/><circle cx="86.4" cy="305.1" r="1.3"/><circle cx="89.0" cy="303.6" r="1.3"/><circle cx="91.6" cy="302.0" r="1.3"/><circle cx="94.1" cy="300.4" r="1.3"/><circle cx="100.0" cy="296.8" r="1.3"/><circle cx="105.8" cy="292.9" r="1.3"/><circle cx="111.6" cy="289.0" r="1.3"/><circle cx="117.5" cy="284.8" r="1.3"/><circle cx="123.3" cy="280.4" r="1.3"/><circle cx="129.1" cy="275.9" r="1.3"/><circle cx="134.9" cy="271.2" r="1.3"/><circle cx="140.8" cy="266.3" r="1.3"/><circle cx="146.6" cy="261.2" r="1.3"/><circle cx="152.4" cy="255.9" r="1.3"/><circle cx="158.2" cy="250.4" r="1.3"/><circle cx="164.1" cy="244.7" r="1.3"/><circle cx="169.9" cy="238.8" r="1.3"/><circle cx="175.7" cy="232.7" r="1.3"/><circle cx="61.1" cy="325.3" r="1.3"/><circle cx="63.7" cy="324.2" r="1.3"/><circle cx="66.3" cy="323.0" r="1.3"/><circle cx="68.8" cy="321.7" r="1.3"/><circle cx="71.4" cy="320.5" r="1.3"/><circle cx="74.0" cy="319.2" r="1.3"/><circle cx="76.6" cy="317.8" r="1.3"/><circle cx="79.2" cy="316.4" r="1.3"/><circle cx="81.8" cy="315.0" r="1.3"/><circle cx="84.4" cy="313.6" r="1.3"/><circle cx="87.0" cy="312.1" r="1.3"/><circle cx="89.6" cy="310.5" r="1.3"/><circle cx="92.2" cy="308.9" r="1.3"/><circle cx="94.7" cy="307.3" r="1.3"/><circle cx="97.3" cy="305.7" r="1.3"/><circle cx="99.9" cy="304.0" r="1.3"/><circle cx="102.5" cy="302.3" r="1.3"/><circle cx="108.3" cy="298.2" r="1.3"/><circle cx="114.2" cy="294.0" r="1.3"/><circle cx="120.0" cy="289.6" r="1.3"/><circle cx="125.8" cy="284.9" r="1.3"/><circle cx="131.7" cy="280.1" r="1.3"/><circle cx="137.5" cy="275.0" r="1.3"/><circle cx="143.3" cy="269.7" r="1.3"/><circle cx="149.1" cy="264.2" r="1.3"/><circle cx="155.0" cy="258.5" r="1.3"/><circle cx="160.8" cy="252.6" r="1.3"/><circle cx="166.6" cy="246.4" r="1.3"/><circle cx="172.4" cy="240.0" r="1.3"/><circle cx="178.3" cy="233.4" r="1.3"/><circle cx="184.1" cy="226.5" r="1.3"/><circle cx="69.4" cy="328.6" r="1.3"/><circle cx="72.0" cy="327.5" r="1.3"/><circle cx="74.6" cy="326.2" r="1.3"/><circle cx="77.2" cy="325.0" r="1.3"/><circle cx="79.8" cy="323.6" r="1.3"/><circle cx="82.4" cy="322.3" r="1.3"/><circle cx="85.0" cy="320.8" r="1.3"/><circle cx="87.6" cy="319.4" r="1.3"/><circle cx="90.2" cy="317.9" r="1.3"/><circle cx="92.8" cy="316.3" r="1.3"/><circle cx="95.3" cy="314.7" r="1.3"/><circle cx="97.9" cy="313.1" r="1.3"/><circle cx="100.5" cy="311.4" r="1.3"/><circle cx="103.1" cy="309.6" r="1.3"/><circle cx="105.7" cy="307.8" r="1.3"/><circle cx="108.3" cy="306.0" r="1.3"/><circle cx="110.9" cy="304.1" r="1.3"/><circle cx="116.7" cy="299.8" r="1.3"/><circle cx="122.5" cy="295.2" r="1.3"/><circle cx="128.4" cy="290.3" r="1.3"/><circle cx="134.2" cy="285.3" r="1.3"/><circle cx="140.0" cy="280.0" r="1.3"/><circle cx="145.8" cy="274.4" r="1.3"/><circle cx="151.7" cy="268.7" r="1.3"/><circle cx="157.5" cy="262.7" r="1.3"/><circle cx="163.3" cy="256.4" r="1.3"/><circle cx="169.2" cy="250.0" r="1.3"/><circle cx="175.0" cy="243.3" r="1.3"/><circle cx="180.8" cy="236.3" r="1.3"/><circle cx="186.6" cy="229.2" r="1.3"/><circle cx="192.5" cy="221.8" r="1.3"/><circle cx="77.8" cy="332.0" r="1.3"/><circle cx="80.4" cy="330.8" r="1.3"/><circle cx="83.0" cy="329.5" r="1.3"/><circle cx="85.6" cy="328.2" r="1.3"/><circle cx="88.2" cy="326.8" r="1.3"/><circle cx="90.8" cy="325.4" r="1.3"/><circle cx="93.3" cy="323.9" r="1.3"/><circle cx="95.9" cy="322.4" r="1.3"/><circle cx="98.5" cy="320.8" r="1.3"/><circle cx="101.1" cy="319.1" r="1.3"/><circle cx="103.7" cy="317.4" r="1.3"/><circle cx="106.3" cy="315.7" r="1.3"/><circle cx="108.9" cy="313.9" r="1.3"/><circle cx="111.5" cy="312.1" r="1.3"/><circle cx="114.1" cy="310.2" r="1.3"/><circle cx="116.7" cy="308.2" r="1.3"/><circle cx="119.2" cy="306.3" r="1.3"/><circle cx="125.1" cy="301.6" r="1.3"/><circle cx="130.9" cy="296.7" r="1.3"/><circle cx="136.7" cy="291.6" r="1.3"/><circle cx="142.6" cy="286.2" r="1.3"/><circle cx="148.4" cy="280.6" r="1.3"/><circle cx="154.2" cy="274.8" r="1.3"/><circle cx="160.0" cy="268.7" r="1.3"/><circle cx="165.9" cy="262.3" r="1.3"/><circle cx="171.7" cy="255.8" r="1.3"/><circle cx="177.5" cy="249.0" r="1.3"/><circle cx="183.4" cy="242.0" r="1.3"/><circle cx="189.2" cy="234.8" r="1.3"/><circle cx="195.0" cy="227.3" r="1.3"/><circle cx="200.8" cy="219.6" r="1.3"/><circle cx="86.2" cy="335.3" r="1.3"/><circle cx="88.8" cy="334.1" r="1.3"/><circle cx="91.4" cy="332.8" r="1.3"/><circle cx="93.9" cy="331.4" r="1.3"/><circle cx="96.5" cy="330.0" r="1.3"/><circle cx="99.1" cy="328.6" r="1.3"/><circle cx="101.7" cy="327.0" r="1.3"/><circle cx="104.3" cy="325.5" r="1.3"/><circle cx="106.9" cy="323.8" r="1.3"/><circle cx="109.5" cy="322.1" r="1.3"/><circle cx="112.1" cy="320.4" r="1.3"/><circle cx="114.7" cy="318.6" r="1.3"/><circle cx="117.3" cy="316.7" r="1.3"/><circle cx="119.8" cy="314.8" r="1.3"/><circle cx="122.4" cy="312.9" r="1.3"/><circle cx="125.0" cy="310.9" r="1.3"/><circle cx="127.6" cy="308.8" r="1.3"/><circle cx="133.4" cy="304.0" r="1.3"/><circle cx="139.3" cy="299.0" r="1.3"/><circle cx="145.1" cy="293.7" r="1.3"/><circle cx="150.9" cy="288.2" r="1.3"/><circle cx="156.8" cy="282.4" r="1.3"/><circle cx="162.6" cy="276.5" r="1.3"/><circle cx="168.4" cy="270.3" r="1.3"/><circle cx="174.2" cy="263.9" r="1.3"/><circle cx="180.1" cy="257.2" r="1.3"/><circle cx="185.9" cy="250.4" r="1.3"/><circle cx="191.7" cy="243.4" r="1.3"/><circle cx="197.5" cy="236.1" r="1.3"/><circle cx="203.4" cy="228.7" r="1.3"/><circle cx="209.2" cy="221.1" r="1.3"/><circle cx="94.5" cy="338.6" r="1.3"/><circle cx="97.1" cy="337.4" r="1.3"/><circle cx="99.7" cy="336.1" r="1.3"/><circle cx="102.3" cy="334.7" r="1.3"/><circle cx="104.9" cy="333.3" r="1.3"/><circle cx="107.5" cy="331.8" r="1.3"/><circle cx="110.1" cy="330.3" r="1.3"/><circle cx="112.7" cy="328.7" r="1.3"/><circle cx="115.3" cy="327.0" r="1.3"/><circle cx="117.9" cy="325.3" r="1.3"/><circle cx="120.4" cy="323.6" r="1.3"/><circle cx="123.0" cy="321.8" r="1.3"/><circle cx="125.6" cy="319.9" r="1.3"/><circle cx="128.2" cy="318.0" r="1.3"/><circle cx="130.8" cy="316.0" r="1.3"/><circle cx="133.4" cy="314.0" r="1.3"/><circle cx="136.0" cy="312.0" r="1.3"/><circle cx="141.8" cy="307.2" r="1.3"/><circle cx="147.6" cy="302.2" r="1.3"/><circle cx="153.5" cy="297.0" r="1.3"/><circle cx="159.3" cy="291.6" r="1.3"/><circle cx="165.1" cy="285.9" r="1.3"/><circle cx="170.9" cy="280.2" r="1.3"/><circle cx="176.8" cy="274.2" r="1.3"/><circle cx="182.6" cy="268.1" r="1.3"/><circle cx="188.4" cy="261.8" r="1.3"/><circle cx="194.3" cy="255.4" r="1.3"/><circle cx="200.1" cy="248.9" r="1.3"/><circle cx="205.9" cy="242.3" r="1.3"/><circle cx="211.7" cy="235.5" r="1.3"/><circle cx="217.6" cy="228.7" r="1.3"/><circle cx="102.9" cy="342.0" r="1.3"/><circle cx="105.5" cy="340.7" r="1.3"/><circle cx="108.1" cy="339.5" r="1.3"/><circle cx="110.7" cy="338.1" r="1.3"/><circle cx="113.3" cy="336.7" r="1.3"/><circle cx="115.9" cy="335.3" r="1.3"/><circle cx="118.5" cy="333.8" r="1.3"/><circle cx="121.0" cy="332.2" r="1.3"/><circle cx="123.6" cy="330.6" r="1.3"/><circle cx="126.2" cy="328.9" r="1.3"/><circle cx="128.8" cy="327.2" r="1.3"/><circle cx="131.4" cy="325.5" r="1.3"/><circle cx="134.0" cy="323.7" r="1.3"/><circle cx="136.6" cy="321.9" r="1.3"/><circle cx="139.2" cy="320.0" r="1.3"/><circle cx="141.8" cy="318.1" r="1.3"/><circle cx="144.4" cy="316.2" r="1.3"/><circle cx="150.2" cy="311.7" r="1.3"/><circle cx="156.0" cy="307.0" r="1.3"/><circle cx="161.8" cy="302.2" r="1.3"/><circle cx="167.7" cy="297.3" r="1.3"/><circle cx="173.5" cy="292.2" r="1.3"/><circle cx="179.3" cy="287.0" r="1.3"/><circle cx="185.1" cy="281.7" r="1.3"/><circle cx="191.0" cy="276.4" r="1.3"/><circle cx="196.8" cy="270.9" r="1.3"/><circle cx="202.6" cy="265.4" r="1.3"/><circle cx="208.5" cy="259.8" r="1.3"/><circle cx="214.3" cy="254.2" r="1.3"/><circle cx="220.1" cy="248.6" r="1.3"/><circle cx="225.9" cy="242.9" r="1.3"/><circle cx="111.3" cy="345.3" r="1.3"/><circle cx="113.9" cy="344.1" r="1.3"/><circle cx="116.5" cy="342.9" r="1.3"/><circle cx="119.0" cy="341.6" r="1.3"/><circle cx="121.6" cy="340.3" r="1.3"/><circle cx="124.2" cy="338.9" r="1.3"/><circle cx="126.8" cy="337.4" r="1.3"/><circle cx="129.4" cy="336.0" r="1.3"/><circle cx="132.0" cy="334.5" r="1.3"/><circle cx="134.6" cy="332.9" r="1.3"/><circle cx="137.2" cy="331.4" r="1.3"/><circle cx="139.8" cy="329.8" r="1.3"/><circle cx="142.4" cy="328.1" r="1.3"/><circle cx="144.9" cy="326.5" r="1.3"/><circle cx="147.5" cy="324.8" r="1.3"/><circle cx="150.1" cy="323.1" r="1.3"/><circle cx="152.7" cy="321.3" r="1.3"/><circle cx="158.5" cy="317.3" r="1.3"/><circle cx="164.4" cy="313.2" r="1.3"/><circle cx="170.2" cy="309.0" r="1.3"/><circle cx="176.0" cy="304.8" r="1.3"/><circle cx="181.9" cy="300.4" r="1.3"/><circle cx="187.7" cy="296.0" r="1.3"/><circle cx="193.5" cy="291.6" r="1.3"/><circle cx="199.3" cy="287.1" r="1.3"/><circle cx="205.2" cy="282.7" r="1.3"/><circle cx="211.0" cy="278.2" r="1.3"/><circle cx="216.8" cy="273.6" r="1.3"/><circle cx="222.6" cy="269.1" r="1.3"/><circle cx="228.5" cy="264.7" r="1.3"/><circle cx="234.3" cy="260.2" r="1.3"/><circle cx="119.6" cy="348.7" r="1.3"/><circle cx="122.2" cy="347.5" r="1.3"/><circle cx="124.8" cy="346.3" r="1.3"/><circle cx="127.4" cy="345.1" r="1.3"/><circle cx="130.0" cy="343.9" r="1.3"/><circle cx="132.6" cy="342.6" r="1.3"/><circle cx="135.2" cy="341.3" r="1.3"/><circle cx="137.8" cy="339.9" r="1.3"/><circle cx="140.4" cy="338.5" r="1.3"/><circle cx="143.0" cy="337.1" r="1.3"/><circle cx="145.5" cy="335.7" r="1.3"/><circle cx="148.1" cy="334.3" r="1.3"/><circle cx="150.7" cy="332.8" r="1.3"/><circle cx="153.3" cy="331.4" r="1.3"/><circle cx="155.9" cy="329.9" r="1.3"/><circle cx="158.5" cy="328.4" r="1.3"/><circle cx="161.1" cy="326.9" r="1.3"/><circle cx="166.9" cy="323.4" r="1.3"/><circle cx="172.7" cy="319.9" r="1.3"/><circle cx="178.6" cy="316.3" r="1.3"/><circle cx="184.4" cy="312.7" r="1.3"/><circle cx="190.2" cy="309.1" r="1.3"/><circle cx="196.1" cy="305.5" r="1.3"/><circle cx="201.9" cy="301.9" r="1.3"/><circle cx="207.7" cy="298.2" r="1.3"/><circle cx="213.5" cy="294.6" r="1.3"/><circle cx="219.4" cy="291.0" r="1.3"/><circle cx="225.2" cy="287.4" r="1.3"/><circle cx="231.0" cy="283.8" r="1.3"/><circle cx="236.8" cy="280.2" r="1.3"/><circle cx="242.7" cy="276.7" r="1.3"/><circle cx="128.0" cy="352.1" r="1.3"/><circle cx="130.6" cy="350.9" r="1.3"/><circle cx="133.2" cy="349.8" r="1.3"/><circle cx="135.8" cy="348.6" r="1.3"/><circle cx="138.4" cy="347.5" r="1.3"/><circle cx="141.0" cy="346.3" r="1.3"/><circle cx="143.6" cy="345.0" r="1.3"/><circle cx="146.1" cy="343.8" r="1.3"/><circle cx="148.7" cy="342.6" r="1.3"/><circle cx="151.3" cy="341.3" r="1.3"/><circle cx="153.9" cy="340.0" r="1.3"/><circle cx="156.5" cy="338.8" r="1.3"/><circle cx="159.1" cy="337.5" r="1.3"/><circle cx="161.7" cy="336.2" r="1.3"/><circle cx="164.3" cy="334.8" r="1.3"/><circle cx="166.9" cy="333.5" r="1.3"/><circle cx="169.5" cy="332.2" r="1.3"/><circle cx="175.3" cy="329.2" r="1.3"/><circle cx="181.1" cy="326.2" r="1.3"/><circle cx="186.9" cy="323.1" r="1.3"/><circle cx="192.8" cy="320.1" r="1.3"/><circle cx="198.6" cy="317.0" r="1.3"/><circle cx="204.4" cy="314.0" r="1.3"/><circle cx="210.2" cy="310.9" r="1.3"/><circle cx="216.1" cy="307.9" r="1.3"/><circle cx="221.9" cy="304.9" r="1.3"/><circle cx="227.7" cy="301.9" r="1.3"/><circle cx="233.6" cy="298.9" r="1.3"/><circle cx="239.4" cy="296.0" r="1.3"/><circle cx="245.2" cy="293.0" r="1.3"/><circle cx="251.0" cy="290.1" r="1.3"/><circle cx="136.4" cy="355.4" r="1.3"/><circle cx="139.0" cy="354.3" r="1.3"/><circle cx="141.6" cy="353.2" r="1.3"/><circle cx="144.2" cy="352.1" r="1.3"/><circle cx="146.7" cy="351.0" r="1.3"/><circle cx="149.3" cy="349.9" r="1.3"/><circle cx="151.9" cy="348.7" r="1.3"/><circle cx="154.5" cy="347.6" r="1.3"/><circle cx="157.1" cy="346.4" r="1.3"/><circle cx="159.7" cy="345.3" r="1.3"/><circle cx="162.3" cy="344.1" r="1.3"/><circle cx="164.9" cy="342.9" r="1.3"/><circle cx="167.5" cy="341.8" r="1.3"/><circle cx="170.1" cy="340.6" r="1.3"/><circle cx="172.6" cy="339.4" r="1.3"/><circle cx="175.2" cy="338.2" r="1.3"/><circle cx="177.8" cy="337.0" r="1.3"/><circle cx="183.6" cy="334.3" r="1.3"/><circle cx="189.5" cy="331.7" r="1.3"/><circle cx="195.3" cy="329.0" r="1.3"/><circle cx="201.1" cy="326.3" r="1.3"/><circle cx="207.0" cy="323.6" r="1.3"/><circle cx="212.8" cy="320.9" r="1.3"/><circle cx="218.6" cy="318.2" r="1.3"/><circle cx="224.4" cy="315.6" r="1.3"/><circle cx="230.3" cy="312.9" r="1.3"/><circle cx="236.1" cy="310.3" r="1.3"/><circle cx="241.9" cy="307.7" r="1.3"/><circle cx="247.8" cy="305.1" r="1.3"/><circle cx="253.6" cy="302.5" r="1.3"/><circle cx="259.4" cy="299.9" r="1.3"/><circle cx="144.8" cy="358.8" r="1.3"/><circle cx="147.3" cy="357.7" r="1.3"/><circle cx="149.9" cy="356.6" r="1.3"/><circle cx="152.5" cy="355.6" r="1.3"/><circle cx="155.1" cy="354.5" r="1.3"/><circle cx="157.7" cy="353.4" r="1.3"/><circle cx="160.3" cy="352.3" r="1.3"/><circle cx="162.9" cy="351.2" r="1.3"/><circle cx="165.5" cy="350.1" r="1.3"/><circle cx="168.1" cy="349.0" r="1.3"/><circle cx="170.7" cy="347.9" r="1.3"/><circle cx="173.2" cy="346.8" r="1.3"/><circle cx="175.8" cy="345.7" r="1.3"/><circle cx="178.4" cy="344.6" r="1.3"/><circle cx="181.0" cy="343.5" r="1.3"/><circle cx="183.6" cy="342.4" r="1.3"/><circle cx="186.2" cy="341.3" r="1.3"/><circle cx="192.0" cy="338.8" r="1.3"/><circle cx="197.8" cy="336.3" r="1.3"/><circle cx="203.7" cy="333.8" r="1.3"/><circle cx="209.5" cy="331.3" r="1.3"/><circle cx="215.3" cy="328.8" r="1.3"/><circle cx="221.2" cy="326.3" r="1.3"/><circle cx="227.0" cy="323.9" r="1.3"/><circle cx="232.8" cy="321.4" r="1.3"/><circle cx="238.6" cy="318.9" r="1.3"/><circle cx="244.5" cy="316.5" r="1.3"/><circle cx="250.3" cy="314.0" r="1.3"/><circle cx="256.1" cy="311.6" r="1.3"/><circle cx="261.9" cy="309.2" r="1.3"/><circle cx="267.8" cy="306.8" r="1.3"/><circle cx="199.1" cy="214.1" r="1.3"/><circle cx="206.8" cy="216.6" r="1.3"/><circle cx="216.0" cy="218.1" r="1.3"/></g><path d="M155.8,350.8 L186.2,321.9 C194,310 200,296 202.5,283.6 L203.6,248" fill="none" stroke="#fff" stroke-width="4.8"/><path d="M155.8,350.8 L186.2,321.9 C194,310 200,296 202.5,283.6 L203.6,248" fill="none" stroke="#111" stroke-width="3.1"/><polygon points="204.2,240.6 198.9,247.2 209.3,247.2" fill="#111" stroke="#fff" stroke-width="0.9"/><circle cx="155.8" cy="350.8" r="5.4" fill="none" stroke="#fff" stroke-width="3"/><circle cx="155.8" cy="350.8" r="5.4" fill="none" stroke="#111" stroke-width="1.15"/><circle cx="186.2" cy="321.9" r="5.4" fill="none" stroke="#fff" stroke-width="3"/><circle cx="186.2" cy="321.9" r="5.4" fill="none" stroke="#111" stroke-width="1.15"/><circle cx="202.5" cy="283.6" r="5.4" fill="none" stroke="#fff" stroke-width="3"/><circle cx="202.5" cy="283.6" r="5.4" fill="none" stroke="#111" stroke-width="1.15"/><circle cx="204.3" cy="234.7" r="5.4" fill="none" stroke="#fff" stroke-width="3"/><circle cx="204.3" cy="234.7" r="5.4" fill="none" stroke="#111" stroke-width="1.15"/><line x1="25.2" y1="320.8" x2="28.2" y2="320.8" stroke="#333" stroke-width="0.8"/><text x="23.4" y="324.3" font-size="10" text-anchor="end" fill="#1e1e1e">0</text><line x1="25.2" y1="294.9" x2="28.2" y2="294.9" stroke="#333" stroke-width="0.8"/><text x="23.4" y="298.4" font-size="10" text-anchor="end" fill="#1e1e1e">1</text><line x1="25.2" y1="269.0" x2="28.2" y2="269.0" stroke="#333" stroke-width="0.8"/><text x="23.4" y="272.5" font-size="10" text-anchor="end" fill="#1e1e1e">2</text><line x1="25.2" y1="243.1" x2="28.2" y2="243.1" stroke="#333" stroke-width="0.8"/><text x="23.4" y="246.6" font-size="10" text-anchor="end" fill="#1e1e1e">3</text><text transform="translate(10.4,274.2) rotate(-90)" font-size="11.2" text-anchor="middle" textLength="49" lengthAdjust="spacingAndGlyphs" fill="#1e1e1e">[Rb] (M)</text><line x1="48.5" y1="328.9" x2="49.7" y2="325.9" stroke="#333" stroke-width="0.8"/><text x="44.5" y="343.1" font-size="10.4" text-anchor="middle" fill="#1e1e1e">-5</text><line x1="89.7" y1="345.5" x2="90.9" y2="342.5" stroke="#333" stroke-width="0.8"/><text x="85.7" y="359.7" font-size="10.4" text-anchor="middle" fill="#1e1e1e">0</text><line x1="130.9" y1="362.0" x2="132.1" y2="359.0" stroke="#333" stroke-width="0.8"/><text x="126.9" y="376.2" font-size="10.4" text-anchor="middle" fill="#1e1e1e">5</text><text transform="translate(84.5,376) rotate(21.6)" font-size="12.8" text-anchor="middle" textLength="118" lengthAdjust="spacingAndGlyphs" fill="#1e1e1e">Transverse scan (mm)</text><line x1="157.3" y1="372.6" x2="154.3" y2="371.4" stroke="#333" stroke-width="0.8"/><text x="166.8" y="385.0" font-size="10.4" text-anchor="middle" fill="#1e1e1e">0</text><line x1="183.1" y1="362.4" x2="180.1" y2="361.2" stroke="#333" stroke-width="0.8"/><text x="192.6" y="374.8" font-size="10.4" text-anchor="middle" fill="#1e1e1e">10</text><line x1="208.9" y1="352.2" x2="205.9" y2="351.0" stroke="#333" stroke-width="0.8"/><text x="218.4" y="364.6" font-size="10.4" text-anchor="middle" fill="#1e1e1e">20</text><line x1="234.8" y1="342.0" x2="231.8" y2="340.8" stroke="#333" stroke-width="0.8"/><text x="244.3" y="354.4" font-size="10.4" text-anchor="middle" fill="#1e1e1e">30</text><line x1="260.6" y1="331.8" x2="257.6" y2="330.6" stroke="#333" stroke-width="0.8"/><text x="270.1" y="344.2" font-size="10.4" text-anchor="middle" fill="#1e1e1e">40</text><line x1="286.4" y1="321.6" x2="283.4" y2="320.4" stroke="#333" stroke-width="0.8"/><text x="295.9" y="334.0" font-size="10.4" text-anchor="middle" fill="#1e1e1e">50</text><text transform="translate(249,372.6) rotate(-21.5)" font-size="12.8" text-anchor="middle" textLength="62" lengthAdjust="spacingAndGlyphs" fill="#1e1e1e">Time (min)</text><text x="311.8" y="16.6" font-size="18.3" fill="#111">C</text><g fill="none" stroke="#e8402e" stroke-width="1.25"><circle cx="356.1" cy="63.7" r="2"/><circle cx="356.8" cy="66.8" r="2"/><circle cx="357.4" cy="69.8" r="2"/><circle cx="358.1" cy="72.7" r="2"/><circle cx="358.7" cy="75.5" r="2"/><circle cx="359.4" cy="78.0" r="2"/><circle cx="360.0" cy="80.5" r="2"/><circle cx="360.7" cy="82.9" r="2"/><circle cx="361.4" cy="85.1" r="2"/><circle cx="362.0" cy="87.0" r="2"/><circle cx="362.7" cy="88.5" r="2"/><circle cx="363.3" cy="89.8" r="2"/><circle cx="364.0" cy="90.9" r="2"/><circle cx="364.6" cy="92.0" r="2"/><circle cx="365.3" cy="93.0" r="2"/><circle cx="366.0" cy="93.8" r="2"/><circle cx="366.6" cy="94.5" r="2"/><circle cx="367.3" cy="94.8" r="2"/><circle cx="367.9" cy="94.9" r="2"/><circle cx="368.6" cy="94.7" r="2"/><circle cx="369.2" cy="94.2" r="2"/><circle cx="369.9" cy="93.5" r="2"/><circle cx="370.6" cy="92.5" r="2"/><circle cx="371.2" cy="91.3" r="2"/><circle cx="371.9" cy="87.8" r="2"/><circle cx="372.5" cy="82.1" r="2"/><circle cx="373.2" cy="76.8" r="2"/><circle cx="374.5" cy="80.0" r="2"/><circle cx="375.2" cy="87.6" r="2"/><circle cx="375.8" cy="101.0" r="2"/><circle cx="376.5" cy="108.5" r="2"/><circle cx="377.1" cy="111.9" r="2"/><circle cx="377.8" cy="114.6" r="2"/><circle cx="378.5" cy="116.7" r="2"/><circle cx="379.1" cy="118.2" r="2"/><circle cx="379.8" cy="119.3" r="2"/><circle cx="380.4" cy="120.0" r="2"/><circle cx="381.1" cy="120.7" r="2"/><circle cx="381.7" cy="121.3" r="2"/><circle cx="382.4" cy="121.8" r="2"/><circle cx="383.1" cy="122.2" r="2"/><circle cx="383.7" cy="122.6" r="2"/><circle cx="384.4" cy="123.0" r="2"/><circle cx="385.0" cy="123.3" r="2"/><circle cx="385.7" cy="123.6" r="2"/><circle cx="386.3" cy="124.0" r="2"/><circle cx="387.0" cy="124.3" r="2"/><circle cx="387.7" cy="124.8" r="2"/><circle cx="388.3" cy="125.2" r="2"/><circle cx="389.0" cy="125.7" r="2"/><circle cx="389.6" cy="126.2" r="2"/><circle cx="390.3" cy="126.7" r="2"/><circle cx="390.9" cy="127.1" r="2"/><circle cx="391.6" cy="127.5" r="2"/><circle cx="392.3" cy="127.8" r="2"/><circle cx="392.9" cy="128.0" r="2"/><circle cx="393.6" cy="128.0" r="2"/><circle cx="394.2" cy="127.2" r="2"/><circle cx="394.9" cy="125.2" r="2"/><circle cx="395.6" cy="122.1" r="2"/><circle cx="396.2" cy="117.7" r="2"/><circle cx="396.9" cy="106.7" r="2"/><circle cx="397.5" cy="99.6" r="2"/><circle cx="398.2" cy="95.6" r="2"/><circle cx="399.5" cy="93.6" r="2"/><circle cx="400.2" cy="97.2" r="2"/><circle cx="400.8" cy="100.8" r="2"/><circle cx="401.5" cy="105.2" r="2"/><circle cx="402.1" cy="109.7" r="2"/><circle cx="402.8" cy="114.0" r="2"/><circle cx="403.4" cy="117.4" r="2"/><circle cx="404.1" cy="120.2" r="2"/><circle cx="404.8" cy="122.6" r="2"/><circle cx="405.4" cy="124.9" r="2"/><circle cx="406.1" cy="127.0" r="2"/><circle cx="406.7" cy="129.1" r="2"/><circle cx="407.4" cy="131.3" r="2"/><circle cx="408.0" cy="133.7" r="2"/><circle cx="408.7" cy="136.6" r="2"/><circle cx="409.4" cy="139.5" r="2"/><circle cx="410.0" cy="142.5" r="2"/><circle cx="410.7" cy="145.3" r="2"/><circle cx="411.3" cy="147.9" r="2"/><circle cx="412.0" cy="149.9" r="2"/><circle cx="412.6" cy="151.4" r="2"/><circle cx="413.3" cy="152.1" r="2"/><circle cx="414.0" cy="151.7" r="2"/><circle cx="414.6" cy="149.7" r="2"/><circle cx="415.3" cy="146.5" r="2"/><circle cx="415.9" cy="142.5" r="2"/><circle cx="416.6" cy="138.0" r="2"/><circle cx="417.3" cy="133.5" r="2"/><circle cx="417.9" cy="128.0" r="2"/><circle cx="418.6" cy="121.2" r="2"/><circle cx="419.2" cy="114.0" r="2"/><circle cx="419.9" cy="107.1" r="2"/><circle cx="420.5" cy="100.4" r="2"/><circle cx="421.2" cy="93.7" r="2"/><circle cx="421.9" cy="87.3" r="2"/><circle cx="422.5" cy="81.7" r="2"/><circle cx="424.5" cy="85.6" r="2"/><circle cx="425.1" cy="91.3" r="2"/><circle cx="425.8" cy="96.7" r="2"/><circle cx="426.5" cy="101.4" r="2"/><circle cx="427.1" cy="104.8" r="2"/><circle cx="427.8" cy="107.5" r="2"/><circle cx="428.4" cy="110.0" r="2"/><circle cx="429.1" cy="112.1" r="2"/><circle cx="429.7" cy="114.1" r="2"/><circle cx="430.4" cy="115.8" r="2"/><circle cx="431.1" cy="117.3" r="2"/><circle cx="431.7" cy="118.7" r="2"/><circle cx="432.4" cy="120.0" r="2"/><circle cx="433.0" cy="121.3" r="2"/><circle cx="433.7" cy="122.6" r="2"/><circle cx="434.3" cy="123.8" r="2"/><circle cx="435.0" cy="124.8" r="2"/><circle cx="435.7" cy="125.6" r="2"/><circle cx="436.3" cy="126.1" r="2"/><circle cx="437.0" cy="126.3" r="2"/><circle cx="437.6" cy="126.1" r="2"/><circle cx="438.3" cy="125.7" r="2"/><circle cx="439.0" cy="125.0" r="2"/><circle cx="439.6" cy="124.2" r="2"/><circle cx="440.3" cy="123.1" r="2"/><circle cx="440.9" cy="122.0" r="2"/><circle cx="441.6" cy="120.8" r="2"/><circle cx="442.2" cy="119.3" r="2"/><circle cx="442.9" cy="117.1" r="2"/><circle cx="443.6" cy="114.3" r="2"/><circle cx="444.2" cy="110.9" r="2"/><circle cx="444.9" cy="107.3" r="2"/><circle cx="445.5" cy="103.2" r="2"/><circle cx="446.2" cy="97.7" r="2"/><circle cx="447.5" cy="114.1" r="2"/><circle cx="448.2" cy="127.4" r="2"/><circle cx="448.8" cy="147.3" r="2"/><circle cx="449.5" cy="150.8" r="2"/><circle cx="450.1" cy="149.7" r="2"/><circle cx="450.8" cy="147.8" r="2"/><circle cx="451.9" cy="143.7" r="2"/><circle cx="453.1" cy="140.1" r="2"/><circle cx="454.3" cy="136.4" r="2"/><circle cx="455.4" cy="133.6" r="2"/><circle cx="456.6" cy="131.6" r="2"/><circle cx="457.7" cy="130.0" r="2"/><circle cx="458.9" cy="128.5" r="2"/><circle cx="460.1" cy="127.0" r="2"/><circle cx="461.2" cy="125.1" r="2"/><circle cx="462.4" cy="122.8" r="2"/><circle cx="463.6" cy="119.6" r="2"/><circle cx="464.7" cy="115.6" r="2"/><circle cx="465.9" cy="110.9" r="2"/><circle cx="467.0" cy="105.5" r="2"/><circle cx="468.2" cy="99.6" r="2"/><circle cx="469.4" cy="92.0" r="2"/><circle cx="471.7" cy="97.1" r="2"/><circle cx="472.8" cy="105.4" r="2"/><circle cx="474.0" cy="114.2" r="2"/><circle cx="475.2" cy="122.7" r="2"/><circle cx="476.3" cy="130.8" r="2"/><circle cx="477.5" cy="138.2" r="2"/><circle cx="478.6" cy="146.0" r="2"/><circle cx="479.8" cy="154.1" r="2"/><circle cx="481.0" cy="161.7" r="2"/><circle cx="482.1" cy="168.1" r="2"/><circle cx="483.3" cy="172.6" r="2"/><circle cx="484.4" cy="174.3" r="2"/><circle cx="485.6" cy="172.9" r="2"/><circle cx="486.8" cy="169.1" r="2"/><circle cx="487.9" cy="163.7" r="2"/><circle cx="489.1" cy="157.6" r="2"/><circle cx="490.2" cy="151.6" r="2"/><circle cx="491.4" cy="145.8" r="2"/><circle cx="492.6" cy="139.3" r="2"/><circle cx="493.7" cy="132.6" r="2"/><circle cx="494.9" cy="126.5" r="2"/><circle cx="497.2" cy="147.3" r="2"/><circle cx="498.4" cy="160.9" r="2"/><circle cx="499.5" cy="170.3" r="2"/><circle cx="500.7" cy="176.5" r="2"/><circle cx="501.8" cy="181.8" r="2"/><circle cx="503.0" cy="185.8" r="2"/><circle cx="504.2" cy="188.3" r="2"/></g><g fill="none" stroke="#4f9a3c" stroke-width="1.25"><rect x="354.1" y="105.6" width="4" height="4"/><rect x="354.8" y="108.4" width="4" height="4"/><rect x="355.4" y="111.5" width="4" height="4"/><rect x="356.1" y="114.8" width="4" height="4"/><rect x="356.7" y="118.0" width="4" height="4"/><rect x="357.4" y="121.1" width="4" height="4"/><rect x="358.0" y="123.8" width="4" height="4"/><rect x="358.7" y="126.1" width="4" height="4"/><rect x="359.4" y="128.3" width="4" height="4"/><rect x="360.0" y="130.4" width="4" height="4"/><rect x="360.7" y="132.4" width="4" height="4"/><rect x="361.3" y="134.3" width="4" height="4"/><rect x="362.0" y="135.9" width="4" height="4"/><rect x="362.6" y="137.3" width="4" height="4"/><rect x="363.3" y="138.4" width="4" height="4"/><rect x="364.0" y="139.4" width="4" height="4"/><rect x="364.6" y="140.5" width="4" height="4"/><rect x="365.3" y="141.3" width="4" height="4"/><rect x="365.9" y="142.0" width="4" height="4"/><rect x="366.6" y="142.4" width="4" height="4"/><rect x="367.2" y="142.4" width="4" height="4"/><rect x="367.9" y="141.6" width="4" height="4"/><rect x="368.6" y="140.2" width="4" height="4"/><rect x="369.2" y="138.1" width="4" height="4"/><rect x="369.9" y="135.5" width="4" height="4"/><rect x="370.5" y="129.3" width="4" height="4"/><rect x="371.9" y="128.6" width="4" height="4"/><rect x="372.5" y="138.8" width="4" height="4"/><rect x="373.2" y="146.0" width="4" height="4"/><rect x="373.8" y="152.2" width="4" height="4"/><rect x="374.5" y="157.0" width="4" height="4"/><rect x="375.1" y="159.5" width="4" height="4"/><rect x="375.8" y="160.9" width="4" height="4"/><rect x="376.5" y="162.2" width="4" height="4"/><rect x="377.1" y="163.2" width="4" height="4"/><rect x="377.8" y="164.1" width="4" height="4"/><rect x="378.4" y="164.8" width="4" height="4"/><rect x="379.1" y="165.4" width="4" height="4"/><rect x="379.7" y="166.0" width="4" height="4"/><rect x="380.4" y="166.6" width="4" height="4"/><rect x="381.1" y="167.1" width="4" height="4"/><rect x="381.7" y="167.7" width="4" height="4"/><rect x="382.4" y="168.3" width="4" height="4"/><rect x="383.0" y="169.0" width="4" height="4"/><rect x="383.7" y="169.8" width="4" height="4"/><rect x="384.3" y="170.7" width="4" height="4"/><rect x="385.0" y="171.6" width="4" height="4"/><rect x="385.7" y="172.5" width="4" height="4"/><rect x="386.3" y="173.3" width="4" height="4"/><rect x="387.0" y="174.1" width="4" height="4"/><rect x="387.6" y="174.9" width="4" height="4"/><rect x="388.3" y="175.5" width="4" height="4"/><rect x="388.9" y="175.9" width="4" height="4"/><rect x="389.6" y="176.2" width="4" height="4"/><rect x="390.3" y="176.3" width="4" height="4"/><rect x="390.9" y="175.7" width="4" height="4"/><rect x="391.6" y="174.3" width="4" height="4"/><rect x="392.2" y="172.2" width="4" height="4"/><rect x="392.9" y="169.6" width="4" height="4"/><rect x="393.6" y="166.6" width="4" height="4"/><rect x="394.2" y="163.3" width="4" height="4"/><rect x="394.9" y="158.2" width="4" height="4"/><rect x="395.5" y="151.1" width="4" height="4"/><rect x="396.2" y="142.5" width="4" height="4"/><rect x="398.2" y="146.1" width="4" height="4"/><rect x="398.8" y="150.7" width="4" height="4"/><rect x="399.5" y="154.7" width="4" height="4"/><rect x="400.1" y="158.2" width="4" height="4"/><rect x="400.8" y="161.3" width="4" height="4"/><rect x="401.4" y="164.1" width="4" height="4"/><rect x="402.1" y="166.7" width="4" height="4"/><rect x="402.8" y="169.2" width="4" height="4"/><rect x="403.4" y="171.7" width="4" height="4"/><rect x="404.1" y="174.3" width="4" height="4"/><rect x="404.7" y="177.1" width="4" height="4"/><rect x="405.4" y="180.1" width="4" height="4"/><rect x="406.0" y="183.1" width="4" height="4"/><rect x="406.7" y="186.2" width="4" height="4"/><rect x="407.4" y="189.2" width="4" height="4"/><rect x="408.0" y="192.0" width="4" height="4"/><rect x="408.7" y="194.5" width="4" height="4"/><rect x="409.3" y="196.7" width="4" height="4"/><rect x="410.0" y="198.4" width="4" height="4"/><rect x="410.6" y="199.6" width="4" height="4"/><rect x="411.3" y="200.2" width="4" height="4"/><rect x="412.0" y="199.8" width="4" height="4"/><rect x="412.6" y="198.0" width="4" height="4"/><rect x="413.3" y="195.0" width="4" height="4"/><rect x="413.9" y="191.0" width="4" height="4"/><rect x="414.6" y="186.4" width="4" height="4"/><rect x="415.3" y="181.3" width="4" height="4"/><rect x="415.9" y="176.1" width="4" height="4"/><rect x="416.6" y="170.9" width="4" height="4"/><rect x="417.2" y="164.7" width="4" height="4"/><rect x="417.9" y="157.4" width="4" height="4"/><rect x="418.5" y="149.6" width="4" height="4"/><rect x="419.2" y="142.0" width="4" height="4"/><rect x="419.9" y="135.3" width="4" height="4"/><rect x="420.5" y="129.7" width="4" height="4"/><rect x="422.5" y="130.8" width="4" height="4"/><rect x="423.1" y="135.8" width="4" height="4"/><rect x="423.8" y="140.0" width="4" height="4"/><rect x="424.5" y="143.8" width="4" height="4"/><rect x="425.1" y="147.3" width="4" height="4"/><rect x="425.8" y="150.4" width="4" height="4"/><rect x="426.4" y="153.3" width="4" height="4"/><rect x="427.1" y="155.7" width="4" height="4"/><rect x="427.7" y="157.8" width="4" height="4"/><rect x="428.4" y="159.9" width="4" height="4"/><rect x="429.1" y="161.9" width="4" height="4"/><rect x="429.7" y="163.9" width="4" height="4"/><rect x="430.4" y="165.7" width="4" height="4"/><rect x="431.0" y="167.5" width="4" height="4"/><rect x="431.7" y="169.1" width="4" height="4"/><rect x="432.3" y="170.4" width="4" height="4"/><rect x="433.0" y="171.6" width="4" height="4"/><rect x="433.7" y="172.4" width="4" height="4"/><rect x="434.3" y="172.9" width="4" height="4"/><rect x="435.0" y="173.1" width="4" height="4"/><rect x="435.6" y="173.0" width="4" height="4"/><rect x="436.3" y="172.7" width="4" height="4"/><rect x="437.0" y="172.3" width="4" height="4"/><rect x="437.6" y="171.8" width="4" height="4"/><rect x="438.3" y="171.2" width="4" height="4"/><rect x="438.9" y="170.4" width="4" height="4"/><rect x="439.6" y="169.5" width="4" height="4"/><rect x="440.2" y="168.5" width="4" height="4"/><rect x="440.9" y="167.3" width="4" height="4"/><rect x="441.6" y="165.5" width="4" height="4"/><rect x="442.2" y="162.1" width="4" height="4"/><rect x="442.9" y="157.5" width="4" height="4"/><rect x="443.5" y="152.2" width="4" height="4"/><rect x="444.2" y="144.8" width="4" height="4"/><rect x="445.5" y="162.7" width="4" height="4"/><rect x="446.2" y="175.6" width="4" height="4"/><rect x="446.8" y="189.2" width="4" height="4"/><rect x="447.5" y="199.2" width="4" height="4"/><rect x="448.1" y="201.3" width="4" height="4"/><rect x="448.8" y="199.9" width="4" height="4"/><rect x="449.9" y="195.0" width="4" height="4"/><rect x="451.1" y="189.5" width="4" height="4"/><rect x="452.3" y="186.1" width="4" height="4"/><rect x="453.4" y="184.4" width="4" height="4"/><rect x="454.6" y="183.3" width="4" height="4"/><rect x="455.7" y="182.2" width="4" height="4"/><rect x="456.9" y="181.0" width="4" height="4"/><rect x="458.1" y="179.1" width="4" height="4"/><rect x="459.2" y="176.1" width="4" height="4"/><rect x="460.4" y="171.9" width="4" height="4"/><rect x="461.6" y="167.3" width="4" height="4"/><rect x="462.7" y="162.8" width="4" height="4"/><rect x="463.9" y="158.3" width="4" height="4"/><rect x="465.0" y="153.1" width="4" height="4"/><rect x="466.2" y="146.5" width="4" height="4"/><rect x="467.4" y="136.5" width="4" height="4"/><rect x="469.7" y="147.3" width="4" height="4"/><rect x="470.8" y="159.5" width="4" height="4"/><rect x="472.0" y="168.5" width="4" height="4"/><rect x="473.2" y="175.8" width="4" height="4"/><rect x="474.3" y="182.4" width="4" height="4"/><rect x="475.5" y="189.1" width="4" height="4"/><rect x="476.6" y="196.8" width="4" height="4"/><rect x="477.8" y="204.8" width="4" height="4"/><rect x="479.0" y="212.5" width="4" height="4"/><rect x="480.1" y="219.0" width="4" height="4"/><rect x="481.3" y="223.6" width="4" height="4"/><rect x="482.4" y="225.3" width="4" height="4"/><rect x="483.6" y="224.2" width="4" height="4"/><rect x="484.8" y="221.0" width="4" height="4"/><rect x="485.9" y="216.5" width="4" height="4"/><rect x="487.1" y="211.0" width="4" height="4"/><rect x="488.2" y="205.4" width="4" height="4"/><rect x="489.4" y="198.1" width="4" height="4"/><rect x="490.6" y="189.3" width="4" height="4"/><rect x="491.7" y="184.3" width="4" height="4"/><rect x="492.9" y="181.8" width="4" height="4"/><rect x="494.0" y="189.8" width="4" height="4"/><rect x="495.2" y="202.3" width="4" height="4"/><rect x="496.4" y="209.8" width="4" height="4"/><rect x="497.5" y="216.1" width="4" height="4"/><rect x="498.7" y="221.8" width="4" height="4"/><rect x="499.8" y="226.5" width="4" height="4"/><rect x="501.0" y="230.1" width="4" height="4"/><rect x="502.2" y="232.2" width="4" height="4"/></g><g fill="none" stroke="#4d72c4" stroke-width="1.25"><path d="M356.1 155.7L358.4 159.8 353.8 159.8z"/><path d="M356.8 159.0L359.1 163.1 354.5 163.1z"/><path d="M357.4 162.1L359.7 166.2 355.1 166.2z"/><path d="M358.1 165.1L360.4 169.2 355.8 169.2z"/><path d="M358.7 167.8L361.0 171.9 356.4 171.9z"/><path d="M359.4 170.2L361.7 174.3 357.1 174.3z"/><path d="M360.0 172.6L362.3 176.7 357.7 176.7z"/><path d="M360.7 174.8L363.0 178.9 358.4 178.9z"/><path d="M361.4 176.9L363.7 181.0 359.1 181.0z"/><path d="M362.0 178.9L364.3 183.0 359.7 183.0z"/><path d="M362.7 180.8L365.0 184.9 360.4 184.9z"/><path d="M363.3 182.4L365.6 186.5 361.0 186.5z"/><path d="M364.0 183.9L366.3 188.0 361.7 188.0z"/><path d="M364.6 185.3L366.9 189.4 362.3 189.4z"/><path d="M365.3 186.8L367.6 190.9 363.0 190.9z"/><path d="M366.0 188.2L368.3 192.3 363.7 192.3z"/><path d="M366.6 189.5L368.9 193.6 364.3 193.6z"/><path d="M367.3 190.6L369.6 194.7 365.0 194.7z"/><path d="M367.9 191.4L370.2 195.5 365.6 195.5z"/><path d="M368.6 191.8L370.9 195.9 366.3 195.9z"/><path d="M369.2 191.8L371.5 195.9 366.9 195.9z"/><path d="M369.9 191.1L372.2 195.2 367.6 195.2z"/><path d="M370.6 189.7L372.9 193.8 368.3 193.8z"/><path d="M371.2 187.6L373.5 191.7 368.9 191.7z"/><path d="M371.9 185.0L374.2 189.1 369.6 189.1z"/><path d="M372.5 178.1L374.8 182.2 370.2 182.2z"/><path d="M373.9 174.2L376.2 178.3 371.6 178.3z"/><path d="M374.5 183.4L376.8 187.5 372.2 187.5z"/><path d="M375.2 190.1L377.5 194.2 372.9 194.2z"/><path d="M375.8 196.1L378.1 200.2 373.5 200.2z"/><path d="M376.5 201.2L378.8 205.3 374.2 205.3z"/><path d="M377.1 205.0L379.4 209.1 374.8 209.1z"/><path d="M377.8 207.0L380.1 211.1 375.5 211.1z"/><path d="M378.5 208.5L380.8 212.6 376.2 212.6z"/><path d="M379.1 209.9L381.4 214.0 376.8 214.0z"/><path d="M379.8 211.0L382.1 215.1 377.5 215.1z"/><path d="M380.4 212.0L382.7 216.1 378.1 216.1z"/><path d="M381.1 212.9L383.4 217.0 378.8 217.0z"/><path d="M381.7 213.6L384.0 217.7 379.4 217.7z"/><path d="M382.4 214.4L384.7 218.5 380.1 218.5z"/><path d="M383.1 215.0L385.4 219.1 380.8 219.1z"/><path d="M383.7 215.7L386.0 219.8 381.4 219.8z"/><path d="M384.4 216.4L386.7 220.5 382.1 220.5z"/><path d="M385.0 217.2L387.3 221.3 382.7 221.3z"/><path d="M385.7 218.0L388.0 222.1 383.4 222.1z"/><path d="M386.3 218.9L388.6 223.0 384.0 223.0z"/><path d="M387.0 219.8L389.3 223.9 384.7 223.9z"/><path d="M387.7 220.7L390.0 224.8 385.4 224.8z"/><path d="M388.3 221.6L390.6 225.7 386.0 225.7z"/><path d="M389.0 222.4L391.3 226.5 386.7 226.5z"/><path d="M389.6 223.1L391.9 227.2 387.3 227.2z"/><path d="M390.3 223.7L392.6 227.8 388.0 227.8z"/><path d="M390.9 224.1L393.2 228.2 388.6 228.2z"/><path d="M391.6 224.4L393.9 228.5 389.3 228.5z"/><path d="M392.3 224.5L394.6 228.6 390.0 228.6z"/><path d="M392.9 223.9L395.2 228.0 390.6 228.0z"/><path d="M393.6 222.6L395.9 226.7 391.3 226.7z"/><path d="M394.2 220.6L396.5 224.7 391.9 224.7z"/><path d="M394.9 218.3L397.2 222.4 392.6 222.4z"/><path d="M395.6 215.6L397.9 219.7 393.3 219.7z"/><path d="M396.2 212.6L398.5 216.7 393.9 216.7z"/><path d="M396.9 208.4L399.2 212.5 394.6 212.5z"/><path d="M397.5 202.9L399.8 207.0 395.2 207.0z"/><path d="M398.2 196.2L400.5 200.3 395.9 200.3z"/><path d="M400.2 195.3L402.5 199.4 397.9 199.4z"/><path d="M400.8 199.0L403.1 203.1 398.5 203.1z"/><path d="M401.5 202.6L403.8 206.7 399.2 206.7z"/><path d="M402.1 206.0L404.4 210.1 399.8 210.1z"/><path d="M402.8 209.3L405.1 213.4 400.5 213.4z"/><path d="M403.4 212.4L405.7 216.5 401.1 216.5z"/><path d="M404.1 215.4L406.4 219.5 401.8 219.5z"/><path d="M404.8 218.3L407.1 222.4 402.5 222.4z"/><path d="M405.4 221.0L407.7 225.1 403.1 225.1z"/><path d="M406.1 223.7L408.4 227.8 403.8 227.8z"/><path d="M406.7 226.5L409.0 230.6 404.4 230.6z"/><path d="M407.4 229.5L409.7 233.6 405.1 233.6z"/><path d="M408.0 232.5L410.3 236.6 405.7 236.6z"/><path d="M408.7 235.5L411.0 239.6 406.4 239.6z"/><path d="M409.4 238.5L411.7 242.6 407.1 242.6z"/><path d="M410.0 241.3L412.3 245.4 407.7 245.4z"/><path d="M410.7 243.8L413.0 247.9 408.4 247.9z"/><path d="M411.3 245.9L413.6 250.0 409.0 250.0z"/><path d="M412.0 247.6L414.3 251.7 409.7 251.7z"/><path d="M412.6 248.8L414.9 252.9 410.3 252.9z"/><path d="M413.3 249.3L415.6 253.4 411.0 253.4z"/><path d="M414.0 249.0L416.3 253.1 411.7 253.1z"/><path d="M414.6 247.2L416.9 251.3 412.3 251.3z"/><path d="M415.3 244.2L417.6 248.3 413.0 248.3z"/><path d="M415.9 240.3L418.2 244.4 413.6 244.4z"/><path d="M416.6 235.7L418.9 239.8 414.3 239.8z"/><path d="M417.3 230.6L419.6 234.7 415.0 234.7z"/><path d="M417.9 225.5L420.2 229.6 415.6 229.6z"/><path d="M418.6 220.3L420.9 224.4 416.3 224.4z"/><path d="M419.2 214.2L421.5 218.3 416.9 218.3z"/><path d="M419.9 206.9L422.2 211.0 417.6 211.0z"/><path d="M420.5 199.1L422.8 203.2 418.2 203.2z"/><path d="M421.2 191.4L423.5 195.5 418.9 195.5z"/><path d="M421.9 184.7L424.2 188.8 419.6 188.8z"/><path d="M422.5 179.1L424.8 183.2 420.2 183.2z"/><path d="M424.5 181.9L426.8 186.0 422.2 186.0z"/><path d="M425.1 187.5L427.4 191.6 422.8 191.6z"/><path d="M425.8 191.9L428.1 196.0 423.5 196.0z"/><path d="M426.5 195.4L428.8 199.5 424.2 199.5z"/><path d="M427.1 198.4L429.4 202.5 424.8 202.5z"/><path d="M427.8 201.0L430.1 205.1 425.5 205.1z"/><path d="M428.4 203.3L430.7 207.4 426.1 207.4z"/><path d="M429.1 205.3L431.4 209.4 426.8 209.4z"/><path d="M429.7 207.2L432.0 211.3 427.4 211.3z"/><path d="M430.4 209.1L432.7 213.2 428.1 213.2z"/><path d="M431.1 211.0L433.4 215.1 428.8 215.1z"/><path d="M431.7 212.9L434.0 217.0 429.4 217.0z"/><path d="M432.4 214.6L434.7 218.7 430.1 218.7z"/><path d="M433.0 216.3L435.3 220.4 430.7 220.4z"/><path d="M433.7 217.8L436.0 221.9 431.4 221.9z"/><path d="M434.3 219.2L436.6 223.3 432.0 223.3z"/><path d="M435.0 220.3L437.3 224.4 432.7 224.4z"/><path d="M435.7 221.1L438.0 225.2 433.4 225.2z"/><path d="M436.3 221.6L438.6 225.7 434.0 225.7z"/><path d="M437.0 221.7L439.3 225.8 434.7 225.8z"/><path d="M437.6 221.7L439.9 225.8 435.3 225.8z"/><path d="M438.3 221.5L440.6 225.6 436.0 225.6z"/><path d="M439.0 221.1L441.3 225.2 436.7 225.2z"/><path d="M439.6 220.7L441.9 224.8 437.3 224.8z"/><path d="M440.3 220.1L442.6 224.2 438.0 224.2z"/><path d="M440.9 219.4L443.2 223.5 438.6 223.5z"/><path d="M441.6 218.6L443.9 222.7 439.3 222.7z"/><path d="M442.2 217.7L444.5 221.8 439.9 221.8z"/><path d="M442.9 216.7L445.2 220.8 440.6 220.8z"/><path d="M443.6 215.0L445.9 219.1 441.3 219.1z"/><path d="M444.2 211.8L446.5 215.9 441.9 215.9z"/><path d="M444.9 207.2L447.2 211.3 442.6 211.3z"/><path d="M445.5 201.6L447.8 205.7 443.2 205.7z"/><path d="M446.2 192.5L448.5 196.6 443.9 196.6z"/><path d="M447.5 211.4L449.8 215.5 445.2 215.5z"/><path d="M448.2 225.2L450.5 229.3 445.9 229.3z"/><path d="M448.8 238.9L451.1 243.0 446.5 243.0z"/><path d="M449.5 248.7L451.8 252.8 447.2 252.8z"/><path d="M450.1 250.8L452.4 254.9 447.8 254.9z"/><path d="M450.8 249.4L453.1 253.5 448.5 253.5z"/><path d="M451.9 244.7L454.2 248.8 449.6 248.8z"/><path d="M453.1 239.1L455.4 243.2 450.8 243.2z"/><path d="M454.3 235.4L456.6 239.5 452.0 239.5z"/><path d="M455.4 233.3L457.7 237.4 453.1 237.4z"/><path d="M456.6 231.8L458.9 235.9 454.3 235.9z"/><path d="M457.7 230.3L460.0 234.4 455.4 234.4z"/><path d="M458.9 228.5L461.2 232.6 456.6 232.6z"/><path d="M460.1 226.0L462.4 230.1 457.8 230.1z"/><path d="M461.2 221.3L463.5 225.4 458.9 225.4z"/><path d="M462.4 215.8L464.7 219.9 460.1 219.9z"/><path d="M463.6 210.9L465.9 215.0 461.3 215.0z"/><path d="M464.7 206.1L467.0 210.2 462.4 210.2z"/><path d="M465.9 201.4L468.2 205.5 463.6 205.5z"/><path d="M467.0 196.9L469.3 201.0 464.7 201.0z"/><path d="M468.2 192.5L470.5 196.6 465.9 196.6z"/><path d="M469.4 188.9L471.7 193.0 467.1 193.0z"/><path d="M470.5 184.9L472.8 189.0 468.2 189.0z"/><path d="M471.7 191.8L474.0 195.9 469.4 195.9z"/><path d="M472.8 202.5L475.1 206.6 470.5 206.6z"/><path d="M474.0 211.8L476.3 215.9 471.7 215.9z"/><path d="M475.2 220.2L477.5 224.3 472.9 224.3z"/><path d="M476.3 228.0L478.6 232.1 474.0 232.1z"/><path d="M477.5 235.4L479.8 239.5 475.2 239.5z"/><path d="M478.6 243.4L480.9 247.5 476.3 247.5z"/><path d="M479.8 252.3L482.1 256.4 477.5 256.4z"/><path d="M481.0 261.1L483.3 265.2 478.7 265.2z"/><path d="M482.1 268.7L484.4 272.8 479.8 272.8z"/><path d="M483.3 274.1L485.6 278.2 481.0 278.2z"/><path d="M484.4 276.3L486.7 280.4 482.1 280.4z"/><path d="M485.6 275.0L487.9 279.1 483.3 279.1z"/><path d="M486.8 271.6L489.1 275.7 484.5 275.7z"/><path d="M487.9 266.6L490.2 270.7 485.6 270.7z"/><path d="M489.1 260.8L491.4 264.9 486.8 264.9z"/><path d="M490.2 254.9L492.5 259.0 487.9 259.0z"/><path d="M491.4 246.9L493.7 251.0 489.1 251.0z"/><path d="M492.6 237.7L494.9 241.8 490.3 241.8z"/><path d="M493.7 234.6L496.0 238.7 491.4 238.7z"/><path d="M494.9 234.1L497.2 238.2 492.6 238.2z"/><path d="M497.2 253.3L499.5 257.4 494.9 257.4z"/><path d="M498.4 260.5L500.7 264.6 496.1 264.6z"/><path d="M499.5 266.6L501.8 270.7 497.2 270.7z"/><path d="M500.7 271.9L503.0 276.0 498.4 276.0z"/><path d="M501.8 276.3L504.1 280.4 499.5 280.4z"/><path d="M503.0 279.7L505.3 283.8 500.7 283.8z"/><path d="M504.2 281.7L506.5 285.8 501.9 285.8z"/></g><g fill="#5a5aaa" stroke="#2e2d85" stroke-width="1.1"><circle cx="355.4" cy="203.7" r="2.6"/><circle cx="356.1" cy="206.9" r="2.6"/><circle cx="356.7" cy="209.7" r="2.6"/><circle cx="357.4" cy="212.4" r="2.6"/><circle cx="358.0" cy="214.9" r="2.6"/><circle cx="358.7" cy="217.3" r="2.6"/><circle cx="359.3" cy="219.7" r="2.6"/><circle cx="360.0" cy="222.1" r="2.6"/><circle cx="360.7" cy="224.6" r="2.6"/><circle cx="361.3" cy="227.1" r="2.6"/><circle cx="362.0" cy="229.6" r="2.6"/><circle cx="362.6" cy="231.9" r="2.6"/><circle cx="363.3" cy="233.9" r="2.6"/><circle cx="364.0" cy="235.6" r="2.6"/><circle cx="364.6" cy="236.9" r="2.6"/><circle cx="365.3" cy="238.2" r="2.6"/><circle cx="365.9" cy="239.4" r="2.6"/><circle cx="366.6" cy="240.4" r="2.6"/><circle cx="367.2" cy="241.3" r="2.6"/><circle cx="367.9" cy="241.8" r="2.6"/><circle cx="368.6" cy="242.0" r="2.6"/><circle cx="369.2" cy="241.8" r="2.6"/><circle cx="369.9" cy="241.1" r="2.6"/><circle cx="370.5" cy="240.1" r="2.6"/><circle cx="371.2" cy="238.7" r="2.6"/><circle cx="371.8" cy="236.9" r="2.6"/><circle cx="372.5" cy="232.5" r="2.6"/><circle cx="373.2" cy="225.9" r="2.6"/><circle cx="374.5" cy="232.0" r="2.6"/><circle cx="375.1" cy="239.0" r="2.6"/><circle cx="375.8" cy="253.3" r="2.6"/><circle cx="376.4" cy="260.1" r="2.6"/><circle cx="377.1" cy="264.6" r="2.6"/><circle cx="377.8" cy="268.3" r="2.6"/><circle cx="378.4" cy="271.2" r="2.6"/><circle cx="379.1" cy="273.5" r="2.6"/><circle cx="379.7" cy="275.4" r="2.6"/><circle cx="380.4" cy="277.0" r="2.6"/><circle cx="381.0" cy="278.5" r="2.6"/><circle cx="381.7" cy="280.0" r="2.6"/><circle cx="382.4" cy="281.4" r="2.6"/><circle cx="383.0" cy="282.6" r="2.6"/><circle cx="383.7" cy="283.8" r="2.6"/><circle cx="384.3" cy="284.7" r="2.6"/><circle cx="385.0" cy="285.4" r="2.6"/><circle cx="385.6" cy="285.9" r="2.6"/><circle cx="386.3" cy="286.1" r="2.6"/><circle cx="387.0" cy="286.0" r="2.6"/><circle cx="387.6" cy="285.8" r="2.6"/><circle cx="388.3" cy="285.5" r="2.6"/><circle cx="388.9" cy="285.1" r="2.6"/><circle cx="389.6" cy="284.6" r="2.6"/><circle cx="390.3" cy="284.0" r="2.6"/><circle cx="390.9" cy="283.4" r="2.6"/><circle cx="391.6" cy="282.6" r="2.6"/><circle cx="392.2" cy="281.7" r="2.6"/><circle cx="392.9" cy="280.0" r="2.6"/><circle cx="393.5" cy="277.2" r="2.6"/><circle cx="394.2" cy="273.7" r="2.6"/><circle cx="394.9" cy="269.7" r="2.6"/><circle cx="395.5" cy="265.6" r="2.6"/><circle cx="396.2" cy="261.8" r="2.6"/><circle cx="396.8" cy="258.2" r="2.6"/><circle cx="397.5" cy="254.3" r="2.6"/><circle cx="398.1" cy="249.5" r="2.6"/><circle cx="399.5" cy="254.6" r="2.6"/><circle cx="400.1" cy="261.6" r="2.6"/><circle cx="400.8" cy="266.8" r="2.6"/><circle cx="401.4" cy="270.2" r="2.6"/><circle cx="402.1" cy="272.7" r="2.6"/><circle cx="402.7" cy="274.7" r="2.6"/><circle cx="403.4" cy="276.5" r="2.6"/><circle cx="404.1" cy="278.6" r="2.6"/><circle cx="404.7" cy="281.1" r="2.6"/><circle cx="405.4" cy="283.8" r="2.6"/><circle cx="406.0" cy="286.6" r="2.6"/><circle cx="406.7" cy="289.5" r="2.6"/><circle cx="407.3" cy="292.5" r="2.6"/><circle cx="408.0" cy="295.3" r="2.6"/><circle cx="408.7" cy="298.1" r="2.6"/><circle cx="409.3" cy="300.6" r="2.6"/><circle cx="410.0" cy="302.8" r="2.6"/><circle cx="410.6" cy="304.7" r="2.6"/><circle cx="411.3" cy="306.2" r="2.6"/><circle cx="412.0" cy="307.1" r="2.6"/><circle cx="412.6" cy="307.5" r="2.6"/><circle cx="413.3" cy="306.8" r="2.6"/><circle cx="413.9" cy="304.6" r="2.6"/><circle cx="414.6" cy="301.4" r="2.6"/><circle cx="415.2" cy="297.5" r="2.6"/><circle cx="415.9" cy="293.1" r="2.6"/><circle cx="416.6" cy="288.7" r="2.6"/><circle cx="417.2" cy="284.5" r="2.6"/><circle cx="417.9" cy="280.7" r="2.6"/><circle cx="418.5" cy="276.7" r="2.6"/><circle cx="419.2" cy="272.5" r="2.6"/><circle cx="419.8" cy="268.1" r="2.6"/><circle cx="420.5" cy="263.2" r="2.6"/><circle cx="421.2" cy="257.9" r="2.6"/><circle cx="421.8" cy="252.0" r="2.6"/><circle cx="422.5" cy="244.6" r="2.6"/><circle cx="423.8" cy="242.0" r="2.6"/><circle cx="424.4" cy="248.1" r="2.6"/><circle cx="425.1" cy="251.8" r="2.6"/><circle cx="425.8" cy="254.1" r="2.6"/><circle cx="426.4" cy="256.1" r="2.6"/><circle cx="427.1" cy="257.9" r="2.6"/><circle cx="427.7" cy="259.4" r="2.6"/><circle cx="428.4" cy="260.7" r="2.6"/><circle cx="429.0" cy="261.8" r="2.6"/><circle cx="429.7" cy="262.9" r="2.6"/><circle cx="430.4" cy="263.9" r="2.6"/><circle cx="431.0" cy="264.9" r="2.6"/><circle cx="431.7" cy="265.9" r="2.6"/><circle cx="432.3" cy="267.0" r="2.6"/><circle cx="433.0" cy="268.2" r="2.6"/><circle cx="433.7" cy="269.4" r="2.6"/><circle cx="434.3" cy="270.7" r="2.6"/><circle cx="435.0" cy="271.9" r="2.6"/><circle cx="435.6" cy="273.0" r="2.6"/><circle cx="436.3" cy="274.0" r="2.6"/><circle cx="436.9" cy="275.0" r="2.6"/><circle cx="437.6" cy="275.7" r="2.6"/><circle cx="438.3" cy="276.2" r="2.6"/><circle cx="438.9" cy="276.6" r="2.6"/><circle cx="439.6" cy="276.6" r="2.6"/><circle cx="440.2" cy="276.1" r="2.6"/><circle cx="440.9" cy="275.2" r="2.6"/><circle cx="441.5" cy="273.9" r="2.6"/><circle cx="442.2" cy="272.3" r="2.6"/><circle cx="442.9" cy="270.3" r="2.6"/><circle cx="443.5" cy="268.1" r="2.6"/><circle cx="444.2" cy="265.8" r="2.6"/><circle cx="444.8" cy="263.4" r="2.6"/><circle cx="445.5" cy="260.7" r="2.6"/><circle cx="446.1" cy="257.2" r="2.6"/><circle cx="446.8" cy="252.6" r="2.6"/><circle cx="448.1" cy="260.7" r="2.6"/><circle cx="448.8" cy="268.3" r="2.6"/><circle cx="449.4" cy="277.7" r="2.6"/><circle cx="450.1" cy="309.6" r="2.6"/><circle cx="450.7" cy="329.3" r="2.6"/><circle cx="451.9" cy="318.5" r="2.6"/><circle cx="453.1" cy="301.8" r="2.6"/><circle cx="454.2" cy="292.1" r="2.6"/><circle cx="455.4" cy="288.7" r="2.6"/><circle cx="456.6" cy="286.5" r="2.6"/><circle cx="457.7" cy="284.2" r="2.6"/><circle cx="458.9" cy="280.7" r="2.6"/><circle cx="460.0" cy="276.1" r="2.6"/><circle cx="461.2" cy="270.8" r="2.6"/><circle cx="462.4" cy="265.1" r="2.6"/><circle cx="463.5" cy="259.2" r="2.6"/><circle cx="464.7" cy="253.4" r="2.6"/><circle cx="465.8" cy="248.0" r="2.6"/><circle cx="467.0" cy="242.9" r="2.6"/><circle cx="468.2" cy="237.3" r="2.6"/><circle cx="469.3" cy="230.7" r="2.6"/><circle cx="471.6" cy="246.1" r="2.6"/><circle cx="472.8" cy="258.6" r="2.6"/><circle cx="474.0" cy="268.9" r="2.6"/><circle cx="475.1" cy="277.8" r="2.6"/><circle cx="476.3" cy="285.6" r="2.6"/><circle cx="477.4" cy="292.7" r="2.6"/><circle cx="478.6" cy="299.0" r="2.6"/><circle cx="479.8" cy="304.6" r="2.6"/><circle cx="480.9" cy="309.6" r="2.6"/><circle cx="482.1" cy="314.6" r="2.6"/><circle cx="483.2" cy="319.7" r="2.6"/><circle cx="484.4" cy="325.4" r="2.6"/><circle cx="485.6" cy="333.1" r="2.6"/><circle cx="486.7" cy="341.3" r="2.6"/><circle cx="487.9" cy="339.4" r="2.6"/><circle cx="489.0" cy="332.2" r="2.6"/><circle cx="490.2" cy="322.4" r="2.6"/><circle cx="491.4" cy="312.0" r="2.6"/><circle cx="492.5" cy="303.5" r="2.6"/><circle cx="493.7" cy="297.1" r="2.6"/><circle cx="496.0" cy="300.5" r="2.6"/><circle cx="497.2" cy="311.0" r="2.6"/><circle cx="498.3" cy="317.8" r="2.6"/><circle cx="499.5" cy="324.2" r="2.6"/><circle cx="500.6" cy="329.8" r="2.6"/><circle cx="501.8" cy="334.6" r="2.6"/><circle cx="503.0" cy="338.3" r="2.6"/><circle cx="504.1" cy="340.7" r="2.6"/></g><path d="M352.3 46.9 352.7 48.5 353.0 50.1 353.4 51.7 353.8 53.3 354.1 54.9 354.5 56.6 354.9 58.2 355.2 59.8 355.4 60.6 355.6 61.4 356.0 63.1 356.3 64.7 356.7 66.4 357.0 68.1 357.4 69.8 357.8 71.4 358.1 73.0 358.5 74.6 358.9 76.0 359.0 76.5 359.2 77.4 359.6 78.8 360.0 80.2 360.3 81.5 360.7 82.9 361.1 84.1 361.4 85.3 361.8 86.4 362.2 87.4 362.5 88.2 362.8 88.7 362.9 88.9 363.2 89.6 363.6 90.3 364.0 90.9 364.3 91.5 364.7 92.1 365.1 92.7 365.4 93.2 365.8 93.6 366.2 94.0 366.5 94.4 366.9 94.6 367.3 94.8 367.6 94.9 367.8 94.9 368.0 94.9 368.4 94.8 368.7 94.6 369.1 94.4 369.4 94.0 369.8 93.6 370.2 93.1 370.5 92.5 370.9 91.9 371.3 91.2 371.3 91.2 371.6 89.6 372.0 86.8 372.4 83.6 372.6 81.5 372.7 80.6 373.1 77.8 373.5 73.9 373.5 73.8 373.8 66.8 373.8 66.8 374.2 75.6 374.2 76.0 374.6 80.4 374.9 84.0 375.0 85.2 375.3 89.7 375.6 97.3 376.0 104.2 376.3 107.4 376.4 107.9 376.7 110.0 377.1 111.8 377.5 113.4 377.8 114.7 378.2 115.9 378.6 116.9 378.9 117.8 379.3 118.5 379.7 119.1 380.0 119.6 380.0 119.6 380.4 120.0 380.7 120.4 381.1 120.8 381.5 121.1 381.8 121.4 382.2 121.7 382.6 121.9 382.9 122.2 383.3 122.4 383.7 122.6 384.0 122.8 384.4 123.0 384.8 123.2 385.1 123.4 385.5 123.5 385.9 123.7 386.2 123.9 386.6 124.1 386.9 124.3 387.3 124.5 387.3 124.5 387.7 124.8 388.0 125.0 388.4 125.3 388.8 125.5 389.1 125.8 389.5 126.1 389.9 126.4 390.2 126.6 390.6 126.9 391.0 127.1 391.3 127.3 391.7 127.5 392.1 127.7 392.4 127.8 392.8 127.9 393.1 128.0 393.5 128.0 393.5 128.0 393.9 127.8 394.2 127.2 394.6 126.2 395.0 124.8 395.3 123.2 395.7 121.4 396.0 119.6 396.1 119.2 396.4 114.5 396.8 107.9 397.2 102.6 397.2 102.4 397.5 99.6 397.9 97.4 398.3 95.1 398.5 92.7 398.6 91.4 398.9 87.7 399.0 88.4 399.2 91.6 399.3 92.6 399.7 94.9 400.1 96.8 400.4 98.7 400.7 99.9 400.8 100.8 401.2 103.2 401.5 105.7 401.9 108.2 402.3 110.7 402.6 113.0 403.0 115.2 403.4 117.0 403.4 117.1 403.7 118.7 404.1 120.1 404.5 121.5 404.8 122.9 405.2 124.1 405.5 125.3 405.9 126.4 406.3 127.6 406.6 128.8 407.0 130.0 407.4 131.2 407.4 131.3 407.7 132.5 408.1 134.0 408.5 135.5 408.8 137.1 409.2 138.8 409.6 140.4 409.9 142.1 410.3 143.7 410.7 145.2 411.0 146.7 411.4 148.0 411.7 149.2 412.1 150.3 412.5 151.1 412.8 151.7 413.2 152.1 413.5 152.2 413.6 152.2 413.9 151.8 414.3 150.9 414.7 149.6 415.0 147.9 415.4 145.9 415.8 143.7 416.1 141.3 416.5 138.8 416.8 136.2 417.2 133.7 417.2 133.7 417.6 130.9 417.9 127.6 418.3 124.0 418.7 120.0 419.0 116.0 419.4 112.1 419.7 109.1 419.8 108.3 420.1 104.6 420.5 100.9 420.9 97.1 421.2 93.4 421.6 89.8 421.6 89.4 422.0 86.4 422.3 83.4 422.7 79.9 423.0 76.4 423.0 75.0 423.3 69.8 423.4 70.8 423.7 77.3 423.8 78.7 424.1 82.7 424.5 85.8 424.6 87.0 424.9 89.0 425.2 92.1 425.6 95.2 426.0 98.0 426.3 100.6 426.7 102.8 427.0 104.1 427.1 104.6 427.4 106.1 427.8 107.6 428.2 109.0 428.5 110.3 428.9 111.5 429.2 112.6 429.6 113.7 430.0 114.7 430.3 115.6 430.7 116.5 431.1 117.3 431.4 118.1 431.8 118.8 431.9 119.1 432.2 119.6 432.5 120.3 432.9 121.0 433.3 121.8 433.6 122.5 434.0 123.2 434.4 123.8 434.7 124.4 435.1 124.9 435.4 125.4 435.8 125.8 436.2 126.0 436.5 126.2 436.9 126.3 436.9 126.3 437.3 126.2 437.6 126.1 438.0 125.9 438.4 125.6 438.7 125.3 439.1 124.8 439.5 124.4 439.8 123.8 440.2 123.3 440.6 122.7 440.9 122.0 441.3 121.3 441.6 120.6 441.8 120.3 442.0 119.9 442.4 118.9 442.7 117.7 443.1 116.2 443.5 114.6 443.8 112.9 444.2 111.0 444.6 109.0 444.9 106.9 445.0 106.6 445.3 104.8 445.7 102.3 446.0 99.3 446.3 96.1 446.4 95.4 446.7 90.7 446.8 91.7 447.0 104.9 447.1 106.9 447.5 113.8 447.8 119.7 447.9 121.3 448.2 129.0 448.6 140.8 448.9 149.5 449.1 150.9 449.3 150.9 449.7 150.5 450.0 149.9 450.4 149.0 450.8 147.9 451.1 146.7 451.5 145.4 451.9 144.1 452.2 142.8 452.6 141.6 452.8 141.0 452.9 140.5 453.3 139.4 453.7 138.3 454.0 137.1 454.4 136.0 454.8 135.0 455.0 134.5 455.1 134.2 455.5 133.5 455.9 132.8 456.2 132.2 456.6 131.6 457.0 131.0 457.3 130.5 457.7 130.0 458.1 129.6 458.4 129.1 458.8 128.6 459.1 128.2 459.5 127.7 459.9 127.2 460.2 126.7 460.6 126.2 461.0 125.6 461.3 124.9 461.7 124.3 462.1 123.5 462.4 122.8 462.4 122.7 462.8 121.8 463.2 120.8 463.5 119.7 463.9 118.6 464.3 117.3 464.6 116.0 465.0 114.6 465.3 113.1 465.7 111.6 466.1 110.0 466.4 108.3 466.8 106.6 467.2 104.9 467.4 103.6 467.5 103.0 467.9 101.2 468.3 99.2 468.6 97.0 469.0 94.6 469.4 91.9 469.7 89.0 469.9 87.1 470.1 85.0 470.3 83.0 470.5 85.0 470.6 88.1 470.8 90.0 471.2 93.4 471.5 96.2 471.9 98.8 472.3 101.3 472.6 103.6 472.6 103.9 473.0 106.7 473.4 109.4 473.7 112.2 474.1 114.9 474.5 117.7 474.8 120.3 475.2 123.0 475.6 125.6 475.9 128.1 476.3 130.6 476.7 133.0 477.0 135.3 477.1 136.0 477.4 137.6 477.7 139.9 478.1 142.4 478.5 144.9 478.8 147.4 479.2 150.0 479.6 152.5 479.9 155.0 480.3 157.5 480.7 159.9 481.0 162.2 481.4 164.3 481.8 166.3 482.1 168.2 482.5 169.8 482.9 171.2 483.2 172.4 483.6 173.3 483.9 174.0 484.3 174.3 484.5 174.3 484.7 174.3 485.0 173.9 485.4 173.3 485.8 172.5 486.1 171.4 486.5 170.1 486.9 168.7 487.2 167.0 487.6 165.3 488.0 163.5 488.3 161.6 488.7 159.7 489.0 157.7 489.4 155.8 489.8 153.9 490.1 152.1 490.4 150.9 490.5 150.4 490.9 148.6 491.2 146.7 491.6 144.7 492.0 142.7 492.3 140.6 492.7 138.5 493.1 136.4 493.4 134.3 493.8 132.2 494.2 130.2 494.2 130.0 494.5 128.3 494.9 126.5 495.2 124.3 495.3 123.8 495.6 119.9 495.7 119.8 496.0 128.5 496.0 129.1 496.3 135.3 496.7 140.9 497.1 145.7 497.4 150.1 497.7 153.7 497.8 154.3 498.2 158.7 498.5 162.8 498.9 166.3 499.2 168.6 499.3 168.8 499.6 170.9 500.0 172.9 500.4 174.8 500.7 176.7 501.1 178.5 501.4 180.1 501.8 181.7 502.2 183.1 502.5 184.4 502.9 185.6 503.3 186.6 503.6 187.4 504.0 188.1 504.4 188.6 504.7 188.9 505.1 189.0" fill="none" stroke="#111" stroke-width="1.6" stroke-linejoin="round"/><path d="M352.9 94.7 353.3 96.1 353.6 97.5 354.0 98.9 354.3 100.4 354.7 101.8 355.1 103.3 355.4 104.8 355.8 106.3 356.2 107.9 356.5 109.4 356.6 109.6 356.9 111.0 357.2 112.7 357.6 114.5 358.0 116.3 358.3 118.1 358.7 119.9 359.1 121.6 359.4 123.2 359.8 124.8 360.2 126.2 360.3 126.8 360.5 127.5 360.9 128.7 361.2 129.9 361.6 131.1 362.0 132.3 362.3 133.4 362.7 134.5 363.1 135.5 363.4 136.5 363.8 137.4 364.1 138.2 364.5 139.0 364.9 139.7 365.2 140.2 365.2 140.3 365.6 140.9 366.0 141.5 366.3 142.0 366.7 142.6 367.1 143.1 367.4 143.5 367.8 143.9 368.1 144.2 368.5 144.4 368.9 144.4 368.9 144.4 369.2 144.4 369.6 144.1 370.0 143.5 370.3 142.8 370.7 141.9 371.1 140.7 371.4 139.4 371.8 138.0 371.8 137.7 372.1 135.8 372.5 131.8 372.9 126.5 373.0 125.0 373.2 117.7 373.3 116.8 373.6 125.0 373.7 126.8 374.0 132.5 374.3 138.2 374.7 142.9 375.0 146.4 375.0 146.8 375.4 150.4 375.8 153.7 376.1 156.7 376.5 159.1 376.9 160.8 377.0 161.1 377.2 161.7 377.6 162.5 378.0 163.2 378.3 163.9 378.7 164.5 379.0 165.1 379.4 165.6 379.8 166.1 380.1 166.5 380.5 166.9 380.9 167.2 381.2 167.6 381.6 167.9 381.9 168.2 382.3 168.5 382.7 168.8 383.0 169.1 383.4 169.4 383.8 169.7 384.1 170.1 384.5 170.4 384.9 170.8 384.9 170.8 385.2 171.2 385.6 171.7 385.9 172.1 386.3 172.6 386.7 173.1 387.0 173.6 387.4 174.1 387.8 174.6 388.1 175.1 388.5 175.5 388.9 176.0 389.2 176.4 389.6 176.8 389.9 177.2 390.3 177.5 390.7 177.8 391.0 178.0 391.4 178.2 391.8 178.3 392.1 178.3 392.1 178.3 392.5 178.2 392.8 177.8 393.2 177.1 393.6 176.3 393.9 175.2 394.3 174.0 394.7 172.6 395.0 171.0 395.4 169.4 395.8 167.7 396.0 166.3 396.1 165.8 396.5 163.4 396.8 160.4 397.2 156.8 397.6 152.6 397.9 147.9 398.3 142.9 398.7 137.5 398.8 135.9 399.0 129.9 399.1 129.0 399.4 138.4 399.5 140.6 399.7 144.7 400.0 146.9 400.1 147.8 400.5 150.4 400.8 152.9 401.2 155.1 401.6 157.2 401.9 159.2 402.3 161.0 402.7 162.7 403.0 164.3 403.4 165.9 403.7 167.3 404.1 168.7 404.5 170.1 404.8 171.5 405.2 172.9 405.6 174.3 405.9 175.7 406.1 176.3 406.3 177.2 406.7 178.8 407.0 180.4 407.4 182.0 407.7 183.7 408.1 185.4 408.5 187.1 408.8 188.8 409.2 190.4 409.6 192.0 409.9 193.6 410.3 195.0 410.6 196.4 411.0 197.7 411.4 198.8 411.7 199.8 412.1 200.7 412.5 201.3 412.8 201.8 413.2 202.1 413.5 202.2 413.6 202.2 413.9 201.9 414.3 201.1 414.6 199.9 415.0 198.4 415.4 196.5 415.7 194.3 416.1 191.9 416.5 189.4 416.8 186.6 417.2 183.8 417.5 180.9 417.9 178.0 418.3 175.2 418.5 173.8 418.6 172.3 419.0 169.0 419.4 165.2 419.7 161.2 420.1 157.0 420.5 152.6 420.8 148.3 421.2 144.2 421.5 140.3 421.6 139.5 421.9 136.8 422.3 133.8 422.6 130.5 423.0 126.4 423.0 126.1 423.3 119.8 423.4 119.9 423.7 124.9 423.7 125.5 424.1 129.2 424.4 132.5 424.8 135.4 425.2 138.0 425.5 140.4 425.8 142.0 425.9 142.6 426.3 144.7 426.6 146.7 427.0 148.6 427.4 150.5 427.7 152.2 428.1 153.8 428.4 155.3 428.8 156.7 429.2 158.0 429.5 159.1 429.5 159.2 429.9 160.3 430.3 161.4 430.6 162.6 431.0 163.7 431.4 164.8 431.7 165.9 432.1 166.9 432.4 167.9 432.8 168.9 433.2 169.8 433.5 170.7 433.9 171.5 434.3 172.3 434.6 172.9 435.0 173.5 435.3 174.0 435.7 174.4 436.1 174.8 436.4 175.0 436.8 175.1 436.9 175.1 437.2 175.0 437.5 175.0 437.9 174.9 438.3 174.7 438.6 174.6 439.0 174.3 439.3 174.1 439.7 173.7 440.1 173.4 440.4 173.0 440.8 172.6 441.2 172.1 441.5 171.6 441.9 171.0 442.2 170.4 442.6 169.8 443.0 169.2 443.0 169.1 443.3 168.2 443.7 166.8 444.1 164.9 444.4 162.7 444.8 160.1 445.2 157.2 445.5 154.2 445.5 154.2 445.9 150.7 446.2 145.8 446.3 144.2 446.6 135.5 446.7 134.5 447.0 149.7 447.0 152.7 447.3 161.1 447.7 168.5 447.8 171.3 448.1 175.6 448.4 183.2 448.8 190.7 449.2 197.1 449.5 201.6 449.9 203.4 449.9 203.4 450.2 203.2 450.6 202.5 451.0 201.3 451.3 199.9 451.7 198.3 452.1 196.5 452.4 194.7 452.8 192.9 453.1 191.3 453.5 189.9 453.9 188.8 454.0 188.5 454.2 188.1 454.6 187.5 455.0 187.0 455.3 186.6 455.7 186.1 456.1 185.8 456.4 185.4 456.8 185.1 457.1 184.8 457.5 184.4 457.9 184.1 458.2 183.7 458.6 183.3 459.0 182.9 459.3 182.4 459.7 181.8 460.0 181.3 460.0 181.2 460.4 180.4 460.8 179.4 461.1 178.4 461.5 177.2 461.9 175.9 462.2 174.5 462.6 173.1 463.0 171.6 463.3 170.2 463.7 168.7 463.8 168.3 464.0 167.3 464.4 166.0 464.8 164.6 465.1 163.2 465.5 161.8 465.9 160.4 466.2 158.8 466.6 157.2 467.0 155.5 467.3 153.6 467.7 151.6 468.0 149.4 468.3 147.7 468.4 147.0 468.8 144.2 469.1 140.9 469.5 136.9 469.9 132.2 469.9 131.1 470.2 124.7 470.3 124.3 470.6 131.9 470.6 133.0 470.9 138.6 471.3 144.3 471.7 149.3 472.0 153.6 472.4 157.5 472.6 159.4 472.8 160.8 473.1 163.9 473.5 166.8 473.9 169.5 474.2 172.0 474.6 174.3 474.9 176.6 475.3 178.7 475.7 180.8 476.0 182.8 476.4 184.8 476.8 186.9 477.1 189.0 477.1 189.0 477.5 191.2 477.8 193.5 478.2 195.9 478.6 198.3 478.9 200.9 479.3 203.4 479.7 205.9 480.0 208.4 480.4 210.9 480.8 213.2 481.1 215.5 481.5 217.7 481.8 219.6 482.2 221.5 482.6 223.1 482.9 224.5 483.3 225.6 483.7 226.5 484.0 227.1 484.4 227.3 484.5 227.3 484.8 227.3 485.1 227.0 485.5 226.4 485.8 225.7 486.2 224.8 486.6 223.7 486.9 222.4 487.3 221.1 487.7 219.6 488.0 218.0 488.4 216.4 488.7 214.6 489.1 212.9 489.5 211.1 489.8 209.4 490.2 207.6 490.4 206.7 490.6 205.8 490.9 203.6 491.3 201.0 491.7 198.1 492.0 195.3 492.4 192.6 492.7 190.2 493.1 188.3 493.3 187.5 493.5 187.0 493.8 186.0 494.2 185.3 494.6 184.6 494.9 183.6 495.1 183.1 495.3 182.0 495.4 181.5 495.6 185.5 495.8 188.1 496.0 191.4 496.4 196.0 496.7 200.0 497.1 203.5 497.5 206.3 497.7 208.2 497.8 208.7 498.2 210.8 498.6 212.8 498.9 214.9 499.3 216.8 499.6 218.7 500.0 220.6 500.4 222.3 500.7 224.0 501.1 225.6 501.5 227.0 501.8 228.4 502.2 229.7 502.6 230.8 502.9 231.8 503.3 232.7 503.6 233.4 504.0 234.0 504.4 234.4 504.7 234.7 505.1 234.8" fill="none" stroke="#111" stroke-width="1.6" stroke-linejoin="round"/><path d="M353.4 142.2 353.8 144.6 354.1 147.0 354.5 149.3 354.8 151.5 355.2 153.6 355.4 154.7 355.6 155.5 355.9 157.4 356.3 159.3 356.6 161.1 357.0 162.9 357.4 164.6 357.7 166.2 358.1 167.8 358.5 169.3 358.8 170.7 359.1 171.8 359.2 172.1 359.5 173.4 359.9 174.7 360.3 175.9 360.6 177.2 361.0 178.4 361.4 179.5 361.7 180.6 362.1 181.7 362.4 182.7 362.8 183.7 363.2 184.6 363.5 185.5 363.9 186.3 364.0 186.5 364.3 187.1 364.6 187.9 365.0 188.7 365.3 189.5 365.7 190.2 366.1 191.0 366.4 191.7 366.8 192.4 367.1 193.0 367.5 193.5 367.9 193.9 368.2 194.2 368.6 194.4 368.9 194.5 369.0 194.5 369.3 194.3 369.7 194.0 370.0 193.4 370.4 192.7 370.8 191.7 371.1 190.5 371.5 189.2 371.8 187.8 371.9 187.7 372.2 184.8 372.6 180.0 372.9 173.9 373.0 173.5 373.3 164.4 373.3 164.4 373.7 173.4 373.7 173.6 374.0 179.6 374.4 184.6 374.8 188.7 375.0 191.2 375.1 192.2 375.5 195.6 375.8 198.8 376.2 201.8 376.6 204.4 376.9 206.5 377.3 208.1 377.4 208.7 377.6 209.2 378.0 210.1 378.4 211.0 378.7 211.7 379.1 212.4 379.5 213.1 379.8 213.7 380.2 214.3 380.5 214.8 380.9 215.2 381.3 215.7 381.6 216.1 382.0 216.5 382.4 216.9 382.7 217.3 383.1 217.7 383.4 218.0 383.8 218.4 384.2 218.8 384.5 219.2 384.9 219.6 384.9 219.6 385.3 220.1 385.6 220.6 386.0 221.0 386.3 221.5 386.7 222.0 387.1 222.5 387.4 223.0 387.8 223.5 388.1 224.0 388.5 224.4 388.9 224.9 389.2 225.3 389.6 225.7 390.0 226.0 390.3 226.3 390.7 226.6 391.0 226.8 391.4 226.9 391.8 227.0 392.1 227.1 392.1 227.1 392.5 227.0 392.9 226.6 393.2 226.0 393.6 225.2 393.9 224.2 394.3 223.0 394.7 221.7 395.0 220.3 395.4 218.8 395.8 217.3 396.0 216.1 396.1 215.7 396.5 213.7 396.8 211.3 397.2 208.4 397.6 205.1 397.9 201.5 398.3 197.6 398.6 193.4 398.8 192.0 399.0 187.4 399.1 186.5 399.4 191.7 399.5 193.3 399.7 195.4 400.0 197.0 400.1 197.5 400.5 199.6 400.8 201.7 401.2 203.7 401.5 205.6 401.9 207.5 402.3 209.3 402.6 211.1 403.0 212.9 403.4 214.6 403.7 216.3 404.1 217.9 404.4 219.5 404.8 221.1 405.2 222.6 405.5 224.1 405.9 225.6 406.1 226.3 406.3 227.1 406.6 228.6 407.0 230.2 407.3 231.8 407.7 233.5 408.1 235.2 408.4 236.9 408.8 238.5 409.1 240.2 409.5 241.7 409.9 243.3 410.2 244.7 410.6 246.1 411.0 247.3 411.3 248.5 411.7 249.5 412.0 250.3 412.4 251.0 412.8 251.5 413.1 251.9 413.5 252.0 413.5 252.0 413.9 251.7 414.2 251.0 414.6 249.9 414.9 248.5 415.3 246.7 415.7 244.6 416.0 242.3 416.4 239.8 416.8 237.1 417.1 234.3 417.5 231.5 417.8 228.6 418.2 225.8 418.5 223.8 418.6 223.0 418.9 219.8 419.3 216.1 419.6 212.2 420.0 208.0 420.4 203.7 420.7 199.4 421.1 195.2 421.5 191.2 421.6 189.5 421.8 187.6 422.2 184.6 422.5 181.4 422.9 177.4 423.0 176.5 423.3 170.2 423.3 169.8 423.6 174.9 423.7 175.6 424.0 179.3 424.4 183.2 424.7 186.6 425.1 189.6 425.4 192.3 425.8 194.5 425.8 194.5 426.2 196.5 426.5 198.3 426.9 200.0 427.3 201.5 427.6 203.0 428.0 204.3 428.3 205.6 428.7 206.8 429.1 207.9 429.4 208.9 429.5 209.2 429.8 209.9 430.1 211.0 430.5 212.0 430.9 213.0 431.2 214.1 431.6 215.1 432.0 216.1 432.3 217.1 432.7 218.0 433.0 218.9 433.4 219.8 433.8 220.6 434.1 221.4 434.5 222.0 434.9 222.6 435.2 223.2 435.6 223.6 435.9 223.9 436.3 224.2 436.7 224.3 436.9 224.3 437.0 224.3 437.4 224.3 437.8 224.2 438.1 224.1 438.5 224.0 438.8 223.8 439.2 223.6 439.6 223.3 439.9 223.0 440.3 222.7 440.6 222.3 441.0 221.9 441.4 221.5 441.7 221.0 442.1 220.5 442.5 220.0 442.8 219.4 443.0 219.1 443.2 218.8 443.5 217.7 443.9 216.1 444.3 214.0 444.6 211.6 445.0 208.8 445.4 205.7 445.5 204.2 445.7 202.2 446.1 197.0 446.3 191.9 446.4 188.3 446.7 179.8 446.8 184.1 447.0 200.4 447.2 204.9 447.5 214.6 447.8 221.4 447.9 222.2 448.3 229.9 448.6 237.5 449.0 244.4 449.3 249.8 449.7 253.0 449.9 253.5 450.1 253.4 450.4 252.9 450.8 252.0 451.1 250.8 451.5 249.3 451.9 247.6 452.2 245.9 452.6 244.1 453.0 242.4 453.3 240.8 453.7 239.5 454.0 238.5 454.0 238.5 454.4 237.7 454.8 237.0 455.1 236.4 455.5 235.8 455.9 235.3 456.2 234.9 456.6 234.4 456.9 233.9 457.3 233.5 457.7 233.0 458.0 232.5 458.4 232.0 458.7 231.4 459.1 230.8 459.5 230.0 459.8 229.2 460.0 228.8 460.2 228.2 460.6 226.9 460.9 225.4 461.3 223.6 461.6 221.8 462.0 220.1 462.4 218.5 462.4 218.4 462.7 216.9 463.1 215.4 463.5 213.9 463.8 212.4 464.2 210.9 464.5 209.4 464.9 207.9 465.3 206.4 465.6 205.0 466.0 203.5 466.4 202.1 466.7 200.7 467.1 199.3 467.4 197.9 467.8 196.6 468.2 195.3 468.3 194.7 468.5 194.0 468.9 192.8 469.2 191.8 469.6 190.7 470.0 189.6 470.3 188.2 470.7 186.7 470.7 186.7 471.1 184.5 471.1 184.5 471.4 191.0 471.4 191.3 471.8 195.7 472.1 199.3 472.5 202.5 472.9 205.4 473.0 206.4 473.2 208.4 473.6 211.3 474.0 214.1 474.3 216.8 474.7 219.5 475.0 222.0 475.4 224.5 475.8 227.0 476.1 229.3 476.5 231.7 476.9 234.0 477.2 236.4 477.6 238.7 477.6 239.0 477.9 241.1 478.3 243.6 478.7 246.2 479.0 249.0 479.4 251.8 479.7 254.6 480.1 257.4 480.5 260.1 480.8 262.8 481.2 265.4 481.6 267.9 481.9 270.2 482.3 272.3 482.6 274.1 483.0 275.7 483.4 277.0 483.7 278.0 484.1 278.6 484.5 278.9 484.5 278.9 484.8 278.7 485.2 278.4 485.5 277.7 485.9 276.9 486.3 275.9 486.6 274.7 487.0 273.3 487.4 271.8 487.7 270.2 488.1 268.5 488.4 266.7 488.8 264.9 489.2 263.0 489.5 261.1 489.9 259.3 490.2 257.4 490.4 256.7 490.6 255.5 491.0 253.0 491.3 250.1 491.7 246.9 492.1 243.9 492.4 241.2 492.8 239.1 493.1 237.8 493.3 237.5 493.5 237.3 493.9 237.1 494.2 236.9 494.6 236.8 495.0 236.6 495.3 236.4 495.3 236.4 495.7 236.0 495.7 236.1 496.0 242.5 496.0 243.1 496.4 247.7 496.8 251.8 497.1 255.3 497.5 258.1 497.7 259.7 497.9 260.3 498.2 262.3 498.6 264.3 498.9 266.2 499.3 268.0 499.7 269.8 500.0 271.6 500.4 273.2 500.7 274.8 501.1 276.3 501.5 277.6 501.8 278.9 502.2 280.1 502.6 281.1 502.9 282.1 503.3 282.9 503.6 283.6 504.0 284.1 504.4 284.5 504.7 284.7 505.1 284.8" fill="none" stroke="#111" stroke-width="1.6" stroke-linejoin="round"/><path d="M353.3 190.2 353.7 192.8 354.0 195.4 354.4 197.8 354.8 200.1 355.1 202.2 355.4 203.7 355.5 204.1 355.9 205.9 356.2 207.6 356.6 209.2 356.9 210.7 357.3 212.1 357.7 213.5 358.0 214.9 358.4 216.2 358.8 217.5 359.1 218.8 359.5 220.2 359.8 221.4 359.8 221.5 360.2 222.8 360.6 224.2 360.9 225.6 361.3 227.0 361.7 228.4 362.0 229.7 362.4 231.0 362.7 232.2 363.1 233.4 363.5 234.4 363.8 235.3 364.2 236.0 364.2 236.1 364.6 236.8 364.9 237.5 365.3 238.2 365.6 238.9 366.0 239.5 366.4 240.1 366.7 240.6 367.1 241.1 367.5 241.5 367.8 241.8 368.2 242.0 368.5 242.0 368.6 242.0 368.9 241.9 369.3 241.7 369.6 241.4 370.0 240.9 370.4 240.4 370.7 239.7 371.1 238.9 371.4 238.0 371.6 237.5 371.8 237.0 372.2 235.0 372.5 232.2 372.9 228.7 373.3 224.7 373.3 223.7 373.6 218.8 373.7 218.4 374.0 225.4 374.0 226.7 374.4 230.7 374.7 234.3 375.1 238.3 375.1 239.0 375.4 245.3 375.8 253.6 376.0 256.7 376.2 257.9 376.5 260.8 376.9 263.3 377.3 265.5 377.6 267.5 378.0 269.3 378.3 270.8 378.7 272.2 379.1 273.4 379.4 274.5 379.8 275.5 380.2 276.4 380.5 277.3 380.5 277.4 380.9 278.1 381.2 279.0 381.6 279.8 382.0 280.5 382.3 281.3 382.7 282.0 383.1 282.7 383.4 283.3 383.8 283.9 384.1 284.5 384.5 284.9 384.9 285.3 385.2 285.6 385.6 285.9 386.0 286.0 386.3 286.1 386.3 286.1 386.7 286.1 387.0 286.0 387.4 285.9 387.8 285.8 388.1 285.6 388.5 285.4 388.9 285.2 389.2 284.9 389.6 284.7 389.9 284.3 390.3 284.0 390.7 283.6 391.0 283.2 391.4 282.8 391.8 282.3 392.1 281.9 392.1 281.8 392.5 281.2 392.8 280.1 393.2 278.7 393.6 277.1 393.9 275.2 394.3 273.1 394.7 270.9 395.0 268.6 395.4 266.4 395.7 264.2 396.0 262.7 396.1 262.1 396.5 260.1 396.8 258.1 397.2 256.1 397.6 253.8 397.9 251.2 398.3 248.3 398.4 247.6 398.7 243.9 398.7 243.5 399.0 248.7 399.1 249.7 399.4 253.6 399.7 257.8 400.1 261.5 400.5 264.6 400.8 267.2 401.0 268.4 401.2 269.1 401.6 270.7 401.9 272.1 402.3 273.3 402.6 274.4 403.0 275.4 403.4 276.4 403.7 277.5 403.9 278.1 404.1 278.7 404.5 280.1 404.8 281.5 405.2 282.9 405.5 284.5 405.9 286.0 406.3 287.6 406.6 289.2 407.0 290.9 407.4 292.5 407.7 294.1 408.1 295.7 408.4 297.2 408.8 298.6 409.2 300.0 409.5 301.4 409.9 302.6 410.3 303.7 410.6 304.7 411.0 305.6 411.3 306.3 411.7 306.8 412.1 307.2 412.4 307.4 412.6 307.5 412.8 307.4 413.2 307.0 413.5 306.1 413.9 304.8 414.2 303.2 414.6 301.3 415.0 299.2 415.3 296.9 415.7 294.5 416.1 292.0 416.4 289.6 416.8 287.2 417.1 284.9 417.3 284.1 417.5 282.8 417.9 280.6 418.2 278.5 418.6 276.3 419.0 274.0 419.3 271.6 419.7 269.2 420.1 266.6 420.4 263.9 420.8 261.1 421.1 258.0 421.5 254.9 421.5 254.5 421.9 251.5 422.2 247.7 422.6 242.9 422.7 240.5 423.0 234.6 423.1 232.3 423.3 235.7 423.4 238.0 423.7 240.8 424.0 244.6 424.4 247.8 424.8 250.2 425.0 251.5 425.1 251.9 425.5 253.2 425.9 254.4 426.2 255.6 426.6 256.6 426.9 257.5 427.3 258.4 427.7 259.2 428.0 260.0 428.4 260.7 428.8 261.3 429.1 261.9 429.5 262.5 429.8 263.1 430.2 263.6 430.6 264.2 430.9 264.7 431.3 265.3 431.7 265.9 432.0 266.4 432.0 266.5 432.4 267.1 432.7 267.7 433.1 268.4 433.5 269.1 433.8 269.8 434.2 270.4 434.6 271.1 434.9 271.8 435.3 272.4 435.6 273.0 436.0 273.6 436.4 274.2 436.7 274.7 437.1 275.1 437.5 275.6 437.8 275.9 438.2 276.2 438.5 276.4 438.9 276.6 439.3 276.6 439.3 276.6 439.6 276.6 440.0 276.3 440.4 276.0 440.7 275.5 441.1 274.9 441.5 274.1 441.8 273.3 442.2 272.3 442.5 271.3 442.9 270.2 443.3 269.0 443.6 267.8 444.0 266.5 444.4 265.1 444.7 263.8 445.1 262.4 445.1 262.2 445.4 260.9 445.8 259.1 446.2 257.0 446.5 254.6 446.9 251.8 447.1 250.0 447.3 248.1 447.5 246.0 447.6 249.2 447.8 255.5 448.0 258.6 448.3 263.6 448.7 267.6 449.1 271.8 449.4 277.7 449.6 281.1 449.8 289.7 450.2 313.9 450.5 329.5 450.6 329.6 450.9 328.8 451.2 326.3 451.6 322.5 452.0 317.7 452.3 312.4 452.7 307.0 453.1 301.9 453.4 297.5 453.8 294.2 454.0 292.8 454.1 292.4 454.5 291.1 454.9 290.0 455.2 289.1 455.6 288.3 456.0 287.6 456.3 286.9 456.7 286.3 457.0 285.6 457.4 284.8 457.8 284.0 458.1 283.0 458.3 282.6 458.5 281.9 458.9 280.7 459.2 279.4 459.6 277.9 459.9 276.4 460.3 274.9 460.7 273.2 461.0 271.5 461.4 269.8 461.8 268.0 462.1 266.2 462.5 264.4 462.9 262.5 463.2 260.7 463.6 258.9 463.9 257.0 464.3 255.2 464.7 253.4 464.7 253.2 465.0 251.7 465.4 250.0 465.8 248.4 466.1 246.8 466.5 245.2 466.8 243.6 467.2 241.9 467.6 240.2 467.9 238.4 468.3 236.6 468.7 234.6 469.0 232.5 469.4 230.3 469.7 228.0 469.9 226.7 470.1 224.9 470.3 223.6 470.5 227.1 470.6 231.4 470.8 234.7 471.2 240.2 471.6 245.1 471.9 249.5 472.3 253.5 472.6 257.1 473.0 260.4 473.0 260.6 473.4 263.9 473.7 267.0 474.1 270.0 474.5 272.9 474.8 275.6 475.2 278.3 475.5 280.8 475.9 283.2 476.3 285.6 476.6 287.8 477.0 290.0 477.4 292.2 477.6 293.8 477.7 294.3 478.1 296.3 478.4 298.3 478.8 300.1 479.2 301.9 479.5 303.6 479.9 305.2 480.3 306.8 480.6 308.4 481.0 309.9 481.3 311.4 481.7 313.0 482.1 314.5 482.4 316.1 482.8 317.7 483.2 319.3 483.5 321.0 483.9 322.8 484.3 324.6 484.6 326.6 485.0 328.6 485.0 328.6 485.3 331.2 485.7 334.3 486.1 337.5 486.4 340.0 486.8 341.5 486.9 341.6 487.2 341.4 487.5 340.7 487.9 339.4 488.2 337.6 488.6 335.4 489.0 332.8 489.3 330.0 489.7 326.9 490.1 323.7 490.4 320.4 490.8 317.1 491.1 313.9 491.5 310.8 491.9 308.0 492.2 305.4 492.3 304.7 492.6 303.1 493.0 301.1 493.3 299.2 493.7 297.2 494.0 295.0 494.4 292.5 494.7 290.2 494.8 289.3 495.0 286.3 495.1 287.2 495.4 292.7 495.5 294.2 495.9 298.8 496.2 302.9 496.6 306.4 496.9 309.4 497.3 311.9 497.4 312.2 497.7 314.0 498.0 316.2 498.4 318.2 498.8 320.3 499.1 322.2 499.5 324.2 499.8 326.0 500.2 327.8 500.6 329.5 500.9 331.1 501.3 332.7 501.7 334.1 502.0 335.4 502.4 336.6 502.7 337.7 503.1 338.7 503.5 339.6 503.8 340.3 504.2 340.8 504.6 341.2 504.9 341.5 505.3 341.6" fill="none" stroke="#111" stroke-width="1.6" stroke-linejoin="round"/><path d="M485.3 344V366M487.3 344V366" stroke="#4a50b0" stroke-width="0.9"/><rect x="349.6" y="17" width="174.0" height="349.1" fill="none" stroke="#111" stroke-width="1.3"/><path d="M388.3 17v6.5M388.3 366.1v-6.3M427.0 17v6.5M427.0 366.1v-6.3M465.6 17v6.5M465.6 366.1v-6.3M504.3 17v6.5M504.3 366.1v-6.3M349.6 365.5h7M523.6 365.5h-7M349.6 358.0h3.2M523.6 358.0h-3.2M349.6 353.6h3.2M523.6 353.6h-3.2M349.6 350.5h3.2M523.6 350.5h-3.2M349.6 348.1h3.2M523.6 348.1h-3.2M349.6 346.1h3.2M523.6 346.1h-3.2M349.6 344.4h3.2M523.6 344.4h-3.2M349.6 343.0h3.2M523.6 343.0h-3.2M349.6 341.7h3.2M523.6 341.7h-3.2M349.6 340.6h7M523.6 340.6h-7M349.6 333.1h3.2M523.6 333.1h-3.2M349.6 328.7h3.2M523.6 328.7h-3.2M349.6 325.6h3.2M523.6 325.6h-3.2M349.6 323.2h3.2M523.6 323.2h-3.2M349.6 321.2h3.2M523.6 321.2h-3.2M349.6 319.5h3.2M523.6 319.5h-3.2M349.6 318.1h3.2M523.6 318.1h-3.2M349.6 316.8h3.2M523.6 316.8h-3.2M349.6 315.7h7M523.6 315.7h-7M349.6 308.2h3.2M523.6 308.2h-3.2M349.6 303.8h3.2M523.6 303.8h-3.2M349.6 300.7h3.2M523.6 300.7h-3.2M349.6 298.3h3.2M523.6 298.3h-3.2M349.6 296.3h3.2M523.6 296.3h-3.2M349.6 294.7h3.2M523.6 294.7h-3.2M349.6 293.2h3.2M523.6 293.2h-3.2M349.6 291.9h3.2M523.6 291.9h-3.2M349.6 290.8h7M523.6 290.8h-7M349.6 283.3h3.2M523.6 283.3h-3.2M349.6 278.9h3.2M523.6 278.9h-3.2M349.6 275.8h3.2M523.6 275.8h-3.2M349.6 273.4h3.2M523.6 273.4h-3.2M349.6 271.4h3.2M523.6 271.4h-3.2M349.6 269.8h3.2M523.6 269.8h-3.2M349.6 268.3h3.2M523.6 268.3h-3.2M349.6 267.0h3.2M523.6 267.0h-3.2M349.6 265.9h7M523.6 265.9h-7M349.6 258.4h3.2M523.6 258.4h-3.2M349.6 254.0h3.2M523.6 254.0h-3.2M349.6 250.9h3.2M523.6 250.9h-3.2M349.6 248.5h3.2M523.6 248.5h-3.2M349.6 246.5h3.2M523.6 246.5h-3.2M349.6 244.9h3.2M523.6 244.9h-3.2M349.6 243.4h3.2M523.6 243.4h-3.2M349.6 242.2h3.2M523.6 242.2h-3.2M349.6 241.0h7M523.6 241.0h-7M349.6 233.5h3.2M523.6 233.5h-3.2M349.6 229.1h3.2M523.6 229.1h-3.2M349.6 226.0h3.2M523.6 226.0h-3.2M349.6 223.6h3.2M523.6 223.6h-3.2M349.6 221.7h3.2M523.6 221.7h-3.2M349.6 220.0h3.2M523.6 220.0h-3.2M349.6 218.5h3.2M523.6 218.5h-3.2M349.6 217.3h3.2M523.6 217.3h-3.2M349.6 216.1h7M523.6 216.1h-7M349.6 208.6h3.2M523.6 208.6h-3.2M349.6 204.3h3.2M523.6 204.3h-3.2M349.6 201.1h3.2M523.6 201.1h-3.2M349.6 198.7h3.2M523.6 198.7h-3.2M349.6 196.8h3.2M523.6 196.8h-3.2M349.6 195.1h3.2M523.6 195.1h-3.2M349.6 193.7h3.2M523.6 193.7h-3.2M349.6 192.4h3.2M523.6 192.4h-3.2M349.6 191.2h7M523.6 191.2h-7M349.6 183.7h3.2M523.6 183.7h-3.2M349.6 179.4h3.2M523.6 179.4h-3.2M349.6 176.3h3.2M523.6 176.3h-3.2M349.6 173.8h3.2M523.6 173.8h-3.2M349.6 171.9h3.2M523.6 171.9h-3.2M349.6 170.2h3.2M523.6 170.2h-3.2M349.6 168.8h3.2M523.6 168.8h-3.2M349.6 167.5h3.2M523.6 167.5h-3.2M349.6 166.3h7M523.6 166.3h-7M349.6 158.9h3.2M523.6 158.9h-3.2M349.6 154.5h3.2M523.6 154.5h-3.2M349.6 151.4h3.2M523.6 151.4h-3.2M349.6 149.0h3.2M523.6 149.0h-3.2M349.6 147.0h3.2M523.6 147.0h-3.2M349.6 145.3h3.2M523.6 145.3h-3.2M349.6 143.9h3.2M523.6 143.9h-3.2M349.6 142.6h3.2M523.6 142.6h-3.2M349.6 141.5h7M523.6 141.5h-7M349.6 134.0h3.2M523.6 134.0h-3.2M349.6 129.6h3.2M523.6 129.6h-3.2M349.6 126.5h3.2M523.6 126.5h-3.2M349.6 124.1h3.2M523.6 124.1h-3.2M349.6 122.1h3.2M523.6 122.1h-3.2M349.6 120.4h3.2M523.6 120.4h-3.2M349.6 119.0h3.2M523.6 119.0h-3.2M349.6 117.7h3.2M523.6 117.7h-3.2M349.6 116.6h7M523.6 116.6h-7M349.6 109.1h3.2M523.6 109.1h-3.2M349.6 104.7h3.2M523.6 104.7h-3.2M349.6 101.6h3.2M523.6 101.6h-3.2M349.6 99.2h3.2M523.6 99.2h-3.2M349.6 97.2h3.2M523.6 97.2h-3.2M349.6 95.5h3.2M523.6 95.5h-3.2M349.6 94.1h3.2M523.6 94.1h-3.2M349.6 92.8h3.2M523.6 92.8h-3.2M349.6 91.7h7M523.6 91.7h-7M349.6 84.2h3.2M523.6 84.2h-3.2M349.6 79.8h3.2M523.6 79.8h-3.2M349.6 76.7h3.2M523.6 76.7h-3.2M349.6 74.3h3.2M523.6 74.3h-3.2M349.6 72.3h3.2M523.6 72.3h-3.2M349.6 70.6h3.2M523.6 70.6h-3.2M349.6 69.2h3.2M523.6 69.2h-3.2M349.6 67.9h3.2M523.6 67.9h-3.2M349.6 66.8h7M523.6 66.8h-7M349.6 59.3h3.2M523.6 59.3h-3.2M349.6 54.9h3.2M523.6 54.9h-3.2M349.6 51.8h3.2M523.6 51.8h-3.2M349.6 49.4h3.2M523.6 49.4h-3.2M349.6 47.4h3.2M523.6 47.4h-3.2M349.6 45.8h3.2M523.6 45.8h-3.2M349.6 44.3h3.2M523.6 44.3h-3.2M349.6 43.0h3.2M523.6 43.0h-3.2M349.6 41.9h7M523.6 41.9h-7M349.6 34.4h3.2M523.6 34.4h-3.2M349.6 30.0h3.2M523.6 30.0h-3.2M349.6 26.9h3.2M523.6 26.9h-3.2M349.6 24.5h3.2M523.6 24.5h-3.2M349.6 22.5h3.2M523.6 22.5h-3.2M349.6 20.9h3.2M523.6 20.9h-3.2M349.6 19.4h3.2M523.6 19.4h-3.2M349.6 18.1h3.2M523.6 18.1h-3.2" stroke="#111" stroke-width="0.9" fill="none"/><text x="346.3" y="47.7" font-size="10.8" text-anchor="end" fill="#1e1e1e">10<tspan font-size="7.4" dy="-5.5">0</tspan></text><text x="346.3" y="97.5" font-size="10.8" text-anchor="end" fill="#1e1e1e">10<tspan font-size="7.4" dy="-5.5">-2</tspan></text><text x="346.3" y="147.3" font-size="10.8" text-anchor="end" fill="#1e1e1e">10<tspan font-size="7.4" dy="-5.5">-4</tspan></text><text x="346.3" y="197.0" font-size="10.8" text-anchor="end" fill="#1e1e1e">10<tspan font-size="7.4" dy="-5.5">-6</tspan></text><text x="346.3" y="246.8" font-size="10.8" text-anchor="end" fill="#1e1e1e">10<tspan font-size="7.4" dy="-5.5">-8</tspan></text><text x="346.3" y="296.6" font-size="10.8" text-anchor="end" fill="#1e1e1e">10<tspan font-size="7.4" dy="-5.5">-10</tspan></text><text x="346.3" y="346.4" font-size="10.8" text-anchor="end" fill="#1e1e1e">10<tspan font-size="7.4" dy="-5.5">-12</tspan></text><text x="349.6" y="381" font-size="11" text-anchor="middle" fill="#1e1e1e">0</text><text x="388.3" y="381" font-size="11" text-anchor="middle" fill="#1e1e1e">1</text><text x="427.0" y="381" font-size="11" text-anchor="middle" fill="#1e1e1e">2</text><text x="465.6" y="381" font-size="11" text-anchor="middle" fill="#1e1e1e">3</text><text x="504.3" y="381" font-size="11" text-anchor="middle" fill="#1e1e1e">4</text><text transform="translate(320.8,187.2) rotate(-90)" font-size="11" text-anchor="middle" textLength="67.5" lengthAdjust="spacingAndGlyphs" fill="#222">Reflectivity</text><text x="416.2" y="401.2" font-size="14.5" style="font-family:'Liberation Serif',serif" fill="#1e1e1e"><tspan font-style="italic">q</tspan> (Å<tspan font-size="9.5" dy="-6.5">-1</tspan><tspan dy="6.5">)</tspan></text><defs><linearGradient id="cbg" x1="0" x2="1" y1="0" y2="0"><stop offset="0.0" stop-color="#332a7c"/><stop offset="0.2" stop-color="#3c3696"/><stop offset="0.3" stop-color="#3d4fa0"/><stop offset="0.37" stop-color="#4a8ec8"/><stop offset="0.42" stop-color="#5ab9e0"/><stop offset="0.5" stop-color="#82c3a8"/><stop offset="0.56" stop-color="#8dc653"/><stop offset="0.62" stop-color="#c6d92e"/><stop offset="0.67" stop-color="#f6e51b"/><stop offset="0.75" stop-color="#f7a520"/><stop offset="0.85" stop-color="#e9402b"/><stop offset="1.0" stop-color="#e02a2a"/></linearGradient></defs><rect x="367.2" y="319.9" width="63.6" height="10.6" fill="url(#cbg)" stroke="#333" stroke-width="0.7"/><text x="367.2" y="339.4" font-size="9.4" text-anchor="middle" fill="#1e1e1e">0</text><text x="388.4" y="339.4" font-size="9.4" text-anchor="middle" fill="#1e1e1e">1</text><text x="409.6" y="339.4" font-size="9.4" text-anchor="middle" fill="#1e1e1e">2</text><text x="430.8" y="339.4" font-size="9.4" text-anchor="middle" fill="#1e1e1e">3</text><text x="398.5" y="352.2" font-size="10.6" text-anchor="middle" textLength="41.6" lengthAdjust="spacingAndGlyphs" fill="#1e1e1e">[Rb] (M)</text><text x="557.8" y="16.4" font-size="17.6" fill="#111">D</text><defs><pattern id="wat" patternUnits="userSpaceOnUse" width="28" height="28"><g stroke-width="0.65" opacity="0.62"><path d="M9.1 4.2l-0.3 0.6" stroke="#e8a8a0"/><path d="M2.6 16.3l-0.8 0.2" stroke="#d86050"/><path d="M12.1 2.0l1.0 0.3" stroke="#e8a8a0"/><path d="M3.5 6.3l-0.6 1.4" stroke="#e8a8a0"/><path d="M16.4 1.4l0.9 0.7" stroke="#e08878"/><path d="M8.1 4.0l0.8 0.3" stroke="#e08878"/><path d="M2.9 16.0l0.6 0.4" stroke="#d86050"/><path d="M15.8 17.3l0.0 1.1" stroke="#c85a50"/><path d="M13.0 25.9l0.4 0.8" stroke="#e08878"/><path d="M19.6 6.8l-0.3 1.1" stroke="#c85a50"/><path d="M20.4 8.1l-0.7 0.0" stroke="#eeb0a8"/><path d="M4.6 9.6l-1.0 0.2" stroke="#d86050"/><path d="M21.4 16.0l-0.8 0.3" stroke="#c85a50"/><path d="M16.6 16.2l0.2 1.4" stroke="#c85a50"/><path d="M13.3 18.6l1.3 0.2" stroke="#e8a8a0"/><path d="M27.8 23.0l0.6 0.8" stroke="#c85a50"/><path d="M0.6 12.9l0.6 0.4" stroke="#d86050"/><path d="M6.1 8.0l-0.7 0.7" stroke="#eeb0a8"/><path d="M2.3 12.6l-0.2 1.5" stroke="#eeb0a8"/><path d="M24.2 7.8l0.3 0.9" stroke="#eeb0a8"/><path d="M26.8 4.2l0.7 0.4" stroke="#e08878"/><path d="M0.3 23.3l0.7 0.5" stroke="#e08878"/><path d="M11.7 10.3l-0.3 1.5" stroke="#e8a8a0"/><path d="M26.6 18.3l-0.7 0.8" stroke="#e8a8a0"/><path d="M11.0 11.2l1.2 0.4" stroke="#d86050"/><path d="M5.3 27.6l0.1 0.7" stroke="#e8a8a0"/><path d="M1.5 0.0l0.6 0.3" stroke="#c85a50"/><path d="M17.2 2.0l0.8 0.6" stroke="#c85a50"/><path d="M26.8 16.9l0.1 0.7" stroke="#eeb0a8"/><path d="M27.8 13.0l0.0 0.7" stroke="#d86050"/><path d="M21.0 20.7l0.1 1.3" stroke="#e8a8a0"/><path d="M0.6 26.6l-0.1 0.7" stroke="#e8a8a0"/><path d="M25.6 21.2l0.7 1.0" stroke="#d86050"/><path d="M19.5 7.3l0.3 0.7" stroke="#e08878"/><path d="M14.9 21.8l0.4 0.7" stroke="#e08878"/><path d="M22.6 22.9l-0.6 0.6" stroke="#e8a8a0"/><path d="M13.8 20.5l-1.4 0.0" stroke="#eeb0a8"/><path d="M7.3 19.4l-1.0 0.1" stroke="#c85a50"/><path d="M26.7 10.2l0.6 0.5" stroke="#e08878"/><path d="M9.5 13.5l-1.2 0.1" stroke="#d86050"/><path d="M13.4 18.3l-0.6 0.4" stroke="#d86050"/><path d="M25.5 21.9l-0.8 0.8" stroke="#e08878"/><path d="M12.1 17.8l1.5 0.4" stroke="#eeb0a8"/><path d="M13.0 20.8l0.7 0.2" stroke="#e08878"/><path d="M0.8 16.5l0.1 1.2" stroke="#e8a8a0"/><path d="M23.1 27.4l-0.5 0.8" stroke="#e8a8a0"/><path d="M15.4 0.6l-1.1 0.8" stroke="#d86050"/><path d="M14.7 26.1l0.3 1.4" stroke="#e08878"/><path d="M0.8 6.0l-0.0 1.4" stroke="#c85a50"/><path d="M7.3 11.7l1.4 0.6" stroke="#c85a50"/><path d="M25.1 18.5l-0.9 0.6" stroke="#e8a8a0"/><path d="M3.7 4.3l-0.0 1.5" stroke="#e08878"/><path d="M17.0 21.7l0.7 0.3" stroke="#e8a8a0"/><path d="M20.3 15.6l0.6 1.0" stroke="#e8a8a0"/><path d="M13.5 21.7l-0.6 0.2" stroke="#e08878"/><path d="M7.8 21.6l-0.0 1.2" stroke="#d86050"/><path d="M12.4 17.2l-0.0 1.1" stroke="#c85a50"/><path d="M12.7 14.9l0.1 1.5" stroke="#e8a8a0"/><path d="M24.5 26.4l0.8 0.8" stroke="#e08878"/><path d="M23.5 3.8l1.0 0.4" stroke="#d86050"/><path d="M18.8 12.0l0.7 0.6" stroke="#d86050"/><path d="M25.1 4.3l-0.8 1.0" stroke="#e08878"/><path d="M7.1 3.8l0.1 1.3" stroke="#d86050"/><path d="M11.2 13.6l-1.4 0.0" stroke="#e08878"/><path d="M19.8 27.8l0.3 1.0" stroke="#c85a50"/><path d="M8.9 20.2l1.2 0.1" stroke="#eeb0a8"/><path d="M19.7 10.8l-0.0 0.9" stroke="#d86050"/><path d="M3.2 25.7l1.1 1.0" stroke="#d86050"/><path d="M7.4 1.1l-0.7 0.6" stroke="#e08878"/><path d="M23.0 23.8l-0.8 1.3" stroke="#eeb0a8"/><path d="M4.2 25.7l-0.3 1.3" stroke="#d86050"/><path d="M7.8 22.4l1.3 0.8" stroke="#c85a50"/><path d="M26.3 17.8l-0.6 0.4" stroke="#e08878"/><path d="M1.9 24.2l0.1 0.9" stroke="#e8a8a0"/><path d="M11.7 25.6l-0.2 0.6" stroke="#e08878"/><path d="M26.3 27.1l0.5 0.6" stroke="#c85a50"/><path d="M17.6 14.9l0.8 0.6" stroke="#e08878"/><path d="M7.6 22.5l-0.6 0.0" stroke="#d86050"/><path d="M20.5 15.4l0.9 0.6" stroke="#eeb0a8"/><path d="M3.0 22.9l0.2 1.1" stroke="#eeb0a8"/><path d="M27.2 8.6l0.6 0.5" stroke="#e08878"/><path d="M23.3 19.8l-0.4 0.9" stroke="#c85a50"/><path d="M27.5 23.4l1.2 0.1" stroke="#c85a50"/><path d="M12.1 1.6l-0.5 0.9" stroke="#e8a8a0"/><path d="M18.8 7.9l0.6 0.6" stroke="#eeb0a8"/><path d="M5.2 7.5l1.0 0.0" stroke="#c85a50"/><path d="M27.2 15.3l1.1 1.1" stroke="#c85a50"/><path d="M6.1 5.1l0.3 0.6" stroke="#c85a50"/><path d="M14.1 5.6l-0.0 0.6" stroke="#c85a50"/><path d="M22.9 4.0l-0.3 1.0" stroke="#c85a50"/><path d="M8.5 6.5l-0.3 1.1" stroke="#e08878"/><path d="M18.4 20.0l-0.9 0.4" stroke="#c85a50"/><path d="M20.2 13.8l0.8 0.9" stroke="#e08878"/><path d="M1.2 23.4l-1.2 0.4" stroke="#e8a8a0"/><path d="M3.9 14.7l-0.0 1.4" stroke="#d86050"/><path d="M23.1 16.4l-1.2 0.4" stroke="#e08878"/><path d="M2.4 1.2l-0.7 1.4" stroke="#eeb0a8"/><path d="M23.4 15.6l-0.5 1.1" stroke="#e08878"/><path d="M13.7 0.1l-1.1 0.8" stroke="#e8a8a0"/><path d="M25.1 2.6l-0.1 1.3" stroke="#eeb0a8"/><path d="M7.1 2.1l0.9 1.0" stroke="#e08878"/><path d="M6.5 18.2l0.2 1.4" stroke="#d86050"/><path d="M13.4 19.1l-0.9 0.8" stroke="#e08878"/><path d="M2.2 4.1l0.9 1.0" stroke="#c85a50"/><path d="M17.4 3.7l0.1 1.1" stroke="#d86050"/><path d="M19.4 18.9l0.7 0.9" stroke="#eeb0a8"/><path d="M13.0 21.5l-1.1 0.0" stroke="#c85a50"/><path d="M27.4 26.2l1.1 0.1" stroke="#e8a8a0"/><path d="M27.1 12.6l0.5 0.6" stroke="#e08878"/><path d="M2.1 2.5l-0.6 0.6" stroke="#c85a50"/><path d="M3.7 23.0l-0.0 1.5" stroke="#c85a50"/><path d="M6.5 25.1l0.0 0.6" stroke="#d86050"/><path d="M26.6 19.1l0.4 1.3" stroke="#eeb0a8"/><path d="M9.6 8.9l-0.5 0.3" stroke="#c85a50"/><path d="M23.5 3.4l-1.3 0.3" stroke="#c85a50"/><path d="M7.1 1.8l0.5 1.4" stroke="#d86050"/><path d="M10.1 12.0l0.4 0.5" stroke="#d86050"/><path d="M1.4 18.5l-0.3 0.7" stroke="#c85a50"/><path d="M12.2 8.8l-1.0 0.9" stroke="#eeb0a8"/><path d="M24.8 22.7l-0.6 1.4" stroke="#e8a8a0"/><path d="M15.4 20.1l1.3 0.2" stroke="#eeb0a8"/><path d="M17.2 3.9l-1.0 0.4" stroke="#e8a8a0"/><path d="M3.6 13.2l0.4 0.8" stroke="#c85a50"/><path d="M11.4 6.7l0.1 1.3" stroke="#d86050"/><path d="M4.7 4.5l1.2 0.9" stroke="#eeb0a8"/><path d="M15.4 12.7l0.7 1.2" stroke="#eeb0a8"/><path d="M3.9 5.4l0.9 0.3" stroke="#d86050"/><path d="M8.9 10.3l-0.7 0.5" stroke="#d86050"/><path d="M21.0 11.6l0.3 1.1" stroke="#eeb0a8"/><path d="M7.6 21.1l0.0 1.2" stroke="#c85a50"/><path d="M3.5 14.1l-0.6 1.3" stroke="#e08878"/><path d="M2.6 25.1l0.4 1.2" stroke="#eeb0a8"/><path d="M26.7 23.8l-0.6 0.2" stroke="#d86050"/><path d="M11.9 21.4l-1.3 0.9" stroke="#eeb0a8"/><path d="M0.0 11.0l-1.4 0.3" stroke="#eeb0a8"/><path d="M27.2 7.0l0.7 0.3" stroke="#e8a8a0"/><path d="M27.2 3.0l-1.1 0.7" stroke="#eeb0a8"/><path d="M2.4 21.8l0.7 0.0" stroke="#e8a8a0"/><path d="M25.8 18.1l0.4 0.6" stroke="#c85a50"/><path d="M14.8 12.2l-0.5 0.5" stroke="#c85a50"/><path d="M14.7 16.3l0.3 0.8" stroke="#e8a8a0"/><path d="M0.0 15.0l-0.9 0.0" stroke="#c85a50"/><path d="M18.0 24.7l0.1 0.8" stroke="#e08878"/><path d="M0.8 11.5l-0.3 0.6" stroke="#e08878"/><path d="M14.0 18.9l0.2 0.8" stroke="#eeb0a8"/><path d="M25.9 6.4l0.9 0.1" stroke="#eeb0a8"/><path d="M10.1 11.1l0.9 0.0" stroke="#e8a8a0"/><path d="M1.9 13.9l1.1 0.8" stroke="#e08878"/><path d="M6.5 6.2l-0.7 0.6" stroke="#e8a8a0"/><path d="M13.9 5.2l0.8 0.7" stroke="#d86050"/><path d="M26.6 4.1l0.3 0.8" stroke="#e8a8a0"/><path d="M4.0 1.5l1.0 0.2" stroke="#c85a50"/><path d="M20.5 27.9l-0.9 0.2" stroke="#e08878"/><path d="M18.3 14.7l0.1 0.9" stroke="#eeb0a8"/><path d="M23.5 27.6l0.1 0.7" stroke="#d86050"/><path d="M7.8 9.8l-0.7 0.1" stroke="#e08878"/><path d="M10.6 21.5l0.8 1.2" stroke="#d86050"/><path d="M1.4 13.3l0.6 1.4" stroke="#e08878"/><path d="M9.1 20.6l0.1 1.2" stroke="#e08878"/><path d="M22.7 21.5l0.6 0.1" stroke="#d86050"/><path d="M22.5 1.7l0.5 0.4" stroke="#e8a8a0"/><path d="M9.5 7.6l-1.2 0.2" stroke="#c85a50"/><path d="M20.9 19.3l-0.9 0.2" stroke="#e8a8a0"/><path d="M25.7 17.8l-0.6 0.1" stroke="#e08878"/><path d="M3.0 20.0l0.1 1.4" stroke="#c85a50"/><path d="M25.6 22.8l1.0 0.4" stroke="#d86050"/><path d="M22.5 20.7l-1.2 0.7" stroke="#e8a8a0"/><path d="M6.6 24.1l0.2 1.4" stroke="#e8a8a0"/><path d="M2.2 5.5l-0.6 0.6" stroke="#d86050"/><path d="M18.2 13.5l-0.1 0.8" stroke="#eeb0a8"/><path d="M24.7 27.7l0.5 0.5" stroke="#d86050"/><path d="M11.8 27.7l-0.8 0.1" stroke="#e08878"/><path d="M11.7 17.4l-0.7 1.2" stroke="#d86050"/><path d="M21.8 8.2l0.6 0.7" stroke="#c85a50"/><path d="M20.7 5.6l0.6 0.6" stroke="#e08878"/><path d="M7.9 25.4l0.6 0.4" stroke="#c85a50"/><path d="M27.8 14.2l1.1 0.9" stroke="#eeb0a8"/><path d="M27.7 2.9l0.1 1.4" stroke="#eeb0a8"/><path d="M25.6 1.1l0.4 0.6" stroke="#e08878"/><path d="M16.8 23.2l0.6 0.4" stroke="#e8a8a0"/><path d="M24.3 12.6l0.9 1.0" stroke="#d86050"/><path d="M3.0 16.7l-0.3 0.8" stroke="#c85a50"/><path d="M9.5 1.2l-0.6 0.0" stroke="#e08878"/><path d="M22.8 22.9l0.3 0.9" stroke="#e8a8a0"/><path d="M8.7 5.7l-0.9 0.7" stroke="#d86050"/><path d="M11.4 22.3l-0.4 0.7" stroke="#e8a8a0"/><path d="M2.6 4.6l-0.6 0.8" stroke="#c85a50"/><path d="M18.7 11.7l1.3 0.2" stroke="#c85a50"/><path d="M11.6 0.5l-1.0 0.9" stroke="#e08878"/><path d="M10.9 11.3l-1.0 0.2" stroke="#e08878"/><path d="M11.9 23.0l0.4 1.4" stroke="#eeb0a8"/><path d="M21.6 3.6l0.7 0.1" stroke="#eeb0a8"/><path d="M2.5 17.4l0.4 1.0" stroke="#e08878"/><path d="M9.7 4.5l0.6 0.3" stroke="#eeb0a8"/><path d="M13.7 22.5l-0.8 0.1" stroke="#e08878"/><path d="M23.4 1.2l-0.9 0.2" stroke="#e8a8a0"/><path d="M25.9 10.9l-1.2 0.4" stroke="#e08878"/><path d="M17.9 24.0l-0.5 1.1" stroke="#e08878"/><path d="M23.2 5.1l0.8 0.6" stroke="#e8a8a0"/><path d="M4.4 10.1l1.4 0.7" stroke="#e08878"/><path d="M1.2 15.7l-0.5 0.4" stroke="#c85a50"/><path d="M3.3 16.8l-0.2 1.2" stroke="#c85a50"/><path d="M18.2 8.6l0.7 0.7" stroke="#c85a50"/><path d="M12.5 12.3l1.2 0.1" stroke="#eeb0a8"/><path d="M13.0 12.5l-0.5 1.3" stroke="#e08878"/><path d="M22.7 11.2l0.9 0.2" stroke="#c85a50"/><path d="M2.6 12.4l-0.0 0.6" stroke="#e08878"/><path d="M2.3 20.5l-0.9 0.7" stroke="#d86050"/><path d="M21.1 25.1l-0.6 1.2" stroke="#d86050"/><path d="M24.0 27.9l-0.9 1.1" stroke="#e08878"/><path d="M3.7 24.8l0.9 1.1" stroke="#e08878"/><path d="M19.2 20.2l1.1 0.9" stroke="#e8a8a0"/><path d="M21.2 4.4l-0.8 0.3" stroke="#eeb0a8"/><path d="M4.0 14.1l-0.8 0.2" stroke="#c85a50"/><path d="M17.2 6.6l0.3 0.7" stroke="#eeb0a8"/><path d="M4.5 26.2l-0.8 1.3" stroke="#e08878"/><path d="M22.2 7.4l-0.5 0.4" stroke="#c85a50"/><path d="M27.1 12.7l-0.1 1.3" stroke="#d86050"/><path d="M7.1 15.0l-1.2 0.6" stroke="#c85a50"/><path d="M7.4 27.7l-0.2 0.9" stroke="#d86050"/><path d="M12.4 4.9l-0.4 0.5" stroke="#e8a8a0"/><path d="M7.1 17.9l-1.2 0.1" stroke="#c85a50"/><path d="M20.5 20.9l0.7 0.6" stroke="#eeb0a8"/><path d="M11.7 10.2l1.1 0.2" stroke="#e8a8a0"/><path d="M18.3 0.6l1.0 0.0" stroke="#d86050"/><path d="M14.6 15.0l0.2 0.9" stroke="#e08878"/><path d="M5.7 17.5l0.1 0.7" stroke="#e08878"/><path d="M19.8 12.6l0.7 0.1" stroke="#c85a50"/><path d="M11.3 7.4l1.2 0.0" stroke="#e8a8a0"/><path d="M25.0 16.7l-0.3 1.2" stroke="#e8a8a0"/><path d="M20.5 7.0l-0.6 0.2" stroke="#e8a8a0"/><path d="M0.7 5.2l1.3 0.7" stroke="#d86050"/><path d="M0.3 15.4l-0.7 0.1" stroke="#e08878"/><path d="M14.5 18.0l-0.5 0.9" stroke="#e8a8a0"/><path d="M4.9 8.7l0.4 0.5" stroke="#eeb0a8"/><path d="M20.0 0.2l-1.2 0.6" stroke="#eeb0a8"/><path d="M2.3 18.4l1.4 0.8" stroke="#c85a50"/><path d="M6.5 1.1l0.7 1.2" stroke="#c85a50"/><path d="M19.9 7.4l-0.2 1.0" stroke="#e8a8a0"/><path d="M27.2 8.3l-1.5 0.3" stroke="#d86050"/><path d="M24.6 0.4l0.6 0.6" stroke="#e08878"/><path d="M26.5 20.9l0.8 1.3" stroke="#c85a50"/><path d="M16.8 10.6l-1.4 0.7" stroke="#e8a8a0"/><path d="M13.1 23.5l-0.8 1.2" stroke="#eeb0a8"/><path d="M26.8 6.5l-1.3 0.5" stroke="#eeb0a8"/><path d="M17.4 2.2l-0.7 0.2" stroke="#d86050"/><path d="M3.1 17.4l1.4 0.8" stroke="#d86050"/><path d="M0.9 3.9l-0.3 0.6" stroke="#d86050"/><path d="M20.6 1.8l-0.3 0.9" stroke="#e8a8a0"/><path d="M25.0 1.8l-1.4 0.6" stroke="#eeb0a8"/><path d="M3.0 5.8l0.6 0.2" stroke="#d86050"/><path d="M23.1 17.7l0.4 0.5" stroke="#d86050"/><path d="M22.2 18.1l0.6 0.7" stroke="#c85a50"/><path d="M0.6 7.2l0.8 1.0" stroke="#c85a50"/><path d="M25.5 21.5l-0.3 1.0" stroke="#c85a50"/><path d="M17.3 0.9l0.3 1.0" stroke="#d86050"/><path d="M9.7 19.7l-0.1 0.8" stroke="#d86050"/><path d="M16.1 8.0l0.2 1.1" stroke="#c85a50"/><path d="M21.3 27.4l1.1 0.0" stroke="#eeb0a8"/><path d="M19.5 23.1l-1.2 0.1" stroke="#e8a8a0"/><path d="M7.3 26.4l0.5 0.6" stroke="#e08878"/><path d="M14.0 3.1l-0.3 0.6" stroke="#e8a8a0"/><path d="M22.0 17.6l0.4 0.9" stroke="#eeb0a8"/><path d="M25.0 20.9l0.3 1.2" stroke="#c85a50"/><path d="M5.8 7.4l-1.0 0.3" stroke="#eeb0a8"/><path d="M27.5 17.7l-0.7 0.1" stroke="#e8a8a0"/><path d="M21.1 21.1l-0.4 0.9" stroke="#c85a50"/><path d="M14.6 24.3l0.2 1.1" stroke="#c85a50"/><path d="M4.7 12.3l-0.9 0.8" stroke="#e08878"/><path d="M9.4 18.0l-0.6 0.9" stroke="#c85a50"/><path d="M8.4 19.7l-0.7 0.4" stroke="#e08878"/><path d="M27.3 20.2l-0.3 0.9" stroke="#e08878"/><path d="M9.2 5.3l-1.3 0.1" stroke="#d86050"/><path d="M4.6 18.4l0.6 0.4" stroke="#e08878"/><path d="M22.3 20.5l0.2 0.8" stroke="#d86050"/><path d="M7.9 24.8l0.1 0.6" stroke="#eeb0a8"/><path d="M19.4 14.0l-0.4 1.0" stroke="#e08878"/><path d="M7.2 20.7l0.8 0.0" stroke="#eeb0a8"/><path d="M19.6 16.4l-0.6 1.3" stroke="#e8a8a0"/><path d="M23.9 19.0l-0.5 1.0" stroke="#c85a50"/><path d="M7.3 19.6l-0.8 0.3" stroke="#eeb0a8"/><path d="M20.0 17.6l0.7 0.7" stroke="#eeb0a8"/><path d="M0.6 24.0l-0.1 1.3" stroke="#e08878"/><path d="M25.0 9.2l1.4 0.0" stroke="#d86050"/><path d="M1.1 15.2l1.2 0.7" stroke="#e08878"/><path d="M14.5 2.8l-0.3 1.1" stroke="#eeb0a8"/><path d="M14.3 17.9l-1.0 0.6" stroke="#eeb0a8"/><path d="M20.8 12.8l-0.8 0.0" stroke="#e8a8a0"/><path d="M21.4 3.4l-1.0 0.0" stroke="#d86050"/><path d="M7.1 10.7l0.7 0.1" stroke="#eeb0a8"/><path d="M17.6 18.9l-0.2 0.7" stroke="#c85a50"/><path d="M20.8 26.3l-0.1 0.8" stroke="#eeb0a8"/><path d="M12.9 4.6l-0.7 0.1" stroke="#e08878"/><path d="M13.1 15.7l1.2 1.0" stroke="#c85a50"/><path d="M18.6 23.3l-0.8 0.6" stroke="#c85a50"/><path d="M21.3 18.2l-0.8 0.7" stroke="#e08878"/><path d="M7.5 10.5l0.7 0.7" stroke="#e08878"/><path d="M13.5 22.6l-0.8 0.6" stroke="#c85a50"/><path d="M9.0 13.6l-0.3 0.6" stroke="#c85a50"/><path d="M4.3 8.5l0.2 0.6" stroke="#e8a8a0"/><path d="M25.4 22.0l1.3 0.6" stroke="#e8a8a0"/><path d="M0.4 0.3l-1.2 0.2" stroke="#c85a50"/><path d="M17.0 16.2l-0.7 0.3" stroke="#eeb0a8"/><path d="M9.7 4.3l-1.3 0.4" stroke="#e08878"/><path d="M17.1 19.3l-0.7 0.0" stroke="#e8a8a0"/><path d="M22.1 23.5l1.1 0.8" stroke="#e8a8a0"/><path d="M2.2 23.5l-0.4 0.6" stroke="#d86050"/><path d="M7.4 6.6l1.0 0.5" stroke="#d86050"/><path d="M13.6 25.4l-0.5 0.7" stroke="#e08878"/><path d="M15.1 24.2l1.4 0.0" stroke="#eeb0a8"/><path d="M19.5 13.9l0.6 0.9" stroke="#eeb0a8"/><path d="M11.7 26.9l1.2 0.3" stroke="#d86050"/><path d="M0.6 1.3l-1.1 1.2" stroke="#d86050"/><path d="M14.3 13.6l-0.6 0.2" stroke="#eeb0a8"/><path d="M17.5 9.5l-0.9 0.4" stroke="#eeb0a8"/><path d="M21.8 15.5l-0.9 0.2" stroke="#c85a50"/><path d="M11.8 15.5l-0.8 0.5" stroke="#eeb0a8"/><path d="M11.3 14.1l0.7 0.8" stroke="#e08878"/><path d="M18.3 22.2l0.5 0.8" stroke="#c85a50"/><path d="M3.6 27.2l1.5 0.4" stroke="#eeb0a8"/><path d="M20.2 24.8l-0.1 0.6" stroke="#c85a50"/><path d="M3.0 1.3l-0.9 0.6" stroke="#d86050"/><path d="M22.1 25.5l-0.4 1.1" stroke="#e8a8a0"/><path d="M24.5 2.3l1.2 0.2" stroke="#e08878"/><path d="M2.8 5.1l1.4 0.2" stroke="#d86050"/><path d="M10.3 23.0l-0.9 0.7" stroke="#c85a50"/><path d="M24.1 5.2l0.6 0.1" stroke="#e8a8a0"/><path d="M18.0 26.1l1.2 0.2" stroke="#d86050"/><path d="M23.1 21.7l0.3 1.3" stroke="#eeb0a8"/><path d="M12.5 0.4l0.4 1.1" stroke="#e08878"/><path d="M13.3 11.5l1.2 0.4" stroke="#e08878"/><path d="M25.1 17.6l0.1 0.6" stroke="#d86050"/><path d="M27.6 24.0l0.6 0.5" stroke="#eeb0a8"/><path d="M0.5 20.1l1.0 0.9" stroke="#e08878"/><path d="M25.8 10.2l-0.9 0.9" stroke="#e08878"/><path d="M20.4 2.4l-0.5 1.2" stroke="#eeb0a8"/><path d="M18.7 24.9l-0.6 0.2" stroke="#d86050"/><path d="M0.3 0.4l-0.6 1.3" stroke="#d86050"/><path d="M10.9 8.7l-0.5 1.5" stroke="#eeb0a8"/><path d="M17.1 8.9l-1.3 0.2" stroke="#eeb0a8"/><path d="M19.0 4.1l-0.8 0.6" stroke="#e08878"/><path d="M17.6 11.7l0.5 1.3" stroke="#c85a50"/><path d="M22.0 15.9l0.4 0.5" stroke="#e8a8a0"/><path d="M9.3 17.0l-1.4 0.1" stroke="#e8a8a0"/><path d="M23.3 16.4l-0.8 0.1" stroke="#eeb0a8"/><path d="M19.2 16.8l-1.3 0.5" stroke="#c85a50"/><path d="M19.3 9.0l0.5 0.6" stroke="#d86050"/><path d="M8.1 3.9l-1.5 0.5" stroke="#e08878"/><path d="M7.7 23.8l-1.1 0.7" stroke="#eeb0a8"/><path d="M9.7 2.4l-0.2 1.4" stroke="#e08878"/><path d="M22.1 20.2l-0.9 0.1" stroke="#d86050"/><path d="M19.0 13.0l0.7 0.5" stroke="#d86050"/><path d="M22.2 12.9l1.4 0.4" stroke="#d86050"/><path d="M6.5 16.2l-1.4 0.5" stroke="#e8a8a0"/><path d="M9.0 14.2l0.7 0.5" stroke="#d86050"/><path d="M5.1 19.6l0.5 1.1" stroke="#eeb0a8"/><path d="M21.8 24.0l1.1 1.1" stroke="#eeb0a8"/><path d="M10.5 3.0l-0.6 1.3" stroke="#e08878"/><path d="M8.8 0.9l0.8 0.9" stroke="#d86050"/><path d="M0.9 27.7l-1.0 0.4" stroke="#e8a8a0"/><path d="M6.0 25.9l0.4 0.5" stroke="#eeb0a8"/><path d="M21.5 22.9l-0.8 0.1" stroke="#d86050"/><path d="M9.5 27.8l0.2 0.6" stroke="#d86050"/><path d="M15.6 24.4l0.2 1.5" stroke="#d86050"/><path d="M24.2 17.9l-1.3 0.3" stroke="#d86050"/><path d="M7.2 15.8l-0.7 1.4" stroke="#e8a8a0"/><path d="M11.0 12.6l1.4 0.8" stroke="#e08878"/><path d="M4.8 26.4l-0.6 0.1" stroke="#e8a8a0"/><path d="M25.3 23.4l1.4 0.2" stroke="#eeb0a8"/><path d="M1.6 4.1l-1.1 1.1" stroke="#c85a50"/><path d="M16.5 12.4l-0.5 1.0" stroke="#c85a50"/><path d="M7.2 3.5l0.0 0.8" stroke="#e08878"/><path d="M22.6 25.6l-1.0 0.4" stroke="#e08878"/><path d="M22.4 4.4l-0.6 0.3" stroke="#e8a8a0"/><path d="M24.3 24.9l0.9 0.4" stroke="#d86050"/><path d="M25.9 10.8l0.7 0.0" stroke="#c85a50"/><path d="M9.0 6.5l0.9 0.3" stroke="#c85a50"/><path d="M6.2 1.6l-0.7 0.9" stroke="#e08878"/><path d="M12.3 4.2l0.2 0.8" stroke="#d86050"/><path d="M7.6 23.5l0.4 0.7" stroke="#eeb0a8"/><path d="M3.1 12.8l0.0 0.8" stroke="#e8a8a0"/><path d="M1.6 25.1l-0.4 0.7" stroke="#eeb0a8"/><path d="M23.4 3.3l-1.1 1.1" stroke="#eeb0a8"/><path d="M27.7 27.9l-0.7 0.2" stroke="#c85a50"/><path d="M11.6 4.5l-1.4 0.8" stroke="#e08878"/><path d="M27.4 0.4l-0.8 0.5" stroke="#e08878"/><path d="M12.4 22.1l-0.9 0.2" stroke="#c85a50"/><path d="M12.2 25.5l0.9 0.7" stroke="#e08878"/><path d="M23.6 14.6l0.6 0.5" stroke="#e8a8a0"/><path d="M2.2 2.4l-0.4 1.0" stroke="#c85a50"/><path d="M4.9 3.8l-0.6 1.1" stroke="#e08878"/><path d="M16.3 5.7l1.3 0.3" stroke="#eeb0a8"/><path d="M23.5 25.7l-0.1 0.9" stroke="#c85a50"/><path d="M23.6 24.2l0.0 0.6" stroke="#eeb0a8"/><path d="M3.7 18.6l0.8 0.8" stroke="#c85a50"/><path d="M1.0 19.7l-0.3 1.4" stroke="#c85a50"/><path d="M14.6 12.5l-0.0 0.7" stroke="#e08878"/><path d="M22.9 24.2l0.7 1.1" stroke="#eeb0a8"/><path d="M16.1 25.1l0.4 0.6" stroke="#eeb0a8"/><path d="M12.5 0.7l-0.6 0.4" stroke="#e08878"/><path d="M27.1 6.3l0.6 0.4" stroke="#c85a50"/><path d="M15.6 26.7l1.5 0.1" stroke="#e08878"/><path d="M7.3 23.4l-0.4 1.0" stroke="#e08878"/><path d="M19.7 2.9l-1.2 0.5" stroke="#d86050"/><path d="M7.6 13.0l-0.4 1.3" stroke="#d86050"/><path d="M3.4 11.4l1.1 0.5" stroke="#e08878"/><path d="M4.1 16.0l-0.5 0.5" stroke="#d86050"/><path d="M26.3 10.9l0.4 1.4" stroke="#e8a8a0"/><path d="M1.0 27.2l1.0 0.2" stroke="#eeb0a8"/><path d="M6.7 9.4l0.3 1.5" stroke="#c85a50"/><path d="M22.8 23.7l1.1 0.2" stroke="#c85a50"/><path d="M7.0 11.8l-0.4 0.9" stroke="#e8a8a0"/><path d="M5.2 9.1l1.0 0.7" stroke="#e08878"/><path d="M3.9 27.2l-1.2 1.0" stroke="#d86050"/><path d="M22.7 24.8l-0.6 0.2" stroke="#e8a8a0"/><path d="M7.4 19.0l0.7 0.9" stroke="#d86050"/><path d="M17.4 7.0l-0.1 1.0" stroke="#d86050"/><path d="M8.1 8.6l-0.3 0.6" stroke="#e8a8a0"/><path d="M26.9 25.8l-0.7 0.2" stroke="#e8a8a0"/><path d="M14.9 4.2l0.7 0.3" stroke="#c85a50"/></g></pattern></defs><rect x="587.0" y="77" width="102.4" height="230" fill="url(#wat)"/><defs><radialGradient id="gP" cx="0.4" cy="0.38" r="0.65"><stop offset="0" stop-color="#c060a8"/><stop offset="1" stop-color="#943a84"/></radialGradient>
<radialGradient id="gB" cx="0.4" cy="0.38" r="0.65"><stop offset="0" stop-color="#80aad8"/><stop offset="1" stop-color="#4a74a8"/></radialGradient></defs><g><circle cx="600.5" cy="82.7" r="2.3" fill="url(#gP)"/><circle cx="610.8" cy="84.1" r="2.3" fill="url(#gP)"/><circle cx="616.8" cy="80.4" r="2.3" fill="url(#gB)"/><circle cx="657.4" cy="80.4" r="2.3" fill="url(#gB)"/><circle cx="681.9" cy="81.2" r="2.3" fill="url(#gB)"/><circle cx="688.5" cy="88.6" r="2.3" fill="url(#gP)"/><circle cx="634.5" cy="86.4" r="2.3" fill="url(#gB)"/><circle cx="595.3" cy="90.8" r="2.3" fill="url(#gB)"/><circle cx="593.8" cy="95.2" r="2.3" fill="url(#gP)"/><circle cx="613.1" cy="94.5" r="2.3" fill="url(#gB)"/><circle cx="615.3" cy="93" r="2.3" fill="url(#gB)"/><circle cx="630.8" cy="95.2" r="2.3" fill="url(#gB)"/><circle cx="602.7" cy="97.4" r="2.3" fill="url(#gP)"/><circle cx="647.8" cy="96.7" r="2.3" fill="url(#gB)"/><circle cx="675.9" cy="98.2" r="2.3" fill="url(#gP)"/><circle cx="590.9" cy="99.7" r="2.3" fill="url(#gP)"/><circle cx="603.4" cy="101.9" r="2.3" fill="url(#gP)"/><circle cx="604.2" cy="104.8" r="2.3" fill="url(#gB)"/><circle cx="652.3" cy="102.6" r="2.3" fill="url(#gP)"/><circle cx="621.2" cy="105.6" r="2.3" fill="url(#gB)"/><circle cx="675.9" cy="107.1" r="2.3" fill="url(#gB)"/><circle cx="641.9" cy="109.3" r="2.3" fill="url(#gB)"/><circle cx="598.3" cy="110.8" r="2.3" fill="url(#gB)"/><circle cx="594.6" cy="113" r="2.3" fill="url(#gP)"/><circle cx="589.4" cy="114.5" r="2.3" fill="url(#gB)"/><circle cx="628.6" cy="113" r="2.3" fill="url(#gB)"/><circle cx="639.7" cy="115.2" r="2.3" fill="url(#gB)"/><circle cx="642.7" cy="113.7" r="2.3" fill="url(#gB)"/><circle cx="674.5" cy="113" r="2.3" fill="url(#gB)"/><circle cx="682.6" cy="112.2" r="2.3" fill="url(#gP)"/><circle cx="653" cy="116" r="2.3" fill="url(#gP)"/><circle cx="656" cy="118.9" r="2.3" fill="url(#gB)"/><circle cx="647.1" cy="121.1" r="2.3" fill="url(#gP)"/><circle cx="686.3" cy="118.2" r="2.3" fill="url(#gP)"/><circle cx="684.1" cy="121.1" r="2.3" fill="url(#gB)"/><circle cx="624.9" cy="123" r="2.3" fill="url(#gP)"/><circle cx="630.1" cy="123.3" r="2.3" fill="url(#gP)"/><circle cx="657.4" cy="124.1" r="2.3" fill="url(#gB)"/><circle cx="638.2" cy="126" r="2.3" fill="url(#gP)"/><circle cx="608.6" cy="127" r="2.3" fill="url(#gB)"/><circle cx="629.3" cy="127.8" r="2.3" fill="url(#gP)"/><circle cx="662.6" cy="126.3" r="2.3" fill="url(#gB)"/><circle cx="624.9" cy="131.9" r="2.3" fill="url(#gP)"/><circle cx="635.3" cy="131.5" r="2.3" fill="url(#gB)"/><circle cx="642.7" cy="134.4" r="2.3" fill="url(#gP)"/><circle cx="643.4" cy="135" r="2.3" fill="url(#gP)"/><circle cx="640.4" cy="137.9" r="2.3" fill="url(#gP)"/><circle cx="671.5" cy="140.1" r="2.3" fill="url(#gP)"/><circle cx="684.1" cy="142.4" r="2.3" fill="url(#gB)"/><circle cx="633" cy="143.8" r="2.3" fill="url(#gB)"/><circle cx="624.2" cy="148.3" r="2.3" fill="url(#gB)"/><circle cx="610.8" cy="150.5" r="2.3" fill="url(#gP)"/><circle cx="633.8" cy="152.7" r="2.3" fill="url(#gB)"/><circle cx="605.7" cy="156.4" r="2.3" fill="url(#gB)"/><circle cx="642.7" cy="156.4" r="2.3" fill="url(#gB)"/><circle cx="647.8" cy="156.4" r="2.3" fill="url(#gP)"/><circle cx="662.6" cy="154.2" r="2.3" fill="url(#gB)"/><circle cx="637.5" cy="160.1" r="2.3" fill="url(#gP)"/><circle cx="590.9" cy="165.3" r="2.3" fill="url(#gB)"/><circle cx="621.2" cy="163.4" r="2.3" fill="url(#gB)"/><circle cx="630.1" cy="163.1" r="2.3" fill="url(#gB)"/><circle cx="667.1" cy="163.8" r="2.3" fill="url(#gB)"/><circle cx="602" cy="167.5" r="2.3" fill="url(#gP)"/><circle cx="610.8" cy="166" r="2.3" fill="url(#gP)"/><circle cx="653" cy="167.5" r="2.3" fill="url(#gP)"/><circle cx="641.9" cy="169.7" r="2.3" fill="url(#gP)"/><circle cx="674.5" cy="169" r="2.3" fill="url(#gP)"/><circle cx="683.3" cy="173.4" r="2.3" fill="url(#gP)"/><circle cx="602.7" cy="175.6" r="2.3" fill="url(#gP)"/><circle cx="640.4" cy="177.9" r="2.3" fill="url(#gB)"/><circle cx="596.1" cy="180.8" r="2.3" fill="url(#gP)"/><circle cx="627.1" cy="180.1" r="2.3" fill="url(#gP)"/><circle cx="635.3" cy="183" r="2.3" fill="url(#gB)"/><circle cx="681.9" cy="180.1" r="2.3" fill="url(#gP)"/><circle cx="587.2" cy="185.3" r="2.3" fill="url(#gB)"/><circle cx="604.2" cy="185.3" r="2.3" fill="url(#gB)"/><circle cx="611.6" cy="185.6" r="2.3" fill="url(#gB)"/><circle cx="648.6" cy="185.3" r="2.3" fill="url(#gP)"/><circle cx="590.9" cy="188.2" r="2.3" fill="url(#gP)"/><circle cx="600.5" cy="187.9" r="2.3" fill="url(#gB)"/><circle cx="602.7" cy="189.7" r="2.3" fill="url(#gP)"/><circle cx="599" cy="193.2" r="2.3" fill="url(#gB)"/><circle cx="605.7" cy="196.1" r="2.3" fill="url(#gB)"/><circle cx="619" cy="193.9" r="2.3" fill="url(#gP)"/><circle cx="620.5" cy="196.1" r="2.3" fill="url(#gB)"/><circle cx="625.6" cy="195.4" r="2.3" fill="url(#gP)"/><circle cx="635.3" cy="193.6" r="2.3" fill="url(#gP)"/><circle cx="636.7" cy="195.4" r="2.3" fill="url(#gB)"/><circle cx="640.4" cy="194.7" r="2.3" fill="url(#gB)"/><circle cx="628.6" cy="202.8" r="2.3" fill="url(#gP)"/><circle cx="658.2" cy="202.8" r="2.3" fill="url(#gB)"/><circle cx="656" cy="206.5" r="2.3" fill="url(#gB)"/><circle cx="661.1" cy="208.7" r="2.3" fill="url(#gP)"/><circle cx="665.6" cy="208.7" r="2.3" fill="url(#gP)"/><circle cx="670.8" cy="207.2" r="2.3" fill="url(#gB)"/><circle cx="679.6" cy="206.9" r="2.3" fill="url(#gB)"/><circle cx="678.9" cy="210.2" r="2.3" fill="url(#gP)"/><circle cx="658.9" cy="211.7" r="2.3" fill="url(#gP)"/><circle cx="644.1" cy="211.7" r="2.3" fill="url(#gP)"/><circle cx="613.8" cy="213.4" r="2.3" fill="url(#gP)"/><circle cx="630.1" cy="215.4" r="2.3" fill="url(#gP)"/><circle cx="633.8" cy="216.1" r="2.3" fill="url(#gP)"/><circle cx="590.1" cy="219.1" r="2.3" fill="url(#gB)"/><circle cx="607.9" cy="220.5" r="2.3" fill="url(#gP)"/><circle cx="617.5" cy="220.2" r="2.3" fill="url(#gP)"/><circle cx="653.7" cy="219.4" r="2.3" fill="url(#gB)"/><circle cx="658.2" cy="223.2" r="2.3" fill="url(#gP)"/><circle cx="680.4" cy="221.3" r="2.3" fill="url(#gP)"/><circle cx="616" cy="225" r="2.3" fill="url(#gB)"/><circle cx="622" cy="228" r="2.3" fill="url(#gB)"/><circle cx="633" cy="228.2" r="2.3" fill="url(#gB)"/><circle cx="615.3" cy="229.4" r="2.3" fill="url(#gP)"/><circle cx="587.9" cy="229.4" r="2.3" fill="url(#gB)"/><circle cx="590.9" cy="230.9" r="2.3" fill="url(#gP)"/><circle cx="609.4" cy="230.6" r="2.3" fill="url(#gB)"/><circle cx="647.1" cy="232.1" r="2.3" fill="url(#gB)"/><circle cx="650.8" cy="234.2" r="2.3" fill="url(#gB)"/><circle cx="593.1" cy="235.3" r="2.3" fill="url(#gP)"/><circle cx="604.2" cy="235" r="2.3" fill="url(#gB)"/><circle cx="663.4" cy="239.5" r="2.3" fill="url(#gB)"/><circle cx="667.8" cy="240.1" r="2.3" fill="url(#gB)"/><circle cx="596.1" cy="243.9" r="2.3" fill="url(#gB)"/><circle cx="616" cy="247.2" r="2.3" fill="url(#gB)"/><circle cx="618.8" cy="248.7" r="2.3" fill="url(#gB)"/><circle cx="588.7" cy="258.2" r="2.3" fill="url(#gP)"/><circle cx="632.2" cy="257.4" r="2.3" fill="url(#gP)"/><circle cx="625.8" cy="261.1" r="2.3" fill="url(#gB)"/><circle cx="632.2" cy="260.4" r="2.3" fill="url(#gP)"/><circle cx="628.5" cy="262.1" r="2.3" fill="url(#gP)"/><circle cx="680.7" cy="253.7" r="2.3" fill="url(#gP)"/><circle cx="687" cy="257.7" r="2.3" fill="url(#gB)"/><circle cx="659.8" cy="263.7" r="2.3" fill="url(#gB)"/><circle cx="670.3" cy="265.4" r="2.3" fill="url(#gP)"/><circle cx="589.5" cy="270.8" r="2.3" fill="url(#gB)"/><circle cx="605.4" cy="272.1" r="2.3" fill="url(#gP)"/><circle cx="609.6" cy="268.7" r="2.3" fill="url(#gB)"/><circle cx="621.3" cy="269.4" r="2.3" fill="url(#gP)"/><circle cx="622.1" cy="273.8" r="2.3" fill="url(#gB)"/><circle cx="667.3" cy="272.1" r="2.3" fill="url(#gB)"/><circle cx="679" cy="275.8" r="2.3" fill="url(#gP)"/><circle cx="633" cy="277.1" r="2.3" fill="url(#gP)"/><circle cx="650.6" cy="278.8" r="2.3" fill="url(#gP)"/><circle cx="626.8" cy="283.3" r="2.3" fill="url(#gP)"/><circle cx="643.9" cy="285" r="2.3" fill="url(#gB)"/><circle cx="653.9" cy="283.3" r="2.3" fill="url(#gB)"/><circle cx="653.6" cy="285.8" r="2.3" fill="url(#gB)"/><circle cx="668.6" cy="283.8" r="2.3" fill="url(#gB)"/><circle cx="686.5" cy="285.5" r="2.3" fill="url(#gP)"/><circle cx="589.5" cy="288.3" r="2.3" fill="url(#gP)"/><circle cx="653.9" cy="291.7" r="2.3" fill="url(#gP)"/><circle cx="620.8" cy="291.2" r="2.3" fill="url(#gB)"/><circle cx="622.1" cy="293.8" r="2.3" fill="url(#gP)"/><circle cx="673.1" cy="295" r="2.3" fill="url(#gB)"/><circle cx="671.5" cy="298.3" r="2.3" fill="url(#gP)"/><circle cx="677.3" cy="298.8" r="2.3" fill="url(#gB)"/><circle cx="630.5" cy="297.8" r="2.3" fill="url(#gB)"/><circle cx="650.6" cy="298.8" r="2.3" fill="url(#gB)"/><circle cx="610.4" cy="298.8" r="2.3" fill="url(#gP)"/><circle cx="600.4" cy="299.5" r="2.3" fill="url(#gP)"/><circle cx="599.6" cy="300.9" r="2.3" fill="url(#gB)"/><circle cx="607.1" cy="303.4" r="2.3" fill="url(#gB)"/><circle cx="612.1" cy="303.9" r="2.3" fill="url(#gB)"/><circle cx="615.4" cy="304.2" r="2.3" fill="url(#gB)"/><circle cx="661.9" cy="302.5" r="2.3" fill="url(#gP)"/><circle cx="686.5" cy="303.9" r="2.3" fill="url(#gB)"/></g><defs><radialGradient id="gc" cx="0.38" cy="0.35" r="0.7"><stop offset="0" stop-color="#9ad8d8"/><stop offset="1" stop-color="#4aa8ac"/></radialGradient><radialGradient id="gr" cx="0.38" cy="0.35" r="0.7"><stop offset="0" stop-color="#f26050"/><stop offset="1" stop-color="#cc2a22"/></radialGradient><radialGradient id="gk" cx="0.38" cy="0.35" r="0.7"><stop offset="0" stop-color="#fad4d0"/><stop offset="1" stop-color="#e8a4a0"/></radialGradient><radialGradient id="gy" cx="0.38" cy="0.35" r="0.7"><stop offset="0" stop-color="#fbf27a"/><stop offset="1" stop-color="#e2cc1a"/></radialGradient><radialGradient id="gu" cx="0.38" cy="0.35" r="0.7"><stop offset="0" stop-color="#c060b0"/><stop offset="1" stop-color="#902e84"/></radialGradient></defs><g><circle cx="589.6" cy="22.4" r="1.7" fill="url(#gr)"/><circle cx="592.1" cy="22.4" r="1.7" fill="url(#gy)"/><circle cx="594.7" cy="22.4" r="1.7" fill="url(#gr)"/><circle cx="597.2" cy="22.4" r="1.7" fill="url(#gy)"/><circle cx="599.8" cy="22.4" r="1.7" fill="url(#gr)"/><circle cx="602.3" cy="22.4" r="1.7" fill="url(#gy)"/><circle cx="604.9" cy="22.4" r="1.7" fill="url(#gr)"/><circle cx="607.4" cy="22.4" r="1.7" fill="url(#gy)"/><circle cx="610.0" cy="22.4" r="1.7" fill="url(#gr)"/><circle cx="612.5" cy="22.4" r="1.7" fill="url(#gy)"/><circle cx="615.1" cy="22.4" r="1.7" fill="url(#gr)"/><circle cx="617.6" cy="22.4" r="1.7" fill="url(#gy)"/><circle cx="620.2" cy="22.4" r="1.7" fill="url(#gr)"/><circle cx="622.7" cy="22.4" r="1.7" fill="url(#gy)"/><circle cx="625.3" cy="22.4" r="1.7" fill="url(#gr)"/><circle cx="627.8" cy="22.4" r="1.7" fill="url(#gy)"/><circle cx="630.4" cy="22.4" r="1.7" fill="url(#gr)"/><circle cx="632.9" cy="22.4" r="1.7" fill="url(#gy)"/><circle cx="635.5" cy="22.4" r="1.7" fill="url(#gr)"/><circle cx="638.0" cy="22.4" r="1.7" fill="url(#gy)"/><circle cx="640.6" cy="22.4" r="1.7" fill="url(#gr)"/><circle cx="643.1" cy="22.4" r="1.7" fill="url(#gy)"/><circle cx="645.7" cy="22.4" r="1.7" fill="url(#gr)"/><circle cx="648.2" cy="22.4" r="1.7" fill="url(#gy)"/><circle cx="650.8" cy="22.4" r="1.7" fill="url(#gr)"/><circle cx="653.3" cy="22.4" r="1.7" fill="url(#gy)"/><circle cx="655.9" cy="22.4" r="1.7" fill="url(#gr)"/><circle cx="658.4" cy="22.4" r="1.7" fill="url(#gy)"/><circle cx="661.0" cy="22.4" r="1.7" fill="url(#gr)"/><circle cx="663.5" cy="22.4" r="1.7" fill="url(#gy)"/><circle cx="666.1" cy="22.4" r="1.7" fill="url(#gr)"/><circle cx="668.6" cy="22.4" r="1.7" fill="url(#gy)"/><circle cx="671.2" cy="22.4" r="1.7" fill="url(#gr)"/><circle cx="673.7" cy="22.4" r="1.7" fill="url(#gy)"/><circle cx="676.3" cy="22.4" r="1.7" fill="url(#gr)"/><circle cx="678.8" cy="22.4" r="1.7" fill="url(#gy)"/><circle cx="681.4" cy="22.4" r="1.7" fill="url(#gr)"/><circle cx="683.9" cy="22.4" r="1.7" fill="url(#gy)"/><circle cx="686.5" cy="22.4" r="1.7" fill="url(#gr)"/><circle cx="590.9" cy="26.2" r="1.85" fill="url(#gr)"/><circle cx="596.0" cy="26.2" r="1.85" fill="url(#gr)"/><circle cx="601.1" cy="26.2" r="1.85" fill="url(#gr)"/><circle cx="606.2" cy="26.2" r="1.85" fill="url(#gr)"/><circle cx="611.3" cy="26.2" r="1.85" fill="url(#gr)"/><circle cx="616.4" cy="26.2" r="1.85" fill="url(#gr)"/><circle cx="621.5" cy="26.2" r="1.85" fill="url(#gr)"/><circle cx="626.6" cy="26.2" r="1.85" fill="url(#gr)"/><circle cx="631.7" cy="26.2" r="1.85" fill="url(#gr)"/><circle cx="636.8" cy="26.2" r="1.85" fill="url(#gr)"/><circle cx="641.9" cy="26.2" r="1.85" fill="url(#gr)"/><circle cx="647.0" cy="26.2" r="1.85" fill="url(#gr)"/><circle cx="652.1" cy="26.2" r="1.85" fill="url(#gr)"/><circle cx="657.2" cy="26.2" r="1.85" fill="url(#gr)"/><circle cx="662.3" cy="26.2" r="1.85" fill="url(#gr)"/><circle cx="667.4" cy="26.2" r="1.85" fill="url(#gr)"/><circle cx="672.5" cy="26.2" r="1.85" fill="url(#gr)"/><circle cx="677.6" cy="26.2" r="1.85" fill="url(#gr)"/><circle cx="682.7" cy="26.2" r="1.85" fill="url(#gr)"/><circle cx="687.8" cy="26.2" r="1.85" fill="url(#gr)"/><circle cx="592.8" cy="28.2" r="1.75" fill="url(#gk)"/><circle cx="597.9" cy="28.2" r="1.75" fill="url(#gk)"/><circle cx="603.0" cy="28.2" r="1.75" fill="url(#gk)"/><circle cx="608.1" cy="28.2" r="1.75" fill="url(#gk)"/><circle cx="613.2" cy="28.2" r="1.75" fill="url(#gk)"/><circle cx="618.3" cy="28.2" r="1.75" fill="url(#gk)"/><circle cx="623.4" cy="28.2" r="1.75" fill="url(#gk)"/><circle cx="628.5" cy="28.2" r="1.75" fill="url(#gk)"/><circle cx="633.6" cy="28.2" r="1.75" fill="url(#gk)"/><circle cx="638.7" cy="28.2" r="1.75" fill="url(#gk)"/><circle cx="643.8" cy="28.2" r="1.75" fill="url(#gk)"/><circle cx="648.9" cy="28.2" r="1.75" fill="url(#gk)"/><circle cx="654.0" cy="28.2" r="1.75" fill="url(#gk)"/><circle cx="659.1" cy="28.2" r="1.75" fill="url(#gk)"/><circle cx="664.2" cy="28.2" r="1.75" fill="url(#gk)"/><circle cx="669.3" cy="28.2" r="1.75" fill="url(#gk)"/><circle cx="674.4" cy="28.2" r="1.75" fill="url(#gk)"/><circle cx="679.5" cy="28.2" r="1.75" fill="url(#gk)"/><circle cx="684.6" cy="28.2" r="1.75" fill="url(#gk)"/><circle cx="590.1" cy="30.0" r="1.85" fill="url(#gr)"/><circle cx="595.2" cy="30.0" r="1.85" fill="url(#gr)"/><circle cx="600.3" cy="30.0" r="1.85" fill="url(#gr)"/><circle cx="605.4" cy="30.0" r="1.85" fill="url(#gr)"/><circle cx="610.5" cy="30.0" r="1.85" fill="url(#gr)"/><circle cx="615.6" cy="30.0" r="1.85" fill="url(#gr)"/><circle cx="620.7" cy="30.0" r="1.85" fill="url(#gr)"/><circle cx="625.8" cy="30.0" r="1.85" fill="url(#gr)"/><circle cx="630.9" cy="30.0" r="1.85" fill="url(#gr)"/><circle cx="636.0" cy="30.0" r="1.85" fill="url(#gr)"/><circle cx="641.1" cy="30.0" r="1.85" fill="url(#gr)"/><circle cx="646.2" cy="30.0" r="1.85" fill="url(#gr)"/><circle cx="651.3" cy="30.0" r="1.85" fill="url(#gr)"/><circle cx="656.4" cy="30.0" r="1.85" fill="url(#gr)"/><circle cx="661.5" cy="30.0" r="1.85" fill="url(#gr)"/><circle cx="666.6" cy="30.0" r="1.85" fill="url(#gr)"/><circle cx="671.7" cy="30.0" r="1.85" fill="url(#gr)"/><circle cx="676.8" cy="30.0" r="1.85" fill="url(#gr)"/><circle cx="681.9" cy="30.0" r="1.85" fill="url(#gr)"/><circle cx="687.0" cy="30.0" r="1.85" fill="url(#gr)"/><circle cx="591.3" cy="33.6" r="1.7" fill="url(#gy)"/><circle cx="593.9" cy="33.6" r="1.7" fill="url(#gr)"/><circle cx="596.4" cy="33.6" r="1.7" fill="url(#gy)"/><circle cx="598.9" cy="33.6" r="1.7" fill="url(#gr)"/><circle cx="601.5" cy="33.6" r="1.7" fill="url(#gy)"/><circle cx="604.0" cy="33.6" r="1.7" fill="url(#gr)"/><circle cx="606.6" cy="33.6" r="1.7" fill="url(#gy)"/><circle cx="609.1" cy="33.6" r="1.7" fill="url(#gr)"/><circle cx="611.7" cy="33.6" r="1.7" fill="url(#gy)"/><circle cx="614.2" cy="33.6" r="1.7" fill="url(#gr)"/><circle cx="616.8" cy="33.6" r="1.7" fill="url(#gy)"/><circle cx="619.3" cy="33.6" r="1.7" fill="url(#gr)"/><circle cx="621.9" cy="33.6" r="1.7" fill="url(#gy)"/><circle cx="624.4" cy="33.6" r="1.7" fill="url(#gr)"/><circle cx="627.0" cy="33.6" r="1.7" fill="url(#gy)"/><circle cx="629.5" cy="33.6" r="1.7" fill="url(#gr)"/><circle cx="632.1" cy="33.6" r="1.7" fill="url(#gy)"/><circle cx="634.6" cy="33.6" r="1.7" fill="url(#gr)"/><circle cx="637.2" cy="33.6" r="1.7" fill="url(#gy)"/><circle cx="639.7" cy="33.6" r="1.7" fill="url(#gr)"/><circle cx="642.3" cy="33.6" r="1.7" fill="url(#gy)"/><circle cx="644.8" cy="33.6" r="1.7" fill="url(#gr)"/><circle cx="647.4" cy="33.6" r="1.7" fill="url(#gy)"/><circle cx="649.9" cy="33.6" r="1.7" fill="url(#gr)"/><circle cx="652.5" cy="33.6" r="1.7" fill="url(#gy)"/><circle cx="655.0" cy="33.6" r="1.7" fill="url(#gr)"/><circle cx="657.6" cy="33.6" r="1.7" fill="url(#gy)"/><circle cx="660.1" cy="33.6" r="1.7" fill="url(#gr)"/><circle cx="662.7" cy="33.6" r="1.7" fill="url(#gy)"/><circle cx="665.2" cy="33.6" r="1.7" fill="url(#gr)"/><circle cx="667.8" cy="33.6" r="1.7" fill="url(#gy)"/><circle cx="670.3" cy="33.6" r="1.7" fill="url(#gr)"/><circle cx="672.9" cy="33.6" r="1.7" fill="url(#gy)"/><circle cx="675.4" cy="33.6" r="1.7" fill="url(#gr)"/><circle cx="678.0" cy="33.6" r="1.7" fill="url(#gy)"/><circle cx="680.5" cy="33.6" r="1.7" fill="url(#gr)"/><circle cx="683.1" cy="33.6" r="1.7" fill="url(#gy)"/><circle cx="685.6" cy="33.6" r="1.7" fill="url(#gr)"/><circle cx="688.2" cy="33.6" r="1.7" fill="url(#gy)"/><circle cx="591.3" cy="41.6" r="1.7" fill="url(#gr)"/><circle cx="593.9" cy="41.6" r="1.7" fill="url(#gy)"/><circle cx="596.4" cy="41.6" r="1.7" fill="url(#gr)"/><circle cx="598.9" cy="41.6" r="1.7" fill="url(#gy)"/><circle cx="601.5" cy="41.6" r="1.7" fill="url(#gr)"/><circle cx="604.0" cy="41.6" r="1.7" fill="url(#gy)"/><circle cx="606.6" cy="41.6" r="1.7" fill="url(#gr)"/><circle cx="609.1" cy="41.6" r="1.7" fill="url(#gy)"/><circle cx="611.7" cy="41.6" r="1.7" fill="url(#gr)"/><circle cx="614.2" cy="41.6" r="1.7" fill="url(#gy)"/><circle cx="616.8" cy="41.6" r="1.7" fill="url(#gr)"/><circle cx="619.3" cy="41.6" r="1.7" fill="url(#gy)"/><circle cx="621.9" cy="41.6" r="1.7" fill="url(#gr)"/><circle cx="624.4" cy="41.6" r="1.7" fill="url(#gy)"/><circle cx="627.0" cy="41.6" r="1.7" fill="url(#gr)"/><circle cx="629.5" cy="41.6" r="1.7" fill="url(#gy)"/><circle cx="632.1" cy="41.6" r="1.7" fill="url(#gr)"/><circle cx="634.6" cy="41.6" r="1.7" fill="url(#gy)"/><circle cx="637.2" cy="41.6" r="1.7" fill="url(#gr)"/><circle cx="639.7" cy="41.6" r="1.7" fill="url(#gy)"/><circle cx="642.3" cy="41.6" r="1.7" fill="url(#gr)"/><circle cx="644.8" cy="41.6" r="1.7" fill="url(#gy)"/><circle cx="647.4" cy="41.6" r="1.7" fill="url(#gr)"/><circle cx="649.9" cy="41.6" r="1.7" fill="url(#gy)"/><circle cx="652.5" cy="41.6" r="1.7" fill="url(#gr)"/><circle cx="655.0" cy="41.6" r="1.7" fill="url(#gy)"/><circle cx="657.6" cy="41.6" r="1.7" fill="url(#gr)"/><circle cx="660.1" cy="41.6" r="1.7" fill="url(#gy)"/><circle cx="662.7" cy="41.6" r="1.7" fill="url(#gr)"/><circle cx="665.2" cy="41.6" r="1.7" fill="url(#gy)"/><circle cx="667.8" cy="41.6" r="1.7" fill="url(#gr)"/><circle cx="670.3" cy="41.6" r="1.7" fill="url(#gy)"/><circle cx="672.9" cy="41.6" r="1.7" fill="url(#gr)"/><circle cx="675.4" cy="41.6" r="1.7" fill="url(#gy)"/><circle cx="678.0" cy="41.6" r="1.7" fill="url(#gr)"/><circle cx="680.5" cy="41.6" r="1.7" fill="url(#gy)"/><circle cx="683.1" cy="41.6" r="1.7" fill="url(#gr)"/><circle cx="685.6" cy="41.6" r="1.7" fill="url(#gy)"/><circle cx="688.2" cy="41.6" r="1.7" fill="url(#gr)"/><circle cx="592.6" cy="45.4" r="1.85" fill="url(#gr)"/><circle cx="597.7" cy="45.4" r="1.85" fill="url(#gr)"/><circle cx="602.8" cy="45.4" r="1.85" fill="url(#gr)"/><circle cx="607.9" cy="45.4" r="1.85" fill="url(#gr)"/><circle cx="613.0" cy="45.4" r="1.85" fill="url(#gr)"/><circle cx="618.1" cy="45.4" r="1.85" fill="url(#gr)"/><circle cx="623.2" cy="45.4" r="1.85" fill="url(#gr)"/><circle cx="628.3" cy="45.4" r="1.85" fill="url(#gr)"/><circle cx="633.4" cy="45.4" r="1.85" fill="url(#gr)"/><circle cx="638.5" cy="45.4" r="1.85" fill="url(#gr)"/><circle cx="643.6" cy="45.4" r="1.85" fill="url(#gr)"/><circle cx="648.7" cy="45.4" r="1.85" fill="url(#gr)"/><circle cx="653.8" cy="45.4" r="1.85" fill="url(#gr)"/><circle cx="658.9" cy="45.4" r="1.85" fill="url(#gr)"/><circle cx="664.0" cy="45.4" r="1.85" fill="url(#gr)"/><circle cx="669.1" cy="45.4" r="1.85" fill="url(#gr)"/><circle cx="674.2" cy="45.4" r="1.85" fill="url(#gr)"/><circle cx="679.3" cy="45.4" r="1.85" fill="url(#gr)"/><circle cx="684.4" cy="45.4" r="1.85" fill="url(#gr)"/><circle cx="594.5" cy="47.4" r="1.75" fill="url(#gk)"/><circle cx="599.6" cy="47.4" r="1.75" fill="url(#gk)"/><circle cx="604.7" cy="47.4" r="1.75" fill="url(#gk)"/><circle cx="609.8" cy="47.4" r="1.75" fill="url(#gk)"/><circle cx="614.9" cy="47.4" r="1.75" fill="url(#gk)"/><circle cx="620.0" cy="47.4" r="1.75" fill="url(#gk)"/><circle cx="625.1" cy="47.4" r="1.75" fill="url(#gk)"/><circle cx="630.2" cy="47.4" r="1.75" fill="url(#gk)"/><circle cx="635.3" cy="47.4" r="1.75" fill="url(#gk)"/><circle cx="640.4" cy="47.4" r="1.75" fill="url(#gk)"/><circle cx="645.5" cy="47.4" r="1.75" fill="url(#gk)"/><circle cx="650.6" cy="47.4" r="1.75" fill="url(#gk)"/><circle cx="655.7" cy="47.4" r="1.75" fill="url(#gk)"/><circle cx="660.8" cy="47.4" r="1.75" fill="url(#gk)"/><circle cx="665.9" cy="47.4" r="1.75" fill="url(#gk)"/><circle cx="671.0" cy="47.4" r="1.75" fill="url(#gk)"/><circle cx="676.1" cy="47.4" r="1.75" fill="url(#gk)"/><circle cx="681.2" cy="47.4" r="1.75" fill="url(#gk)"/><circle cx="686.3" cy="47.4" r="1.75" fill="url(#gk)"/><circle cx="591.8" cy="49.2" r="1.85" fill="url(#gr)"/><circle cx="596.9" cy="49.2" r="1.85" fill="url(#gr)"/><circle cx="602.0" cy="49.2" r="1.85" fill="url(#gr)"/><circle cx="607.1" cy="49.2" r="1.85" fill="url(#gr)"/><circle cx="612.2" cy="49.2" r="1.85" fill="url(#gr)"/><circle cx="617.3" cy="49.2" r="1.85" fill="url(#gr)"/><circle cx="622.4" cy="49.2" r="1.85" fill="url(#gr)"/><circle cx="627.5" cy="49.2" r="1.85" fill="url(#gr)"/><circle cx="632.6" cy="49.2" r="1.85" fill="url(#gr)"/><circle cx="637.7" cy="49.2" r="1.85" fill="url(#gr)"/><circle cx="642.8" cy="49.2" r="1.85" fill="url(#gr)"/><circle cx="647.9" cy="49.2" r="1.85" fill="url(#gr)"/><circle cx="653.0" cy="49.2" r="1.85" fill="url(#gr)"/><circle cx="658.1" cy="49.2" r="1.85" fill="url(#gr)"/><circle cx="663.2" cy="49.2" r="1.85" fill="url(#gr)"/><circle cx="668.3" cy="49.2" r="1.85" fill="url(#gr)"/><circle cx="673.4" cy="49.2" r="1.85" fill="url(#gr)"/><circle cx="678.5" cy="49.2" r="1.85" fill="url(#gr)"/><circle cx="683.6" cy="49.2" r="1.85" fill="url(#gr)"/><circle cx="593.0" cy="52.8" r="1.7" fill="url(#gy)"/><circle cx="595.5" cy="52.8" r="1.7" fill="url(#gr)"/><circle cx="598.1" cy="52.8" r="1.7" fill="url(#gy)"/><circle cx="600.6" cy="52.8" r="1.7" fill="url(#gr)"/><circle cx="603.2" cy="52.8" r="1.7" fill="url(#gy)"/><circle cx="605.7" cy="52.8" r="1.7" fill="url(#gr)"/><circle cx="608.3" cy="52.8" r="1.7" fill="url(#gy)"/><circle cx="610.8" cy="52.8" r="1.7" fill="url(#gr)"/><circle cx="613.4" cy="52.8" r="1.7" fill="url(#gy)"/><circle cx="615.9" cy="52.8" r="1.7" fill="url(#gr)"/><circle cx="618.5" cy="52.8" r="1.7" fill="url(#gy)"/><circle cx="621.0" cy="52.8" r="1.7" fill="url(#gr)"/><circle cx="623.6" cy="52.8" r="1.7" fill="url(#gy)"/><circle cx="626.1" cy="52.8" r="1.7" fill="url(#gr)"/><circle cx="628.7" cy="52.8" r="1.7" fill="url(#gy)"/><circle cx="631.2" cy="52.8" r="1.7" fill="url(#gr)"/><circle cx="633.8" cy="52.8" r="1.7" fill="url(#gy)"/><circle cx="636.3" cy="52.8" r="1.7" fill="url(#gr)"/><circle cx="638.9" cy="52.8" r="1.7" fill="url(#gy)"/><circle cx="641.4" cy="52.8" r="1.7" fill="url(#gr)"/><circle cx="644.0" cy="52.8" r="1.7" fill="url(#gy)"/><circle cx="646.5" cy="52.8" r="1.7" fill="url(#gr)"/><circle cx="649.1" cy="52.8" r="1.7" fill="url(#gy)"/><circle cx="651.6" cy="52.8" r="1.7" fill="url(#gr)"/><circle cx="654.2" cy="52.8" r="1.7" fill="url(#gy)"/><circle cx="656.7" cy="52.8" r="1.7" fill="url(#gr)"/><circle cx="659.3" cy="52.8" r="1.7" fill="url(#gy)"/><circle cx="661.8" cy="52.8" r="1.7" fill="url(#gr)"/><circle cx="664.4" cy="52.8" r="1.7" fill="url(#gy)"/><circle cx="666.9" cy="52.8" r="1.7" fill="url(#gr)"/><circle cx="669.5" cy="52.8" r="1.7" fill="url(#gy)"/><circle cx="672.0" cy="52.8" r="1.7" fill="url(#gr)"/><circle cx="674.6" cy="52.8" r="1.7" fill="url(#gy)"/><circle cx="677.1" cy="52.8" r="1.7" fill="url(#gr)"/><circle cx="679.7" cy="52.8" r="1.7" fill="url(#gy)"/><circle cx="682.2" cy="52.8" r="1.7" fill="url(#gr)"/><circle cx="684.8" cy="52.8" r="1.7" fill="url(#gy)"/><circle cx="687.3" cy="52.8" r="1.7" fill="url(#gr)"/><circle cx="593.0" cy="60.8" r="1.7" fill="url(#gr)"/><circle cx="595.5" cy="60.8" r="1.7" fill="url(#gy)"/><circle cx="598.1" cy="60.8" r="1.7" fill="url(#gr)"/><circle cx="600.6" cy="60.8" r="1.7" fill="url(#gy)"/><circle cx="603.2" cy="60.8" r="1.7" fill="url(#gr)"/><circle cx="605.7" cy="60.8" r="1.7" fill="url(#gy)"/><circle cx="608.3" cy="60.8" r="1.7" fill="url(#gr)"/><circle cx="610.8" cy="60.8" r="1.7" fill="url(#gy)"/><circle cx="613.4" cy="60.8" r="1.7" fill="url(#gr)"/><circle cx="615.9" cy="60.8" r="1.7" fill="url(#gy)"/><circle cx="618.5" cy="60.8" r="1.7" fill="url(#gr)"/><circle cx="621.0" cy="60.8" r="1.7" fill="url(#gy)"/><circle cx="623.6" cy="60.8" r="1.7" fill="url(#gr)"/><circle cx="626.1" cy="60.8" r="1.7" fill="url(#gy)"/><circle cx="628.7" cy="60.8" r="1.7" fill="url(#gr)"/><circle cx="631.2" cy="60.8" r="1.7" fill="url(#gy)"/><circle cx="633.8" cy="60.8" r="1.7" fill="url(#gr)"/><circle cx="636.3" cy="60.8" r="1.7" fill="url(#gy)"/><circle cx="638.9" cy="60.8" r="1.7" fill="url(#gr)"/><circle cx="641.4" cy="60.8" r="1.7" fill="url(#gy)"/><circle cx="644.0" cy="60.8" r="1.7" fill="url(#gr)"/><circle cx="646.5" cy="60.8" r="1.7" fill="url(#gy)"/><circle cx="649.1" cy="60.8" r="1.7" fill="url(#gr)"/><circle cx="651.6" cy="60.8" r="1.7" fill="url(#gy)"/><circle cx="654.2" cy="60.8" r="1.7" fill="url(#gr)"/><circle cx="656.7" cy="60.8" r="1.7" fill="url(#gy)"/><circle cx="659.3" cy="60.8" r="1.7" fill="url(#gr)"/><circle cx="661.8" cy="60.8" r="1.7" fill="url(#gy)"/><circle cx="664.4" cy="60.8" r="1.7" fill="url(#gr)"/><circle cx="666.9" cy="60.8" r="1.7" fill="url(#gy)"/><circle cx="669.5" cy="60.8" r="1.7" fill="url(#gr)"/><circle cx="672.0" cy="60.8" r="1.7" fill="url(#gy)"/><circle cx="674.6" cy="60.8" r="1.7" fill="url(#gr)"/><circle cx="677.1" cy="60.8" r="1.7" fill="url(#gy)"/><circle cx="679.7" cy="60.8" r="1.7" fill="url(#gr)"/><circle cx="682.2" cy="60.8" r="1.7" fill="url(#gy)"/><circle cx="684.8" cy="60.8" r="1.7" fill="url(#gr)"/><circle cx="687.3" cy="60.8" r="1.7" fill="url(#gy)"/><circle cx="594.3" cy="64.6" r="1.85" fill="url(#gr)"/><circle cx="599.4" cy="64.6" r="1.85" fill="url(#gr)"/><circle cx="604.5" cy="64.6" r="1.85" fill="url(#gr)"/><circle cx="609.6" cy="64.6" r="1.85" fill="url(#gr)"/><circle cx="614.7" cy="64.6" r="1.85" fill="url(#gr)"/><circle cx="619.8" cy="64.6" r="1.85" fill="url(#gr)"/><circle cx="624.9" cy="64.6" r="1.85" fill="url(#gr)"/><circle cx="630.0" cy="64.6" r="1.85" fill="url(#gr)"/><circle cx="635.1" cy="64.6" r="1.85" fill="url(#gr)"/><circle cx="640.2" cy="64.6" r="1.85" fill="url(#gr)"/><circle cx="645.3" cy="64.6" r="1.85" fill="url(#gr)"/><circle cx="650.4" cy="64.6" r="1.85" fill="url(#gr)"/><circle cx="655.5" cy="64.6" r="1.85" fill="url(#gr)"/><circle cx="660.6" cy="64.6" r="1.85" fill="url(#gr)"/><circle cx="665.7" cy="64.6" r="1.85" fill="url(#gr)"/><circle cx="670.8" cy="64.6" r="1.85" fill="url(#gr)"/><circle cx="675.9" cy="64.6" r="1.85" fill="url(#gr)"/><circle cx="681.0" cy="64.6" r="1.85" fill="url(#gr)"/><circle cx="686.1" cy="64.6" r="1.85" fill="url(#gr)"/><circle cx="596.2" cy="66.6" r="1.75" fill="url(#gk)"/><circle cx="601.3" cy="66.6" r="1.75" fill="url(#gk)"/><circle cx="606.4" cy="66.6" r="1.75" fill="url(#gk)"/><circle cx="611.5" cy="66.6" r="1.75" fill="url(#gk)"/><circle cx="616.6" cy="66.6" r="1.75" fill="url(#gk)"/><circle cx="621.7" cy="66.6" r="1.75" fill="url(#gk)"/><circle cx="626.8" cy="66.6" r="1.75" fill="url(#gk)"/><circle cx="631.9" cy="66.6" r="1.75" fill="url(#gk)"/><circle cx="637.0" cy="66.6" r="1.75" fill="url(#gk)"/><circle cx="642.1" cy="66.6" r="1.75" fill="url(#gk)"/><circle cx="647.2" cy="66.6" r="1.75" fill="url(#gk)"/><circle cx="652.3" cy="66.6" r="1.75" fill="url(#gk)"/><circle cx="657.4" cy="66.6" r="1.75" fill="url(#gk)"/><circle cx="662.5" cy="66.6" r="1.75" fill="url(#gk)"/><circle cx="667.6" cy="66.6" r="1.75" fill="url(#gk)"/><circle cx="672.7" cy="66.6" r="1.75" fill="url(#gk)"/><circle cx="677.8" cy="66.6" r="1.75" fill="url(#gk)"/><circle cx="682.9" cy="66.6" r="1.75" fill="url(#gk)"/><circle cx="688.0" cy="66.6" r="1.75" fill="url(#gk)"/><circle cx="593.5" cy="68.4" r="1.85" fill="url(#gr)"/><circle cx="598.6" cy="68.4" r="1.85" fill="url(#gr)"/><circle cx="603.7" cy="68.4" r="1.85" fill="url(#gr)"/><circle cx="608.8" cy="68.4" r="1.85" fill="url(#gr)"/><circle cx="613.9" cy="68.4" r="1.85" fill="url(#gr)"/><circle cx="619.0" cy="68.4" r="1.85" fill="url(#gr)"/><circle cx="624.1" cy="68.4" r="1.85" fill="url(#gr)"/><circle cx="629.2" cy="68.4" r="1.85" fill="url(#gr)"/><circle cx="634.3" cy="68.4" r="1.85" fill="url(#gr)"/><circle cx="639.4" cy="68.4" r="1.85" fill="url(#gr)"/><circle cx="644.5" cy="68.4" r="1.85" fill="url(#gr)"/><circle cx="649.6" cy="68.4" r="1.85" fill="url(#gr)"/><circle cx="654.7" cy="68.4" r="1.85" fill="url(#gr)"/><circle cx="659.8" cy="68.4" r="1.85" fill="url(#gr)"/><circle cx="664.9" cy="68.4" r="1.85" fill="url(#gr)"/><circle cx="670.0" cy="68.4" r="1.85" fill="url(#gr)"/><circle cx="675.1" cy="68.4" r="1.85" fill="url(#gr)"/><circle cx="680.2" cy="68.4" r="1.85" fill="url(#gr)"/><circle cx="685.3" cy="68.4" r="1.85" fill="url(#gr)"/><circle cx="594.7" cy="72.0" r="1.7" fill="url(#gy)"/><circle cx="597.2" cy="72.0" r="1.7" fill="url(#gr)"/><circle cx="599.8" cy="72.0" r="1.7" fill="url(#gy)"/><circle cx="602.3" cy="72.0" r="1.7" fill="url(#gr)"/><circle cx="604.9" cy="72.0" r="1.7" fill="url(#gy)"/><circle cx="607.4" cy="72.0" r="1.7" fill="url(#gr)"/><circle cx="610.0" cy="72.0" r="1.7" fill="url(#gy)"/><circle cx="612.5" cy="72.0" r="1.7" fill="url(#gr)"/><circle cx="615.1" cy="72.0" r="1.7" fill="url(#gy)"/><circle cx="617.6" cy="72.0" r="1.7" fill="url(#gr)"/><circle cx="620.2" cy="72.0" r="1.7" fill="url(#gy)"/><circle cx="622.7" cy="72.0" r="1.7" fill="url(#gr)"/><circle cx="625.3" cy="72.0" r="1.7" fill="url(#gy)"/><circle cx="627.8" cy="72.0" r="1.7" fill="url(#gr)"/><circle cx="630.4" cy="72.0" r="1.7" fill="url(#gy)"/><circle cx="632.9" cy="72.0" r="1.7" fill="url(#gr)"/><circle cx="635.5" cy="72.0" r="1.7" fill="url(#gy)"/><circle cx="638.0" cy="72.0" r="1.7" fill="url(#gr)"/><circle cx="640.6" cy="72.0" r="1.7" fill="url(#gy)"/><circle cx="643.1" cy="72.0" r="1.7" fill="url(#gr)"/><circle cx="645.7" cy="72.0" r="1.7" fill="url(#gy)"/><circle cx="648.2" cy="72.0" r="1.7" fill="url(#gr)"/><circle cx="650.8" cy="72.0" r="1.7" fill="url(#gy)"/><circle cx="653.3" cy="72.0" r="1.7" fill="url(#gr)"/><circle cx="655.9" cy="72.0" r="1.7" fill="url(#gy)"/><circle cx="658.4" cy="72.0" r="1.7" fill="url(#gr)"/><circle cx="661.0" cy="72.0" r="1.7" fill="url(#gy)"/><circle cx="663.5" cy="72.0" r="1.7" fill="url(#gr)"/><circle cx="666.1" cy="72.0" r="1.7" fill="url(#gy)"/><circle cx="668.6" cy="72.0" r="1.7" fill="url(#gr)"/><circle cx="671.2" cy="72.0" r="1.7" fill="url(#gy)"/><circle cx="673.7" cy="72.0" r="1.7" fill="url(#gr)"/><circle cx="676.3" cy="72.0" r="1.7" fill="url(#gy)"/><circle cx="678.8" cy="72.0" r="1.7" fill="url(#gr)"/><circle cx="681.4" cy="72.0" r="1.7" fill="url(#gy)"/><circle cx="683.9" cy="72.0" r="1.7" fill="url(#gr)"/><circle cx="686.5" cy="72.0" r="1.7" fill="url(#gy)"/><circle cx="589.6" cy="18.6" r="2.0" fill="url(#gc)"/><circle cx="594.7" cy="18.6" r="2.0" fill="url(#gc)"/><circle cx="599.8" cy="18.6" r="2.0" fill="url(#gc)"/><circle cx="604.9" cy="18.6" r="2.0" fill="url(#gc)"/><circle cx="610.0" cy="18.6" r="2.0" fill="url(#gc)"/><circle cx="615.1" cy="18.6" r="2.0" fill="url(#gc)"/><circle cx="620.2" cy="18.6" r="2.0" fill="url(#gc)"/><circle cx="625.3" cy="18.6" r="2.0" fill="url(#gc)"/><circle cx="630.4" cy="18.6" r="2.0" fill="url(#gc)"/><circle cx="635.5" cy="18.6" r="2.0" fill="url(#gc)"/><circle cx="640.6" cy="18.6" r="2.0" fill="url(#gc)"/><circle cx="645.7" cy="18.6" r="2.0" fill="url(#gc)"/><circle cx="650.8" cy="18.6" r="2.0" fill="url(#gc)"/><circle cx="655.9" cy="18.6" r="2.0" fill="url(#gc)"/><circle cx="661.0" cy="18.6" r="2.0" fill="url(#gc)"/><circle cx="666.1" cy="18.6" r="2.0" fill="url(#gc)"/><circle cx="671.2" cy="18.6" r="2.0" fill="url(#gc)"/><circle cx="676.3" cy="18.6" r="2.0" fill="url(#gc)"/><circle cx="681.4" cy="18.6" r="2.0" fill="url(#gc)"/><circle cx="686.5" cy="18.6" r="2.0" fill="url(#gc)"/><circle cx="591.4" cy="37.8" r="2.0" fill="url(#gc)"/><circle cx="596.5" cy="37.8" r="2.0" fill="url(#gc)"/><circle cx="601.6" cy="37.8" r="2.0" fill="url(#gc)"/><circle cx="606.7" cy="37.8" r="2.0" fill="url(#gc)"/><circle cx="611.8" cy="37.8" r="2.0" fill="url(#gc)"/><circle cx="616.9" cy="37.8" r="2.0" fill="url(#gc)"/><circle cx="622.0" cy="37.8" r="2.0" fill="url(#gc)"/><circle cx="627.1" cy="37.8" r="2.0" fill="url(#gc)"/><circle cx="632.2" cy="37.8" r="2.0" fill="url(#gc)"/><circle cx="637.3" cy="37.8" r="2.0" fill="url(#gc)"/><circle cx="642.4" cy="37.8" r="2.0" fill="url(#gc)"/><circle cx="647.5" cy="37.8" r="2.0" fill="url(#gc)"/><circle cx="652.6" cy="37.8" r="2.0" fill="url(#gc)"/><circle cx="657.7" cy="37.8" r="2.0" fill="url(#gc)"/><circle cx="662.8" cy="37.8" r="2.0" fill="url(#gc)"/><circle cx="667.9" cy="37.8" r="2.0" fill="url(#gc)"/><circle cx="673.0" cy="37.8" r="2.0" fill="url(#gc)"/><circle cx="678.1" cy="37.8" r="2.0" fill="url(#gc)"/><circle cx="683.2" cy="37.8" r="2.0" fill="url(#gc)"/><circle cx="593.2" cy="57.0" r="2.0" fill="url(#gc)"/><circle cx="598.3" cy="57.0" r="2.0" fill="url(#gc)"/><circle cx="603.4" cy="57.0" r="2.0" fill="url(#gc)"/><circle cx="608.5" cy="57.0" r="2.0" fill="url(#gc)"/><circle cx="613.6" cy="57.0" r="2.0" fill="url(#gc)"/><circle cx="618.7" cy="57.0" r="2.0" fill="url(#gc)"/><circle cx="623.8" cy="57.0" r="2.0" fill="url(#gc)"/><circle cx="628.9" cy="57.0" r="2.0" fill="url(#gc)"/><circle cx="634.0" cy="57.0" r="2.0" fill="url(#gc)"/><circle cx="639.1" cy="57.0" r="2.0" fill="url(#gc)"/><circle cx="644.2" cy="57.0" r="2.0" fill="url(#gc)"/><circle cx="649.3" cy="57.0" r="2.0" fill="url(#gc)"/><circle cx="654.4" cy="57.0" r="2.0" fill="url(#gc)"/><circle cx="659.5" cy="57.0" r="2.0" fill="url(#gc)"/><circle cx="664.6" cy="57.0" r="2.0" fill="url(#gc)"/><circle cx="669.7" cy="57.0" r="2.0" fill="url(#gc)"/><circle cx="674.8" cy="57.0" r="2.0" fill="url(#gc)"/><circle cx="679.9" cy="57.0" r="2.0" fill="url(#gc)"/><circle cx="685.0" cy="57.0" r="2.0" fill="url(#gc)"/><circle cx="590.2" cy="76.2" r="2.3" fill="url(#gu)"/><circle cx="594.8" cy="76.2" r="2.3" fill="url(#gu)"/><circle cx="599.4" cy="76.2" r="2.3" fill="url(#gu)"/><circle cx="604.0" cy="76.2" r="2.3" fill="url(#gu)"/><circle cx="608.6" cy="76.2" r="2.3" fill="url(#gu)"/><circle cx="613.2" cy="76.2" r="2.3" fill="url(#gu)"/><circle cx="617.8" cy="76.2" r="2.3" fill="url(#gu)"/><circle cx="622.4" cy="76.2" r="2.3" fill="url(#gu)"/><circle cx="627.0" cy="76.2" r="2.3" fill="url(#gu)"/><circle cx="631.6" cy="76.2" r="2.3" fill="url(#gu)"/><circle cx="636.2" cy="76.2" r="2.3" fill="url(#gu)"/><circle cx="640.8" cy="76.2" r="2.3" fill="url(#gu)"/><circle cx="645.4" cy="76.2" r="2.3" fill="url(#gu)"/><circle cx="650.0" cy="76.2" r="2.3" fill="url(#gu)"/><circle cx="654.6" cy="76.2" r="2.3" fill="url(#gu)"/><circle cx="659.2" cy="76.2" r="2.3" fill="url(#gu)"/><circle cx="663.8" cy="76.2" r="2.3" fill="url(#gu)"/><circle cx="668.4" cy="76.2" r="2.3" fill="url(#gu)"/><circle cx="673.0" cy="76.2" r="2.3" fill="url(#gu)"/><circle cx="677.6" cy="76.2" r="2.3" fill="url(#gu)"/><circle cx="682.2" cy="76.2" r="2.3" fill="url(#gu)"/><circle cx="686.8" cy="76.2" r="2.3" fill="url(#gu)"/><circle cx="589.6" cy="323.4" r="1.7" fill="url(#gr)"/><circle cx="592.1" cy="323.4" r="1.7" fill="url(#gy)"/><circle cx="594.7" cy="323.4" r="1.7" fill="url(#gr)"/><circle cx="597.2" cy="323.4" r="1.7" fill="url(#gy)"/><circle cx="599.8" cy="323.4" r="1.7" fill="url(#gr)"/><circle cx="602.3" cy="323.4" r="1.7" fill="url(#gy)"/><circle cx="604.9" cy="323.4" r="1.7" fill="url(#gr)"/><circle cx="607.4" cy="323.4" r="1.7" fill="url(#gy)"/><circle cx="610.0" cy="323.4" r="1.7" fill="url(#gr)"/><circle cx="612.5" cy="323.4" r="1.7" fill="url(#gy)"/><circle cx="615.1" cy="323.4" r="1.7" fill="url(#gr)"/><circle cx="617.6" cy="323.4" r="1.7" fill="url(#gy)"/><circle cx="620.2" cy="323.4" r="1.7" fill="url(#gr)"/><circle cx="622.7" cy="323.4" r="1.7" fill="url(#gy)"/><circle cx="625.3" cy="323.4" r="1.7" fill="url(#gr)"/><circle cx="627.8" cy="323.4" r="1.7" fill="url(#gy)"/><circle cx="630.4" cy="323.4" r="1.7" fill="url(#gr)"/><circle cx="632.9" cy="323.4" r="1.7" fill="url(#gy)"/><circle cx="635.5" cy="323.4" r="1.7" fill="url(#gr)"/><circle cx="638.0" cy="323.4" r="1.7" fill="url(#gy)"/><circle cx="640.6" cy="323.4" r="1.7" fill="url(#gr)"/><circle cx="643.1" cy="323.4" r="1.7" fill="url(#gy)"/><circle cx="645.7" cy="323.4" r="1.7" fill="url(#gr)"/><circle cx="648.2" cy="323.4" r="1.7" fill="url(#gy)"/><circle cx="650.8" cy="323.4" r="1.7" fill="url(#gr)"/><circle cx="653.3" cy="323.4" r="1.7" fill="url(#gy)"/><circle cx="655.9" cy="323.4" r="1.7" fill="url(#gr)"/><circle cx="658.4" cy="323.4" r="1.7" fill="url(#gy)"/><circle cx="661.0" cy="323.4" r="1.7" fill="url(#gr)"/><circle cx="663.5" cy="323.4" r="1.7" fill="url(#gy)"/><circle cx="666.1" cy="323.4" r="1.7" fill="url(#gr)"/><circle cx="668.6" cy="323.4" r="1.7" fill="url(#gy)"/><circle cx="671.2" cy="323.4" r="1.7" fill="url(#gr)"/><circle cx="673.7" cy="323.4" r="1.7" fill="url(#gy)"/><circle cx="676.3" cy="323.4" r="1.7" fill="url(#gr)"/><circle cx="678.8" cy="323.4" r="1.7" fill="url(#gy)"/><circle cx="681.4" cy="323.4" r="1.7" fill="url(#gr)"/><circle cx="683.9" cy="323.4" r="1.7" fill="url(#gy)"/><circle cx="686.5" cy="323.4" r="1.7" fill="url(#gr)"/><circle cx="590.9" cy="319.6" r="1.85" fill="url(#gr)"/><circle cx="596.0" cy="319.6" r="1.85" fill="url(#gr)"/><circle cx="601.1" cy="319.6" r="1.85" fill="url(#gr)"/><circle cx="606.2" cy="319.6" r="1.85" fill="url(#gr)"/><circle cx="611.3" cy="319.6" r="1.85" fill="url(#gr)"/><circle cx="616.4" cy="319.6" r="1.85" fill="url(#gr)"/><circle cx="621.5" cy="319.6" r="1.85" fill="url(#gr)"/><circle cx="626.6" cy="319.6" r="1.85" fill="url(#gr)"/><circle cx="631.7" cy="319.6" r="1.85" fill="url(#gr)"/><circle cx="636.8" cy="319.6" r="1.85" fill="url(#gr)"/><circle cx="641.9" cy="319.6" r="1.85" fill="url(#gr)"/><circle cx="647.0" cy="319.6" r="1.85" fill="url(#gr)"/><circle cx="652.1" cy="319.6" r="1.85" fill="url(#gr)"/><circle cx="657.2" cy="319.6" r="1.85" fill="url(#gr)"/><circle cx="662.3" cy="319.6" r="1.85" fill="url(#gr)"/><circle cx="667.4" cy="319.6" r="1.85" fill="url(#gr)"/><circle cx="672.5" cy="319.6" r="1.85" fill="url(#gr)"/><circle cx="677.6" cy="319.6" r="1.85" fill="url(#gr)"/><circle cx="682.7" cy="319.6" r="1.85" fill="url(#gr)"/><circle cx="687.8" cy="319.6" r="1.85" fill="url(#gr)"/><circle cx="592.8" cy="317.6" r="1.75" fill="url(#gk)"/><circle cx="597.9" cy="317.6" r="1.75" fill="url(#gk)"/><circle cx="603.0" cy="317.6" r="1.75" fill="url(#gk)"/><circle cx="608.1" cy="317.6" r="1.75" fill="url(#gk)"/><circle cx="613.2" cy="317.6" r="1.75" fill="url(#gk)"/><circle cx="618.3" cy="317.6" r="1.75" fill="url(#gk)"/><circle cx="623.4" cy="317.6" r="1.75" fill="url(#gk)"/><circle cx="628.5" cy="317.6" r="1.75" fill="url(#gk)"/><circle cx="633.6" cy="317.6" r="1.75" fill="url(#gk)"/><circle cx="638.7" cy="317.6" r="1.75" fill="url(#gk)"/><circle cx="643.8" cy="317.6" r="1.75" fill="url(#gk)"/><circle cx="648.9" cy="317.6" r="1.75" fill="url(#gk)"/><circle cx="654.0" cy="317.6" r="1.75" fill="url(#gk)"/><circle cx="659.1" cy="317.6" r="1.75" fill="url(#gk)"/><circle cx="664.2" cy="317.6" r="1.75" fill="url(#gk)"/><circle cx="669.3" cy="317.6" r="1.75" fill="url(#gk)"/><circle cx="674.4" cy="317.6" r="1.75" fill="url(#gk)"/><circle cx="679.5" cy="317.6" r="1.75" fill="url(#gk)"/><circle cx="684.6" cy="317.6" r="1.75" fill="url(#gk)"/><circle cx="590.1" cy="315.8" r="1.85" fill="url(#gr)"/><circle cx="595.2" cy="315.8" r="1.85" fill="url(#gr)"/><circle cx="600.3" cy="315.8" r="1.85" fill="url(#gr)"/><circle cx="605.4" cy="315.8" r="1.85" fill="url(#gr)"/><circle cx="610.5" cy="315.8" r="1.85" fill="url(#gr)"/><circle cx="615.6" cy="315.8" r="1.85" fill="url(#gr)"/><circle cx="620.7" cy="315.8" r="1.85" fill="url(#gr)"/><circle cx="625.8" cy="315.8" r="1.85" fill="url(#gr)"/><circle cx="630.9" cy="315.8" r="1.85" fill="url(#gr)"/><circle cx="636.0" cy="315.8" r="1.85" fill="url(#gr)"/><circle cx="641.1" cy="315.8" r="1.85" fill="url(#gr)"/><circle cx="646.2" cy="315.8" r="1.85" fill="url(#gr)"/><circle cx="651.3" cy="315.8" r="1.85" fill="url(#gr)"/><circle cx="656.4" cy="315.8" r="1.85" fill="url(#gr)"/><circle cx="661.5" cy="315.8" r="1.85" fill="url(#gr)"/><circle cx="666.6" cy="315.8" r="1.85" fill="url(#gr)"/><circle cx="671.7" cy="315.8" r="1.85" fill="url(#gr)"/><circle cx="676.8" cy="315.8" r="1.85" fill="url(#gr)"/><circle cx="681.9" cy="315.8" r="1.85" fill="url(#gr)"/><circle cx="687.0" cy="315.8" r="1.85" fill="url(#gr)"/><circle cx="591.3" cy="312.2" r="1.7" fill="url(#gy)"/><circle cx="593.9" cy="312.2" r="1.7" fill="url(#gr)"/><circle cx="596.4" cy="312.2" r="1.7" fill="url(#gy)"/><circle cx="598.9" cy="312.2" r="1.7" fill="url(#gr)"/><circle cx="601.5" cy="312.2" r="1.7" fill="url(#gy)"/><circle cx="604.0" cy="312.2" r="1.7" fill="url(#gr)"/><circle cx="606.6" cy="312.2" r="1.7" fill="url(#gy)"/><circle cx="609.1" cy="312.2" r="1.7" fill="url(#gr)"/><circle cx="611.7" cy="312.2" r="1.7" fill="url(#gy)"/><circle cx="614.2" cy="312.2" r="1.7" fill="url(#gr)"/><circle cx="616.8" cy="312.2" r="1.7" fill="url(#gy)"/><circle cx="619.3" cy="312.2" r="1.7" fill="url(#gr)"/><circle cx="621.9" cy="312.2" r="1.7" fill="url(#gy)"/><circle cx="624.4" cy="312.2" r="1.7" fill="url(#gr)"/><circle cx="627.0" cy="312.2" r="1.7" fill="url(#gy)"/><circle cx="629.5" cy="312.2" r="1.7" fill="url(#gr)"/><circle cx="632.1" cy="312.2" r="1.7" fill="url(#gy)"/><circle cx="634.6" cy="312.2" r="1.7" fill="url(#gr)"/><circle cx="637.2" cy="312.2" r="1.7" fill="url(#gy)"/><circle cx="639.7" cy="312.2" r="1.7" fill="url(#gr)"/><circle cx="642.3" cy="312.2" r="1.7" fill="url(#gy)"/><circle cx="644.8" cy="312.2" r="1.7" fill="url(#gr)"/><circle cx="647.4" cy="312.2" r="1.7" fill="url(#gy)"/><circle cx="649.9" cy="312.2" r="1.7" fill="url(#gr)"/><circle cx="652.5" cy="312.2" r="1.7" fill="url(#gy)"/><circle cx="655.0" cy="312.2" r="1.7" fill="url(#gr)"/><circle cx="657.6" cy="312.2" r="1.7" fill="url(#gy)"/><circle cx="660.1" cy="312.2" r="1.7" fill="url(#gr)"/><circle cx="662.7" cy="312.2" r="1.7" fill="url(#gy)"/><circle cx="665.2" cy="312.2" r="1.7" fill="url(#gr)"/><circle cx="667.8" cy="312.2" r="1.7" fill="url(#gy)"/><circle cx="670.3" cy="312.2" r="1.7" fill="url(#gr)"/><circle cx="672.9" cy="312.2" r="1.7" fill="url(#gy)"/><circle cx="675.4" cy="312.2" r="1.7" fill="url(#gr)"/><circle cx="678.0" cy="312.2" r="1.7" fill="url(#gy)"/><circle cx="680.5" cy="312.2" r="1.7" fill="url(#gr)"/><circle cx="683.1" cy="312.2" r="1.7" fill="url(#gy)"/><circle cx="685.6" cy="312.2" r="1.7" fill="url(#gr)"/><circle cx="688.2" cy="312.2" r="1.7" fill="url(#gy)"/><circle cx="591.7" cy="343.0" r="1.7" fill="url(#gr)"/><circle cx="594.2" cy="343.0" r="1.7" fill="url(#gy)"/><circle cx="596.8" cy="343.0" r="1.7" fill="url(#gr)"/><circle cx="599.3" cy="343.0" r="1.7" fill="url(#gy)"/><circle cx="601.9" cy="343.0" r="1.7" fill="url(#gr)"/><circle cx="604.4" cy="343.0" r="1.7" fill="url(#gy)"/><circle cx="607.0" cy="343.0" r="1.7" fill="url(#gr)"/><circle cx="609.5" cy="343.0" r="1.7" fill="url(#gy)"/><circle cx="612.1" cy="343.0" r="1.7" fill="url(#gr)"/><circle cx="614.6" cy="343.0" r="1.7" fill="url(#gy)"/><circle cx="617.2" cy="343.0" r="1.7" fill="url(#gr)"/><circle cx="619.7" cy="343.0" r="1.7" fill="url(#gy)"/><circle cx="622.3" cy="343.0" r="1.7" fill="url(#gr)"/><circle cx="624.8" cy="343.0" r="1.7" fill="url(#gy)"/><circle cx="627.4" cy="343.0" r="1.7" fill="url(#gr)"/><circle cx="629.9" cy="343.0" r="1.7" fill="url(#gy)"/><circle cx="632.5" cy="343.0" r="1.7" fill="url(#gr)"/><circle cx="635.0" cy="343.0" r="1.7" fill="url(#gy)"/><circle cx="637.6" cy="343.0" r="1.7" fill="url(#gr)"/><circle cx="640.1" cy="343.0" r="1.7" fill="url(#gy)"/><circle cx="642.7" cy="343.0" r="1.7" fill="url(#gr)"/><circle cx="645.2" cy="343.0" r="1.7" fill="url(#gy)"/><circle cx="647.8" cy="343.0" r="1.7" fill="url(#gr)"/><circle cx="650.3" cy="343.0" r="1.7" fill="url(#gy)"/><circle cx="652.9" cy="343.0" r="1.7" fill="url(#gr)"/><circle cx="655.4" cy="343.0" r="1.7" fill="url(#gy)"/><circle cx="658.0" cy="343.0" r="1.7" fill="url(#gr)"/><circle cx="660.5" cy="343.0" r="1.7" fill="url(#gy)"/><circle cx="663.1" cy="343.0" r="1.7" fill="url(#gr)"/><circle cx="665.6" cy="343.0" r="1.7" fill="url(#gy)"/><circle cx="668.2" cy="343.0" r="1.7" fill="url(#gr)"/><circle cx="670.7" cy="343.0" r="1.7" fill="url(#gy)"/><circle cx="673.3" cy="343.0" r="1.7" fill="url(#gr)"/><circle cx="675.8" cy="343.0" r="1.7" fill="url(#gy)"/><circle cx="678.4" cy="343.0" r="1.7" fill="url(#gr)"/><circle cx="680.9" cy="343.0" r="1.7" fill="url(#gy)"/><circle cx="683.5" cy="343.0" r="1.7" fill="url(#gr)"/><circle cx="686.0" cy="343.0" r="1.7" fill="url(#gy)"/><circle cx="593.0" cy="339.2" r="1.85" fill="url(#gr)"/><circle cx="598.1" cy="339.2" r="1.85" fill="url(#gr)"/><circle cx="603.2" cy="339.2" r="1.85" fill="url(#gr)"/><circle cx="608.3" cy="339.2" r="1.85" fill="url(#gr)"/><circle cx="613.4" cy="339.2" r="1.85" fill="url(#gr)"/><circle cx="618.5" cy="339.2" r="1.85" fill="url(#gr)"/><circle cx="623.6" cy="339.2" r="1.85" fill="url(#gr)"/><circle cx="628.7" cy="339.2" r="1.85" fill="url(#gr)"/><circle cx="633.8" cy="339.2" r="1.85" fill="url(#gr)"/><circle cx="638.9" cy="339.2" r="1.85" fill="url(#gr)"/><circle cx="644.0" cy="339.2" r="1.85" fill="url(#gr)"/><circle cx="649.1" cy="339.2" r="1.85" fill="url(#gr)"/><circle cx="654.2" cy="339.2" r="1.85" fill="url(#gr)"/><circle cx="659.3" cy="339.2" r="1.85" fill="url(#gr)"/><circle cx="664.4" cy="339.2" r="1.85" fill="url(#gr)"/><circle cx="669.5" cy="339.2" r="1.85" fill="url(#gr)"/><circle cx="674.6" cy="339.2" r="1.85" fill="url(#gr)"/><circle cx="679.7" cy="339.2" r="1.85" fill="url(#gr)"/><circle cx="684.8" cy="339.2" r="1.85" fill="url(#gr)"/><circle cx="594.9" cy="337.2" r="1.75" fill="url(#gk)"/><circle cx="600.0" cy="337.2" r="1.75" fill="url(#gk)"/><circle cx="605.1" cy="337.2" r="1.75" fill="url(#gk)"/><circle cx="610.2" cy="337.2" r="1.75" fill="url(#gk)"/><circle cx="615.3" cy="337.2" r="1.75" fill="url(#gk)"/><circle cx="620.4" cy="337.2" r="1.75" fill="url(#gk)"/><circle cx="625.5" cy="337.2" r="1.75" fill="url(#gk)"/><circle cx="630.6" cy="337.2" r="1.75" fill="url(#gk)"/><circle cx="635.7" cy="337.2" r="1.75" fill="url(#gk)"/><circle cx="640.8" cy="337.2" r="1.75" fill="url(#gk)"/><circle cx="645.9" cy="337.2" r="1.75" fill="url(#gk)"/><circle cx="651.0" cy="337.2" r="1.75" fill="url(#gk)"/><circle cx="656.1" cy="337.2" r="1.75" fill="url(#gk)"/><circle cx="661.2" cy="337.2" r="1.75" fill="url(#gk)"/><circle cx="666.3" cy="337.2" r="1.75" fill="url(#gk)"/><circle cx="671.4" cy="337.2" r="1.75" fill="url(#gk)"/><circle cx="676.5" cy="337.2" r="1.75" fill="url(#gk)"/><circle cx="681.6" cy="337.2" r="1.75" fill="url(#gk)"/><circle cx="686.7" cy="337.2" r="1.75" fill="url(#gk)"/><circle cx="592.2" cy="335.4" r="1.85" fill="url(#gr)"/><circle cx="597.3" cy="335.4" r="1.85" fill="url(#gr)"/><circle cx="602.4" cy="335.4" r="1.85" fill="url(#gr)"/><circle cx="607.5" cy="335.4" r="1.85" fill="url(#gr)"/><circle cx="612.6" cy="335.4" r="1.85" fill="url(#gr)"/><circle cx="617.7" cy="335.4" r="1.85" fill="url(#gr)"/><circle cx="622.8" cy="335.4" r="1.85" fill="url(#gr)"/><circle cx="627.9" cy="335.4" r="1.85" fill="url(#gr)"/><circle cx="633.0" cy="335.4" r="1.85" fill="url(#gr)"/><circle cx="638.1" cy="335.4" r="1.85" fill="url(#gr)"/><circle cx="643.2" cy="335.4" r="1.85" fill="url(#gr)"/><circle cx="648.3" cy="335.4" r="1.85" fill="url(#gr)"/><circle cx="653.4" cy="335.4" r="1.85" fill="url(#gr)"/><circle cx="658.5" cy="335.4" r="1.85" fill="url(#gr)"/><circle cx="663.6" cy="335.4" r="1.85" fill="url(#gr)"/><circle cx="668.7" cy="335.4" r="1.85" fill="url(#gr)"/><circle cx="673.8" cy="335.4" r="1.85" fill="url(#gr)"/><circle cx="678.9" cy="335.4" r="1.85" fill="url(#gr)"/><circle cx="684.0" cy="335.4" r="1.85" fill="url(#gr)"/><circle cx="593.4" cy="331.8" r="1.7" fill="url(#gy)"/><circle cx="595.9" cy="331.8" r="1.7" fill="url(#gr)"/><circle cx="598.5" cy="331.8" r="1.7" fill="url(#gy)"/><circle cx="601.0" cy="331.8" r="1.7" fill="url(#gr)"/><circle cx="603.6" cy="331.8" r="1.7" fill="url(#gy)"/><circle cx="606.1" cy="331.8" r="1.7" fill="url(#gr)"/><circle cx="608.7" cy="331.8" r="1.7" fill="url(#gy)"/><circle cx="611.2" cy="331.8" r="1.7" fill="url(#gr)"/><circle cx="613.8" cy="331.8" r="1.7" fill="url(#gy)"/><circle cx="616.3" cy="331.8" r="1.7" fill="url(#gr)"/><circle cx="618.9" cy="331.8" r="1.7" fill="url(#gy)"/><circle cx="621.4" cy="331.8" r="1.7" fill="url(#gr)"/><circle cx="624.0" cy="331.8" r="1.7" fill="url(#gy)"/><circle cx="626.5" cy="331.8" r="1.7" fill="url(#gr)"/><circle cx="629.1" cy="331.8" r="1.7" fill="url(#gy)"/><circle cx="631.6" cy="331.8" r="1.7" fill="url(#gr)"/><circle cx="634.2" cy="331.8" r="1.7" fill="url(#gy)"/><circle cx="636.7" cy="331.8" r="1.7" fill="url(#gr)"/><circle cx="639.3" cy="331.8" r="1.7" fill="url(#gy)"/><circle cx="641.8" cy="331.8" r="1.7" fill="url(#gr)"/><circle cx="644.4" cy="331.8" r="1.7" fill="url(#gy)"/><circle cx="646.9" cy="331.8" r="1.7" fill="url(#gr)"/><circle cx="649.5" cy="331.8" r="1.7" fill="url(#gy)"/><circle cx="652.0" cy="331.8" r="1.7" fill="url(#gr)"/><circle cx="654.6" cy="331.8" r="1.7" fill="url(#gy)"/><circle cx="657.1" cy="331.8" r="1.7" fill="url(#gr)"/><circle cx="659.7" cy="331.8" r="1.7" fill="url(#gy)"/><circle cx="662.2" cy="331.8" r="1.7" fill="url(#gr)"/><circle cx="664.8" cy="331.8" r="1.7" fill="url(#gy)"/><circle cx="667.3" cy="331.8" r="1.7" fill="url(#gr)"/><circle cx="669.9" cy="331.8" r="1.7" fill="url(#gy)"/><circle cx="672.4" cy="331.8" r="1.7" fill="url(#gr)"/><circle cx="675.0" cy="331.8" r="1.7" fill="url(#gy)"/><circle cx="677.5" cy="331.8" r="1.7" fill="url(#gr)"/><circle cx="680.1" cy="331.8" r="1.7" fill="url(#gy)"/><circle cx="682.6" cy="331.8" r="1.7" fill="url(#gr)"/><circle cx="685.2" cy="331.8" r="1.7" fill="url(#gy)"/><circle cx="687.7" cy="331.8" r="1.7" fill="url(#gr)"/><circle cx="593.8" cy="362.5" r="1.7" fill="url(#gr)"/><circle cx="596.4" cy="362.5" r="1.7" fill="url(#gy)"/><circle cx="598.9" cy="362.5" r="1.7" fill="url(#gr)"/><circle cx="601.4" cy="362.5" r="1.7" fill="url(#gy)"/><circle cx="604.0" cy="362.5" r="1.7" fill="url(#gr)"/><circle cx="606.5" cy="362.5" r="1.7" fill="url(#gy)"/><circle cx="609.1" cy="362.5" r="1.7" fill="url(#gr)"/><circle cx="611.6" cy="362.5" r="1.7" fill="url(#gy)"/><circle cx="614.2" cy="362.5" r="1.7" fill="url(#gr)"/><circle cx="616.7" cy="362.5" r="1.7" fill="url(#gy)"/><circle cx="619.3" cy="362.5" r="1.7" fill="url(#gr)"/><circle cx="621.8" cy="362.5" r="1.7" fill="url(#gy)"/><circle cx="624.4" cy="362.5" r="1.7" fill="url(#gr)"/><circle cx="626.9" cy="362.5" r="1.7" fill="url(#gy)"/><circle cx="629.5" cy="362.5" r="1.7" fill="url(#gr)"/><circle cx="632.0" cy="362.5" r="1.7" fill="url(#gy)"/><circle cx="634.6" cy="362.5" r="1.7" fill="url(#gr)"/><circle cx="637.1" cy="362.5" r="1.7" fill="url(#gy)"/><circle cx="639.7" cy="362.5" r="1.7" fill="url(#gr)"/><circle cx="642.2" cy="362.5" r="1.7" fill="url(#gy)"/><circle cx="644.8" cy="362.5" r="1.7" fill="url(#gr)"/><circle cx="647.3" cy="362.5" r="1.7" fill="url(#gy)"/><circle cx="649.9" cy="362.5" r="1.7" fill="url(#gr)"/><circle cx="652.4" cy="362.5" r="1.7" fill="url(#gy)"/><circle cx="655.0" cy="362.5" r="1.7" fill="url(#gr)"/><circle cx="657.5" cy="362.5" r="1.7" fill="url(#gy)"/><circle cx="660.1" cy="362.5" r="1.7" fill="url(#gr)"/><circle cx="662.6" cy="362.5" r="1.7" fill="url(#gy)"/><circle cx="665.2" cy="362.5" r="1.7" fill="url(#gr)"/><circle cx="667.7" cy="362.5" r="1.7" fill="url(#gy)"/><circle cx="670.3" cy="362.5" r="1.7" fill="url(#gr)"/><circle cx="672.8" cy="362.5" r="1.7" fill="url(#gy)"/><circle cx="675.4" cy="362.5" r="1.7" fill="url(#gr)"/><circle cx="677.9" cy="362.5" r="1.7" fill="url(#gy)"/><circle cx="680.5" cy="362.5" r="1.7" fill="url(#gr)"/><circle cx="683.0" cy="362.5" r="1.7" fill="url(#gy)"/><circle cx="685.6" cy="362.5" r="1.7" fill="url(#gr)"/><circle cx="688.1" cy="362.5" r="1.7" fill="url(#gy)"/><circle cx="595.1" cy="358.7" r="1.85" fill="url(#gr)"/><circle cx="600.2" cy="358.7" r="1.85" fill="url(#gr)"/><circle cx="605.3" cy="358.7" r="1.85" fill="url(#gr)"/><circle cx="610.4" cy="358.7" r="1.85" fill="url(#gr)"/><circle cx="615.5" cy="358.7" r="1.85" fill="url(#gr)"/><circle cx="620.6" cy="358.7" r="1.85" fill="url(#gr)"/><circle cx="625.7" cy="358.7" r="1.85" fill="url(#gr)"/><circle cx="630.8" cy="358.7" r="1.85" fill="url(#gr)"/><circle cx="635.9" cy="358.7" r="1.85" fill="url(#gr)"/><circle cx="641.0" cy="358.7" r="1.85" fill="url(#gr)"/><circle cx="646.1" cy="358.7" r="1.85" fill="url(#gr)"/><circle cx="651.2" cy="358.7" r="1.85" fill="url(#gr)"/><circle cx="656.3" cy="358.7" r="1.85" fill="url(#gr)"/><circle cx="661.4" cy="358.7" r="1.85" fill="url(#gr)"/><circle cx="666.5" cy="358.7" r="1.85" fill="url(#gr)"/><circle cx="671.6" cy="358.7" r="1.85" fill="url(#gr)"/><circle cx="676.7" cy="358.7" r="1.85" fill="url(#gr)"/><circle cx="681.8" cy="358.7" r="1.85" fill="url(#gr)"/><circle cx="686.9" cy="358.7" r="1.85" fill="url(#gr)"/><circle cx="597.0" cy="356.7" r="1.75" fill="url(#gk)"/><circle cx="602.1" cy="356.7" r="1.75" fill="url(#gk)"/><circle cx="607.2" cy="356.7" r="1.75" fill="url(#gk)"/><circle cx="612.3" cy="356.7" r="1.75" fill="url(#gk)"/><circle cx="617.4" cy="356.7" r="1.75" fill="url(#gk)"/><circle cx="622.5" cy="356.7" r="1.75" fill="url(#gk)"/><circle cx="627.6" cy="356.7" r="1.75" fill="url(#gk)"/><circle cx="632.7" cy="356.7" r="1.75" fill="url(#gk)"/><circle cx="637.8" cy="356.7" r="1.75" fill="url(#gk)"/><circle cx="642.9" cy="356.7" r="1.75" fill="url(#gk)"/><circle cx="648.0" cy="356.7" r="1.75" fill="url(#gk)"/><circle cx="653.1" cy="356.7" r="1.75" fill="url(#gk)"/><circle cx="658.2" cy="356.7" r="1.75" fill="url(#gk)"/><circle cx="663.3" cy="356.7" r="1.75" fill="url(#gk)"/><circle cx="668.4" cy="356.7" r="1.75" fill="url(#gk)"/><circle cx="673.5" cy="356.7" r="1.75" fill="url(#gk)"/><circle cx="678.6" cy="356.7" r="1.75" fill="url(#gk)"/><circle cx="683.7" cy="356.7" r="1.75" fill="url(#gk)"/><circle cx="594.3" cy="354.9" r="1.85" fill="url(#gr)"/><circle cx="599.4" cy="354.9" r="1.85" fill="url(#gr)"/><circle cx="604.5" cy="354.9" r="1.85" fill="url(#gr)"/><circle cx="609.6" cy="354.9" r="1.85" fill="url(#gr)"/><circle cx="614.7" cy="354.9" r="1.85" fill="url(#gr)"/><circle cx="619.8" cy="354.9" r="1.85" fill="url(#gr)"/><circle cx="624.9" cy="354.9" r="1.85" fill="url(#gr)"/><circle cx="630.0" cy="354.9" r="1.85" fill="url(#gr)"/><circle cx="635.1" cy="354.9" r="1.85" fill="url(#gr)"/><circle cx="640.2" cy="354.9" r="1.85" fill="url(#gr)"/><circle cx="645.3" cy="354.9" r="1.85" fill="url(#gr)"/><circle cx="650.4" cy="354.9" r="1.85" fill="url(#gr)"/><circle cx="655.5" cy="354.9" r="1.85" fill="url(#gr)"/><circle cx="660.6" cy="354.9" r="1.85" fill="url(#gr)"/><circle cx="665.7" cy="354.9" r="1.85" fill="url(#gr)"/><circle cx="670.8" cy="354.9" r="1.85" fill="url(#gr)"/><circle cx="675.9" cy="354.9" r="1.85" fill="url(#gr)"/><circle cx="681.0" cy="354.9" r="1.85" fill="url(#gr)"/><circle cx="686.1" cy="354.9" r="1.85" fill="url(#gr)"/><circle cx="595.5" cy="351.3" r="1.7" fill="url(#gy)"/><circle cx="598.0" cy="351.3" r="1.7" fill="url(#gr)"/><circle cx="600.6" cy="351.3" r="1.7" fill="url(#gy)"/><circle cx="603.1" cy="351.3" r="1.7" fill="url(#gr)"/><circle cx="605.7" cy="351.3" r="1.7" fill="url(#gy)"/><circle cx="608.2" cy="351.3" r="1.7" fill="url(#gr)"/><circle cx="610.8" cy="351.3" r="1.7" fill="url(#gy)"/><circle cx="613.3" cy="351.3" r="1.7" fill="url(#gr)"/><circle cx="615.9" cy="351.3" r="1.7" fill="url(#gy)"/><circle cx="618.4" cy="351.3" r="1.7" fill="url(#gr)"/><circle cx="621.0" cy="351.3" r="1.7" fill="url(#gy)"/><circle cx="623.5" cy="351.3" r="1.7" fill="url(#gr)"/><circle cx="626.1" cy="351.3" r="1.7" fill="url(#gy)"/><circle cx="628.6" cy="351.3" r="1.7" fill="url(#gr)"/><circle cx="631.2" cy="351.3" r="1.7" fill="url(#gy)"/><circle cx="633.7" cy="351.3" r="1.7" fill="url(#gr)"/><circle cx="636.3" cy="351.3" r="1.7" fill="url(#gy)"/><circle cx="638.8" cy="351.3" r="1.7" fill="url(#gr)"/><circle cx="641.4" cy="351.3" r="1.7" fill="url(#gy)"/><circle cx="643.9" cy="351.3" r="1.7" fill="url(#gr)"/><circle cx="646.5" cy="351.3" r="1.7" fill="url(#gy)"/><circle cx="649.0" cy="351.3" r="1.7" fill="url(#gr)"/><circle cx="651.6" cy="351.3" r="1.7" fill="url(#gy)"/><circle cx="654.1" cy="351.3" r="1.7" fill="url(#gr)"/><circle cx="656.7" cy="351.3" r="1.7" fill="url(#gy)"/><circle cx="659.2" cy="351.3" r="1.7" fill="url(#gr)"/><circle cx="661.8" cy="351.3" r="1.7" fill="url(#gy)"/><circle cx="664.3" cy="351.3" r="1.7" fill="url(#gr)"/><circle cx="666.9" cy="351.3" r="1.7" fill="url(#gy)"/><circle cx="669.4" cy="351.3" r="1.7" fill="url(#gr)"/><circle cx="672.0" cy="351.3" r="1.7" fill="url(#gy)"/><circle cx="674.5" cy="351.3" r="1.7" fill="url(#gr)"/><circle cx="677.1" cy="351.3" r="1.7" fill="url(#gy)"/><circle cx="679.6" cy="351.3" r="1.7" fill="url(#gr)"/><circle cx="682.2" cy="351.3" r="1.7" fill="url(#gy)"/><circle cx="684.7" cy="351.3" r="1.7" fill="url(#gr)"/><circle cx="687.3" cy="351.3" r="1.7" fill="url(#gy)"/><circle cx="590.0" cy="307.6" r="2.3" fill="url(#gu)"/><circle cx="594.6" cy="307.6" r="2.3" fill="url(#gu)"/><circle cx="599.2" cy="307.6" r="2.3" fill="url(#gu)"/><circle cx="603.8" cy="307.6" r="2.3" fill="url(#gu)"/><circle cx="608.4" cy="307.6" r="2.3" fill="url(#gu)"/><circle cx="613.0" cy="307.6" r="2.3" fill="url(#gu)"/><circle cx="617.6" cy="307.6" r="2.3" fill="url(#gu)"/><circle cx="622.2" cy="307.6" r="2.3" fill="url(#gu)"/><circle cx="626.8" cy="307.6" r="2.3" fill="url(#gu)"/><circle cx="631.4" cy="307.6" r="2.3" fill="url(#gu)"/><circle cx="636.0" cy="307.6" r="2.3" fill="url(#gu)"/><circle cx="640.6" cy="307.6" r="2.3" fill="url(#gu)"/><circle cx="645.2" cy="307.6" r="2.3" fill="url(#gu)"/><circle cx="649.8" cy="307.6" r="2.3" fill="url(#gu)"/><circle cx="654.4" cy="307.6" r="2.3" fill="url(#gu)"/><circle cx="659.0" cy="307.6" r="2.3" fill="url(#gu)"/><circle cx="663.6" cy="307.6" r="2.3" fill="url(#gu)"/><circle cx="668.2" cy="307.6" r="2.3" fill="url(#gu)"/><circle cx="672.8" cy="307.6" r="2.3" fill="url(#gu)"/><circle cx="677.4" cy="307.6" r="2.3" fill="url(#gu)"/><circle cx="682.0" cy="307.6" r="2.3" fill="url(#gu)"/><circle cx="686.6" cy="307.6" r="2.3" fill="url(#gu)"/><circle cx="589.6" cy="327.2" r="2.0" fill="url(#gc)"/><circle cx="594.7" cy="327.2" r="2.0" fill="url(#gc)"/><circle cx="599.8" cy="327.2" r="2.0" fill="url(#gc)"/><circle cx="604.9" cy="327.2" r="2.0" fill="url(#gc)"/><circle cx="610.0" cy="327.2" r="2.0" fill="url(#gc)"/><circle cx="615.1" cy="327.2" r="2.0" fill="url(#gc)"/><circle cx="620.2" cy="327.2" r="2.0" fill="url(#gc)"/><circle cx="625.3" cy="327.2" r="2.0" fill="url(#gc)"/><circle cx="630.4" cy="327.2" r="2.0" fill="url(#gc)"/><circle cx="635.5" cy="327.2" r="2.0" fill="url(#gc)"/><circle cx="640.6" cy="327.2" r="2.0" fill="url(#gc)"/><circle cx="645.7" cy="327.2" r="2.0" fill="url(#gc)"/><circle cx="650.8" cy="327.2" r="2.0" fill="url(#gc)"/><circle cx="655.9" cy="327.2" r="2.0" fill="url(#gc)"/><circle cx="661.0" cy="327.2" r="2.0" fill="url(#gc)"/><circle cx="666.1" cy="327.2" r="2.0" fill="url(#gc)"/><circle cx="671.2" cy="327.2" r="2.0" fill="url(#gc)"/><circle cx="676.3" cy="327.2" r="2.0" fill="url(#gc)"/><circle cx="681.4" cy="327.2" r="2.0" fill="url(#gc)"/><circle cx="686.5" cy="327.2" r="2.0" fill="url(#gc)"/><circle cx="591.1" cy="346.8" r="2.0" fill="url(#gc)"/><circle cx="596.2" cy="346.8" r="2.0" fill="url(#gc)"/><circle cx="601.3" cy="346.8" r="2.0" fill="url(#gc)"/><circle cx="606.4" cy="346.8" r="2.0" fill="url(#gc)"/><circle cx="611.5" cy="346.8" r="2.0" fill="url(#gc)"/><circle cx="616.6" cy="346.8" r="2.0" fill="url(#gc)"/><circle cx="621.7" cy="346.8" r="2.0" fill="url(#gc)"/><circle cx="626.8" cy="346.8" r="2.0" fill="url(#gc)"/><circle cx="631.9" cy="346.8" r="2.0" fill="url(#gc)"/><circle cx="637.0" cy="346.8" r="2.0" fill="url(#gc)"/><circle cx="642.1" cy="346.8" r="2.0" fill="url(#gc)"/><circle cx="647.2" cy="346.8" r="2.0" fill="url(#gc)"/><circle cx="652.3" cy="346.8" r="2.0" fill="url(#gc)"/><circle cx="657.4" cy="346.8" r="2.0" fill="url(#gc)"/><circle cx="662.5" cy="346.8" r="2.0" fill="url(#gc)"/><circle cx="667.6" cy="346.8" r="2.0" fill="url(#gc)"/><circle cx="672.7" cy="346.8" r="2.0" fill="url(#gc)"/><circle cx="677.8" cy="346.8" r="2.0" fill="url(#gc)"/><circle cx="682.9" cy="346.8" r="2.0" fill="url(#gc)"/><circle cx="688.0" cy="346.8" r="2.0" fill="url(#gc)"/><circle cx="592.6" cy="366.3" r="2.0" fill="url(#gc)"/><circle cx="597.7" cy="366.3" r="2.0" fill="url(#gc)"/><circle cx="602.8" cy="366.3" r="2.0" fill="url(#gc)"/><circle cx="607.9" cy="366.3" r="2.0" fill="url(#gc)"/><circle cx="613.0" cy="366.3" r="2.0" fill="url(#gc)"/><circle cx="618.1" cy="366.3" r="2.0" fill="url(#gc)"/><circle cx="623.2" cy="366.3" r="2.0" fill="url(#gc)"/><circle cx="628.3" cy="366.3" r="2.0" fill="url(#gc)"/><circle cx="633.4" cy="366.3" r="2.0" fill="url(#gc)"/><circle cx="638.5" cy="366.3" r="2.0" fill="url(#gc)"/><circle cx="643.6" cy="366.3" r="2.0" fill="url(#gc)"/><circle cx="648.7" cy="366.3" r="2.0" fill="url(#gc)"/><circle cx="653.8" cy="366.3" r="2.0" fill="url(#gc)"/><circle cx="658.9" cy="366.3" r="2.0" fill="url(#gc)"/><circle cx="664.0" cy="366.3" r="2.0" fill="url(#gc)"/><circle cx="669.1" cy="366.3" r="2.0" fill="url(#gc)"/><circle cx="674.2" cy="366.3" r="2.0" fill="url(#gc)"/><circle cx="679.3" cy="366.3" r="2.0" fill="url(#gc)"/><circle cx="684.4" cy="366.3" r="2.0" fill="url(#gc)"/></g><path d="M693.3 19.2H699.3V76.7H693.3M699.3 48.0H708.5" fill="none" stroke="#4a5aa8" stroke-width="1.5"/><path d="M693.3 81.1H699.3V306.6H693.3M699.3 193.9H708.5" fill="none" stroke="#4a5aa8" stroke-width="1.5"/><path d="M693.3 307.9H699.3V367.2H693.3M699.3 337.5H708.5" fill="none" stroke="#4a5aa8" stroke-width="1.5"/><path d="M590 371V380.3H688V371M640.6 380.3V388.8" fill="none" stroke="#4a5aa8" stroke-width="1.5"/><text x="713" y="53.2" font-size="14.1" textLength="31" lengthAdjust="spacingAndGlyphs" fill="#1e1e1e">30 Å</text><text x="716.2" y="200.3" font-size="14.1" textLength="38.4" lengthAdjust="spacingAndGlyphs" fill="#1e1e1e">120 Å</text><text x="715.8" y="345" font-size="14.1" textLength="30.3" lengthAdjust="spacingAndGlyphs" fill="#1e1e1e">30 Å</text><text x="619.6" y="405.2" font-size="13.8" textLength="44.2" lengthAdjust="spacingAndGlyphs" fill="#1e1e1e">52.1 Å</text>
</svg></body></html>
